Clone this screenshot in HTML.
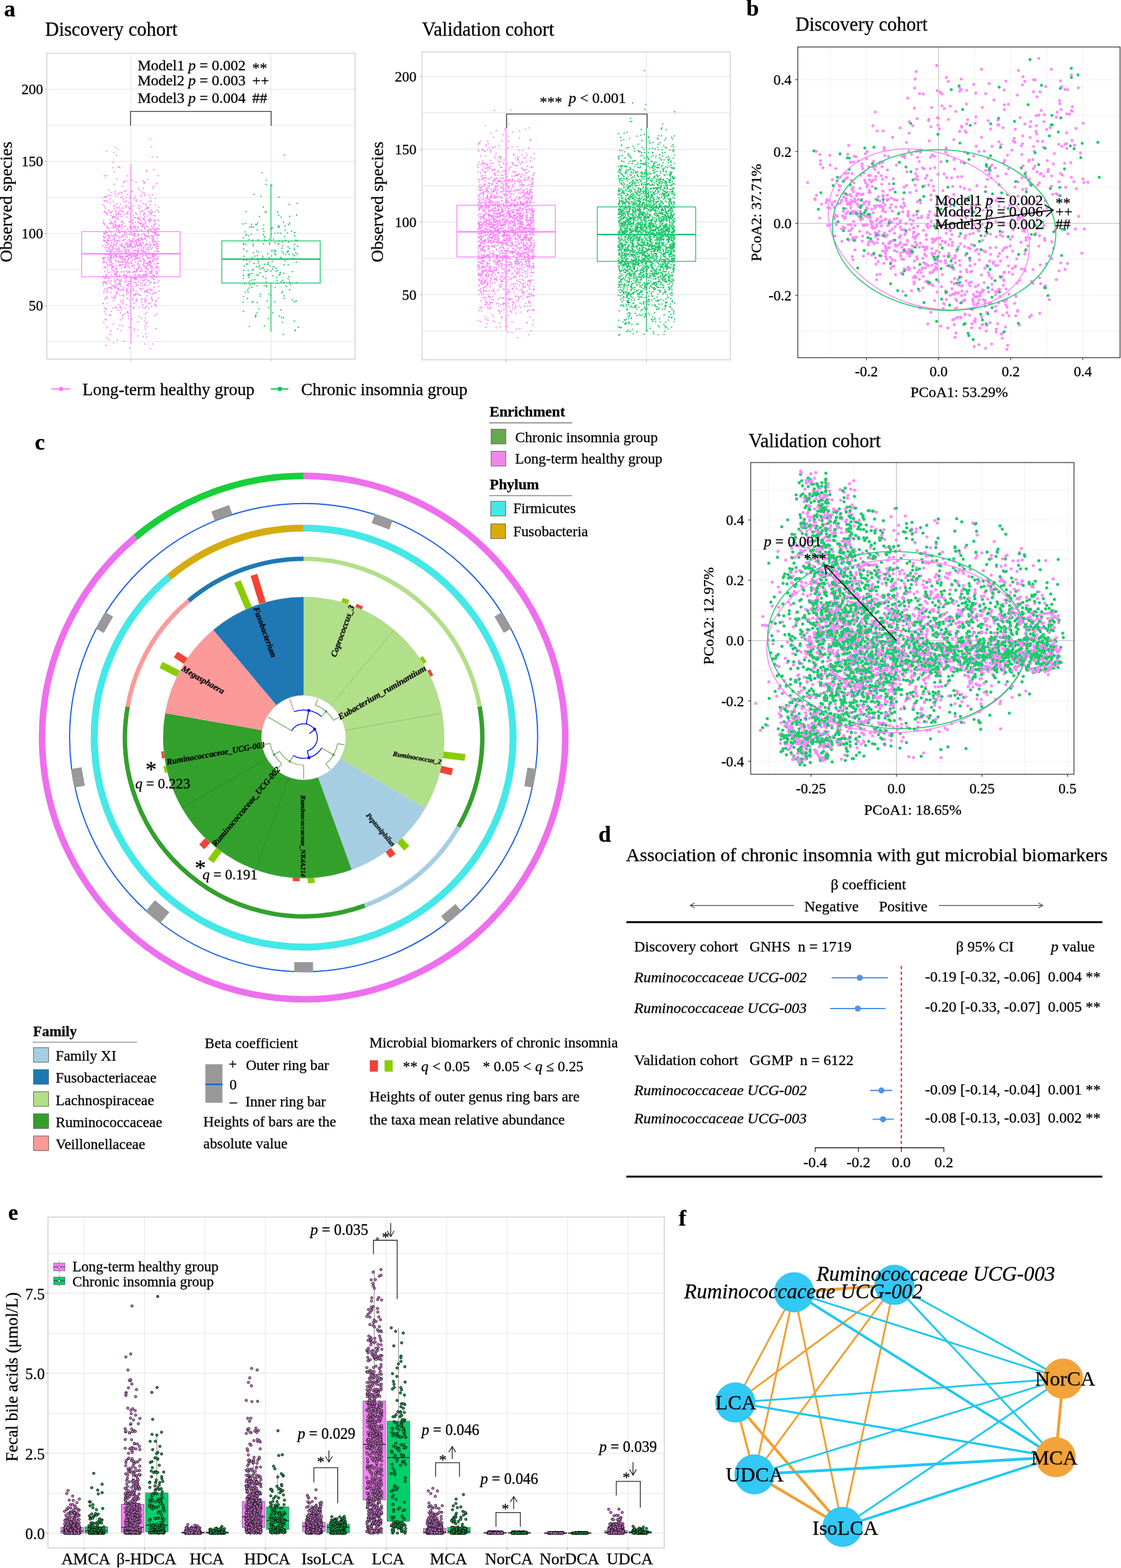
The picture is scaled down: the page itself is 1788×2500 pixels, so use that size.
<!DOCTYPE html><html><head><meta charset="utf-8"><title>Figure</title><style>html,body{margin:0;padding:0;background:#fff}svg{display:block}text{stroke:#000;stroke-width:0.3px;stroke-linejoin:round;font-family:'Liberation Serif', 'Times New Roman', serif}</style></head><body>
<svg width="1788" height="2500" viewBox="0 0 1788 2500">
<rect width="1788" height="2500" fill="#fff"/>
<text x="6.5" y="26.3" font-size="36" font-weight="bold">a</text>
<text x="72" y="57.3" font-size="30.5">Discovery cohort</text>
<line x1="74.7" y1="544.8" x2="566.4" y2="544.8" stroke="#E3E3E3" stroke-width="1.1"/>
<line x1="74.7" y1="487.3" x2="566.4" y2="487.3" stroke="#E3E3E3" stroke-width="1.1"/>
<line x1="74.7" y1="429.8" x2="566.4" y2="429.8" stroke="#E3E3E3" stroke-width="1.1"/>
<line x1="74.7" y1="372.3" x2="566.4" y2="372.3" stroke="#E3E3E3" stroke-width="1.1"/>
<line x1="74.7" y1="314.8" x2="566.4" y2="314.8" stroke="#E3E3E3" stroke-width="1.1"/>
<line x1="74.7" y1="257.3" x2="566.4" y2="257.3" stroke="#E3E3E3" stroke-width="1.1"/>
<line x1="74.7" y1="199.8" x2="566.4" y2="199.8" stroke="#E3E3E3" stroke-width="1.1"/>
<line x1="74.7" y1="142.3" x2="566.4" y2="142.3" stroke="#E3E3E3" stroke-width="1.1"/>
<line x1="208.7" y1="85" x2="208.7" y2="572.6" stroke="#E3E3E3" stroke-width="1.1"/>
<line x1="432.2" y1="85" x2="432.2" y2="572.6" stroke="#E3E3E3" stroke-width="1.1"/>
<rect x="74.7" y="85" width="491.7" height="487.6" fill="none" stroke="#CCCCCC" stroke-width="1.3"/>
<text x="68.8" y="495.3" font-size="23" text-anchor="end">50</text>
<line x1="71" y1="487.3" x2="74.7" y2="487.3" stroke="#BBBBBB" stroke-width="1.2"/>
<text x="68.8" y="380.3" font-size="23" text-anchor="end">100</text>
<line x1="71" y1="372.3" x2="74.7" y2="372.3" stroke="#BBBBBB" stroke-width="1.2"/>
<text x="68.8" y="265.3" font-size="23" text-anchor="end">150</text>
<line x1="71" y1="257.3" x2="74.7" y2="257.3" stroke="#BBBBBB" stroke-width="1.2"/>
<text x="68.8" y="150.3" font-size="23" text-anchor="end">200</text>
<line x1="71" y1="142.3" x2="74.7" y2="142.3" stroke="#BBBBBB" stroke-width="1.2"/>
<line x1="208.7" y1="572.6" x2="208.7" y2="576.3" stroke="#BBBBBB" stroke-width="1.2"/>
<line x1="432.2" y1="572.6" x2="432.2" y2="576.3" stroke="#BBBBBB" stroke-width="1.2"/>
<text x="19" y="322" font-size="27.6" text-anchor="middle" transform="rotate(-90 19 322)">Observed species</text>
<line x1="208.7" y1="261" x2="208.7" y2="369.3" stroke="#FF80FF" stroke-width="1.3"/>
<line x1="208.7" y1="441.4" x2="208.7" y2="548.5" stroke="#FF80FF" stroke-width="1.3"/>
<rect x="130.2" y="369.3" width="157" height="72.1" fill="#fff" stroke="#FF80FF" stroke-width="1.3"/>
<line x1="130.2" y1="404.6" x2="287.2" y2="404.6" stroke="#FF80FF" stroke-width="2.2"/>
<line x1="432.2" y1="293.6" x2="432.2" y2="384.1" stroke="#16C666" stroke-width="1.3"/>
<line x1="432.2" y1="451.3" x2="432.2" y2="528.9" stroke="#16C666" stroke-width="1.3"/>
<rect x="353.7" y="384.1" width="157" height="67.2" fill="#fff" stroke="#16C666" stroke-width="1.3"/>
<line x1="353.7" y1="413.2" x2="510.7" y2="413.2" stroke="#16C666" stroke-width="2.2"/>
<path d="M250.4 479.8h0M223.6 337.6h0M251.5 450.6h0M189.3 418.2h0M227.2 408.5h0M213.1 443.7h0M183.8 476.9h0M176.8 370.2h0M221.2 385.4h0M205.2 507.8h0M203.1 280.3h0M195.8 353.3h0M182.7 444.7h0M248.3 356.8h0M217.4 429.2h0M175.1 407.7h0M207.3 362.8h0M191.3 471.0h0M198.7 374.0h0M236.0 330.5h0M251.2 334.6h0M210.1 420.4h0M179.2 356.7h0M231.9 490.3h0M165.7 412.9h0M220.8 380.7h0M203.5 475.6h0M193.7 408.8h0M168.1 313.3h0M188.8 266.0h0M170.8 363.4h0M233.9 360.7h0M192.2 455.2h0M244.0 468.5h0M230.7 479.2h0M233.5 375.9h0M253.1 364.7h0M252.5 439.3h0M221.5 469.5h0M209.0 390.9h0M206.6 387.9h0M218.4 411.4h0M204.2 337.3h0M186.5 409.4h0M202.1 408.0h0M241.1 463.1h0M179.3 397.3h0M168.3 333.2h0M252.3 401.3h0M229.5 400.7h0M219.8 381.6h0M193.6 389.8h0M194.6 376.4h0M196.0 376.1h0M165.3 371.8h0M224.6 446.6h0M185.9 388.6h0M241.7 489.3h0M250.7 390.4h0M214.3 471.2h0M190.3 408.3h0M225.3 379.4h0M178.8 426.4h0M233.4 399.3h0M231.6 491.3h0M241.3 449.8h0M169.1 368.1h0M207.6 465.6h0M243.1 370.1h0M206.4 477.9h0M207.7 452.5h0M197.2 462.4h0M242.8 404.1h0M231.1 376.2h0M212.1 460.9h0M184.5 414.1h0M217.9 318.7h0M190.9 421.3h0M177.4 447.7h0M173.4 384.0h0M243.7 416.3h0M212.0 441.6h0M204.6 499.5h0M241.8 361.2h0M242.4 434.7h0M225.4 404.5h0M167.1 460.8h0M227.7 335.6h0M252.0 364.9h0M194.2 352.6h0M175.1 410.3h0M245.2 379.7h0M194.8 357.4h0M210.8 350.4h0M171.7 388.0h0M233.8 407.8h0M199.3 423.5h0M200.8 444.1h0M192.1 455.6h0M246.1 385.5h0M237.9 417.4h0M192.1 510.1h0M195.0 412.7h0M229.4 348.2h0M239.5 419.1h0M176.2 502.5h0M163.7 411.1h0M215.5 363.0h0M240.1 393.8h0M253.1 427.1h0M193.0 306.7h0M201.2 304.0h0M209.4 409.7h0M245.3 361.5h0M216.1 383.7h0M185.2 363.2h0M182.8 327.6h0M184.4 361.1h0M220.4 399.9h0M227.5 439.1h0M229.5 447.4h0M214.8 405.9h0M185.6 343.2h0M250.2 388.6h0M187.5 401.7h0M191.5 390.9h0M232.9 402.6h0M170.8 375.6h0M208.3 463.9h0M210.0 509.0h0M250.1 427.0h0M172.0 465.3h0M215.4 319.1h0M251.6 412.9h0M194.9 417.9h0M227.6 485.9h0M251.9 389.6h0M230.5 437.5h0M180.1 345.2h0M185.8 360.0h0M215.3 445.5h0M165.1 382.8h0M244.0 548.5h0M202.2 440.1h0M239.9 338.6h0M171.9 362.7h0M236.1 395.2h0M207.0 406.0h0M180.7 479.6h0M225.7 476.4h0M209.4 392.7h0M223.8 311.3h0M195.9 519.3h0M201.6 371.3h0M228.9 372.7h0M216.3 354.2h0M190.5 450.5h0M223.4 432.5h0M220.7 402.1h0M177.4 458.9h0M216.0 469.5h0M163.9 451.2h0M247.3 408.3h0M234.2 384.7h0M218.0 405.8h0M247.3 400.4h0M178.7 440.7h0M231.6 442.6h0M193.3 345.2h0M209.8 407.4h0M243.9 408.9h0M182.3 355.0h0M189.6 339.0h0M195.9 337.2h0M223.2 383.0h0M207.4 407.2h0M224.2 389.2h0M198.6 395.0h0M252.8 330.6h0M173.0 389.1h0M208.6 370.7h0M169.5 406.0h0M207.5 332.0h0M220.1 513.1h0M189.2 384.4h0M187.3 364.5h0M170.1 465.8h0M231.1 290.7h0M220.3 412.4h0M195.0 413.0h0M170.8 461.6h0M245.8 358.1h0M207.0 392.6h0M239.2 435.8h0M232.0 392.5h0M236.2 368.2h0M187.8 340.2h0M225.5 393.1h0M234.4 455.5h0M207.3 433.9h0M219.8 526.1h0M215.2 443.2h0M193.6 365.5h0M226.5 379.9h0M171.5 410.2h0M222.2 422.6h0M196.8 320.7h0M200.5 389.6h0M212.1 356.4h0M178.7 383.6h0M169.5 439.9h0M199.6 322.2h0M213.4 470.0h0M219.0 467.8h0M240.9 427.2h0M171.3 443.1h0M182.4 434.0h0M185.4 436.2h0M246.0 352.3h0M188.1 401.6h0M212.9 385.9h0M207.5 488.5h0M198.3 449.3h0M214.4 347.1h0M239.1 468.2h0M189.2 342.2h0M186.4 459.0h0M234.3 388.7h0M190.7 449.3h0M205.0 394.1h0M192.0 452.1h0M199.5 418.1h0M240.0 316.0h0M229.3 424.4h0M195.4 296.8h0M178.1 428.8h0M248.8 466.7h0M176.2 400.5h0M223.6 426.1h0M237.8 311.6h0M194.3 359.0h0M217.5 342.0h0M249.1 371.1h0M233.5 273.8h0M194.6 362.5h0M250.7 376.4h0M193.3 448.4h0M170.3 452.6h0M211.1 394.8h0M230.2 351.7h0M181.4 345.4h0M164.8 454.4h0M245.0 376.4h0M236.2 394.3h0M231.3 463.7h0M235.7 377.4h0M187.7 524.6h0M231.9 390.6h0M182.3 273.8h0M173.0 458.5h0M177.2 403.5h0M222.6 504.7h0M245.0 444.4h0M244.5 364.5h0M202.4 459.6h0M173.7 406.3h0M203.9 423.3h0M190.9 424.5h0M179.7 394.4h0M242.8 378.9h0M169.6 339.4h0M188.5 360.4h0M172.7 434.4h0M166.7 329.7h0M167.0 338.5h0M248.0 487.0h0M205.2 369.3h0M189.0 360.8h0M238.2 353.4h0M240.6 375.6h0M170.3 473.1h0M175.5 418.7h0M235.0 514.0h0M228.6 412.9h0M245.2 297.2h0M235.4 368.4h0M225.9 360.3h0M182.7 431.7h0M175.6 458.2h0M189.3 461.1h0M169.3 397.9h0M191.3 447.0h0M182.5 438.2h0M247.4 344.0h0M180.2 491.3h0M241.8 474.0h0M242.5 431.5h0M234.6 409.8h0M235.6 411.4h0M212.0 478.4h0M229.2 394.2h0M178.3 411.3h0M169.6 385.7h0M201.9 461.8h0M245.7 391.5h0M208.3 392.8h0M202.2 439.4h0M224.2 416.1h0M233.3 433.9h0M191.3 332.7h0M196.0 481.1h0M189.0 494.7h0M240.7 424.5h0M207.4 440.4h0M165.7 426.3h0M225.4 366.5h0M198.3 490.9h0M184.1 449.2h0M243.4 416.3h0M185.9 468.1h0M252.2 384.9h0M224.1 387.0h0M242.8 442.1h0M234.1 498.2h0M166.9 319.8h0M251.4 379.6h0M206.5 382.1h0M171.8 400.7h0M184.8 404.9h0M185.4 360.5h0M197.5 405.3h0M233.4 437.9h0M246.7 367.0h0M200.4 401.3h0M193.4 445.4h0M185.0 452.4h0M228.9 342.8h0M188.8 371.1h0M229.1 300.0h0M224.8 432.4h0M213.8 443.8h0M197.6 383.1h0M187.9 331.5h0M206.0 372.9h0M199.8 381.6h0M211.1 304.7h0M242.1 443.8h0M208.3 470.5h0M168.3 443.9h0M201.6 421.3h0M210.8 384.7h0M245.8 350.4h0M222.3 383.0h0M209.0 323.9h0M208.1 448.3h0M173.4 303.7h0M172.8 447.5h0M240.8 342.6h0M203.6 454.1h0M186.9 386.3h0M230.4 401.8h0M200.1 377.1h0M187.5 364.7h0M224.1 415.8h0M183.5 408.0h0M226.1 391.9h0M182.4 473.5h0M217.2 443.2h0M227.8 490.4h0M202.1 404.2h0M210.5 286.9h0M248.8 365.3h0M201.3 450.3h0M214.8 441.9h0M247.3 352.9h0M171.7 429.6h0M192.4 489.6h0M177.6 458.6h0M224.4 460.3h0M182.3 458.5h0M213.8 368.7h0M227.7 400.8h0M239.3 483.2h0M214.1 433.1h0M216.9 464.7h0M187.5 468.4h0M195.9 484.2h0M184.8 312.1h0M201.5 420.8h0M209.3 374.0h0M190.9 358.5h0M204.0 424.8h0M165.6 376.2h0M174.8 375.9h0M214.9 392.7h0M198.6 289.7h0M207.6 389.5h0M221.4 416.6h0M210.2 370.3h0M203.1 310.4h0M165.4 351.9h0M236.9 429.8h0M213.0 449.9h0M177.6 453.7h0M185.9 439.5h0M248.3 384.1h0M228.2 359.7h0M232.0 524.6h0M206.5 405.5h0M192.6 463.0h0M218.4 368.4h0M174.8 356.1h0M245.5 445.7h0M233.6 428.3h0M202.1 454.8h0M215.2 383.8h0M191.2 489.7h0M253.4 464.0h0M201.5 440.7h0M216.8 339.6h0M208.2 277.4h0M193.5 403.4h0M217.0 469.7h0M170.1 400.6h0M232.9 450.5h0M172.2 380.2h0M203.0 463.4h0M251.3 424.0h0M216.0 405.2h0M242.6 377.0h0M178.0 408.6h0M167.6 337.5h0M237.6 397.9h0M249.6 500.5h0M222.3 355.6h0M229.6 419.9h0M229.6 439.9h0M228.4 324.7h0M211.0 457.1h0M194.8 400.7h0M201.3 442.2h0M235.7 333.0h0M229.5 423.8h0M163.9 392.0h0M196.1 478.2h0M199.3 328.6h0M196.1 461.1h0M175.9 356.3h0M188.2 345.6h0M216.3 339.3h0M183.3 308.5h0M177.1 466.4h0M173.7 383.2h0M241.4 397.2h0M218.6 382.3h0M202.4 346.4h0M198.7 398.7h0M228.4 447.7h0M181.9 409.6h0M205.2 323.1h0M204.9 466.9h0M188.1 400.3h0M184.7 456.4h0M230.1 345.8h0M236.6 491.7h0M238.4 422.5h0M176.2 411.1h0M203.2 398.3h0M169.4 279.6h0M172.0 322.2h0M183.4 459.0h0M217.1 290.3h0M165.3 467.6h0M247.4 503.5h0M171.1 483.8h0M248.6 393.7h0M219.1 376.2h0M170.7 521.5h0M231.6 381.4h0M196.7 418.6h0M235.4 367.1h0M221.2 424.8h0M212.5 356.9h0M215.4 374.6h0M247.8 466.5h0M221.5 328.0h0M212.4 393.3h0M251.6 365.9h0M252.9 337.8h0M181.6 456.1h0M215.2 409.0h0M253.4 448.0h0M230.1 454.4h0M177.1 390.4h0M217.6 386.5h0M231.8 334.1h0M236.7 331.2h0M167.0 405.6h0M166.2 448.8h0M184.1 235.2h0M197.3 290.9h0M195.1 410.1h0M231.1 453.7h0M199.6 426.9h0M214.9 389.6h0M233.7 344.6h0M220.3 353.2h0M242.4 381.5h0M208.7 417.6h0M210.4 395.6h0M246.4 420.9h0M184.8 400.7h0M186.2 410.0h0M185.8 376.7h0M195.5 504.1h0M194.0 422.8h0M251.9 419.9h0M166.0 464.3h0M197.4 413.6h0M188.7 460.2h0M224.2 439.7h0M220.0 419.8h0M167.2 417.9h0M251.0 434.9h0M183.1 346.1h0M198.5 393.9h0M217.6 387.4h0M196.1 392.2h0M199.3 439.8h0M247.1 451.2h0M214.5 360.1h0M235.8 423.2h0M203.0 498.2h0M231.2 520.8h0M203.3 392.8h0M227.3 443.5h0M232.1 408.1h0M232.1 433.4h0M198.5 426.1h0M215.3 413.6h0M195.7 470.5h0M244.0 405.5h0M253.2 352.3h0M189.6 367.7h0M177.9 496.5h0M180.8 475.5h0M211.5 475.0h0M202.5 417.6h0M180.2 359.3h0M208.7 387.4h0M166.8 497.3h0M204.2 401.6h0M235.8 361.8h0M246.8 428.3h0M223.4 303.8h0M244.7 439.0h0M170.6 342.5h0M166.5 280.1h0M197.3 472.0h0M222.3 421.6h0M197.6 374.1h0M241.9 234.6h0M191.7 499.1h0M214.5 374.6h0M233.9 389.4h0M178.6 426.8h0M204.7 448.7h0M231.2 432.3h0M250.7 420.5h0M234.1 471.7h0M238.3 321.2h0M213.2 463.1h0M249.3 427.1h0M232.2 439.5h0M169.2 426.4h0M215.3 399.6h0M200.8 444.6h0M189.0 417.0h0M194.9 313.3h0M219.2 348.6h0M232.7 419.7h0M166.0 356.5h0M186.7 445.2h0M185.4 392.5h0M192.4 480.1h0M233.2 465.0h0M165.1 450.3h0M177.7 339.0h0M220.5 392.3h0M181.8 375.5h0M251.5 396.5h0M183.2 385.1h0M244.6 382.3h0M181.8 364.0h0M181.3 396.0h0M204.8 453.0h0M189.3 446.3h0M241.3 340.3h0M224.6 329.8h0M178.2 374.9h0M213.8 491.5h0M218.6 321.2h0M223.2 387.4h0M181.8 408.4h0M211.1 403.5h0M179.0 424.2h0M230.7 311.5h0M207.1 315.5h0M178.4 460.8h0M171.2 414.5h0M228.3 388.4h0M247.9 337.0h0M175.9 533.0h0M221.3 355.3h0M247.9 316.3h0M227.8 422.2h0M178.7 407.2h0M238.8 338.7h0M217.5 385.1h0M203.0 475.7h0M245.3 467.0h0M188.4 459.8h0M248.1 480.3h0M212.9 405.6h0M249.1 432.8h0M215.3 403.1h0M226.2 367.9h0M173.8 310.6h0M212.3 393.8h0M204.5 504.0h0M220.1 331.6h0M181.1 411.6h0M244.8 343.6h0M219.8 429.2h0M201.0 389.2h0M192.8 412.5h0M186.4 406.7h0M252.7 337.7h0M245.2 440.1h0M241.3 396.7h0M199.6 393.7h0M240.7 426.0h0M206.1 522.0h0M238.6 386.9h0M240.0 555.8h0M246.9 485.1h0M185.1 429.8h0M171.1 382.7h0M227.6 359.7h0M184.1 361.5h0M246.5 373.8h0M229.5 424.7h0M185.1 341.0h0M234.8 419.5h0M208.5 345.9h0M214.1 523.8h0M217.2 455.9h0M250.8 435.9h0M217.3 405.5h0M233.1 532.1h0M209.3 362.2h0M207.5 352.9h0M178.6 363.6h0M225.1 432.7h0M213.1 328.2h0M238.5 434.3h0M225.7 357.2h0M214.4 408.4h0M248.6 406.3h0M229.5 413.5h0M245.3 406.4h0M219.9 346.4h0M181.9 329.0h0M190.3 329.7h0M223.7 357.2h0M247.0 369.9h0M227.5 381.4h0M216.3 312.1h0M220.1 428.7h0M191.0 438.8h0M175.5 402.8h0M169.5 493.6h0M229.8 417.9h0M211.8 408.4h0M228.2 459.7h0M241.6 435.9h0M174.8 368.5h0M191.8 417.5h0M178.5 401.3h0M239.1 350.6h0M215.0 437.8h0M186.1 465.9h0M204.7 407.5h0M227.3 382.8h0M168.9 501.3h0M209.0 370.5h0M236.3 421.9h0M243.4 427.2h0M216.8 450.9h0M210.8 415.1h0M183.9 354.2h0M165.4 377.3h0M190.1 362.3h0M173.0 424.5h0M241.0 320.8h0M165.9 337.5h0M237.9 406.1h0M197.6 544.1h0M204.9 401.8h0M180.4 259.1h0M217.4 407.9h0M175.3 459.0h0M201.3 314.6h0M229.3 437.5h0M167.3 378.7h0M208.8 364.3h0M164.1 482.8h0M185.5 398.1h0M203.9 341.6h0M171.1 422.1h0M236.4 370.2h0M219.3 405.9h0M239.8 350.3h0M227.0 306.7h0M189.2 462.9h0M252.5 419.9h0M185.5 383.8h0M177.6 438.1h0M184.1 448.4h0M190.8 423.0h0M241.2 418.9h0M234.2 439.3h0M202.1 387.2h0M216.4 361.8h0M203.8 365.1h0M216.0 368.6h0M208.8 341.4h0M218.2 476.8h0M218.5 410.7h0M189.7 394.5h0M195.8 376.7h0M184.0 490.0h0M198.1 305.0h0M227.0 451.6h0M236.0 390.5h0M219.5 365.5h0M185.4 347.0h0M173.6 440.8h0M238.9 433.2h0M208.4 384.9h0M231.0 373.4h0M224.4 356.2h0M191.4 407.5h0M220.2 441.2h0M168.2 475.1h0M176.4 312.1h0M167.7 477.2h0M198.7 367.4h0M181.9 389.7h0M243.1 364.1h0M177.6 353.9h0M182.0 332.9h0M177.9 407.5h0M207.8 383.3h0M226.1 507.7h0M219.0 401.9h0M205.3 452.3h0M238.4 412.4h0M176.0 338.8h0M226.3 398.6h0M223.3 346.6h0M174.3 414.9h0M176.2 383.1h0M167.7 426.1h0M170.8 538.9h0M249.7 442.0h0M204.3 418.3h0M184.1 395.9h0M173.1 404.1h0M192.2 410.9h0M184.1 354.0h0M198.8 371.1h0M180.4 425.2h0M184.4 358.0h0M167.9 509.2h0M209.3 419.1h0M205.2 411.9h0M211.0 335.2h0M242.0 432.5h0M225.4 481.9h0M169.8 394.7h0M166.5 314.4h0M199.7 415.1h0M201.2 409.2h0M249.0 414.8h0M201.6 401.2h0M241.7 335.0h0M243.7 300.0h0M238.5 378.9h0M209.7 409.4h0M208.8 305.8h0M236.3 398.6h0M251.0 400.3h0M192.8 422.7h0M206.1 420.4h0M219.5 391.0h0M201.4 418.9h0M180.4 381.6h0M175.5 398.8h0M201.9 374.3h0M210.6 423.9h0M243.9 414.2h0M184.3 390.8h0M219.7 400.0h0M178.3 398.4h0M223.5 341.8h0M239.7 460.4h0M231.9 506.3h0M211.8 365.3h0M237.7 416.4h0M236.2 332.3h0M215.2 408.2h0M230.6 465.5h0M202.2 287.6h0M243.7 382.5h0M221.1 427.6h0M217.1 443.4h0M225.8 374.0h0M191.4 439.5h0M220.6 383.1h0M191.8 342.1h0M242.6 477.2h0M174.1 422.6h0M203.0 378.4h0M214.1 315.9h0M226.2 354.6h0M185.9 427.9h0M164.2 326.5h0M239.9 422.8h0M163.8 412.4h0M187.5 383.9h0M224.6 461.8h0M169.8 241.3h0M170.5 340.6h0M219.5 392.3h0M211.3 434.0h0M170.5 465.3h0M171.9 384.3h0M185.3 367.2h0M167.6 425.1h0M199.2 414.3h0M221.5 374.5h0M244.9 407.2h0M196.2 502.2h0M240.2 368.8h0M169.2 391.2h0M239.8 365.5h0M166.5 444.0h0M232.8 516.5h0M222.4 470.1h0M181.8 388.4h0M182.1 294.2h0M251.8 279.7h0M209.0 388.1h0M231.2 481.3h0M176.2 422.0h0M213.5 380.5h0M212.0 381.1h0M175.5 399.2h0M206.1 333.4h0M224.2 451.8h0M191.0 518.8h0M246.8 450.6h0M234.6 465.7h0M235.8 286.1h0M176.6 414.1h0M217.2 479.8h0M214.5 371.6h0M223.6 351.0h0M252.9 401.4h0M198.6 394.1h0M188.8 350.1h0M190.1 377.0h0M164.0 441.3h0M214.4 373.1h0M164.6 355.1h0M213.7 386.2h0M183.4 358.1h0M248.6 373.3h0M239.8 416.8h0M241.9 412.1h0M166.8 371.8h0M216.9 433.6h0M212.5 343.4h0M207.8 339.9h0M230.3 511.8h0M201.1 408.0h0M244.7 444.1h0M198.3 437.9h0M187.5 396.7h0M175.8 413.3h0M211.6 374.5h0M178.1 387.4h0M247.7 384.8h0M214.9 445.8h0M213.9 422.8h0M233.1 327.2h0M219.8 535.6h0M169.8 313.5h0M214.0 434.1h0M230.1 342.0h0M173.3 541.7h0M233.1 426.6h0M188.6 359.5h0M249.9 396.5h0M175.8 350.7h0M167.0 450.7h0M186.1 434.0h0M216.5 439.0h0M175.5 377.6h0M189.5 380.0h0M206.5 410.9h0M237.3 418.4h0M237.9 419.9h0M250.6 399.8h0M226.4 454.6h0M210.3 407.5h0M199.0 412.0h0M197.3 433.0h0M173.2 434.6h0M239.9 326.3h0M183.4 436.9h0M218.3 382.6h0M195.5 332.1h0M231.7 365.3h0M207.8 403.4h0M241.3 350.8h0M233.7 479.9h0M215.0 469.6h0M231.8 425.4h0M196.4 416.1h0M192.4 409.5h0M183.7 305.0h0M192.5 315.2h0M248.8 406.5h0M204.1 391.0h0M168.8 452.4h0M194.5 387.6h0M252.5 475.5h0M205.7 330.4h0M217.7 431.9h0M183.5 375.0h0M184.0 473.6h0M234.9 330.9h0M165.7 372.1h0M221.1 300.8h0M250.9 400.9h0M212.5 490.2h0M186.8 446.0h0M223.5 470.9h0M169.4 321.0h0M170.0 437.5h0M210.3 444.3h0M184.1 373.0h0M217.4 390.4h0M165.6 378.4h0M179.9 431.0h0M169.4 510.2h0M231.0 476.4h0M235.2 520.6h0M226.0 336.7h0M231.6 356.3h0M240.8 424.3h0M170.6 371.5h0M248.8 368.8h0M169.7 370.8h0M214.7 376.3h0M228.8 357.7h0M214.4 400.1h0M208.8 521.9h0M169.1 550.9h0M173.5 337.5h0M214.4 372.8h0M233.8 537.4h0M243.7 395.2h0M238.9 450.9h0M240.9 433.4h0M187.1 542.2h0M171.1 363.6h0M196.6 408.9h0M207.8 361.2h0M183.1 346.8h0M185.4 336.2h0M196.8 317.1h0M245.4 389.0h0M215.6 392.9h0M184.9 438.2h0M244.0 376.4h0M194.3 417.0h0M201.8 466.7h0M230.5 340.8h0M241.5 366.5h0M181.3 546.6h0M175.0 503.2h0M229.7 416.0h0M171.3 475.5h0M202.6 339.1h0M203.4 394.5h0M206.9 373.8h0M238.5 354.2h0M222.5 332.8h0M177.9 418.5h0M245.2 370.6h0M224.9 390.3h0M219.4 361.2h0M248.6 374.1h0M201.9 327.9h0M184.8 375.0h0M225.1 429.1h0M189.3 397.2h0M202.0 464.0h0M250.0 386.6h0M175.8 323.1h0M248.7 435.8h0M186.0 491.5h0M207.6 407.8h0M171.7 430.5h0M226.2 403.6h0M203.4 435.1h0M212.7 399.4h0M196.2 457.8h0M180.8 320.9h0M203.6 415.6h0M236.9 376.2h0M230.9 363.0h0M235.5 411.7h0M232.0 379.4h0M175.2 416.7h0M214.2 427.3h0M165.5 415.4h0M234.6 377.5h0M183.7 471.0h0M245.5 451.7h0M231.4 446.2h0M176.4 433.6h0M237.8 341.9h0M208.4 405.1h0M251.8 419.7h0M250.4 395.8h0M215.4 347.0h0M208.4 443.2h0M222.4 348.9h0M214.4 527.2h0M216.1 450.4h0M232.4 324.8h0M224.3 320.4h0M250.1 392.7h0M220.8 425.5h0M166.7 359.0h0M234.6 424.5h0M201.7 320.4h0M241.8 339.7h0M212.0 361.7h0M200.9 447.3h0M237.5 350.7h0M199.6 415.6h0M177.7 414.7h0M243.4 424.6h0M185.0 408.4h0M253.6 375.5h0M176.0 357.0h0M166.6 356.8h0M240.1 221.4h0M240.7 419.8h0M188.6 339.9h0M235.2 436.6h0M172.7 411.7h0M203.3 463.1h0M237.5 336.9h0M178.4 387.3h0M173.3 394.1h0M242.9 407.2h0M240.4 351.8h0M194.3 427.3h0M173.7 379.5h0M190.7 266.9h0M219.2 408.2h0M193.4 433.8h0M221.0 454.3h0M246.6 357.2h0M201.2 396.8h0M246.8 440.4h0M233.8 444.6h0M217.2 398.7h0M188.2 453.5h0M228.7 288.8h0M239.8 410.5h0M177.0 409.7h0M223.9 405.1h0M203.5 496.5h0M232.6 477.3h0M170.2 419.5h0M228.9 401.5h0M236.6 466.0h0M188.4 310.0h0M173.1 375.9h0M195.8 331.5h0M243.3 337.9h0M227.8 412.1h0M245.8 270.6h0M179.9 393.6h0M199.4 500.3h0M248.9 524.2h0M174.5 399.9h0M193.4 353.8h0M229.2 396.3h0M189.8 307.9h0M239.9 416.0h0M248.1 370.1h0M170.1 361.0h0M183.3 454.8h0M211.6 383.7h0M230.3 380.7h0M192.1 341.9h0M193.3 335.8h0M180.5 347.8h0M240.5 440.5h0M244.9 361.2h0M176.9 343.3h0M205.3 398.3h0M181.5 360.4h0M190.3 359.4h0M196.9 337.5h0M220.5 396.2h0M172.3 375.0h0M247.2 389.9h0M233.6 396.9h0M167.6 433.0h0M165.1 418.2h0M223.8 460.0h0M216.1 411.0h0M207.8 364.2h0M222.2 367.9h0M230.4 361.1h0M228.7 406.6h0M248.1 327.1h0M200.5 425.0h0M200.6 360.2h0M182.7 378.7h0M165.3 440.3h0M243.6 438.1h0M191.6 361.3h0M200.0 398.8h0M227.7 386.4h0M188.5 238.1h0M191.1 370.8h0M216.1 394.3h0M226.8 361.7h0M227.6 432.4h0M200.7 409.9h0M215.3 377.1h0M166.6 443.8h0M237.3 402.2h0M190.0 410.3h0M167.3 394.8h0M193.6 493.9h0M177.4 306.8h0M183.2 405.1h0M246.9 371.4h0M226.9 455.2h0M202.5 469.5h0M221.0 399.1h0M216.3 417.5h0M188.1 366.1h0M209.5 449.2h0M190.1 452.5h0M165.9 382.8h0M249.8 363.4h0M211.1 351.6h0M182.1 402.0h0M212.3 386.5h0M223.4 442.4h0M185.6 330.8h0M202.2 340.1h0M170.7 341.8h0M188.8 485.3h0M206.0 354.0h0M245.5 439.1h0M252.6 374.5h0M193.2 377.9h0M191.0 336.1h0M166.0 410.7h0M163.7 418.8h0M217.8 454.0h0M242.9 463.4h0M208.2 370.1h0M221.0 448.8h0M203.8 365.5h0M178.7 421.1h0M252.7 431.0h0M251.5 350.4h0M197.1 355.7h0M187.4 453.4h0M222.3 410.1h0M190.8 401.7h0M237.7 366.1h0M186.9 440.2h0M186.4 423.4h0M183.9 407.4h0M174.0 364.9h0M210.5 354.3h0M242.3 430.0h0M193.9 308.9h0M167.8 379.1h0M171.6 443.6h0M213.8 483.5h0M184.7 427.9h0M176.9 527.2h0M175.5 392.0h0M184.2 372.3h0M173.3 334.6h0M250.8 375.4h0M168.7 492.1h0M245.3 416.7h0M231.3 365.0h0M180.7 516.4h0M217.9 445.2h0M194.2 368.9h0M198.9 399.0h0M196.4 508.0h0M231.7 428.6h0M178.8 400.8h0M229.7 292.2h0M182.0 425.1h0M209.1 449.8h0M251.3 388.9h0M209.5 384.2h0M168.4 371.8h0M192.0 325.7h0M215.0 405.3h0M178.4 474.3h0M224.8 399.6h0M230.2 400.9h0M236.3 350.6h0M229.8 357.3h0M168.7 440.5h0M197.7 361.1h0M220.9 348.9h0M237.2 411.6h0M183.8 351.6h0M252.8 392.8h0M222.8 392.2h0M252.0 409.4h0M208.8 359.2h0M242.9 249.8h0M223.2 389.6h0M209.2 463.0h0M223.1 413.8h0M187.4 432.3h0M204.3 384.5h0M243.0 408.9h0M180.2 267.6h0M213.3 362.2h0M173.2 303.3h0M196.8 438.9h0M246.4 412.7h0M250.1 292.9h0M221.7 490.1h0M178.7 394.1h0M208.6 483.4h0M166.2 320.4h0M241.9 476.4h0M216.5 417.7h0M237.5 411.1h0M193.3 490.8h0M234.3 271.2h0M168.0 410.6h0M166.6 314.7h0M222.7 438.5h0M218.0 479.2h0M240.5 390.4h0M222.4 391.8h0M185.9 247.5h0M245.7 457.7h0M237.0 484.5h0M199.4 439.3h0M243.4 386.0h0M237.0 372.2h0M169.0 441.5h0M181.4 420.5h0M219.9 373.2h0M194.0 344.6h0M211.3 433.7h0M196.8 395.3h0M231.2 548.4h0M238.6 453.6h0M223.0 379.7h0M200.2 403.0h0M250.0 412.2h0M175.6 317.2h0M177.6 417.7h0M171.1 460.3h0M238.3 391.3h0M176.6 391.5h0M234.8 463.0h0M228.0 349.4h0M226.1 312.3h0M197.8 433.7h0M193.3 448.7h0M232.3 406.9h0M184.6 336.5h0M202.0 432.3h0M190.0 441.1h0M194.0 433.7h0M240.7 389.7h0M205.9 391.1h0M209.5 411.4h0M229.5 338.8h0M168.6 283.3h0M187.9 433.0h0M239.0 347.3h0M202.6 388.0h0M181.4 243.6h0M169.1 448.9h0M205.6 420.6h0M173.1 396.7h0M226.1 477.8h0M204.5 413.5h0M216.4 364.6h0M243.0 478.9h0M175.3 395.6h0M229.9 307.8h0M205.6 434.0h0M169.4 449.9h0M228.8 536.5h0M194.1 408.2h0M233.9 488.6h0M249.3 372.9h0M165.6 315.3h0M166.7 372.9h0M216.0 444.4h0M219.0 367.8h0M207.2 427.4h0M238.9 462.3h0M226.0 428.9h0M222.0 389.8h0M201.5 421.8h0M232.2 374.6h0M228.4 288.9h0M176.6 370.1h0M181.3 362.5h0M220.7 437.8h0M233.0 332.1h0M243.5 383.9h0M186.3 349.1h0M226.8 443.9h0M201.8 390.3h0M192.5 527.3h0M195.8 421.7h0M235.3 447.5h0M204.5 456.1h0M231.4 311.1h0M165.1 484.2h0M223.4 410.9h0M245.3 410.5h0M253.6 374.9h0M230.1 349.6h0M249.1 488.0h0M214.7 431.8h0M220.1 440.5h0M246.0 366.3h0M232.2 353.7h0M249.5 425.0h0M218.3 432.1h0M252.7 457.0h0M167.2 384.1h0M214.3 315.2h0M195.8 383.5h0M168.5 440.7h0M182.9 447.7h0M219.3 441.3h0M166.6 490.9h0M208.0 311.9h0M191.8 399.8h0M219.1 421.3h0M186.2 285.4h0M181.4 392.0h0M185.8 325.2h0M245.3 389.4h0M179.9 345.5h0M206.0 400.0h0M178.0 423.3h0M225.7 382.1h0M247.5 365.9h0M178.8 346.2h0M193.7 393.2h0M186.0 417.1h0M212.3 423.5h0M169.7 387.6h0M235.2 429.7h0M236.3 421.2h0M221.0 375.3h0M212.0 372.9h0M180.3 377.2h0M197.4 443.5h0M217.3 480.3h0M217.6 389.4h0M190.5 397.9h0M212.8 424.0h0M207.9 393.0h0M253.5 359.0h0M230.3 414.6h0M191.1 382.8h0M179.3 455.7h0M184.1 415.6h0M237.8 448.0h0M247.8 480.6h0M182.6 381.0h0M207.1 554.2h0M175.9 407.4h0M220.4 362.9h0M183.2 383.0h0M201.8 486.1h0M194.8 391.4h0M231.8 501.0h0M175.8 451.0h0M209.8 328.5h0M225.6 395.8h0M198.3 342.0h0M194.4 462.3h0M165.5 514.3h0M173.3 444.0h0M178.7 336.5h0M178.2 355.5h0M216.2 347.7h0M217.9 412.1h0M203.4 409.0h0M199.9 414.9h0M250.6 250.8h0M227.2 399.5h0M243.0 310.7h0M214.1 413.5h0M201.1 331.1h0M235.8 461.4h0M218.5 430.6h0M166.0 385.1h0M251.6 434.2h0M204.7 425.5h0M218.4 412.3h0M205.7 432.4h0" stroke="#FF80FF" stroke-width="2.3" stroke-linecap="round" fill="none"/>
<path d="M455.4 382.9h0M454.5 416.1h0M424.7 287.6h0M424.5 450.0h0M401.8 481.3h0M469.5 389.9h0M446.8 437.7h0M461.9 355.5h0M400.9 413.7h0M413.8 345.2h0M459.7 399.8h0M423.8 443.9h0M426.3 421.1h0M391.3 369.7h0M452.5 435.9h0M450.8 447.0h0M410.8 414.3h0M429.9 389.5h0M444.4 343.5h0M425.0 383.9h0M444.0 362.2h0M393.5 415.0h0M416.3 312.8h0M433.6 295.7h0M444.7 438.4h0M459.5 393.5h0M448.7 411.9h0M443.7 389.6h0M393.3 421.2h0M419.5 441.0h0M432.4 471.0h0M442.8 431.4h0M474.1 405.2h0M452.1 354.1h0M422.4 377.7h0M420.0 427.0h0M395.9 439.3h0M387.8 481.8h0M447.6 372.0h0M457.7 401.8h0M470.0 376.2h0M420.7 368.8h0M388.1 379.3h0M467.4 411.9h0M427.6 421.5h0M425.3 457.2h0M388.7 439.2h0M460.7 386.0h0M424.5 294.3h0M440.2 428.0h0M462.0 396.0h0M453.6 247.4h0M471.7 403.1h0M408.8 425.2h0M469.4 407.7h0M395.3 420.9h0M449.2 505.9h0M454.9 367.4h0M435.0 498.9h0M409.8 438.4h0M432.2 432.2h0M420.4 388.5h0M459.8 422.3h0M401.8 435.8h0M410.2 455.7h0M449.6 400.8h0M421.4 430.3h0M461.9 449.9h0M438.4 481.4h0M401.7 458.0h0M410.9 407.5h0M448.1 493.9h0M388.9 408.7h0M418.8 411.3h0M409.1 358.2h0M473.0 450.7h0M395.7 465.6h0M453.1 421.9h0M398.4 436.6h0M407.8 357.7h0M467.3 405.7h0M402.2 410.8h0M439.1 458.6h0M433.1 399.7h0M440.1 432.3h0M443.0 338.2h0M402.9 383.0h0M448.4 346.4h0M472.5 479.6h0M461.8 462.0h0M388.3 438.9h0M448.2 448.9h0M392.3 337.3h0M434.3 399.6h0M452.7 471.7h0M395.9 431.3h0M461.5 325.9h0M466.5 433.2h0M438.7 387.0h0M407.9 504.1h0M406.4 445.9h0M412.9 425.7h0M402.8 430.7h0M472.6 417.9h0M409.5 400.3h0M444.1 360.2h0M407.4 505.6h0M388.7 414.9h0M411.7 382.4h0M439.6 406.2h0M454.8 360.4h0M430.7 424.4h0M398.5 439.6h0M397.3 459.3h0M438.6 372.2h0M410.3 482.5h0M434.8 439.7h0M405.2 420.2h0M430.1 387.2h0M423.8 432.9h0M391.4 465.6h0M404.1 389.1h0M453.1 476.0h0M424.8 455.3h0M421.7 519.7h0M447.3 410.3h0M411.6 412.4h0M452.0 507.1h0M389.0 431.2h0M403.7 391.9h0M463.3 453.7h0M445.3 504.1h0M436.8 425.3h0M388.8 389.9h0M450.7 514.0h0M421.6 377.8h0M390.2 424.0h0M391.9 374.5h0M388.4 472.8h0M420.1 373.9h0M438.6 404.8h0M429.6 381.4h0M434.2 417.0h0M443.5 371.3h0M414.7 429.1h0M441.0 442.4h0M415.3 472.4h0M410.3 498.9h0M398.2 417.0h0M396.1 437.5h0M435.8 425.8h0M446.6 434.8h0M404.2 403.3h0M427.9 418.2h0M452.9 450.2h0M421.8 382.7h0M445.1 314.5h0M450.7 464.4h0M396.7 442.3h0M474.7 392.5h0M456.5 456.5h0M465.0 368.7h0M399.2 454.0h0M426.2 479.9h0M449.4 466.9h0M410.4 366.4h0M397.7 520.7h0M457.5 412.7h0M470.8 526.5h0M397.4 381.6h0M470.0 398.2h0M445.4 384.7h0M405.5 309.9h0M411.5 420.1h0M460.8 357.9h0M450.9 385.6h0M401.0 362.3h0M442.4 452.1h0M401.3 357.6h0M434.7 429.2h0M424.4 338.5h0M419.3 364.8h0M406.5 408.3h0M436.2 381.3h0M474.3 383.7h0M438.3 398.8h0M417.8 275.3h0M396.8 451.5h0M466.3 478.1h0M394.7 475.9h0M422.0 421.5h0M429.5 411.2h0M393.3 374.3h0M420.6 358.8h0M449.9 395.7h0M393.6 400.5h0M421.5 454.9h0M387.6 357.1h0M423.0 338.1h0M419.1 413.2h0M470.0 371.0h0M388.2 439.0h0M433.0 408.1h0M437.6 401.8h0M434.4 363.5h0M472.3 480.2h0M451.7 403.7h0M445.4 361.9h0M392.3 389.8h0M400.9 373.7h0M451.8 533.2h0M467.0 451.3h0M403.8 429.5h0M442.2 446.9h0M470.9 527.1h0M410.9 355.5h0M388.7 397.0h0M428.2 507.9h0M415.0 434.8h0M419.3 408.6h0M398.3 362.2h0M454.0 377.2h0M395.2 462.4h0M459.7 444.4h0M439.4 400.0h0M403.7 361.8h0M447.3 434.3h0M388.2 443.8h0M472.0 382.8h0M461.2 405.1h0M473.1 343.0h0M388.6 387.9h0M403.4 361.9h0M469.5 512.1h0M403.7 481.6h0M428.5 490.5h0M398.5 448.1h0M469.2 395.8h0M417.5 427.8h0M444.1 388.3h0M390.2 452.6h0M432.9 364.8h0M458.4 371.3h0M408.1 502.5h0M414.9 469.1h0M401.6 446.5h0M432.9 373.6h0M396.2 375.8h0M473.6 324.3h0M412.8 492.3h0M427.0 404.8h0M412.4 416.9h0M427.2 430.4h0M413.8 423.4h0M475.7 522.0h0M412.2 401.8h0M411.9 438.3h0M469.4 481.0h0M462.1 345.0h0M405.8 452.4h0M455.7 405.3h0M402.8 452.6h0M388.3 496.5h0M460.7 440.9h0M459.5 401.3h0M428.6 468.8h0M451.0 391.7h0M419.9 330.2h0M392.2 356.3h0M424.7 432.8h0" stroke="#16C666" stroke-width="2.3" stroke-linecap="round" fill="none"/>
<text x="673.1" y="57.3" font-size="30.5">Validation cohort</text>
<line x1="673.1" y1="527.9" x2="1164.8" y2="527.9" stroke="#E3E3E3" stroke-width="1.1"/>
<line x1="673.1" y1="469.9" x2="1164.8" y2="469.9" stroke="#E3E3E3" stroke-width="1.1"/>
<line x1="673.1" y1="411.9" x2="1164.8" y2="411.9" stroke="#E3E3E3" stroke-width="1.1"/>
<line x1="673.1" y1="353.9" x2="1164.8" y2="353.9" stroke="#E3E3E3" stroke-width="1.1"/>
<line x1="673.1" y1="295.9" x2="1164.8" y2="295.9" stroke="#E3E3E3" stroke-width="1.1"/>
<line x1="673.1" y1="237.9" x2="1164.8" y2="237.9" stroke="#E3E3E3" stroke-width="1.1"/>
<line x1="673.1" y1="179.9" x2="1164.8" y2="179.9" stroke="#E3E3E3" stroke-width="1.1"/>
<line x1="673.1" y1="121.9" x2="1164.8" y2="121.9" stroke="#E3E3E3" stroke-width="1.1"/>
<line x1="807.2" y1="82.8" x2="807.2" y2="573.7" stroke="#E3E3E3" stroke-width="1.1"/>
<line x1="1031.1" y1="82.8" x2="1031.1" y2="573.7" stroke="#E3E3E3" stroke-width="1.1"/>
<rect x="673.1" y="82.8" width="491.7" height="490.9" fill="none" stroke="#CCCCCC" stroke-width="1.3"/>
<text x="664.2" y="477.9" font-size="23" text-anchor="end">50</text>
<line x1="669.4" y1="469.9" x2="673.1" y2="469.9" stroke="#BBBBBB" stroke-width="1.2"/>
<text x="664.2" y="361.9" font-size="23" text-anchor="end">100</text>
<line x1="669.4" y1="353.9" x2="673.1" y2="353.9" stroke="#BBBBBB" stroke-width="1.2"/>
<text x="664.2" y="245.9" font-size="23" text-anchor="end">150</text>
<line x1="669.4" y1="237.9" x2="673.1" y2="237.9" stroke="#BBBBBB" stroke-width="1.2"/>
<text x="664.2" y="129.9" font-size="23" text-anchor="end">200</text>
<line x1="669.4" y1="121.9" x2="673.1" y2="121.9" stroke="#BBBBBB" stroke-width="1.2"/>
<line x1="807.2" y1="573.7" x2="807.2" y2="577.4" stroke="#BBBBBB" stroke-width="1.2"/>
<line x1="1031.1" y1="573.7" x2="1031.1" y2="577.4" stroke="#BBBBBB" stroke-width="1.2"/>
<text x="611" y="322" font-size="27.6" text-anchor="middle" transform="rotate(-90 611 322)">Observed species</text>
<line x1="807.2" y1="204.3" x2="807.2" y2="327.3" stroke="#FF80FF" stroke-width="1.3"/>
<line x1="807.2" y1="409.7" x2="807.2" y2="528.3" stroke="#FF80FF" stroke-width="1.3"/>
<rect x="728.7" y="327.3" width="157" height="82.4" fill="#fff" stroke="#FF80FF" stroke-width="1.3"/>
<line x1="728.7" y1="369.6" x2="885.7" y2="369.6" stroke="#FF80FF" stroke-width="2.2"/>
<line x1="1031.1" y1="204.3" x2="1031.1" y2="329.9" stroke="#16C666" stroke-width="1.3"/>
<line x1="1031.1" y1="416.7" x2="1031.1" y2="529" stroke="#16C666" stroke-width="1.3"/>
<rect x="952.6" y="329.9" width="157" height="86.8" fill="#fff" stroke="#16C666" stroke-width="1.3"/>
<line x1="952.6" y1="373.9" x2="1109.6" y2="373.9" stroke="#16C666" stroke-width="2.2"/>
<path d="M762.4 430.3h0M835.4 363.6h0M805.4 335.3h0M808.3 292.8h0M795.1 366.7h0M773.8 283.4h0M781.7 448.2h0M824.8 381.8h0M765.4 368.7h0M791.4 362.8h0M802.8 376.4h0M846.8 251.6h0M780.3 392.3h0M834.9 304.2h0M813.6 341.0h0M762.7 238.3h0M778.4 381.1h0M841.8 321.8h0M774.3 330.7h0M825.2 340.9h0M778.1 300.7h0M833.5 269.5h0M770.2 432.9h0M848.3 378.2h0M788.5 288.1h0M801.3 436.2h0M770.6 416.0h0M787.7 327.8h0M838.9 321.6h0M821.2 280.3h0M849.8 293.6h0M826.2 351.3h0M792.8 430.5h0M842.7 405.3h0M776.5 364.4h0M788.5 340.4h0M806.0 360.7h0M813.5 313.4h0M803.2 411.4h0M767.3 390.7h0M792.0 445.4h0M843.0 236.5h0M819.6 373.4h0M815.9 301.3h0M831.2 282.9h0M787.3 340.2h0M792.8 374.2h0M845.6 394.1h0M828.7 378.9h0M851.7 471.7h0M809.9 396.3h0M788.6 314.1h0M803.0 344.0h0M836.7 309.7h0M771.0 311.7h0M827.3 317.4h0M783.3 355.0h0M789.1 350.1h0M786.9 303.9h0M795.3 385.3h0M773.5 447.8h0M765.7 309.6h0M798.5 360.3h0M784.6 294.4h0M818.2 403.9h0M767.6 467.3h0M836.1 373.8h0M832.0 403.5h0M815.5 424.1h0M847.6 265.9h0M784.7 345.5h0M790.0 437.6h0M841.2 464.3h0M848.7 369.9h0M775.9 326.4h0M806.4 345.7h0M820.9 289.7h0M812.7 342.8h0M833.2 333.3h0M810.7 483.3h0M806.6 282.3h0M840.4 397.8h0M792.8 304.4h0M850.9 460.9h0M851.0 420.0h0M821.6 288.5h0M778.7 441.0h0M808.1 352.2h0M774.4 387.5h0M798.7 253.0h0M817.0 338.4h0M767.8 281.0h0M839.8 364.6h0M768.8 469.6h0M826.0 234.2h0M836.5 398.6h0M844.4 359.3h0M842.6 364.9h0M810.7 462.0h0M842.5 317.7h0M792.4 387.0h0M781.7 474.1h0M820.1 457.0h0M800.4 507.0h0M841.7 413.3h0M818.2 376.6h0M806.9 424.9h0M836.6 367.3h0M807.9 387.5h0M764.5 333.2h0M821.7 365.8h0M788.5 376.5h0M773.1 417.3h0M797.6 441.2h0M843.8 423.6h0M801.7 342.7h0M829.7 397.1h0M805.6 274.2h0M789.5 315.0h0M823.3 452.7h0M841.7 338.6h0M786.1 288.2h0M844.0 407.8h0M821.2 289.0h0M837.1 413.0h0M814.2 266.6h0M806.4 332.5h0M794.8 381.2h0M823.4 472.4h0M789.9 374.0h0M842.1 414.9h0M819.1 343.8h0M841.5 423.1h0M770.9 337.0h0M822.7 397.4h0M774.0 330.0h0M782.1 315.0h0M842.5 355.8h0M851.8 335.4h0M810.5 297.2h0M791.7 427.1h0M821.3 328.7h0M776.9 351.1h0M841.7 265.0h0M768.1 377.9h0M845.3 304.5h0M782.1 473.9h0M836.8 287.5h0M848.4 339.7h0M791.5 342.0h0M816.1 309.7h0M810.2 446.1h0M842.2 380.7h0M823.1 361.3h0M783.0 386.2h0M809.8 399.4h0M812.8 305.7h0M835.0 364.5h0M774.5 381.8h0M826.9 363.9h0M844.3 283.1h0M774.7 248.8h0M792.5 297.7h0M793.7 334.9h0M771.9 451.4h0M849.0 402.5h0M842.2 425.6h0M816.7 426.5h0M801.9 291.2h0M832.2 405.0h0M836.1 279.7h0M820.4 359.6h0M786.4 375.1h0M814.8 379.6h0M851.0 456.9h0M820.8 392.6h0M848.7 312.9h0M765.9 323.1h0M775.9 356.8h0M831.3 323.5h0M762.9 356.7h0M771.6 341.3h0M802.2 214.7h0M788.4 357.6h0M802.3 475.9h0M823.2 500.0h0M793.4 412.8h0M846.9 353.1h0M824.6 304.2h0M845.2 368.1h0M763.8 358.0h0M778.0 328.3h0M788.7 428.0h0M813.1 369.4h0M771.6 345.3h0M812.2 391.3h0M828.9 418.8h0M800.5 333.0h0M850.6 297.0h0M831.7 361.8h0M841.0 514.5h0M824.9 416.4h0M787.2 393.4h0M830.2 339.4h0M779.4 397.0h0M788.9 394.5h0M785.1 305.7h0M810.9 288.0h0M784.5 362.7h0M763.0 437.2h0M763.9 445.1h0M794.3 327.9h0M762.6 417.6h0M779.5 370.3h0M809.1 380.7h0M846.8 359.6h0M840.6 347.9h0M778.5 434.1h0M849.4 409.9h0M779.5 357.9h0M845.2 367.8h0M763.3 454.9h0M789.2 249.1h0M781.6 457.5h0M777.6 304.1h0M822.0 472.4h0M793.5 309.1h0M781.5 481.7h0M777.2 312.6h0M771.6 359.5h0M841.1 320.2h0M837.6 417.6h0M817.6 354.0h0M847.4 355.2h0M845.0 360.3h0M840.5 405.7h0M793.7 285.1h0M781.6 484.8h0M848.0 467.6h0M832.3 463.2h0M830.4 281.0h0M773.0 426.5h0M830.9 417.0h0M796.5 416.7h0M766.2 390.8h0M793.7 387.2h0M818.0 401.7h0M833.3 466.7h0M807.8 344.6h0M797.0 370.9h0M838.2 275.4h0M821.2 344.5h0M811.6 375.6h0M787.1 461.1h0M851.1 365.2h0M771.7 332.7h0M781.4 265.2h0M798.5 345.3h0M799.4 319.8h0M835.1 332.3h0M846.8 267.2h0M780.4 297.9h0M762.8 366.6h0M845.1 461.2h0M778.0 266.7h0M826.4 364.2h0M797.8 420.3h0M832.2 460.7h0M774.5 481.7h0M773.8 353.4h0M793.6 380.5h0M779.4 350.5h0M772.2 293.1h0M771.3 408.8h0M798.0 351.5h0M837.2 403.6h0M770.5 424.9h0M806.8 511.2h0M799.8 419.6h0M787.4 301.4h0M787.0 402.7h0M787.6 350.9h0M792.1 362.3h0M772.6 241.4h0M789.9 276.9h0M839.3 410.3h0M779.4 396.6h0M777.5 297.0h0M789.0 354.0h0M833.5 362.0h0M806.0 294.3h0M765.6 332.5h0M799.2 358.4h0M815.4 175.8h0M804.3 341.8h0M778.1 452.5h0M845.6 346.5h0M840.6 350.5h0M769.2 260.2h0M832.3 346.4h0M791.8 407.2h0M849.4 343.8h0M814.8 445.0h0M835.7 390.6h0M797.8 345.0h0M762.4 421.9h0M768.0 495.7h0M833.9 434.2h0M826.2 420.0h0M831.3 332.7h0M769.2 399.0h0M790.9 373.9h0M780.3 429.3h0M816.2 365.7h0M801.4 409.9h0M800.4 334.7h0M794.1 355.7h0M801.9 279.5h0M832.7 334.1h0M763.8 391.6h0M846.1 426.3h0M822.1 358.3h0M831.9 325.4h0M843.8 273.7h0M796.3 407.0h0M844.8 455.5h0M836.3 487.9h0M817.6 435.9h0M772.9 385.4h0M822.6 390.9h0M799.7 393.5h0M789.5 376.6h0M827.0 353.2h0M844.6 480.4h0M849.9 371.6h0M812.9 385.3h0M801.5 386.2h0M849.3 402.6h0M817.3 493.3h0M813.7 345.9h0M772.2 405.8h0M803.9 383.3h0M781.6 356.4h0M848.6 373.2h0M820.3 349.8h0M817.0 348.8h0M849.4 434.1h0M767.7 447.8h0M767.1 324.4h0M778.2 424.6h0M827.5 239.7h0M783.8 445.1h0M821.5 365.8h0M820.8 380.4h0M765.0 359.4h0M794.0 435.0h0M821.1 355.7h0M798.9 251.0h0M805.3 410.9h0M797.1 515.1h0M779.6 336.3h0M792.8 350.5h0M802.2 334.6h0M781.7 427.5h0M824.9 350.8h0M829.5 321.1h0M776.9 407.1h0M846.2 373.6h0M802.2 344.4h0M808.3 329.8h0M815.5 391.3h0M795.9 364.3h0M836.0 251.7h0M826.5 249.8h0M805.4 442.4h0M769.1 240.0h0M819.4 400.3h0M786.1 310.0h0M776.5 454.0h0M807.3 389.1h0M794.9 417.6h0M820.5 325.8h0M823.3 364.1h0M831.2 349.7h0M831.0 352.4h0M836.1 364.8h0M781.4 319.8h0M821.8 369.9h0M843.6 382.9h0M825.5 417.4h0M777.3 434.1h0M797.4 411.3h0M821.0 355.0h0M848.1 314.0h0M822.0 385.7h0M826.0 253.2h0M767.8 300.0h0M808.7 375.5h0M849.4 356.0h0M841.0 379.3h0M821.4 492.6h0M819.2 326.9h0M837.4 364.5h0M782.5 482.9h0M763.9 323.1h0M762.5 413.2h0M845.2 393.0h0M817.8 485.6h0M809.1 380.7h0M793.0 351.7h0M826.1 405.1h0M784.5 379.2h0M841.6 497.0h0M786.3 345.9h0M789.3 382.1h0M766.1 381.8h0M851.4 337.2h0M798.8 314.6h0M781.5 384.2h0M847.7 322.7h0M770.6 264.5h0M765.1 447.6h0M803.7 373.8h0M817.3 481.4h0M786.1 358.0h0M847.1 293.9h0M831.5 388.4h0M846.3 451.8h0M832.7 413.8h0M831.1 354.2h0M773.0 474.0h0M809.4 468.5h0M849.6 351.1h0M767.4 465.4h0M794.8 375.6h0M823.9 447.0h0M824.1 480.6h0M842.5 329.3h0M803.3 309.3h0M847.9 429.1h0M784.9 235.0h0M769.6 369.4h0M840.2 346.0h0M805.4 367.4h0M773.6 446.6h0M795.5 313.4h0M790.2 368.9h0M831.8 345.8h0M803.5 368.0h0M763.1 401.9h0M778.7 229.2h0M829.3 349.1h0M800.1 391.1h0M820.4 334.7h0M835.4 452.8h0M806.4 353.4h0M804.9 206.0h0M768.1 418.8h0M789.8 345.2h0M830.2 450.6h0M825.9 374.3h0M840.8 306.0h0M841.6 440.3h0M801.8 435.0h0M834.6 302.9h0M842.8 359.5h0M845.8 334.3h0M847.5 342.6h0M776.0 457.5h0M803.1 484.0h0M794.7 495.3h0M797.2 345.1h0M834.5 466.0h0M781.6 488.6h0M842.9 411.9h0M779.2 386.1h0M798.3 360.2h0M769.1 491.6h0M847.9 293.3h0M839.1 436.7h0M769.5 367.9h0M838.5 380.1h0M767.0 440.0h0M779.1 351.8h0M818.2 355.4h0M799.0 305.4h0M793.9 255.2h0M763.4 241.0h0M800.2 316.0h0M790.7 332.9h0M768.5 398.6h0M849.8 471.0h0M805.6 348.9h0M812.0 412.3h0M783.6 392.6h0M763.0 406.0h0M821.9 348.8h0M844.7 401.1h0M846.6 224.2h0M821.6 319.8h0M836.0 407.3h0M820.9 351.5h0M836.0 285.8h0M789.3 450.5h0M782.4 361.1h0M773.9 408.2h0M817.8 370.6h0M786.9 405.7h0M849.5 362.9h0M850.0 345.2h0M840.1 334.4h0M842.7 468.5h0M779.0 329.2h0M794.9 372.2h0M841.4 414.3h0M767.4 377.6h0M836.8 271.5h0M772.9 383.8h0M805.0 429.1h0M773.8 328.5h0M791.3 386.1h0M823.2 328.3h0M826.5 355.8h0M844.2 285.6h0M811.8 411.1h0M778.4 396.7h0M826.7 302.8h0M825.5 263.7h0M789.4 358.4h0M833.2 294.7h0M850.8 341.5h0M783.6 371.0h0M813.3 477.2h0M769.2 237.6h0M817.2 297.2h0M776.8 516.3h0M806.5 321.2h0M836.9 409.5h0M769.7 436.6h0M791.7 408.2h0M796.5 325.2h0M780.8 375.8h0M809.5 385.7h0M834.3 383.0h0M848.3 396.7h0M848.3 338.6h0M784.8 502.4h0M773.6 457.2h0M809.0 383.2h0M835.2 447.4h0M781.0 362.5h0M767.1 396.7h0M786.5 347.7h0M767.6 383.3h0M779.9 334.2h0M763.8 372.4h0M835.8 325.4h0M802.8 394.0h0M845.9 483.2h0M803.2 370.2h0M787.4 369.2h0M815.2 401.9h0M784.9 306.1h0M829.8 336.3h0M788.5 271.0h0M844.0 392.6h0M763.8 393.5h0M787.6 335.7h0M818.4 273.1h0M766.3 412.0h0M791.5 336.2h0M799.0 369.4h0M852.2 386.5h0M845.6 309.1h0M764.5 311.1h0M785.1 321.5h0M808.5 407.8h0M849.3 366.6h0M830.9 472.8h0M790.2 332.3h0M782.6 448.2h0M806.0 383.3h0M782.8 312.5h0M794.8 381.2h0M812.4 356.4h0M831.2 408.0h0M774.3 200.4h0M838.1 442.6h0M820.7 402.1h0M839.6 373.9h0M811.2 198.1h0M786.5 400.2h0M793.9 360.1h0M813.8 312.4h0M830.5 497.6h0M772.6 305.8h0M835.2 339.1h0M780.8 265.3h0M776.7 263.8h0M766.6 328.6h0M796.8 289.6h0M780.4 400.9h0M808.3 432.1h0M805.7 373.8h0M764.0 346.4h0M763.5 378.4h0M803.4 331.2h0M763.1 317.9h0M832.6 247.2h0M792.5 367.8h0M817.0 387.3h0M821.6 327.2h0M803.9 342.8h0M808.6 319.8h0M766.9 248.5h0M807.2 408.6h0M840.3 309.2h0M785.0 270.1h0M793.1 274.3h0M769.1 449.9h0M808.2 375.7h0M762.8 274.7h0M794.5 355.9h0M838.7 328.1h0M766.1 363.1h0M774.1 274.3h0M810.6 340.8h0M845.5 374.7h0M824.4 350.1h0M776.0 268.2h0M827.5 331.3h0M767.1 460.0h0M812.4 489.5h0M767.6 314.9h0M787.1 465.1h0M808.2 351.3h0M779.2 406.1h0M767.3 347.9h0M763.7 408.5h0M816.8 513.1h0M851.9 275.5h0M816.6 367.1h0M811.3 376.1h0M850.6 266.4h0M830.9 322.0h0M790.6 296.4h0M811.2 379.4h0M774.1 358.4h0M799.8 337.8h0M832.1 404.8h0M791.1 314.6h0M810.1 339.4h0M806.6 386.1h0M785.5 392.3h0M804.1 312.1h0M793.9 377.4h0M764.9 341.4h0M772.7 348.7h0M786.0 379.4h0M767.9 345.0h0M787.5 316.1h0M778.2 407.0h0M797.8 408.8h0M848.5 311.5h0M792.4 442.1h0M773.6 288.8h0M779.9 331.1h0M774.5 279.7h0M795.3 368.6h0M842.6 359.2h0M809.5 348.2h0M762.7 462.6h0M793.9 421.2h0M780.1 296.2h0M806.0 408.5h0M768.2 425.9h0M832.8 345.1h0M789.8 279.5h0M799.1 369.2h0M773.8 382.7h0M818.0 367.4h0M808.1 338.9h0M787.8 464.1h0M850.7 343.0h0M826.1 340.0h0M775.8 299.8h0M802.7 297.6h0M814.1 324.3h0M782.2 238.7h0M848.7 363.7h0M849.2 371.3h0M767.1 262.1h0M778.1 356.5h0M772.9 400.4h0M822.2 398.1h0M852.1 364.7h0M772.6 448.7h0M826.3 301.9h0M832.3 344.7h0M772.0 284.1h0M767.8 428.1h0M790.6 385.8h0M784.3 404.3h0M763.4 330.9h0M830.4 339.8h0M843.8 317.0h0M844.3 320.1h0M784.3 431.7h0M824.1 346.6h0M832.1 358.6h0M830.9 365.3h0M786.3 332.5h0M807.0 482.2h0M843.1 407.5h0M833.3 381.9h0M821.9 417.4h0M765.6 437.4h0M827.5 307.7h0M777.1 311.1h0M816.8 259.6h0M840.2 424.3h0M778.5 510.9h0M801.5 326.1h0M808.2 389.0h0M825.0 435.3h0M848.5 336.6h0M777.0 374.5h0M816.5 477.0h0M846.0 364.6h0M785.2 472.8h0M787.2 337.6h0M800.9 449.0h0M810.2 466.1h0M793.3 327.0h0M828.0 313.3h0M766.5 387.9h0M766.2 443.6h0M800.1 334.8h0M798.5 364.3h0M821.9 357.6h0M819.2 396.7h0M834.8 465.5h0M815.9 402.2h0M802.1 283.9h0M801.4 414.1h0M764.1 379.6h0M780.4 376.2h0M789.2 314.1h0M803.2 355.1h0M773.3 398.8h0M826.5 255.7h0M829.1 361.7h0M795.1 353.4h0M824.9 413.6h0M832.6 466.6h0M834.2 344.5h0M770.5 393.8h0M772.9 352.6h0M850.5 510.4h0M831.9 268.0h0M784.0 369.8h0M796.4 322.2h0M799.5 438.8h0M776.4 365.9h0M839.6 362.4h0M821.4 303.1h0M806.5 323.4h0M816.3 498.4h0M818.8 358.5h0M837.4 363.6h0M811.4 391.6h0M842.2 358.1h0M783.2 335.7h0M792.9 312.1h0M819.9 442.2h0M764.0 424.1h0M829.8 368.8h0M794.2 330.6h0M786.6 431.1h0M772.7 371.1h0M772.6 449.8h0M814.2 369.1h0M808.0 382.4h0M829.6 339.9h0M780.3 285.9h0M833.3 419.3h0M792.4 344.8h0M807.9 468.5h0M810.0 351.8h0M772.2 261.4h0M819.4 466.3h0M801.1 402.7h0M779.1 344.4h0M780.4 235.3h0M818.9 428.3h0M789.7 349.9h0M841.9 284.3h0M814.2 418.0h0M833.9 357.5h0M791.3 417.6h0M804.6 399.6h0M770.5 368.3h0M829.8 315.4h0M787.3 355.3h0M803.7 372.0h0M846.4 380.1h0M775.1 302.2h0M774.0 337.9h0M773.0 343.6h0M791.9 484.3h0M795.3 382.4h0M786.0 435.7h0M785.7 260.2h0M844.4 327.3h0M805.4 278.3h0M821.2 420.4h0M780.4 464.1h0M765.9 418.7h0M805.4 328.7h0M769.8 411.1h0M833.6 323.3h0M770.0 283.6h0M835.3 388.6h0M832.7 306.2h0M787.4 505.1h0M814.8 445.2h0M806.2 405.8h0M827.8 388.8h0M797.9 456.8h0M838.1 390.9h0M790.0 302.6h0M842.0 314.8h0M813.5 340.9h0M768.6 424.7h0M789.2 278.9h0M820.8 326.4h0M791.2 430.4h0M787.3 305.8h0M802.3 388.8h0M848.8 333.0h0M799.4 343.3h0M776.4 330.2h0M801.7 272.9h0M828.6 209.0h0M780.1 341.1h0M797.3 357.7h0M766.5 367.5h0M809.1 336.2h0M762.3 327.2h0M791.5 445.8h0M806.4 357.9h0M828.2 220.2h0M840.3 315.3h0M829.0 295.6h0M815.0 366.3h0M763.8 228.0h0M815.8 326.0h0M847.3 382.5h0M781.1 409.5h0M842.7 333.1h0M837.9 252.0h0M837.3 403.9h0M800.3 424.4h0M778.0 507.9h0M848.0 318.9h0M789.8 431.0h0M786.3 409.9h0M769.8 430.6h0M789.3 419.6h0M828.5 315.9h0M828.6 413.2h0M800.0 354.8h0M849.7 411.0h0M835.1 388.7h0M826.0 324.5h0M774.9 325.0h0M763.5 439.0h0M764.2 364.6h0M762.4 425.3h0M840.3 321.9h0M806.4 405.3h0M851.4 424.8h0M800.4 315.0h0M773.4 402.3h0M794.4 358.9h0M839.0 322.4h0M807.2 400.8h0M815.8 387.3h0M822.0 329.9h0M766.2 225.3h0M778.6 330.3h0M781.6 321.1h0M776.8 365.5h0M768.5 369.9h0M772.2 273.9h0M824.3 413.8h0M768.4 411.4h0M819.3 274.6h0M780.1 416.2h0M829.2 445.8h0M779.1 337.3h0M807.9 304.7h0M845.8 257.1h0M765.1 228.5h0M774.8 508.9h0M847.8 379.6h0M834.4 387.2h0M782.1 343.7h0M780.6 420.5h0M834.0 364.6h0M771.3 349.3h0M814.8 354.6h0M850.5 420.4h0M801.8 351.9h0M791.6 422.0h0M769.5 420.5h0M780.0 383.3h0M780.8 316.8h0M850.2 493.4h0M830.7 370.9h0M822.6 280.0h0M764.8 357.4h0M805.9 400.9h0M787.6 351.2h0M780.4 267.6h0M822.7 377.8h0M765.1 411.7h0M808.5 319.2h0M804.9 384.1h0M801.2 411.7h0M764.4 315.6h0M770.5 420.9h0M778.2 387.0h0M838.2 283.7h0M810.4 358.3h0M813.9 287.7h0M843.6 480.7h0M829.4 463.2h0M808.9 417.7h0M815.2 376.7h0M777.6 489.4h0M812.6 354.8h0M827.2 403.2h0M812.4 401.7h0M817.8 367.0h0M769.2 385.1h0M770.6 445.2h0M845.2 383.9h0M798.0 444.9h0M812.2 286.0h0M851.6 398.5h0M801.2 386.0h0M824.3 411.1h0M811.0 367.7h0M791.5 354.8h0M765.0 377.8h0M763.6 435.6h0M812.5 299.0h0M812.6 371.1h0M837.7 488.2h0M786.4 511.6h0M778.5 441.0h0M813.9 444.0h0M775.7 475.3h0M811.4 431.4h0M765.9 349.6h0M812.5 291.4h0M764.8 356.1h0M801.2 349.0h0M790.0 298.0h0M775.0 232.3h0M831.9 297.8h0M788.0 332.1h0M846.7 378.7h0M834.2 433.8h0M848.6 343.3h0M817.8 294.6h0M845.6 350.5h0M781.9 404.4h0M795.6 333.1h0M795.1 375.6h0M768.3 408.0h0M764.0 495.3h0M840.0 336.0h0M848.5 412.1h0M768.6 296.9h0M763.4 410.3h0M763.2 364.9h0M767.9 405.8h0M828.3 258.7h0M798.1 284.1h0M793.2 370.6h0M799.5 279.4h0M844.9 448.7h0M812.5 328.5h0M833.0 404.8h0M830.4 378.4h0M772.7 398.7h0M829.2 331.9h0M794.6 482.8h0M843.5 398.8h0M784.0 282.6h0M789.2 513.1h0M830.4 382.8h0M800.0 454.0h0M825.6 538.5h0M831.2 344.1h0M849.7 399.9h0M845.1 288.6h0M822.0 487.5h0M783.3 345.3h0M811.8 268.4h0M779.4 486.3h0M776.2 328.0h0M803.1 324.7h0M769.7 355.4h0M850.3 279.8h0M816.5 325.6h0M832.0 413.4h0M794.4 416.7h0M818.3 376.6h0M796.4 263.5h0M801.4 376.1h0M809.6 311.0h0M771.5 376.6h0M823.3 327.6h0M811.8 333.2h0M796.5 289.2h0M826.7 250.8h0M766.1 398.5h0M774.3 439.7h0M821.3 371.7h0M787.6 368.9h0M775.8 349.5h0M763.5 302.6h0M824.5 392.8h0M795.6 365.7h0M764.0 365.0h0M829.2 295.3h0M772.8 392.8h0M815.9 289.2h0M782.8 242.0h0M783.9 379.1h0M822.4 274.4h0M820.3 329.7h0M838.8 368.5h0M810.2 235.9h0M788.8 284.8h0M842.0 383.3h0M773.5 327.5h0M772.2 406.1h0M778.1 451.2h0M808.5 295.9h0M791.3 362.4h0M798.4 257.5h0M815.3 352.2h0M789.3 344.8h0M772.8 369.2h0M825.2 351.5h0M851.0 412.5h0M808.2 377.0h0M827.4 473.4h0M773.5 478.0h0M775.5 449.6h0M850.7 402.6h0M783.1 368.7h0M802.1 374.6h0M806.2 288.4h0M838.3 206.0h0M849.2 517.6h0M806.0 271.3h0M835.6 304.1h0M816.5 400.5h0M840.6 354.2h0M841.7 488.1h0M782.9 378.8h0M822.0 264.0h0M786.5 440.4h0M842.5 402.7h0M784.7 358.3h0M790.3 321.9h0M828.1 362.1h0M837.1 398.6h0M844.4 323.7h0M834.1 402.2h0M782.9 212.4h0M763.1 285.9h0M767.0 358.3h0M822.3 416.6h0M826.8 401.3h0M847.4 412.1h0M803.1 386.7h0M825.2 338.5h0M768.6 448.0h0M832.8 355.3h0M851.9 365.3h0M773.1 426.7h0M792.0 284.4h0M817.6 335.6h0M792.5 345.7h0M818.2 402.5h0M770.7 413.0h0M800.2 364.0h0M823.7 459.5h0M771.1 343.8h0M768.9 438.8h0M842.1 368.3h0M790.4 324.8h0M794.2 384.0h0M780.6 408.3h0M795.7 415.0h0M769.4 358.6h0M783.2 438.4h0M774.3 371.1h0M770.7 306.5h0M795.6 487.8h0M814.5 418.6h0M841.6 351.3h0M775.9 439.1h0M770.4 434.9h0M765.0 446.8h0M845.3 315.2h0M773.9 505.0h0M803.6 377.9h0M775.1 383.3h0M805.4 369.7h0M778.3 420.4h0M817.4 366.4h0M807.5 404.1h0M787.7 425.8h0M791.6 208.5h0M844.4 307.9h0M847.1 440.3h0M797.7 416.6h0M780.4 344.5h0M809.3 281.4h0M765.0 384.3h0M828.9 327.1h0M800.6 359.2h0M819.5 297.9h0M840.7 405.9h0M767.5 420.2h0M833.2 354.2h0M821.1 354.4h0M820.6 368.7h0M843.5 294.3h0M796.8 327.7h0M811.1 364.2h0M776.7 444.8h0M792.6 327.8h0M838.9 316.8h0M770.1 411.4h0M804.4 376.2h0M802.5 440.4h0M815.7 363.1h0M786.4 384.6h0M843.0 482.5h0M807.3 370.4h0M823.9 391.3h0M788.0 391.9h0M804.0 305.1h0M794.6 339.9h0M847.1 315.3h0M818.8 390.4h0M807.4 285.2h0M844.5 418.3h0M837.4 323.6h0M775.9 463.7h0M831.0 356.0h0M787.8 433.9h0M816.6 461.2h0M767.2 327.7h0M781.1 357.8h0M802.4 338.2h0M848.5 367.2h0M817.3 352.9h0M778.4 371.8h0M807.9 379.6h0M768.1 362.0h0M800.6 224.7h0M812.1 432.7h0M765.6 463.4h0M762.2 426.8h0M775.0 410.9h0M785.9 334.8h0M766.1 299.0h0M841.4 296.0h0M803.9 381.3h0M811.0 322.1h0M795.8 250.4h0M825.8 326.4h0M803.1 284.3h0M770.2 426.9h0M844.8 310.1h0M789.3 315.2h0M800.0 442.7h0M843.6 363.3h0M789.4 326.5h0M838.0 421.8h0M814.4 308.9h0M808.0 304.5h0M820.2 346.8h0M848.3 372.7h0M848.5 378.1h0M838.1 342.3h0M834.6 295.3h0M766.2 451.7h0M810.4 354.3h0M842.8 350.7h0M816.1 421.4h0M801.2 447.9h0M844.2 380.8h0M780.2 473.2h0M790.7 353.4h0M782.1 385.4h0M780.0 437.3h0M807.7 367.3h0M805.4 421.8h0M789.7 413.9h0M773.2 294.4h0M844.9 417.4h0M810.0 530.1h0M802.5 350.0h0M847.5 434.9h0M782.2 425.7h0M785.4 271.9h0M851.2 374.0h0M836.1 317.8h0M806.8 457.2h0M806.7 435.4h0M798.7 422.8h0M839.6 324.5h0M813.7 412.7h0M778.9 492.3h0M780.8 323.1h0M803.9 403.8h0M776.2 365.2h0M824.9 322.8h0M790.2 234.0h0M762.3 373.1h0M778.2 270.8h0M833.0 457.6h0M830.9 360.3h0M801.3 351.8h0M763.1 510.8h0M770.2 433.1h0M786.9 416.8h0M818.4 339.6h0M840.3 401.9h0M829.3 397.5h0M823.9 413.7h0M834.0 341.9h0M811.6 374.7h0M812.4 375.6h0M788.1 385.5h0M786.1 327.4h0M825.5 415.0h0M825.9 371.6h0M768.9 368.8h0M816.1 345.6h0M846.5 305.7h0M792.9 347.3h0M841.0 452.8h0M821.0 305.4h0M828.8 291.4h0M839.5 287.4h0M763.0 312.5h0M812.1 464.8h0M781.2 374.1h0M771.6 316.0h0M777.9 314.3h0M839.1 371.3h0M814.2 357.1h0M841.7 433.8h0M775.2 339.8h0M841.7 495.2h0M812.3 378.4h0M842.0 304.1h0M822.0 439.6h0M776.0 284.4h0M773.8 240.9h0M836.9 331.2h0M818.0 396.5h0M830.3 394.1h0M779.2 439.5h0M816.1 317.7h0M782.4 433.2h0M846.3 351.7h0M778.8 432.1h0M780.1 329.5h0M767.4 450.0h0M803.3 371.0h0M804.6 408.7h0M806.8 299.6h0M851.9 388.6h0M782.9 373.7h0M784.1 292.6h0M783.5 433.5h0M775.7 441.7h0M801.8 368.1h0M825.2 428.6h0M803.0 259.3h0M846.4 355.9h0M787.1 348.9h0M822.7 385.7h0M807.7 285.3h0M822.9 372.9h0M803.8 492.9h0M804.7 433.5h0M783.7 367.4h0M787.9 288.1h0M815.7 344.6h0M834.2 342.9h0M797.3 345.3h0M833.8 422.3h0M779.9 407.7h0M788.8 365.0h0M808.1 450.2h0M772.7 363.9h0M835.9 324.3h0M840.1 514.7h0M788.2 380.5h0M783.2 383.5h0M819.6 360.4h0M846.5 256.4h0M834.5 453.4h0M791.2 244.7h0M793.0 323.7h0M818.3 210.6h0M800.8 390.0h0M811.9 343.6h0M830.6 374.2h0M848.7 334.7h0M813.6 422.7h0M798.9 415.9h0M785.5 377.4h0M780.4 326.4h0M799.6 449.0h0M817.1 388.0h0M776.7 406.4h0M772.2 348.6h0M776.1 315.0h0M802.8 461.1h0M773.2 430.7h0M835.1 389.5h0M789.2 431.4h0M850.8 278.4h0M808.0 261.2h0M819.6 320.4h0M824.5 335.5h0M774.9 437.5h0M775.9 428.8h0M778.7 341.6h0M819.3 274.6h0M817.4 390.5h0M847.3 350.3h0M799.2 267.0h0M833.4 259.2h0M807.2 431.7h0M826.9 351.3h0M793.6 321.4h0M841.8 472.7h0M771.1 399.0h0M827.7 357.0h0M824.2 402.5h0M788.4 336.3h0M797.5 393.8h0M811.7 477.9h0M826.4 449.1h0M800.8 505.1h0M842.0 454.6h0M840.3 334.6h0M829.2 353.5h0M797.7 339.8h0M794.1 289.9h0M788.6 443.8h0M839.4 402.9h0M802.6 363.8h0M814.8 266.4h0M818.0 353.9h0M821.7 380.3h0M790.1 352.9h0M803.9 429.0h0M796.2 496.1h0M830.0 342.1h0M807.4 399.1h0M840.7 343.9h0M844.1 447.1h0M791.9 429.2h0M825.8 324.4h0M820.8 359.4h0M834.0 312.6h0M801.5 414.8h0M832.0 367.7h0M796.7 328.7h0M830.7 315.5h0M850.8 375.1h0M766.8 353.9h0M839.8 377.6h0M839.0 381.4h0M771.2 375.9h0M828.3 343.7h0M834.3 456.6h0M774.1 375.2h0M807.1 437.2h0M804.7 372.4h0M827.8 389.7h0M817.4 362.9h0M807.0 390.4h0M832.9 384.3h0M765.8 462.6h0M798.6 287.8h0M816.9 461.4h0M848.9 494.8h0M796.5 354.3h0M812.2 339.4h0M784.2 382.2h0M792.1 397.3h0M842.1 448.5h0M782.4 260.2h0M805.7 484.5h0M762.7 230.4h0M807.3 476.6h0M807.4 441.3h0M764.4 392.4h0M788.1 405.2h0M766.4 346.3h0M811.0 430.7h0M772.2 398.9h0M794.7 476.8h0M822.3 302.4h0M763.4 395.8h0M851.0 424.3h0M804.1 375.0h0M765.6 319.0h0M819.0 352.8h0M840.3 420.2h0M794.7 365.5h0M772.3 353.3h0M824.5 347.9h0M839.8 393.4h0M767.2 331.0h0M819.0 443.1h0M818.4 365.4h0M829.4 424.3h0M778.5 368.9h0M792.8 409.3h0M821.2 329.7h0M844.6 397.3h0M846.3 297.2h0M774.0 430.5h0M839.4 307.2h0M821.1 425.0h0M847.0 527.3h0M827.7 434.1h0M822.7 316.9h0M787.6 358.9h0M811.5 341.1h0M797.3 396.0h0M787.1 350.2h0M794.2 434.1h0M775.5 262.7h0M812.2 271.1h0M796.6 342.3h0M770.8 406.9h0M791.9 411.2h0M808.8 331.0h0M786.6 347.2h0M835.9 426.1h0M782.5 322.8h0M795.2 314.4h0M765.2 333.4h0M782.6 343.1h0M794.5 352.8h0M816.3 367.3h0M847.9 386.1h0M834.0 405.3h0M797.9 289.6h0M772.2 463.7h0M771.5 359.4h0M784.0 312.6h0M845.8 222.4h0M770.6 387.9h0M825.6 280.0h0M788.4 285.7h0M784.0 305.8h0M797.0 249.1h0M809.4 468.4h0M803.1 302.2h0M776.0 369.6h0M825.5 335.4h0M769.6 371.4h0M838.2 415.3h0M767.0 479.7h0M850.8 336.4h0M836.1 377.8h0M850.3 446.3h0M786.0 371.1h0M773.6 432.9h0M793.5 418.6h0M763.5 352.8h0M783.0 315.5h0M773.9 486.2h0M778.9 370.4h0M838.4 327.8h0M803.4 445.0h0M765.5 385.6h0M840.7 346.2h0M769.9 307.9h0M762.8 438.6h0M771.5 469.2h0M842.8 406.4h0M809.0 399.4h0M830.3 370.0h0M842.2 365.2h0M822.7 489.9h0M773.9 323.2h0M844.3 473.0h0M813.1 346.9h0M790.1 337.1h0M841.2 342.3h0M838.4 349.7h0M811.6 346.3h0M776.9 418.3h0M827.9 421.0h0M787.1 235.4h0M789.0 269.3h0M849.0 283.8h0M847.6 316.6h0M789.0 468.6h0M798.8 250.6h0M825.4 382.3h0M768.6 370.3h0M773.3 320.4h0M836.9 411.0h0M826.7 286.2h0M798.0 521.2h0M832.1 291.6h0M813.1 336.4h0M762.7 422.9h0M810.2 315.7h0M833.3 295.7h0M807.3 318.9h0M804.5 309.9h0M771.5 385.0h0M845.4 302.8h0M765.7 302.8h0M773.5 288.3h0M779.7 327.6h0M800.6 475.2h0M848.8 336.3h0M770.0 452.9h0M826.6 419.4h0M826.8 379.1h0M764.6 360.7h0M764.9 390.4h0M846.1 351.6h0M827.4 340.3h0M776.8 361.3h0M793.4 368.3h0M811.1 351.3h0M780.1 330.0h0M838.6 432.3h0M845.1 468.8h0M836.4 307.9h0M790.6 366.9h0M775.2 521.9h0M775.5 305.1h0M766.8 303.5h0M781.7 491.9h0M785.5 451.1h0M776.9 409.1h0M799.1 453.7h0M769.6 416.5h0M836.5 380.6h0M834.2 314.0h0M843.2 533.6h0M823.0 370.7h0M834.0 307.1h0M816.5 530.7h0M772.5 355.7h0M843.9 380.1h0M848.7 411.8h0M814.7 327.0h0M848.6 291.0h0M809.0 304.9h0M839.5 244.6h0M822.9 420.1h0M845.0 505.3h0M810.5 408.1h0M812.6 363.6h0M791.0 299.7h0M792.6 339.6h0M769.7 412.0h0M765.6 286.6h0M783.3 344.7h0M774.8 358.4h0M831.1 386.0h0M818.5 347.2h0M828.2 336.4h0M818.6 371.1h0M824.2 525.0h0M802.3 428.7h0M795.6 344.9h0M802.2 272.6h0M847.9 297.3h0M846.7 301.7h0M830.0 261.2h0M835.1 328.3h0M848.4 286.7h0M786.7 305.9h0M817.1 355.1h0M800.1 427.0h0M839.9 474.2h0M828.0 341.9h0M846.9 448.5h0M803.6 376.4h0M846.6 323.0h0M782.0 414.8h0M844.2 311.2h0M828.0 364.7h0M850.9 425.7h0M768.7 331.6h0M768.9 322.6h0M770.6 399.6h0M825.5 336.2h0M828.7 440.4h0M819.2 360.4h0M850.3 348.8h0M837.6 433.6h0M811.0 361.2h0M821.7 275.0h0M849.1 408.4h0M833.6 440.0h0M844.2 458.8h0M838.5 416.9h0M784.4 438.1h0M841.8 473.1h0M787.7 360.5h0M839.1 345.8h0M829.5 429.0h0M781.9 362.5h0M846.4 306.5h0M780.6 343.2h0M789.6 354.1h0M807.1 322.1h0M785.5 407.6h0M830.5 308.4h0M819.2 246.0h0M829.5 407.0h0M798.4 485.4h0M807.6 411.6h0M828.9 429.2h0M806.8 350.7h0M790.2 287.2h0M795.0 328.0h0M824.8 254.1h0M773.0 334.9h0M851.3 358.6h0M845.6 487.7h0M838.8 338.7h0M782.2 404.2h0M843.7 397.7h0M767.2 380.7h0M818.5 260.4h0M767.7 308.0h0M829.8 361.8h0M778.3 454.5h0M849.1 390.5h0M777.8 380.3h0M778.2 307.6h0M793.9 328.4h0M848.5 329.8h0M773.5 423.6h0M766.8 302.9h0M808.2 191.4h0M782.6 452.9h0M841.9 429.9h0M840.0 359.9h0M847.7 302.0h0M847.1 348.0h0M803.2 358.0h0M840.1 270.2h0M768.4 433.5h0M814.9 496.1h0M784.6 463.0h0M824.2 314.5h0M801.8 305.4h0M835.7 391.1h0M770.5 458.8h0M795.8 422.7h0M812.0 343.3h0M832.1 306.2h0M818.7 408.1h0M777.1 421.7h0M851.6 427.9h0M841.6 408.5h0M835.3 327.0h0M805.6 358.1h0M770.7 347.3h0M788.7 363.6h0M804.0 357.9h0M818.7 453.8h0M831.1 438.3h0M829.6 348.4h0M849.7 344.9h0M787.0 301.2h0M840.6 375.0h0M765.1 425.7h0M851.5 383.0h0M773.7 385.4h0M815.1 335.7h0M780.6 380.3h0M795.1 336.2h0M827.4 333.9h0M823.9 334.0h0M798.9 330.4h0M813.4 430.7h0M773.4 294.1h0M817.8 260.5h0M835.8 311.9h0M803.8 261.7h0M823.9 335.7h0M769.8 396.6h0M845.2 327.2h0M836.8 363.4h0M794.5 368.9h0M795.6 258.4h0M788.6 416.6h0M804.2 288.2h0M831.5 395.4h0M764.5 469.7h0M762.9 312.4h0M783.4 351.7h0M814.8 344.4h0M811.2 341.5h0M817.1 288.0h0M838.5 333.4h0M787.2 371.9h0M768.9 361.0h0M833.0 326.1h0M802.5 389.3h0M840.0 329.5h0M775.6 482.6h0M847.0 361.6h0M806.4 355.1h0M771.3 309.4h0M832.1 422.4h0M826.3 367.1h0M793.9 325.6h0M788.7 175.9h0M798.1 342.5h0M848.5 315.5h0M784.7 387.8h0M787.2 218.9h0M822.2 368.2h0M814.1 369.0h0M825.7 345.0h0M827.0 436.3h0M811.9 418.1h0M791.7 377.5h0M805.4 406.6h0M831.5 294.7h0M798.4 387.6h0M810.4 217.3h0M813.9 340.1h0M836.7 403.0h0M786.3 347.4h0M785.0 314.2h0M832.1 357.7h0M799.5 330.8h0M765.0 372.8h0M776.3 407.7h0M779.5 365.5h0M796.2 251.1h0M762.5 385.0h0M766.8 364.4h0M764.8 455.7h0M796.7 401.7h0M787.8 340.9h0M839.1 383.0h0M764.9 289.9h0M804.1 301.7h0M771.4 390.2h0M809.3 369.0h0M846.1 321.5h0M789.6 340.3h0M822.8 381.7h0M783.5 477.0h0M826.5 277.7h0M793.6 361.4h0M775.1 352.6h0M801.6 407.0h0M768.7 270.8h0M822.9 369.8h0M839.7 352.1h0M828.9 488.2h0M785.9 392.1h0M794.6 367.4h0M808.3 339.7h0M776.1 321.4h0M828.0 376.6h0M790.7 301.1h0M766.0 372.4h0M820.3 375.3h0M846.0 365.5h0M778.5 469.1h0M810.5 502.9h0M789.7 252.4h0M803.8 473.9h0M799.0 404.2h0M830.1 330.6h0M828.6 408.4h0M800.2 298.0h0M765.8 488.8h0M803.6 359.3h0M814.2 329.3h0M796.0 232.3h0M809.5 276.4h0M823.4 412.7h0M838.9 314.3h0M797.5 350.5h0M805.8 443.2h0M810.6 400.0h0M768.8 303.1h0M787.0 386.7h0M782.3 427.9h0M793.9 407.7h0M792.5 447.1h0M836.8 466.8h0M794.3 346.7h0M794.1 341.2h0M816.5 305.3h0M771.2 465.6h0M778.9 439.7h0M820.9 344.4h0M764.5 361.6h0M791.5 381.7h0M783.0 444.7h0M816.5 390.5h0M798.0 458.6h0M809.6 276.6h0M786.0 328.2h0M785.6 432.5h0M836.3 295.2h0M851.4 435.4h0M772.2 336.2h0M786.9 362.1h0M838.5 396.9h0M829.0 289.0h0M827.3 474.5h0M778.9 393.0h0M766.2 392.9h0M838.5 483.3h0M836.6 466.3h0M824.5 365.3h0M784.6 357.1h0M823.7 434.8h0M850.3 338.6h0M829.2 344.2h0M762.7 325.3h0M827.7 387.8h0M783.5 378.6h0M763.8 335.2h0M793.2 407.1h0M845.2 424.1h0M768.5 447.0h0M829.7 340.9h0M802.9 294.1h0M776.1 485.2h0M847.7 388.2h0M787.7 325.8h0M823.9 278.3h0M851.9 352.5h0M794.6 418.4h0M782.8 323.9h0M777.8 225.0h0M822.3 342.6h0M809.3 322.2h0M764.3 258.7h0M828.6 454.9h0M782.8 314.1h0M795.1 272.4h0M838.7 301.6h0M845.7 350.5h0M803.0 383.4h0M841.4 395.1h0M820.0 440.8h0M844.1 391.9h0M827.4 433.5h0M781.0 367.3h0M805.1 374.9h0M836.6 397.3h0M800.1 386.7h0M801.3 358.3h0M824.2 437.1h0M838.6 324.0h0M810.5 351.2h0M822.1 326.5h0M804.4 382.1h0M807.8 374.3h0M786.8 353.2h0M804.1 355.1h0M826.0 385.4h0M831.4 381.6h0M771.7 393.5h0M787.4 384.0h0M788.6 406.8h0M800.3 409.9h0M801.2 421.5h0M789.5 278.8h0M842.8 402.2h0M782.0 368.0h0M824.4 421.1h0M815.6 353.0h0M829.4 287.8h0M852.0 405.3h0M776.7 352.2h0M847.2 365.8h0M819.0 309.4h0M773.5 366.2h0M833.8 367.5h0M808.0 375.2h0M812.2 478.5h0M830.2 301.3h0M778.0 261.8h0M793.1 410.8h0M839.1 309.0h0M778.7 360.1h0M805.7 272.9h0M852.2 391.4h0M775.5 332.8h0M793.8 279.7h0M797.5 325.6h0M816.9 345.9h0M801.4 360.6h0M835.1 394.1h0M802.7 349.4h0M843.7 414.9h0M839.3 257.8h0M810.4 323.1h0M838.5 365.3h0M788.9 446.2h0M791.9 292.6h0M796.6 275.7h0M814.5 328.4h0M793.5 302.2h0M811.7 302.3h0M846.2 356.4h0M773.8 369.9h0M796.8 347.1h0M769.4 279.8h0M813.0 387.7h0M775.3 447.2h0M845.5 346.8h0M850.6 347.3h0M845.2 359.3h0M808.0 343.7h0M781.9 423.8h0M823.6 405.2h0M762.6 377.8h0M846.3 359.1h0M841.5 325.0h0M788.3 312.1h0M784.6 343.6h0M852.1 363.8h0M845.0 413.5h0M844.1 383.8h0M846.3 448.7h0M792.3 398.7h0M810.9 332.1h0M785.6 323.8h0M763.9 417.3h0M825.6 288.3h0M813.4 496.4h0M783.1 326.6h0M802.7 358.2h0M851.6 367.7h0M770.1 334.6h0M811.6 382.8h0M810.8 225.9h0M821.8 385.8h0M837.1 378.4h0M823.7 340.5h0M769.1 474.6h0M776.7 366.9h0M769.8 442.2h0M824.1 279.4h0M808.8 388.7h0M769.3 367.2h0M774.8 464.5h0M852.0 253.1h0M771.0 462.1h0M846.7 446.6h0M828.4 404.4h0M851.8 494.7h0M774.1 439.7h0M798.1 386.4h0M798.4 299.3h0M795.0 296.5h0M787.1 430.9h0M839.9 396.0h0M852.1 322.9h0M799.9 292.9h0M781.4 412.6h0M769.0 378.6h0M844.5 363.8h0M763.0 354.9h0M780.4 378.0h0M769.5 256.9h0M766.9 376.1h0M779.3 292.0h0M790.1 330.5h0M774.8 273.8h0M834.1 475.7h0M810.6 323.3h0M819.9 483.3h0M816.5 281.0h0M795.0 379.4h0M809.5 487.6h0M812.8 421.3h0M838.4 382.8h0M788.0 276.5h0M806.5 356.6h0M795.4 333.9h0M835.7 402.9h0M838.6 392.3h0M768.4 453.0h0M796.4 388.5h0M767.5 381.7h0M809.3 370.1h0M768.0 416.1h0M816.7 380.3h0M827.8 394.8h0M780.3 353.6h0M826.3 407.2h0M841.0 405.4h0M851.3 423.3h0M802.4 411.7h0M805.1 388.0h0M826.2 432.5h0M769.7 296.8h0M806.2 309.9h0M805.3 349.6h0M830.4 325.8h0M789.8 445.0h0M799.6 409.7h0M799.1 399.9h0M769.0 357.5h0M833.2 323.3h0M801.0 320.1h0M772.0 458.9h0M788.2 374.8h0M788.7 304.2h0M840.0 386.9h0M786.6 343.3h0M779.0 472.3h0M796.5 368.9h0M767.8 387.2h0M765.8 491.3h0M834.4 323.5h0M811.1 288.9h0M779.0 322.0h0M779.8 391.8h0M827.8 379.2h0M807.9 410.4h0M784.0 334.2h0M813.6 342.6h0M788.7 284.5h0M817.8 370.7h0M813.7 314.5h0M770.3 384.1h0M835.1 413.1h0M804.9 371.1h0M811.4 422.0h0M844.5 422.2h0M832.9 325.8h0M804.5 328.5h0M823.2 418.0h0M849.8 425.2h0M772.6 383.1h0M838.6 416.5h0M795.5 328.8h0M837.4 391.5h0M773.3 450.8h0M809.0 423.2h0M828.1 346.9h0M840.4 248.6h0M767.5 341.4h0M807.8 454.8h0M832.1 427.4h0M763.9 362.8h0M773.6 383.0h0M845.5 363.9h0M822.1 252.1h0M809.6 435.4h0M780.5 431.9h0M826.1 376.0h0M769.0 370.7h0M840.2 360.1h0M786.7 323.1h0M845.0 373.8h0M782.0 308.8h0M785.3 361.4h0M771.9 349.4h0M812.0 475.5h0M775.9 424.4h0M771.1 395.4h0M845.3 333.1h0M779.6 410.7h0M834.3 430.1h0M772.4 417.2h0M781.4 268.8h0M805.2 461.4h0M844.4 358.0h0M782.7 368.9h0M788.4 285.5h0M839.5 329.7h0M809.6 390.8h0M816.5 320.0h0M785.1 292.9h0M793.2 391.8h0M846.4 470.7h0M822.8 442.4h0M813.7 367.4h0M772.8 431.6h0M833.2 362.4h0M783.1 302.2h0M791.0 357.8h0M777.8 239.0h0M838.0 377.9h0M782.5 443.4h0M782.4 358.3h0M810.0 310.7h0M834.4 453.1h0M773.1 342.2h0M769.9 270.3h0M828.9 356.6h0M770.8 259.9h0M818.1 459.6h0M833.6 335.6h0M834.7 470.3h0M797.5 474.6h0M836.4 458.2h0M797.1 306.7h0M850.9 351.7h0M769.2 286.1h0M811.1 421.6h0M849.8 472.1h0M770.2 318.0h0M844.2 412.1h0M851.0 462.0h0M830.2 324.0h0M792.1 307.7h0M807.0 417.1h0M783.6 361.3h0M812.5 337.2h0M845.2 427.2h0M792.6 419.7h0M781.8 353.4h0M834.9 270.9h0M826.2 429.0h0M783.2 320.6h0M819.3 334.2h0M793.5 357.5h0M813.7 380.8h0M778.0 419.7h0M808.8 328.0h0M838.1 375.7h0M809.4 520.5h0M831.5 348.6h0M839.6 416.9h0M837.5 376.9h0M851.8 244.7h0M780.4 347.6h0M800.1 495.8h0M824.9 395.0h0M764.9 438.6h0M848.4 307.2h0M847.5 333.8h0M799.5 365.7h0M838.8 390.5h0M812.4 342.9h0M832.5 257.6h0M803.7 482.9h0M821.8 399.9h0M838.9 369.7h0M784.2 366.2h0M811.5 383.3h0M801.7 338.1h0M841.2 358.7h0M851.9 393.5h0M818.2 482.1h0M835.0 324.5h0M840.6 275.5h0M780.7 292.7h0M797.8 339.1h0M787.5 291.1h0M813.1 456.3h0M837.2 314.5h0M798.3 342.3h0M788.3 367.5h0M792.9 292.4h0M776.1 373.9h0M797.8 386.6h0M848.8 425.9h0M815.7 476.7h0M846.5 391.6h0M804.0 254.9h0M819.8 247.8h0M846.6 400.7h0M804.7 353.0h0M773.6 267.9h0M788.7 426.8h0M794.1 391.1h0M838.0 450.6h0M818.8 263.0h0M826.5 402.8h0M795.3 386.1h0M848.0 365.6h0M821.2 416.9h0M843.9 203.8h0M802.3 290.8h0M775.3 231.1h0M782.5 490.8h0M798.2 314.4h0M782.8 372.7h0M775.6 431.7h0M779.3 356.5h0M774.1 260.3h0M796.0 287.9h0M814.7 393.1h0M831.4 288.0h0M849.8 410.8h0M824.8 412.5h0M800.7 399.4h0M766.8 364.2h0M834.4 391.6h0M847.8 399.2h0M763.6 298.0h0M848.7 398.8h0M784.1 349.0h0M803.9 396.5h0M767.5 372.7h0M842.5 281.8h0M771.8 354.6h0M841.9 306.9h0M818.3 360.3h0M780.0 285.1h0M830.4 357.6h0M783.1 283.3h0M767.4 436.5h0M768.9 285.1h0M824.9 326.8h0M792.6 413.8h0M844.5 398.3h0M777.1 481.7h0M809.5 373.6h0M814.5 345.6h0M790.5 390.8h0M806.8 291.7h0M844.5 494.5h0M820.9 372.7h0M764.9 437.9h0M776.0 392.1h0M812.8 306.0h0M784.4 361.2h0M800.4 266.8h0M814.5 383.1h0M765.5 402.1h0M789.7 378.6h0M795.8 454.5h0M826.8 416.4h0M795.7 366.3h0M776.3 303.7h0M778.9 426.3h0M777.0 420.7h0M807.5 464.3h0M815.6 453.4h0M837.9 369.8h0M787.0 363.7h0M785.7 346.4h0M794.7 384.1h0M841.4 301.0h0M787.1 477.9h0M776.1 369.9h0M826.1 327.5h0M841.2 388.7h0M797.4 340.5h0M844.7 382.0h0M812.2 391.5h0M826.4 357.5h0M851.8 408.3h0M774.4 369.4h0M767.2 329.4h0M816.2 436.5h0M772.0 324.1h0M821.4 293.1h0M762.3 263.0h0M799.3 386.6h0M765.4 294.7h0M785.0 482.3h0M832.8 452.6h0M785.0 362.3h0M786.6 436.7h0M807.9 425.9h0M769.3 431.2h0M783.8 387.6h0M801.6 408.9h0M825.3 427.7h0M817.5 370.8h0M814.5 401.4h0M788.2 368.5h0M790.2 349.2h0M844.7 334.0h0M830.7 382.0h0M850.2 395.2h0M802.6 394.9h0M768.2 436.3h0M798.2 340.1h0M845.1 372.1h0M767.0 303.7h0M780.7 350.2h0M832.3 399.7h0M778.1 315.9h0M846.4 387.1h0M786.3 373.5h0M845.8 340.3h0M814.3 354.3h0M821.3 416.6h0M797.4 326.0h0M815.5 345.2h0M809.7 370.4h0M834.9 381.4h0M775.4 354.4h0M852.1 462.1h0M794.3 288.7h0M791.5 522.6h0M821.3 431.9h0M829.2 430.2h0M829.7 345.9h0M843.4 367.9h0M789.6 348.5h0M804.0 445.6h0M773.0 296.9h0M791.8 315.4h0M797.0 499.4h0M835.4 359.0h0M830.8 490.5h0M824.7 405.6h0M818.1 337.8h0M813.4 370.5h0M819.7 452.5h0M771.9 410.7h0M778.8 305.9h0M785.2 361.7h0M803.0 327.8h0M827.6 476.5h0M796.4 340.2h0M765.7 360.3h0M781.8 430.5h0M817.4 285.9h0M839.0 374.4h0M820.5 318.1h0M808.4 402.8h0M848.3 347.0h0M839.7 338.9h0M840.8 378.2h0M790.2 364.6h0M796.4 352.3h0M801.2 376.7h0M799.1 447.4h0M826.0 350.3h0M835.3 378.0h0M808.7 355.2h0M816.2 420.3h0M832.4 278.0h0M777.2 315.2h0M850.2 286.1h0M782.3 255.8h0M842.6 309.3h0M826.6 387.8h0M843.4 446.8h0M802.1 300.3h0M843.5 352.7h0M779.4 318.4h0M809.7 288.7h0M768.4 379.3h0M795.9 425.4h0M813.5 344.5h0M809.8 395.9h0M843.6 419.9h0M792.5 346.1h0M793.1 384.4h0M820.0 338.4h0M795.8 435.2h0M829.6 376.3h0M779.2 384.7h0M833.0 370.9h0M830.4 405.8h0M764.8 329.4h0M837.5 456.7h0M820.5 342.5h0M828.9 303.3h0M811.9 370.2h0M850.7 364.6h0M769.0 415.8h0M849.3 353.8h0M762.6 342.9h0M785.2 358.8h0M844.8 347.0h0M781.3 336.5h0M797.7 355.7h0M826.8 479.4h0M776.4 437.1h0M780.2 375.9h0M834.1 239.8h0M814.1 304.7h0M826.7 370.6h0M843.7 381.1h0M843.2 395.6h0M819.6 334.1h0M768.4 387.6h0M793.6 366.0h0M824.5 422.1h0M835.3 395.3h0M764.9 428.5h0M842.8 416.6h0M846.5 390.3h0M811.2 298.7h0M834.0 348.2h0M811.0 306.5h0M828.2 397.2h0M792.1 353.0h0M830.1 405.5h0M812.3 380.7h0M785.7 378.9h0M813.5 466.5h0M828.9 366.7h0M841.0 441.1h0M776.1 340.4h0M850.1 407.6h0M794.2 463.0h0M810.1 440.6h0M812.6 422.9h0M849.0 284.5h0M833.0 445.1h0M785.7 393.1h0M775.8 360.3h0M833.9 381.0h0M824.9 374.3h0M768.9 329.4h0M809.0 412.5h0M762.3 267.2h0M850.7 289.5h0M766.1 358.3h0M826.1 289.6h0M767.5 363.3h0M779.8 395.6h0M806.7 441.5h0M770.5 410.2h0M801.4 336.2h0M849.7 350.8h0M774.6 275.6h0M828.7 277.6h0M775.6 317.4h0M838.5 362.8h0M823.8 264.6h0M796.5 372.7h0M767.1 512.8h0M816.7 386.3h0M778.8 342.9h0M844.2 336.6h0M810.3 336.1h0M816.9 324.0h0M829.2 524.1h0M816.7 234.1h0M800.3 337.2h0M851.7 365.4h0M801.8 485.5h0M764.8 321.3h0M822.3 432.0h0M817.9 489.4h0M800.7 335.8h0M811.0 338.8h0M780.9 379.2h0M842.6 425.7h0M770.0 346.2h0M818.1 368.0h0M827.6 351.4h0M822.7 347.0h0M825.4 461.8h0M803.8 345.9h0M844.7 448.0h0M770.4 345.0h0M770.0 395.5h0M816.2 403.3h0M766.5 275.6h0M828.3 360.3h0M814.2 361.6h0" stroke="#FF80FF" stroke-width="2.3" stroke-linecap="round" fill="none"/>
<path d="M1058.7 375.0h0M994.2 347.5h0M1045.1 404.0h0M1054.1 477.3h0M1063.2 373.5h0M1047.7 388.5h0M997.2 318.1h0M1071.3 355.0h0M986.6 303.9h0M1033.8 399.5h0M999.1 396.8h0M1005.0 402.5h0M1062.5 426.5h0M1009.4 308.2h0M1032.3 364.6h0M1014.9 448.3h0M1001.6 412.3h0M1070.3 258.4h0M991.6 231.2h0M1070.1 288.6h0M990.3 366.5h0M999.3 276.3h0M1028.5 377.6h0M1066.6 446.6h0M1057.5 369.9h0M997.9 441.5h0M1026.2 387.8h0M1002.4 235.2h0M1064.8 341.7h0M989.4 361.2h0M996.1 324.5h0M1025.8 401.7h0M1067.3 358.6h0M1013.1 435.3h0M1006.9 458.6h0M1042.9 404.7h0M1061.5 449.2h0M1061.4 513.6h0M1028.0 407.5h0M1058.7 440.5h0M1016.0 432.4h0M1017.3 287.2h0M992.0 337.7h0M1050.5 315.8h0M1008.9 389.2h0M1025.2 440.3h0M998.6 432.2h0M990.4 266.1h0M1006.9 408.1h0M1071.7 363.9h0M1006.3 469.4h0M1034.7 312.3h0M1068.1 427.4h0M991.1 377.3h0M1012.3 279.8h0M1013.4 322.3h0M1032.5 389.5h0M1063.4 382.8h0M986.6 284.4h0M1069.5 257.5h0M1024.4 342.7h0M1005.2 489.3h0M1024.5 403.7h0M1015.3 308.6h0M1042.1 419.6h0M1044.4 392.0h0M1025.4 434.1h0M1006.8 399.4h0M1029.0 312.1h0M1048.1 330.2h0M1010.2 439.7h0M1040.9 293.8h0M1011.4 461.5h0M1038.0 312.7h0M1059.3 316.6h0M1047.9 452.7h0M991.8 486.7h0M1048.0 308.5h0M1069.7 330.2h0M1035.0 357.0h0M1018.2 419.1h0M1072.7 346.7h0M1007.2 463.3h0M1036.8 322.1h0M1052.6 227.4h0M1008.6 382.8h0M1018.6 306.0h0M1063.2 424.3h0M1067.5 350.9h0M1016.4 383.1h0M1002.7 343.0h0M1047.2 389.4h0M990.0 477.6h0M1002.7 305.2h0M1049.2 443.3h0M997.4 302.6h0M1021.1 446.7h0M1056.5 322.2h0M1004.3 348.2h0M1020.0 403.8h0M1035.0 311.2h0M993.0 355.9h0M989.9 272.5h0M1048.4 329.9h0M1069.7 295.3h0M1004.9 499.3h0M1047.3 285.9h0M1058.6 386.8h0M1050.8 386.4h0M986.9 453.4h0M1061.1 417.7h0M1026.0 390.6h0M1064.2 367.9h0M1021.0 368.5h0M991.8 396.6h0M1049.2 362.9h0M1037.3 319.0h0M1024.4 403.7h0M988.1 414.1h0M993.2 306.2h0M1034.1 345.8h0M1038.6 432.1h0M998.6 330.7h0M1020.3 345.9h0M1011.7 236.3h0M1019.3 316.9h0M1009.6 322.1h0M1037.7 377.4h0M1015.2 431.5h0M1021.2 378.2h0M1049.6 388.6h0M1068.4 390.5h0M1064.4 301.4h0M1049.0 437.2h0M997.5 265.3h0M1004.5 434.9h0M1000.6 461.0h0M1003.9 313.7h0M1017.2 387.9h0M1034.1 417.2h0M1014.3 347.4h0M1021.6 403.7h0M1073.2 365.7h0M1033.5 396.7h0M998.5 364.2h0M1062.6 425.5h0M1075.5 331.0h0M997.4 400.7h0M1008.4 368.6h0M986.8 510.7h0M1072.9 345.0h0M1034.2 412.0h0M1009.0 389.5h0M1044.7 398.2h0M1038.5 412.8h0M1006.6 439.5h0M1040.9 319.9h0M1068.2 408.3h0M1056.3 391.6h0M1073.8 400.2h0M1004.7 424.9h0M1001.5 311.3h0M1025.3 422.3h0M1000.0 358.6h0M1044.2 430.7h0M1001.3 471.8h0M1048.1 473.7h0M1051.2 350.9h0M1002.0 504.8h0M1014.2 488.9h0M1037.5 422.2h0M1072.3 347.0h0M1064.3 428.8h0M1009.4 316.7h0M997.5 394.6h0M1044.0 398.2h0M991.3 288.1h0M1073.9 352.6h0M1028.8 410.6h0M987.9 417.9h0M1013.1 332.9h0M1054.7 297.7h0M1007.8 401.0h0M1011.2 393.2h0M1001.2 316.2h0M1063.9 426.4h0M1009.3 356.3h0M1015.5 366.6h0M1023.3 392.1h0M1061.9 439.5h0M1042.1 529.0h0M1068.6 394.0h0M1045.3 459.9h0M1064.8 367.1h0M1055.9 417.3h0M1016.6 409.7h0M1012.6 294.1h0M1000.6 340.6h0M1020.9 442.5h0M1064.3 330.3h0M1058.1 406.1h0M993.1 464.0h0M1056.4 374.5h0M1039.3 382.5h0M993.0 322.7h0M991.2 319.5h0M1005.6 314.8h0M988.0 425.3h0M1022.4 386.6h0M1071.7 492.5h0M1036.9 363.2h0M1063.9 395.8h0M1003.3 516.3h0M991.9 344.1h0M1036.7 354.8h0M1002.6 481.3h0M986.4 521.3h0M1069.6 405.4h0M1027.1 369.4h0M1008.3 390.6h0M994.9 296.0h0M1068.3 239.2h0M1049.6 377.4h0M1073.3 397.0h0M992.2 411.7h0M1065.5 255.0h0M1075.5 381.5h0M1047.4 340.1h0M1017.3 327.5h0M1027.3 318.5h0M1068.5 355.7h0M986.6 265.1h0M1016.7 346.1h0M1060.4 369.5h0M1073.4 448.2h0M1004.8 402.9h0M1002.4 384.2h0M992.9 315.6h0M998.8 416.2h0M1064.4 366.4h0M1034.2 393.3h0M1032.3 364.8h0M1006.7 274.3h0M989.5 471.7h0M1055.8 309.4h0M1050.6 457.9h0M1045.7 408.0h0M1039.3 387.6h0M1045.6 322.1h0M1074.9 381.3h0M1010.8 376.9h0M988.4 322.4h0M1068.3 318.2h0M1054.7 388.1h0M1026.8 347.9h0M1017.9 291.7h0M1054.1 347.0h0M1058.3 441.0h0M1031.1 373.7h0M1024.3 474.2h0M1075.2 239.6h0M1032.1 365.6h0M1063.7 482.4h0M1030.4 406.7h0M1054.7 351.3h0M1004.1 333.5h0M1026.2 387.9h0M1060.4 404.7h0M1072.6 438.3h0M1003.3 322.2h0M1029.7 299.2h0M1002.9 357.7h0M1055.7 365.9h0M1073.3 369.1h0M1025.1 413.1h0M1017.5 402.6h0M1048.0 343.5h0M1051.4 362.3h0M1022.8 351.5h0M1034.2 426.2h0M1060.0 330.1h0M1061.7 444.3h0M1042.4 300.0h0M987.0 390.7h0M1057.3 359.8h0M1053.6 423.2h0M1037.9 384.9h0M1069.5 427.5h0M1073.0 369.9h0M1047.9 493.3h0M1015.5 306.9h0M1041.4 367.0h0M987.6 335.0h0M1046.0 387.3h0M998.2 347.2h0M1027.5 424.0h0M1000.8 436.2h0M999.7 406.0h0M1022.3 473.2h0M1017.4 329.4h0M1029.1 402.1h0M1070.8 393.5h0M1002.7 433.6h0M1004.5 345.9h0M998.5 312.3h0M1000.3 400.5h0M1002.2 310.3h0M1014.0 358.4h0M1024.7 365.6h0M993.7 486.4h0M989.1 436.0h0M1013.5 303.0h0M1060.0 311.2h0M1050.4 238.4h0M1051.3 416.7h0M986.8 326.7h0M1006.2 472.5h0M1058.1 430.6h0M1003.9 445.6h0M1012.2 429.6h0M1036.3 356.0h0M1033.7 284.3h0M1028.5 362.6h0M1016.0 453.7h0M1008.3 289.3h0M1037.7 351.3h0M994.5 472.9h0M988.7 285.7h0M989.0 370.6h0M1020.8 324.4h0M1015.9 413.0h0M1057.6 406.4h0M995.3 346.9h0M1069.9 476.2h0M1019.3 369.7h0M1059.7 316.7h0M1029.3 345.0h0M1035.2 378.3h0M1053.4 399.8h0M1075.6 399.9h0M992.4 278.5h0M1024.8 355.2h0M1064.6 361.7h0M1026.4 432.2h0M1066.4 347.7h0M1035.1 324.8h0M1050.2 519.5h0M1021.9 266.5h0M1061.0 320.7h0M1052.7 385.8h0M1069.3 489.9h0M1075.5 216.7h0M1058.9 329.3h0M1024.2 405.8h0M1002.7 467.2h0M992.3 306.8h0M1050.3 492.5h0M1061.2 375.5h0M1052.9 394.7h0M1007.5 453.3h0M1010.5 422.4h0M1061.8 421.0h0M1003.0 317.5h0M1010.4 348.9h0M1030.0 300.7h0M1043.7 440.4h0M1017.7 291.3h0M1051.7 352.2h0M992.4 294.0h0M1066.9 394.6h0M993.8 343.4h0M1061.8 436.6h0M1043.0 300.2h0M992.3 368.2h0M1012.4 414.6h0M1048.0 384.7h0M1042.8 371.7h0M1067.1 497.0h0M1022.5 371.6h0M1060.2 448.8h0M1024.6 386.7h0M997.1 368.4h0M1041.3 227.0h0M1053.9 352.7h0M989.1 466.0h0M1062.1 343.8h0M989.9 454.5h0M1060.1 446.4h0M1027.1 428.3h0M1018.5 319.4h0M1057.4 270.5h0M1009.0 334.6h0M1053.2 464.6h0M1018.9 369.4h0M997.6 326.5h0M1022.1 403.5h0M1027.8 214.3h0M992.3 470.1h0M991.9 445.9h0M1057.5 455.4h0M1050.0 287.2h0M1028.2 316.3h0M1024.0 327.7h0M1074.7 299.7h0M996.5 419.4h0M1074.3 500.4h0M1052.6 340.3h0M1002.1 483.2h0M1042.6 333.9h0M1018.6 340.9h0M1066.7 363.8h0M1046.5 289.4h0M1021.8 347.6h0M1065.2 453.7h0M1001.8 424.7h0M1047.0 328.7h0M1026.4 415.0h0M1045.5 331.6h0M1036.8 390.5h0M1038.7 354.5h0M1073.8 434.3h0M1049.0 382.5h0M995.0 478.3h0M1048.2 418.4h0M1003.7 336.5h0M1068.1 414.8h0M1071.1 435.1h0M1023.9 315.6h0M1047.8 322.2h0M989.9 448.4h0M996.9 357.1h0M1033.3 340.3h0M1042.4 430.4h0M993.5 422.2h0M1008.2 383.7h0M1023.1 275.3h0M986.4 375.3h0M1064.6 376.5h0M1021.1 349.8h0M1007.0 310.6h0M1061.0 445.4h0M1074.4 323.1h0M990.4 349.6h0M1035.2 321.3h0M1066.1 373.8h0M1052.5 371.0h0M1000.4 211.0h0M987.1 253.5h0M1056.9 433.1h0M1000.5 481.0h0M1068.5 347.9h0M1073.2 343.8h0M1031.8 365.3h0M1075.8 381.8h0M1047.5 278.9h0M1043.4 437.5h0M994.6 332.8h0M1069.9 341.6h0M1024.6 342.3h0M1044.6 422.9h0M1056.2 263.6h0M1018.2 310.6h0M1026.0 319.1h0M991.2 344.9h0M1017.9 468.5h0M1028.6 413.1h0M1032.0 459.3h0M1004.5 377.6h0M1004.1 476.1h0M1056.2 382.2h0M986.1 424.0h0M1017.3 384.3h0M1001.8 526.7h0M1015.9 455.3h0M1004.5 377.7h0M1023.5 339.7h0M1009.3 467.5h0M990.9 344.0h0M1061.9 220.7h0M1072.8 396.0h0M1045.0 436.5h0M1007.0 507.1h0M1047.1 493.2h0M1076.0 423.5h0M1027.1 407.0h0M1029.8 350.9h0M1005.6 269.5h0M1022.6 443.2h0M1044.1 368.3h0M1058.0 287.2h0M1017.6 344.6h0M1016.3 366.8h0M1000.3 369.1h0M1060.9 464.7h0M999.4 470.1h0M1018.4 329.7h0M1011.3 289.7h0M1072.5 308.5h0M986.2 310.0h0M1006.0 270.6h0M1023.1 280.8h0M1043.0 399.7h0M994.2 358.8h0M1061.3 522.6h0M1042.0 307.9h0M1038.1 364.8h0M1062.4 368.5h0M986.6 310.6h0M1044.6 460.7h0M1023.0 365.2h0M1031.0 431.0h0M1069.2 274.0h0M1068.0 457.4h0M1007.0 413.3h0M986.3 347.2h0M1017.4 266.9h0M1007.7 377.5h0M1000.9 467.4h0M997.0 422.3h0M998.1 354.7h0M1065.3 340.6h0M988.0 456.0h0M990.2 301.7h0M1060.6 433.2h0M1033.0 436.8h0M1075.4 389.2h0M1044.9 454.5h0M1072.2 455.1h0M1037.4 391.1h0M1059.1 532.8h0M1071.4 401.8h0M1037.6 455.9h0M1004.4 358.6h0M1043.5 439.2h0M1020.2 320.1h0M1044.8 355.8h0M1013.5 345.7h0M1075.2 363.7h0M1059.2 433.3h0M1075.6 353.4h0M990.8 338.3h0M995.8 370.4h0M1041.1 356.6h0M994.2 355.5h0M1070.9 393.0h0M1036.8 411.5h0M1065.8 369.7h0M1074.6 367.4h0M1020.4 336.6h0M1046.7 299.2h0M1025.0 396.7h0M1003.2 405.8h0M986.2 249.7h0M1049.1 379.7h0M1008.1 378.4h0M1032.3 429.3h0M1034.5 351.2h0M1058.9 517.4h0M1019.7 424.4h0M1016.9 392.4h0M994.5 422.5h0M1015.4 362.4h0M986.2 303.9h0M1001.9 354.0h0M990.8 401.5h0M1042.6 532.2h0M1002.4 429.5h0M1047.7 299.6h0M1073.0 281.9h0M1001.4 341.4h0M1047.2 324.3h0M1023.9 328.0h0M1008.2 473.9h0M1036.0 406.7h0M994.3 414.6h0M1030.6 341.9h0M1044.8 310.2h0M1075.7 377.7h0M1043.0 260.5h0M1062.4 390.0h0M1026.7 415.3h0M1033.0 417.2h0M1075.6 512.6h0M994.4 336.3h0M986.2 415.5h0M996.5 340.1h0M1003.6 353.7h0M1035.0 346.9h0M1062.5 487.3h0M1058.9 406.1h0M987.1 399.5h0M1026.3 361.6h0M997.5 447.3h0M1054.0 449.9h0M1033.5 308.5h0M1064.8 474.1h0M1042.1 368.5h0M1019.7 453.8h0M1070.6 332.3h0M999.8 414.0h0M1029.5 407.4h0M994.7 443.0h0M1040.6 509.9h0M1009.5 270.3h0M1009.0 387.0h0M992.6 288.2h0M1014.3 339.6h0M992.6 444.9h0M1033.8 415.9h0M988.6 345.8h0M1016.3 377.1h0M1071.8 425.4h0M1057.0 357.0h0M1075.1 326.3h0M1045.9 303.6h0M1000.7 272.6h0M1068.8 374.5h0M1015.5 402.6h0M1052.1 402.1h0M1051.6 292.4h0M986.2 274.0h0M1029.8 370.3h0M1073.6 414.9h0M1040.3 396.3h0M1022.4 495.4h0M998.3 390.3h0M1017.9 516.7h0M1059.5 342.1h0M1034.3 321.5h0M1005.2 302.4h0M1029.0 491.8h0M1028.2 460.6h0M1001.9 424.0h0M1019.6 295.3h0M1048.8 398.1h0M1076.1 282.7h0M1039.9 371.6h0M988.4 341.1h0M1033.7 478.2h0M1015.8 492.9h0M1009.5 435.9h0M1050.4 462.9h0M1061.5 481.4h0M1007.2 348.4h0M1018.2 281.8h0M1014.9 432.8h0M993.5 390.7h0M1055.1 295.8h0M1002.8 377.9h0M990.0 332.7h0M1037.8 335.0h0M1028.7 303.1h0M1063.8 306.7h0M1061.8 361.5h0M1045.6 444.2h0M1071.5 308.9h0M1036.5 451.3h0M993.9 369.7h0M1012.4 348.4h0M1005.6 188.6h0M989.9 329.9h0M1008.8 346.7h0M1054.1 399.1h0M1066.0 386.1h0M1010.8 475.6h0M1071.2 521.7h0M999.6 386.7h0M1073.5 366.0h0M998.6 407.3h0M1063.0 394.4h0M993.1 394.4h0M1027.1 261.0h0M988.4 418.7h0M1045.9 251.2h0M998.9 422.7h0M991.2 390.9h0M1070.6 379.6h0M1072.9 337.2h0M1069.2 280.8h0M1058.2 309.1h0M1063.7 301.5h0M1004.8 353.9h0M1055.0 373.4h0M1001.0 380.8h0M1014.1 448.9h0M1017.8 229.9h0M986.9 378.6h0M1056.4 420.8h0M1027.6 451.7h0M1046.5 393.5h0M1023.5 444.8h0M1029.8 307.4h0M1002.5 298.3h0M990.2 418.7h0M1028.4 291.0h0M1037.8 321.0h0M1047.2 351.6h0M1019.1 355.7h0M1053.9 392.1h0M1059.6 313.4h0M1027.1 484.8h0M1071.4 325.4h0M1016.2 378.5h0M1008.6 525.1h0M1043.1 396.2h0M1012.8 364.7h0M1061.1 333.8h0M1006.1 368.5h0M1001.6 437.2h0M1063.6 359.5h0M1010.2 367.6h0M1021.2 450.4h0M1028.4 401.0h0M996.9 420.2h0M991.4 365.9h0M1060.5 242.9h0M1011.9 376.4h0M1013.9 409.2h0M1051.7 383.6h0M1004.7 440.1h0M996.0 417.7h0M1017.1 427.5h0M1001.4 341.7h0M1014.6 414.3h0M1030.6 372.0h0M1021.6 356.2h0M1034.5 446.9h0M1008.6 340.7h0M998.1 273.4h0M1025.1 394.8h0M1036.9 361.0h0M1072.8 304.9h0M1043.7 291.4h0M1021.1 359.1h0M1039.3 392.0h0M1037.5 342.9h0M1049.7 448.9h0M988.4 430.7h0M1057.5 414.1h0M1054.4 349.6h0M1044.5 451.8h0M1007.1 361.2h0M1012.5 487.5h0M1012.9 443.0h0M1010.3 435.9h0M988.6 341.6h0M1021.8 260.8h0M1000.6 481.9h0M1017.1 361.8h0M1027.2 386.8h0M988.3 350.9h0M1007.8 415.6h0M1021.0 323.2h0M998.5 516.2h0M991.0 315.6h0M1033.1 283.8h0M988.9 432.9h0M1014.6 367.9h0M1009.0 452.0h0M1011.9 400.0h0M1009.3 396.5h0M992.4 322.1h0M1017.0 335.0h0M1004.6 257.3h0M1051.9 383.6h0M989.9 370.1h0M1039.4 300.5h0M1043.9 498.6h0M986.5 342.4h0M1044.4 400.7h0M997.1 251.9h0M1075.3 388.3h0M1052.0 310.1h0M1046.9 405.4h0M1069.4 284.0h0M987.2 306.0h0M1060.1 308.6h0M1051.0 395.8h0M1004.7 296.5h0M1013.0 438.9h0M1040.2 427.5h0M1020.8 311.8h0M1037.5 322.1h0M1033.8 252.7h0M1056.2 421.4h0M1060.0 343.3h0M1009.7 337.8h0M1054.1 300.8h0M1003.6 444.5h0M1038.9 366.8h0M1061.9 400.3h0M1003.7 337.7h0M1076.0 178.2h0M1025.0 323.9h0M1050.8 267.0h0M1051.6 330.0h0M1007.1 393.8h0M1010.7 351.6h0M992.0 370.5h0M1051.9 378.5h0M1014.8 314.9h0M1016.8 332.8h0M1005.1 425.7h0M1039.1 508.8h0M1007.9 406.0h0M993.9 342.9h0M1070.5 278.3h0M995.9 357.7h0M1005.0 334.5h0M1022.4 301.6h0M1074.7 292.9h0M1016.5 417.6h0M1057.7 382.6h0M993.6 324.9h0M1061.4 404.4h0M1062.4 427.1h0M1024.8 386.3h0M1043.7 367.0h0M1001.6 297.5h0M1007.9 399.9h0M1011.2 421.9h0M994.3 392.3h0M1058.6 310.6h0M1020.8 483.2h0M1037.5 344.3h0M1029.9 298.5h0M1070.5 390.6h0M1010.8 402.8h0M1067.7 441.4h0M995.0 424.4h0M1030.9 374.4h0M1036.3 282.3h0M1052.5 328.3h0M995.6 390.9h0M1008.0 460.1h0M1059.4 443.3h0M1035.8 294.0h0M986.1 457.9h0M1001.8 300.6h0M992.8 355.8h0M1046.0 299.4h0M1005.3 341.2h0M1066.2 402.5h0M1050.9 367.5h0M1015.4 393.3h0M1051.5 448.2h0M1015.7 382.1h0M1066.7 373.1h0M989.8 441.1h0M1064.8 386.6h0M1017.5 321.1h0M987.7 369.2h0M1032.6 442.4h0M991.0 268.4h0M1059.4 415.2h0M1032.8 293.4h0M1020.4 345.9h0M1050.5 295.8h0M1002.7 351.2h0M1006.8 440.7h0M1067.8 288.0h0M1060.9 414.8h0M1015.3 462.7h0M1062.5 464.9h0M1065.1 341.2h0M1065.4 401.6h0M996.4 399.0h0M997.7 464.9h0M1041.7 243.8h0M989.2 321.5h0M994.9 299.4h0M1067.5 353.3h0M1000.7 288.8h0M998.8 397.5h0M1037.1 276.5h0M1025.6 367.8h0M1002.2 394.2h0M1048.3 313.3h0M1044.1 335.7h0M1051.9 339.6h0M1061.2 466.7h0M1067.8 425.6h0M1062.1 448.2h0M1008.9 415.0h0M1062.5 356.9h0M1041.1 428.8h0M1013.6 363.6h0M1044.6 433.1h0M1066.7 385.8h0M1011.0 327.5h0M1047.6 289.1h0M1012.2 240.7h0M999.9 348.6h0M1061.6 342.9h0M1033.7 264.8h0M1023.8 465.8h0M1000.2 431.4h0M1011.3 301.7h0M995.8 293.3h0M1035.9 237.4h0M1052.0 246.2h0M1066.8 255.5h0M995.5 305.6h0M1007.2 355.7h0M986.7 280.9h0M1051.1 479.1h0M997.6 371.3h0M1070.4 458.9h0M1046.5 376.1h0M1013.1 333.6h0M1013.6 366.7h0M1014.4 291.6h0M1019.9 467.5h0M1045.5 387.1h0M1062.2 306.6h0M1007.3 478.4h0M1019.3 377.9h0M1075.9 508.7h0M1040.9 243.2h0M1073.0 429.2h0M1055.8 365.1h0M1017.8 347.5h0M1007.5 487.7h0M1004.0 408.6h0M1035.8 478.6h0M1014.4 334.7h0M1053.7 276.1h0M1051.5 521.3h0M1031.1 375.1h0M988.8 465.8h0M1030.9 347.2h0M1055.1 334.6h0M998.2 311.6h0M1009.2 330.5h0M1039.8 478.5h0M1006.7 458.0h0M1053.8 377.5h0M1004.0 328.4h0M1034.3 424.8h0M1058.2 399.1h0M1020.7 342.2h0M1016.7 363.3h0M1048.4 301.3h0M1006.2 444.0h0M1060.9 338.3h0M1064.0 364.0h0M1022.4 364.3h0M1064.0 381.8h0M996.7 406.1h0M1024.5 282.7h0M994.6 411.3h0M1047.6 344.3h0M1058.0 363.6h0M1029.9 414.0h0M1044.1 352.0h0M1068.1 349.0h0M1039.6 266.7h0M1000.6 420.2h0M1021.6 330.2h0M1027.4 333.8h0M1056.6 307.6h0M1013.1 413.7h0M1010.1 350.3h0M1018.0 450.6h0M990.8 348.1h0M1059.1 295.9h0M1030.2 271.0h0M1045.8 512.8h0M1073.3 395.3h0M992.0 344.0h0M998.8 485.7h0M1054.7 205.8h0M1007.4 347.4h0M1032.3 480.4h0M1009.0 164.0h0M1020.2 338.0h0M1074.0 494.8h0M1025.0 426.7h0M1018.0 415.8h0M1051.1 374.4h0M1029.3 258.9h0M986.6 411.6h0M1028.2 401.7h0M1012.7 366.1h0M996.8 330.4h0M1008.0 348.4h0M1002.4 454.1h0M1039.1 310.5h0M1031.9 424.0h0M1064.9 420.6h0M1062.7 206.8h0M1010.8 483.1h0M1075.2 370.5h0M1031.2 436.2h0M1047.8 321.3h0M1069.6 341.0h0M1010.8 427.9h0M1008.5 397.6h0M1040.0 401.4h0M1040.7 333.7h0M1046.3 480.0h0M1057.6 345.1h0M1047.8 349.0h0M1075.9 366.9h0M1054.0 395.8h0M1069.2 321.4h0M1002.5 328.7h0M987.4 351.9h0M990.9 361.7h0M1035.0 321.6h0M1075.2 322.8h0M1072.5 439.0h0M1000.4 447.2h0M1008.8 393.5h0M1074.1 414.8h0M996.9 404.8h0M1018.3 380.0h0M999.6 276.3h0M1006.8 361.7h0M1045.6 353.7h0M1065.1 311.8h0M1030.1 408.8h0M997.3 387.5h0M1061.2 488.2h0M1050.5 424.1h0M1067.5 326.9h0M1045.8 393.2h0M1071.9 389.9h0M1044.7 265.8h0M1021.9 255.6h0M1015.6 356.4h0M996.8 422.5h0M1062.7 449.9h0M995.1 368.8h0M1031.9 440.6h0M1034.5 372.0h0M1058.5 403.2h0M1072.3 379.7h0M986.3 394.4h0M1059.8 291.3h0M1050.0 381.1h0M1049.0 263.5h0M1002.6 397.2h0M993.2 264.9h0M1066.7 433.8h0M998.6 352.2h0M1016.0 392.2h0M1004.0 438.6h0M1062.9 235.8h0M1071.8 360.5h0M1038.6 432.6h0M986.3 471.1h0M993.0 334.1h0M1009.1 326.4h0M1050.2 362.6h0M1045.7 413.7h0M1020.1 403.6h0M997.1 455.3h0M1049.0 409.7h0M987.2 398.4h0M1000.3 331.6h0M1041.8 322.9h0M1059.7 446.3h0M1071.9 506.0h0M1008.8 256.9h0M1036.4 369.2h0M1065.1 426.2h0M1043.4 361.7h0M1022.0 430.5h0M1041.0 409.4h0M1073.6 406.7h0M1042.2 275.7h0M1028.0 328.2h0M1001.0 397.4h0M1072.3 375.9h0M1048.9 336.5h0M1055.5 312.8h0M1054.0 434.1h0M1051.3 398.1h0M1066.8 369.5h0M1025.3 323.7h0M998.1 403.7h0M1004.3 350.0h0M997.4 329.2h0M1069.8 377.4h0M990.1 346.0h0M1072.6 301.0h0M1047.3 457.2h0M1053.3 366.5h0M1008.7 357.7h0M1072.6 238.8h0M1059.2 502.3h0M1065.4 427.7h0M1031.1 473.6h0M1046.0 444.7h0M990.9 358.6h0M1035.0 443.1h0M1016.4 387.2h0M1043.4 378.6h0M1042.5 393.4h0M1070.2 323.9h0M1035.6 355.2h0M991.3 430.9h0M986.9 406.1h0M987.5 358.6h0M1021.2 415.3h0M1043.8 347.1h0M1007.9 379.0h0M1046.8 410.8h0M1031.1 398.0h0M1069.1 448.1h0M997.6 357.4h0M1061.6 413.9h0M1053.7 423.1h0M993.4 395.7h0M1000.1 235.9h0M1053.1 302.0h0M1064.9 417.6h0M1025.9 442.1h0M1052.2 330.7h0M1017.9 440.7h0M1021.3 300.8h0M1030.3 420.0h0M1050.7 304.8h0M1073.7 241.7h0M1054.4 394.7h0M994.0 330.2h0M1025.5 323.4h0M1034.3 218.2h0M986.4 213.2h0M1000.1 425.4h0M1046.9 286.4h0M1021.1 301.0h0M1001.8 349.6h0M1010.1 335.1h0M1063.7 437.8h0M1053.2 425.1h0M1001.5 374.2h0M1040.2 453.8h0M997.2 343.9h0M996.3 354.9h0M1064.7 267.2h0M1055.8 436.6h0M1037.0 277.5h0M1051.0 340.0h0M1069.2 344.5h0M1015.2 364.0h0M1022.9 361.8h0M1076.0 407.5h0M1009.0 423.6h0M993.8 280.4h0M996.3 509.9h0M1063.4 297.9h0M1046.0 336.7h0M1055.7 345.3h0M991.2 292.1h0M1061.4 358.5h0M991.6 343.5h0M1069.3 316.4h0M988.9 366.9h0M1009.2 296.1h0M1070.4 301.9h0M1045.1 366.3h0M1010.7 331.8h0M1024.9 418.9h0M1008.8 342.0h0M1062.4 351.8h0M1032.4 454.4h0M994.8 361.1h0M1012.9 326.4h0M999.5 423.6h0M1057.4 446.3h0M1049.9 364.7h0M1024.6 400.3h0M1000.3 425.5h0M1059.7 359.1h0M1012.4 424.5h0M1035.7 355.4h0M1041.3 294.0h0M1006.5 342.2h0M1034.1 351.3h0M1003.3 428.8h0M1068.6 278.9h0M1006.1 379.8h0M1051.6 251.6h0M1040.1 398.1h0M1063.2 360.2h0M990.1 446.6h0M1022.4 342.3h0M1029.7 453.1h0M1029.3 359.9h0M1059.2 254.9h0M1047.0 317.3h0M1063.4 448.4h0M1059.3 305.1h0M1002.4 442.4h0M999.7 385.8h0M1049.0 401.3h0M1075.5 391.4h0M1030.4 369.9h0M989.9 522.6h0M1002.8 300.0h0M1075.1 375.2h0M1041.2 435.9h0M1006.5 349.1h0M1062.2 275.1h0M1012.0 435.5h0M1028.6 326.0h0M1062.5 374.5h0M996.2 363.2h0M1020.6 404.7h0M1024.3 365.9h0M1054.0 329.3h0M1024.8 469.8h0M990.5 420.4h0M1032.7 404.0h0M996.8 408.4h0M1030.4 481.5h0M1059.9 409.7h0M1057.4 447.8h0M1005.6 348.3h0M994.4 373.8h0M1040.9 362.6h0M995.0 348.6h0M1027.4 404.4h0M999.0 438.3h0M1035.5 327.7h0M1018.8 400.3h0M1034.4 413.2h0M1036.2 267.7h0M1010.5 468.2h0M1012.8 318.1h0M1024.1 285.1h0M1001.1 394.5h0M996.2 411.5h0M1030.3 348.3h0M1027.9 425.2h0M1070.1 501.1h0M986.8 300.5h0M1075.4 268.2h0M1049.8 458.4h0M1051.5 326.2h0M1023.7 359.1h0M1033.3 373.3h0M1011.4 324.1h0M995.8 399.1h0M1002.5 390.6h0M1022.1 361.7h0M1025.8 350.1h0M1004.8 528.3h0M1033.7 292.9h0M997.4 331.9h0M1049.5 299.1h0M1002.1 380.1h0M1047.4 437.2h0M1034.7 334.1h0M1066.3 335.1h0M1065.6 306.0h0M1038.3 324.5h0M1032.8 425.8h0M1050.4 441.8h0M1066.0 383.6h0M1025.4 344.1h0M1058.3 375.3h0M987.2 404.5h0M1040.9 360.1h0M1008.2 490.0h0M1038.1 377.5h0M1002.9 513.5h0M1044.0 260.6h0M1046.3 488.5h0M1006.0 252.1h0M1062.2 311.8h0M1061.1 300.6h0M1037.5 315.7h0M1048.2 393.9h0M997.6 364.2h0M1041.1 265.0h0M1061.7 439.0h0M1031.6 383.7h0M1044.2 307.1h0M1033.1 412.5h0M1013.1 255.9h0M1071.4 445.6h0M998.1 417.6h0M1047.1 364.1h0M1061.1 418.6h0M1040.8 386.4h0M1030.6 369.9h0M997.1 381.2h0M998.7 347.6h0M1047.4 344.8h0M1019.3 347.6h0M1074.0 355.5h0M998.6 364.1h0M997.1 346.3h0M1045.5 343.4h0M1002.7 315.9h0M1008.6 260.5h0M1004.2 408.3h0M1032.9 250.2h0M1039.6 309.6h0M1074.5 300.5h0M1009.1 399.2h0M1071.7 347.6h0M1071.6 343.9h0M1067.8 382.4h0M1021.3 318.4h0M1055.8 441.3h0M1010.1 421.1h0M1030.3 311.9h0M1070.0 339.8h0M1035.1 472.3h0M1024.0 339.6h0M1039.2 358.6h0M1006.3 313.4h0M1055.9 373.7h0M998.1 370.6h0M1032.7 436.8h0M1011.3 380.4h0M1053.2 399.5h0M1063.6 338.9h0M1027.6 505.7h0M1002.7 376.1h0M1030.9 303.2h0M1030.4 331.7h0M1022.0 347.8h0M1037.4 367.6h0M1029.9 354.0h0M1075.0 421.6h0M1042.9 321.0h0M1016.7 359.7h0M1030.0 493.5h0M1054.9 334.4h0M1068.1 452.3h0M986.4 443.1h0M1054.5 354.1h0M1024.3 405.8h0M1059.0 368.5h0M1050.1 362.4h0M1047.6 387.5h0M1074.3 353.2h0M1049.0 480.2h0M1057.2 269.4h0M1003.2 322.9h0M996.3 421.2h0M991.5 392.4h0M1006.8 283.8h0M1039.8 437.0h0M1002.8 486.0h0M1023.5 243.5h0M1056.9 291.5h0M1056.9 352.4h0M1049.2 267.7h0M1060.8 346.2h0M1053.3 329.7h0M1063.5 337.5h0M1009.5 326.6h0M1030.3 437.6h0M1055.8 371.2h0M1064.2 352.2h0M1009.9 443.8h0M1020.5 457.6h0M1012.7 379.7h0M1058.2 271.4h0M1005.7 382.9h0M1017.3 305.3h0M1008.3 293.5h0M1020.8 287.3h0M1042.4 332.5h0M1040.5 486.6h0M1053.0 513.3h0M1017.9 446.5h0M1061.5 392.8h0M1030.1 381.8h0M1026.0 405.4h0M1062.2 396.7h0M1069.3 335.2h0M996.7 452.4h0M1072.5 335.5h0M989.6 338.0h0M994.9 488.4h0M1004.3 364.4h0M1069.9 376.2h0M1020.2 340.7h0M1070.2 344.4h0M997.4 517.0h0M1038.7 250.3h0M1056.8 366.8h0M1040.0 311.5h0M1031.1 315.9h0M1004.5 439.1h0M1033.7 378.2h0M1074.3 387.6h0M991.2 232.1h0M1030.6 461.6h0M998.6 273.7h0M1005.7 315.9h0M1053.3 380.4h0M1019.4 441.8h0M1028.4 386.6h0M1051.8 329.8h0M1055.4 435.1h0M1006.2 359.6h0M1040.8 333.3h0M992.1 328.4h0M1051.1 396.4h0M1026.6 331.7h0M1012.7 325.5h0M1067.1 505.5h0M1020.7 451.1h0M994.3 466.6h0M1022.4 423.3h0M1057.1 324.6h0M1043.2 341.8h0M1000.3 349.6h0M1071.2 409.1h0M1026.2 308.5h0M1049.0 478.5h0M1003.6 466.9h0M1065.1 329.4h0M1002.2 393.1h0M1071.5 305.5h0M1067.4 318.9h0M1025.5 312.9h0M1057.3 427.0h0M1018.9 411.3h0M1009.7 483.9h0M986.2 374.8h0M1014.3 376.3h0M1076.1 412.9h0M1040.4 393.0h0M1018.6 362.9h0M1041.3 315.8h0M1026.7 413.2h0M1047.8 415.9h0M1063.8 382.2h0M1001.1 338.7h0M1054.2 253.5h0M1033.9 313.1h0M988.5 533.4h0M1045.0 487.2h0M1074.3 428.0h0M1075.9 330.5h0M1043.5 435.8h0M987.2 462.5h0M1021.1 390.0h0M1030.7 357.7h0M1018.7 401.9h0M1068.2 379.5h0M1065.8 317.1h0M1010.9 447.4h0M1066.5 379.0h0M1004.5 501.8h0M1042.8 458.8h0M1066.4 311.7h0M1026.9 428.0h0M993.2 444.7h0M1074.7 325.8h0M1060.4 409.9h0M1042.5 318.3h0M1067.5 253.0h0M1009.3 233.4h0M1049.7 393.1h0M997.8 356.5h0M1075.5 416.4h0M999.4 265.6h0M1056.1 341.5h0M1005.3 194.1h0M1010.1 409.3h0M1024.1 381.8h0M1056.3 425.1h0M1019.2 420.6h0M1007.7 347.7h0M1033.6 314.7h0M1023.0 431.1h0M990.9 387.3h0M1045.4 339.9h0M1018.8 384.1h0M1056.0 335.4h0M990.3 276.6h0M1014.7 419.7h0M1069.6 359.0h0M1057.2 303.1h0M1039.6 372.9h0M1032.3 276.8h0M987.3 399.3h0M1061.3 305.0h0M1013.3 361.2h0M1021.1 338.2h0M1039.8 420.8h0M1041.5 306.1h0M1072.9 451.7h0M1014.6 307.3h0M1005.0 375.4h0M1024.0 359.1h0M1039.6 290.5h0M1021.2 465.9h0M1012.5 325.2h0M1000.6 351.5h0M1058.1 408.4h0M1001.0 322.0h0M1055.9 376.2h0M1073.9 252.4h0M988.2 406.7h0M1041.4 272.1h0M1043.9 282.9h0M1011.0 350.0h0M1001.5 417.7h0M1043.3 375.4h0M1028.7 458.2h0M1060.8 419.4h0M1015.4 413.5h0M988.7 350.9h0M995.0 465.6h0M1063.3 345.4h0M1027.4 403.9h0M1058.5 312.1h0M1035.5 335.8h0M1018.8 413.8h0M1027.6 358.5h0M989.1 360.3h0M1039.9 408.8h0M1008.2 391.6h0M996.8 383.7h0M1025.0 439.6h0M1046.7 454.6h0M1053.4 361.7h0M1013.6 490.2h0M1030.1 344.3h0M997.3 321.7h0M1063.7 402.6h0M1043.4 347.0h0M1060.4 424.8h0M1019.3 332.8h0M1028.6 174.7h0M1061.1 343.0h0M1042.5 378.7h0M1054.9 377.3h0M994.5 465.6h0M1018.3 422.5h0M1051.3 394.1h0M1009.9 415.5h0M1032.0 370.2h0M1065.1 295.3h0M1058.9 466.9h0M1072.8 418.3h0M1019.2 367.9h0M1047.5 453.4h0M1019.0 437.0h0M1023.0 346.3h0M1009.5 340.6h0M1055.0 357.3h0M1038.6 443.4h0M1050.5 343.5h0M986.5 325.3h0M1060.9 407.9h0M1036.2 375.1h0M1035.2 396.6h0M1002.1 394.5h0M1043.2 412.5h0M1058.6 352.2h0M997.7 430.4h0M1071.9 268.1h0M1021.5 336.7h0M997.9 394.3h0M1024.2 235.1h0M1030.4 367.9h0M1037.1 523.7h0M1044.3 306.7h0M1068.5 332.5h0M1002.1 379.6h0M1043.7 372.7h0M1036.6 415.4h0M1032.1 453.3h0M1074.5 447.1h0M1050.6 216.4h0M1055.9 417.2h0M1065.3 367.8h0M1023.9 261.0h0M1070.3 422.2h0M1047.1 382.3h0M1001.0 405.9h0M1041.0 472.4h0M1018.5 344.6h0M1012.2 337.6h0M1010.0 391.6h0M1051.5 390.4h0M991.0 336.5h0M1050.1 331.9h0M1062.4 250.8h0M1065.3 330.8h0M1019.6 324.3h0M1034.2 416.8h0M1052.9 462.7h0M1034.9 293.1h0M1075.8 428.7h0M1072.1 331.6h0M1006.6 369.3h0M1012.3 427.4h0M999.8 358.9h0M1043.2 264.3h0M1068.0 286.6h0M1038.9 404.3h0M996.2 391.4h0M1067.4 505.0h0M1030.4 452.1h0M996.6 410.4h0M1009.9 374.7h0M1040.7 346.4h0M1063.7 402.6h0M1071.2 295.8h0M1046.3 431.7h0M1067.2 328.8h0M1007.7 437.8h0M1015.7 395.8h0M1030.5 361.2h0M1066.8 323.4h0M1009.8 417.9h0M1033.6 398.6h0M1006.5 387.6h0M1017.5 355.5h0M986.8 280.2h0M1015.8 327.9h0M1058.7 392.5h0M1036.5 391.2h0M1062.7 292.4h0M1040.3 285.1h0M1013.1 305.8h0M1048.1 371.6h0M1010.5 429.1h0M990.2 419.8h0M1038.5 364.1h0M992.6 438.9h0M990.4 382.8h0M1048.9 234.6h0M1075.2 348.6h0M1050.7 317.7h0M1024.6 434.1h0M1028.0 281.3h0M1051.0 394.2h0M1046.1 365.5h0M1019.9 357.4h0M1007.3 366.0h0M1068.7 403.7h0M1062.7 330.4h0M1027.0 238.5h0M992.6 391.2h0M1009.6 315.8h0M1027.1 438.5h0M1071.4 348.8h0M1033.8 408.7h0M1064.4 278.4h0M1021.4 395.8h0M1054.0 327.9h0M1035.1 362.5h0M988.7 444.2h0M1049.4 364.9h0M1075.6 368.4h0M1058.5 317.5h0M1075.7 379.7h0M1072.3 481.4h0M1007.8 432.4h0M1009.2 401.2h0M1067.5 325.2h0M1072.9 392.0h0M1017.6 310.8h0M1050.5 386.6h0M1035.8 344.6h0M993.0 305.7h0M1036.9 358.9h0M1043.4 476.2h0M1013.2 296.9h0M1033.7 383.1h0M1044.1 318.3h0M1035.7 371.1h0M1030.4 373.5h0M1066.7 399.6h0M999.1 378.4h0M997.8 435.0h0M1063.2 430.0h0M990.8 341.5h0M999.5 385.8h0M1014.8 324.9h0M1019.9 346.9h0M1069.9 416.6h0M1021.7 370.5h0M1068.8 392.3h0M1027.1 338.3h0M1055.0 265.6h0M1008.3 368.3h0M1029.1 402.9h0M1061.2 234.8h0M989.1 388.6h0M1008.6 417.1h0M1049.4 395.1h0M1002.7 508.0h0M1015.5 274.9h0M1037.2 301.3h0M1048.2 302.6h0M1011.4 336.3h0M1024.4 383.1h0M1045.3 404.8h0M1007.3 420.6h0M992.5 324.7h0M1040.9 312.7h0M1066.8 322.2h0M1026.1 437.5h0M1003.8 249.4h0M998.4 420.5h0M1058.5 370.9h0M1043.6 374.4h0M1014.8 402.3h0M996.9 515.9h0M1044.3 450.4h0M1076.0 408.6h0M1026.0 308.9h0M1067.0 399.5h0M997.7 351.5h0M1020.4 450.1h0M1030.4 396.7h0M1069.2 296.1h0M991.3 256.6h0M1076.0 349.8h0M1003.2 336.6h0M1004.3 364.0h0M1037.3 381.6h0M1063.3 367.5h0M1065.5 309.7h0M1000.2 417.0h0M1073.6 444.7h0M1014.0 336.2h0M1073.3 412.0h0M1003.5 348.9h0M1010.7 441.4h0M1036.3 358.3h0M1027.0 401.8h0M1054.2 409.3h0M1044.7 330.9h0M1070.6 414.6h0M1060.7 528.1h0M992.1 453.7h0M1052.0 390.6h0M987.6 270.9h0M1020.5 399.1h0M1045.9 450.5h0M1043.3 411.2h0M995.8 308.4h0M1055.2 351.4h0M1014.7 343.4h0M1045.8 339.2h0M1016.5 277.6h0M1021.8 455.3h0M1060.5 289.2h0M1046.1 334.4h0M1008.9 433.0h0M1036.8 326.7h0M1054.1 284.4h0M1033.1 386.6h0M1005.6 306.7h0M1070.7 506.5h0M1052.3 466.3h0M994.6 339.8h0M1045.9 365.9h0M1073.3 328.2h0M1025.7 338.4h0M987.6 315.4h0M990.7 462.4h0M1071.7 461.8h0M1015.1 296.3h0M1030.7 347.1h0M1017.2 365.2h0M1015.4 378.8h0M991.5 264.4h0M1026.5 412.5h0M1048.8 341.7h0M1044.8 274.3h0M1009.6 403.2h0M1014.8 403.5h0M988.4 386.8h0M1060.3 493.2h0M1029.3 295.2h0M1007.1 303.8h0M1056.9 248.9h0M996.5 366.1h0M1018.8 336.3h0M1012.3 319.7h0M1022.5 257.1h0M996.3 340.6h0M1039.6 330.9h0M1044.7 404.1h0M1054.3 339.4h0M1021.9 361.4h0M1032.5 294.6h0M1030.7 314.0h0M1046.9 433.5h0M987.8 429.5h0M1057.0 339.2h0M1033.7 388.0h0M1074.4 343.1h0M1051.9 290.2h0M1035.9 442.1h0M1066.4 337.5h0M1065.4 424.4h0M1062.0 365.9h0M994.0 371.8h0M1062.8 433.1h0M1040.8 512.3h0M1027.3 390.9h0M1049.0 443.3h0M1025.0 356.5h0M1060.5 361.1h0M995.3 308.7h0M989.2 333.9h0M1019.3 490.1h0M1011.7 478.6h0M1011.6 425.6h0M1008.7 377.3h0M1046.4 353.7h0M992.6 412.4h0M1010.8 348.2h0M1059.2 428.3h0M1049.4 300.1h0M1071.4 396.9h0M1031.6 401.3h0M1025.5 398.9h0M1065.8 366.5h0M997.6 273.9h0M1031.4 354.3h0M1031.1 305.7h0M1065.8 412.9h0M1002.8 324.3h0M993.6 317.1h0M990.8 301.6h0M1055.4 424.8h0M990.1 421.2h0M1075.0 362.1h0M1024.8 327.2h0M1016.0 417.5h0M994.5 352.9h0M1067.5 265.0h0M1068.4 488.7h0M1056.1 445.0h0M996.2 378.1h0M987.4 335.2h0M1039.8 366.8h0M1028.5 332.0h0M1071.5 275.0h0M1024.0 394.1h0M1004.4 417.2h0M1021.7 275.5h0M1019.2 469.9h0M1062.4 308.6h0M1006.9 279.6h0M1061.2 344.1h0M987.5 398.0h0M1011.0 351.9h0M1039.5 397.5h0M1040.7 236.5h0M996.1 323.1h0M1022.3 358.1h0M992.4 335.1h0M1006.1 329.5h0M1063.6 296.2h0M994.2 341.6h0M1031.8 411.6h0M1067.1 379.8h0M1046.6 430.4h0M1047.0 450.4h0M1032.5 346.6h0M1001.9 397.4h0M1055.8 373.1h0M1063.3 322.0h0M1022.1 304.0h0M1057.0 355.4h0M1070.4 396.2h0M991.2 320.0h0M1046.9 413.0h0M998.6 265.9h0M1028.6 390.4h0M1072.7 289.5h0M987.2 426.9h0M1066.5 310.1h0M1056.6 333.6h0M1007.7 370.8h0M1071.7 294.8h0M1046.1 328.4h0M991.0 355.5h0M1010.6 367.5h0M1047.4 330.9h0M1024.1 352.2h0M992.0 411.5h0M1068.4 406.3h0M1060.9 372.2h0M1006.5 436.9h0M1044.4 485.9h0M1034.3 309.8h0M1003.4 398.6h0M1071.2 218.8h0M991.1 349.4h0M1059.0 311.7h0M1039.2 314.2h0M1074.0 359.9h0M1028.5 385.6h0M1016.1 463.8h0M988.6 432.5h0M1070.0 449.1h0M996.8 455.1h0M994.6 461.0h0M1000.6 351.6h0M1027.9 489.7h0M1070.8 263.4h0M1036.5 417.0h0M1010.8 339.1h0M1058.5 346.2h0M989.5 338.1h0M1053.8 371.1h0M1054.6 377.4h0M1011.0 357.4h0M1016.2 309.6h0M1035.0 320.6h0M1027.8 353.3h0M1043.4 458.2h0M1061.3 421.0h0M1022.0 360.1h0M1008.7 290.8h0M1053.2 273.2h0M1023.3 402.5h0M1019.5 344.2h0M1042.4 401.4h0M1053.8 425.5h0M1060.9 360.7h0M1030.7 329.6h0M1072.6 350.9h0M1004.1 514.8h0M1061.6 293.2h0M1013.3 499.7h0M1009.5 299.4h0M997.4 276.5h0M1030.2 166.6h0M1010.4 459.1h0M1022.9 399.4h0M1067.7 358.8h0M1051.8 338.0h0M1041.7 396.3h0M1043.6 295.3h0M1001.8 393.2h0M1008.6 364.6h0M1027.7 368.3h0M1030.6 318.6h0M1039.6 334.9h0M1039.2 466.6h0M1032.8 314.3h0M1053.3 430.5h0M1054.8 425.3h0M1028.3 412.3h0M1006.2 380.5h0M1042.2 327.0h0M1046.6 327.5h0M1067.7 460.1h0M1047.8 371.0h0M1005.6 297.7h0M1064.0 306.5h0M1047.1 353.2h0M999.5 411.7h0M1054.7 327.0h0M991.2 381.0h0M1007.9 453.1h0M1065.5 524.9h0M1049.9 333.6h0M1062.3 289.3h0M991.9 239.9h0M1001.6 280.8h0M1037.6 336.0h0M995.6 372.7h0M1068.3 352.9h0M1012.1 322.9h0M1041.8 440.3h0M1003.4 357.2h0M1018.1 389.8h0M994.4 322.0h0M1033.1 326.9h0M1016.3 503.2h0M1007.7 468.6h0M1067.6 369.2h0M1021.9 334.2h0M1013.2 422.2h0M1015.6 361.6h0M1070.4 370.3h0M1016.0 403.4h0M999.2 409.1h0M1028.5 347.6h0M1007.0 295.4h0M1041.9 407.5h0M1054.8 334.6h0M987.6 355.5h0M996.3 404.7h0M1068.2 405.8h0M994.9 430.3h0M1074.7 360.5h0M1042.1 333.2h0M1010.7 389.2h0M1069.6 484.8h0M1044.7 366.4h0M986.4 380.0h0M996.9 397.5h0M1047.7 301.3h0M999.9 424.6h0M1073.8 392.6h0M1030.7 363.5h0M1005.1 278.5h0M1053.2 440.9h0M991.2 359.3h0M1061.0 489.8h0M1030.2 416.3h0M1073.5 391.4h0M1005.7 456.7h0M991.3 338.7h0M1046.4 357.8h0M1064.0 422.9h0M1058.6 366.6h0M1017.3 419.5h0M1003.9 391.9h0M1051.1 388.7h0M1051.7 287.0h0M1031.6 430.9h0M1013.7 338.4h0M1038.0 300.4h0M996.8 367.3h0M1017.5 333.7h0M1056.6 243.5h0M1065.5 440.9h0M1022.7 443.2h0M1000.1 333.9h0M1010.5 368.9h0M1028.1 274.7h0M1017.5 406.3h0M991.0 365.2h0M991.5 329.6h0M1040.9 505.4h0M1060.6 279.7h0M1055.3 365.7h0M1000.1 426.3h0M1027.7 408.0h0M1075.0 401.4h0M1075.6 284.2h0M1009.7 425.1h0M990.2 285.0h0M1024.4 406.2h0M1054.6 340.8h0M1071.6 392.6h0M1005.7 371.1h0M1063.0 307.5h0M998.9 374.8h0M1011.5 407.0h0M1020.3 307.0h0M1017.8 240.4h0M1018.1 381.6h0M986.3 385.4h0M1070.1 403.7h0M998.6 455.1h0M1032.5 416.5h0M1069.1 346.2h0M1070.7 409.6h0M1056.3 350.1h0M1017.0 358.7h0M1020.0 330.9h0M1043.6 275.6h0M1047.4 375.1h0M1054.3 458.1h0M1072.1 357.0h0M986.6 335.7h0M1047.8 258.7h0M1016.7 368.5h0M1051.4 414.6h0M1000.4 429.9h0M997.7 334.8h0M1031.9 386.9h0M1023.2 308.7h0M1037.4 287.6h0M1061.2 371.6h0M990.3 335.4h0M1055.8 369.3h0M1017.3 333.8h0M1040.2 458.7h0M1035.4 427.1h0M988.7 269.7h0M998.2 467.3h0M1056.8 438.9h0M995.6 337.7h0M1054.1 434.0h0M1038.1 400.9h0M1007.5 430.5h0M1033.4 279.3h0M1050.7 380.7h0M1003.0 271.0h0M1028.9 358.6h0M1002.6 476.1h0M1001.8 364.4h0M1031.2 489.7h0M1004.9 312.7h0M993.6 513.2h0M1020.1 306.5h0M1024.6 338.6h0M1059.2 278.7h0M1027.2 344.9h0M998.2 355.6h0M1045.3 397.1h0M1027.8 413.0h0M1067.3 419.9h0M1046.2 394.5h0M992.5 387.9h0M990.8 224.2h0M1067.1 346.5h0M1005.7 430.6h0M1040.7 287.9h0M1063.8 367.5h0M1013.3 418.5h0M1004.9 366.4h0M1067.4 416.4h0M991.1 339.7h0M988.3 394.1h0M1051.4 306.6h0M1033.8 452.3h0M1001.2 359.8h0M1000.3 457.8h0M992.2 257.1h0M1014.6 448.7h0M992.4 248.0h0M1057.0 389.9h0M1059.4 308.1h0M1006.1 426.2h0M1000.8 393.9h0M1035.0 284.5h0M1057.4 459.0h0M1043.8 336.3h0M1062.3 476.7h0M988.5 239.7h0M1028.1 305.7h0M1051.4 491.4h0M1057.3 397.1h0M1038.1 305.6h0M1036.8 228.5h0M1047.7 378.5h0M1024.6 493.4h0M1023.3 293.4h0M1041.0 425.2h0M1012.1 375.5h0M1047.7 406.1h0M1032.9 466.9h0M988.0 521.7h0M1070.2 276.4h0M1054.5 368.3h0M1065.3 376.0h0M1067.1 416.6h0M1021.5 354.4h0M1002.8 448.9h0M1024.5 454.0h0M1064.2 469.9h0M998.9 474.4h0M999.9 362.4h0M1049.7 479.4h0M1017.5 260.0h0M1073.8 389.7h0M1071.0 412.3h0M989.2 398.6h0M1044.6 280.9h0M1010.3 532.4h0M1009.9 381.1h0M1073.6 267.4h0M1028.4 311.7h0M1009.6 360.6h0M1012.7 407.4h0M1050.3 230.0h0M1031.0 410.0h0M1038.9 256.8h0M1066.4 443.2h0M1075.9 483.0h0M1037.2 380.5h0M1018.6 409.8h0M1036.1 383.8h0M1072.3 221.5h0M1020.8 391.3h0M1075.2 353.2h0M1020.9 383.1h0M989.9 382.8h0M1021.1 365.6h0M1048.6 371.3h0M1004.9 380.8h0M1017.9 357.4h0M986.7 353.4h0M1067.0 370.8h0M1002.3 479.3h0M1056.0 437.6h0M1023.2 457.8h0M1054.4 398.6h0M1048.9 282.0h0M989.1 363.7h0M1067.7 409.7h0M1066.0 250.2h0M1060.9 328.2h0M1032.0 425.1h0M1041.1 349.5h0M1039.0 313.5h0M1068.8 317.3h0M1036.9 418.7h0M1026.2 364.2h0M1040.0 422.4h0M993.9 466.7h0M1001.9 345.2h0M1007.2 507.8h0M1028.7 389.4h0M1019.5 312.4h0M1023.5 338.7h0M1046.7 381.0h0M1044.3 352.7h0M989.8 367.3h0M1068.6 291.2h0M1070.8 341.7h0M1039.7 327.9h0M1009.5 419.8h0M1005.7 384.5h0M1044.7 408.3h0M1033.9 307.4h0M988.2 318.8h0M1066.5 365.6h0M1010.5 317.1h0M1064.4 366.4h0M1058.6 382.6h0M1041.2 334.1h0M1030.3 352.6h0M1048.9 220.7h0M1068.2 452.2h0M1038.3 306.3h0M1046.8 428.7h0M1070.0 317.7h0M1001.0 432.4h0M1072.3 479.3h0M1004.9 267.4h0M988.6 379.7h0M1051.6 262.8h0M1023.7 414.7h0M1053.8 421.1h0M1060.9 288.6h0M993.2 408.1h0M1005.0 365.2h0M1074.6 426.1h0M989.5 384.2h0M997.3 510.4h0M1065.6 394.3h0M1071.0 378.7h0M1006.9 309.7h0M1034.6 306.6h0M990.5 376.0h0M1059.4 363.8h0M988.5 372.7h0M1073.6 230.7h0M992.0 414.5h0M1031.6 315.0h0M1047.5 360.8h0M1002.5 450.0h0M1047.6 331.7h0M1009.6 292.3h0M1063.4 347.1h0M1069.9 441.7h0M1041.7 329.1h0M1043.8 326.0h0M1073.8 394.8h0M990.7 308.7h0M1071.6 471.2h0M991.3 445.8h0M1057.0 390.0h0M1004.0 367.7h0M1000.4 309.5h0M1025.8 306.2h0M991.3 416.0h0M1033.2 301.1h0M1061.9 266.1h0M1039.1 312.8h0M1061.7 374.6h0M1051.5 383.4h0M1000.5 420.1h0M1000.7 492.6h0M1030.7 418.0h0M1025.7 460.1h0M992.4 355.9h0M1045.2 360.6h0M1028.8 344.2h0M1070.2 347.4h0M1055.0 336.9h0M1014.4 402.1h0M1019.0 391.1h0M1075.5 341.1h0M1030.4 275.4h0M1062.0 483.2h0M1042.4 440.5h0M1000.1 387.5h0M1004.5 436.8h0M995.4 407.2h0M1041.0 370.8h0M1039.0 423.2h0M1015.5 320.0h0M1053.4 327.1h0M1027.7 323.7h0M1023.3 341.9h0M1070.5 321.9h0M1069.3 319.1h0M1023.1 431.0h0M1058.6 232.3h0M1036.1 415.0h0M1050.9 348.7h0M999.0 465.4h0M1042.0 445.4h0M1006.9 356.2h0M1069.5 344.3h0M1044.7 270.1h0M1048.8 314.5h0M1050.6 287.3h0M1021.0 241.9h0M1009.6 466.6h0M1047.8 273.1h0M1019.8 419.7h0M1068.0 347.5h0M1033.1 374.4h0M1011.3 310.0h0M1034.4 313.3h0M1065.2 330.7h0M988.8 395.8h0M1014.8 486.7h0M1020.8 362.8h0M1006.4 369.0h0M1022.5 364.0h0M1027.3 330.3h0M995.9 242.1h0M1000.1 295.0h0M999.5 337.9h0M995.5 400.6h0M1051.3 446.0h0M1074.4 269.3h0M1021.2 321.7h0M1061.5 363.3h0M1022.6 465.7h0M992.7 388.4h0M1005.2 325.1h0M990.1 338.3h0M1072.7 394.2h0M1005.1 353.3h0M1000.6 381.6h0M1074.1 391.4h0M1068.9 276.5h0M997.4 318.6h0M1065.7 345.3h0M1065.7 395.4h0M1016.3 278.1h0M1056.8 453.3h0M1062.2 350.1h0M1048.3 436.8h0M1021.6 503.2h0M991.1 398.2h0M1024.5 502.1h0M1045.8 389.4h0M1042.7 461.0h0M992.5 371.6h0M1060.2 403.9h0M1018.0 472.5h0M1042.9 401.1h0M1062.6 423.8h0M991.7 277.6h0M1043.5 281.6h0M1008.1 322.7h0M1052.3 315.2h0M1055.3 216.5h0M997.2 353.8h0M1041.0 359.1h0M1041.7 267.8h0M1001.1 329.5h0M1041.7 428.0h0M1019.8 267.3h0M1041.8 356.4h0M1030.2 276.1h0M1047.5 267.1h0M992.4 392.5h0M1035.5 365.2h0M1044.6 330.7h0M1017.5 450.0h0M1051.4 431.1h0M991.3 359.1h0M1050.6 369.3h0M1027.7 428.4h0M1032.5 374.8h0M1032.8 344.5h0M1009.1 414.7h0M1057.0 421.7h0M1010.5 381.1h0M1060.0 440.9h0M1005.3 427.7h0M988.6 397.5h0M1034.4 499.3h0M1011.1 410.9h0M1025.0 358.8h0M987.8 440.4h0M1043.8 299.7h0M990.8 352.3h0M1066.6 287.1h0M997.7 377.0h0M1020.7 331.4h0M1074.5 377.2h0M1027.3 442.0h0M1038.0 334.3h0M997.5 419.1h0M1061.7 336.5h0M1007.1 436.9h0M1071.8 371.2h0M1023.5 390.6h0M1005.6 291.2h0M1032.5 391.3h0M1051.1 299.0h0M1070.4 337.1h0M1062.4 272.7h0M1040.9 396.3h0M994.2 308.0h0M1009.8 310.7h0M1042.7 325.6h0M1006.3 352.4h0M1027.9 277.5h0M1066.1 457.6h0M1054.0 319.8h0M1006.0 405.1h0M1034.0 334.8h0M1064.0 312.9h0M1023.0 345.6h0M1073.3 386.2h0M1050.7 429.9h0M992.3 463.9h0M1075.5 415.6h0M1053.3 340.3h0M1071.2 467.0h0M1055.7 204.0h0M1064.4 374.6h0M986.9 420.6h0M1058.2 303.5h0M1018.2 299.2h0M1072.6 343.4h0M1039.7 418.7h0M1072.9 365.2h0M1062.8 295.1h0M999.6 320.3h0M1002.7 498.5h0M998.9 318.5h0M1044.7 258.4h0M992.6 416.0h0M1024.4 493.4h0M1014.6 420.6h0M1058.0 363.9h0M1070.1 383.1h0M1073.9 383.5h0M1075.6 416.8h0M1022.8 419.5h0M1056.8 377.7h0M1064.7 299.5h0M1060.4 425.1h0M1068.3 302.0h0M1057.9 285.8h0M1043.1 309.3h0M1019.6 408.5h0M1038.7 288.0h0M1027.5 401.8h0M1058.7 389.6h0M1065.7 473.8h0M1004.0 438.6h0M1050.4 434.1h0M1020.5 286.1h0M1038.9 352.3h0M1056.6 355.8h0M1050.0 398.5h0M992.6 402.6h0M1020.7 439.3h0M1012.9 399.0h0M1009.5 286.9h0M1018.8 389.5h0M1027.9 243.1h0M1023.7 338.4h0M1023.9 398.3h0M1050.7 290.9h0M1043.7 376.7h0M1067.1 309.2h0M1045.9 407.7h0M1068.4 280.2h0M1011.3 347.2h0M1054.2 359.6h0M990.3 311.9h0M1054.2 407.6h0M1043.8 509.4h0M1023.9 428.0h0M1008.6 314.6h0M1057.9 273.7h0M1043.8 461.8h0M1063.0 340.5h0M1009.1 336.0h0M990.2 462.2h0M1061.1 486.7h0M1034.0 260.4h0M1065.9 348.1h0M1007.8 396.3h0M993.1 340.3h0M1004.1 482.4h0M1058.7 351.0h0M1010.8 383.4h0M1037.3 397.9h0M1025.3 305.0h0M1043.4 376.5h0M1055.7 375.5h0M1024.4 408.0h0M1030.4 430.3h0M1025.3 386.4h0M1011.7 282.6h0M1052.0 508.2h0M991.5 450.8h0M1057.2 420.3h0M1021.2 340.0h0M1029.5 426.1h0M1010.2 343.2h0M1063.6 521.6h0M1043.9 452.0h0M1037.8 337.2h0M999.7 365.4h0M1054.5 296.6h0M988.4 337.8h0M988.3 333.4h0M1038.3 439.3h0M1058.5 421.4h0M1023.4 316.7h0M1067.1 361.6h0M1042.5 267.8h0M996.0 354.6h0M1004.1 371.5h0M1017.7 380.2h0M1000.5 285.0h0M1061.2 315.3h0M1064.8 412.4h0M988.3 341.9h0M1020.2 436.5h0M1030.1 319.5h0M1029.7 395.6h0M995.7 285.0h0M1030.7 280.9h0M995.4 325.1h0M1027.0 480.9h0M1053.0 414.0h0M1024.9 358.1h0M995.7 359.7h0M1000.1 353.0h0M987.3 309.8h0M1016.5 422.1h0M1049.0 458.3h0M995.4 468.4h0M1045.2 305.0h0M1033.4 319.6h0M1060.8 409.4h0M997.1 382.1h0M1030.1 293.8h0M1031.9 401.3h0M1068.8 333.0h0M1030.6 326.3h0M1024.3 362.2h0M1058.4 324.7h0M1029.0 304.6h0M1059.2 404.6h0M1011.6 490.3h0M1033.8 389.0h0M1057.5 478.8h0M1056.7 492.8h0M1018.7 334.0h0M1014.8 447.1h0M1063.5 411.6h0M1024.3 370.4h0M1015.0 441.6h0M1026.7 340.5h0M1035.0 254.4h0M1021.6 437.0h0M1044.9 383.2h0M1066.4 440.6h0M1059.3 268.2h0M1008.2 386.6h0M1053.9 411.8h0M1017.7 349.7h0M1064.6 401.4h0M990.7 284.1h0M990.8 389.7h0M1038.0 424.2h0M1073.9 400.6h0M1016.2 351.6h0M1062.0 344.7h0M1029.7 504.3h0M1062.7 421.2h0M1040.3 367.9h0M1021.7 280.7h0M1037.2 440.5h0M1047.0 435.7h0M1036.4 385.9h0M1002.9 297.0h0M1045.0 444.5h0M1036.0 408.7h0M991.2 432.5h0M1019.4 321.1h0M1008.8 282.3h0M1034.2 243.3h0M1011.0 272.3h0M993.4 320.4h0M1025.4 417.8h0M1006.3 347.2h0M1037.5 295.7h0M1004.0 325.2h0M1022.2 436.3h0M1019.6 396.8h0M1075.7 406.8h0M1012.7 313.3h0M997.8 360.2h0M1027.4 405.5h0M1003.4 331.9h0M1027.5 350.5h0M1003.8 420.5h0M1021.0 305.9h0M1017.8 371.5h0M1052.3 386.5h0M1058.3 442.3h0M1051.4 369.7h0M1065.0 344.1h0M1032.2 527.2h0M1033.2 426.1h0M1048.7 400.1h0M995.1 345.9h0M1013.6 464.9h0M1024.9 248.1h0M1035.2 398.3h0M1043.0 440.1h0M1043.9 391.3h0M1016.0 324.5h0M1051.8 382.9h0M1026.2 429.9h0M1042.2 365.8h0M1014.9 361.2h0M986.4 372.7h0M1015.0 445.6h0M992.4 359.8h0M1027.9 112.5h0M1011.3 394.2h0M1075.0 366.7h0M1060.9 519.9h0M1067.3 380.2h0M1035.8 359.7h0M1013.6 411.1h0M1073.7 392.6h0M1063.4 449.2h0M1067.9 328.2h0M1031.9 380.6h0M1071.7 462.0h0M1008.9 405.8h0M1066.4 363.6h0M1010.0 368.8h0M1022.3 215.6h0M1075.9 389.3h0M1051.8 375.6h0M998.5 439.8h0M1066.3 344.3h0M1032.0 439.3h0M1039.8 350.2h0M1040.8 426.8h0M1068.1 438.3h0M1052.8 436.7h0M988.5 248.3h0M1058.7 458.2h0M1006.7 313.3h0M1066.9 377.4h0M1036.1 464.3h0M1019.5 400.4h0M1024.5 430.7h0M1030.0 356.9h0M1006.7 303.5h0M1052.1 247.0h0M1044.1 415.1h0M1052.7 416.6h0M990.8 423.4h0M1074.3 378.3h0M1007.8 430.7h0M1076.0 260.6h0M994.3 383.9h0M1010.8 392.9h0M1049.6 365.9h0M996.4 445.1h0M990.1 219.0h0M1067.0 335.4h0M1069.7 401.7h0M1013.1 341.7h0M1041.7 248.4h0M1063.8 351.7h0M988.4 324.2h0M1000.5 500.3h0M988.0 429.3h0M1068.5 460.7h0M1056.0 349.5h0M1018.8 477.0h0M1000.2 494.4h0M990.0 408.4h0M1025.3 391.4h0M1057.7 341.7h0M1017.3 273.5h0M1040.9 294.8h0M1058.6 370.4h0M1062.1 365.9h0M1004.1 503.7h0M1044.7 300.1h0M1045.1 435.8h0M1008.7 407.8h0M1071.8 383.9h0M1068.1 447.4h0M1017.4 398.0h0M1027.2 317.5h0M1016.0 288.7h0M986.6 252.3h0M993.2 321.0h0M1020.7 414.7h0M993.3 349.0h0M1071.1 449.5h0M1059.0 347.7h0M1065.1 414.1h0M1055.6 414.2h0M1028.6 454.5h0M1054.5 255.5h0M1015.6 376.6h0M1049.8 296.0h0M1015.4 374.1h0M1024.2 364.4h0M1062.2 368.5h0M995.4 281.5h0M999.4 508.9h0M1012.3 401.3h0M1000.9 426.5h0M1052.8 354.0h0M1017.8 421.1h0M1065.7 381.9h0M993.6 424.3h0M1057.3 444.3h0M989.6 356.0h0M1042.3 316.1h0M1054.6 364.1h0M1034.6 477.3h0M991.2 438.3h0M1061.1 334.3h0M1023.6 411.1h0M1036.7 331.7h0M1064.8 381.0h0M1033.5 285.9h0M1042.7 451.6h0M1016.1 370.2h0M1051.9 326.6h0M1029.2 350.4h0M1040.0 471.9h0M1045.9 440.1h0M1073.0 414.4h0M1006.0 462.1h0M1006.2 418.1h0M1001.4 421.1h0M1075.2 411.2h0M1032.3 411.9h0M1040.8 438.4h0M1056.0 332.4h0M1016.8 316.2h0M991.6 394.2h0M1062.8 296.8h0M1042.4 301.4h0M992.0 407.3h0M990.2 264.1h0M1072.0 281.2h0M987.9 320.8h0M987.6 403.8h0M1039.5 355.9h0M1018.4 414.6h0M1054.0 328.1h0M1070.9 397.6h0M1071.1 456.1h0M1039.0 456.5h0M1023.7 418.5h0M1054.0 443.9h0M1051.9 348.0h0M1052.1 328.9h0M1071.8 370.2h0M1071.7 405.4h0M1046.0 398.0h0M1015.1 416.6h0M1012.5 437.7h0M1059.7 349.6h0M1051.1 420.9h0M1057.2 345.1h0M988.9 450.0h0M1016.3 464.5h0M1001.4 361.6h0M1057.1 197.6h0M1005.5 378.9h0M1066.1 436.7h0M999.2 283.8h0M1052.5 378.6h0M1055.0 404.5h0M1067.4 461.4h0M1032.7 332.8h0M1013.4 413.0h0M1023.7 440.1h0M1060.3 403.8h0M988.4 309.3h0M1003.5 328.8h0M995.5 458.7h0M1015.4 516.7h0M1023.8 278.1h0M1065.5 377.8h0M1002.9 245.3h0M993.1 356.9h0M1057.8 348.3h0M1009.5 384.6h0M1072.4 380.0h0M1028.9 366.2h0M1054.2 379.4h0M1014.4 275.2h0M988.8 394.9h0M1007.3 405.9h0M993.5 303.4h0M1068.0 444.4h0M1069.9 401.8h0M1030.1 379.4h0M1051.4 485.0h0M1010.8 355.1h0M1016.0 391.6h0M1037.2 327.9h0M1028.6 367.1h0M1003.1 468.1h0M1034.8 481.2h0M1010.6 439.7h0M988.9 404.8h0M1062.0 398.5h0M1047.0 403.8h0M1062.4 348.9h0M1069.3 468.7h0M1039.3 426.3h0M1002.7 286.1h0M1009.9 388.6h0M998.5 385.1h0M1068.4 334.4h0M1001.0 468.8h0M1017.8 359.4h0M1062.3 389.5h0M1037.7 431.9h0M1012.9 367.5h0M1042.9 284.0h0M1037.8 361.3h0M986.2 391.2h0M1013.3 274.2h0M1032.1 341.6h0M1001.7 247.4h0M1024.1 291.6h0M1023.3 367.7h0M1049.5 419.3h0M1017.2 398.2h0M1017.8 303.2h0M1060.0 462.3h0M1016.0 217.1h0M1059.1 348.8h0M1073.5 306.1h0M1059.7 439.3h0M1016.1 529.2h0M1029.0 419.5h0M1071.9 413.2h0M1067.3 325.7h0M1046.0 387.6h0M999.7 369.7h0M1045.3 395.2h0M1074.2 285.4h0M1032.4 416.4h0M1030.3 396.6h0M1063.2 366.8h0M1007.6 193.3h0M987.1 534.5h0M1052.9 427.6h0M987.6 449.5h0M1048.8 392.0h0M1054.2 334.3h0M1056.0 340.2h0M991.0 401.1h0M1040.3 432.1h0M1001.8 397.1h0M996.2 434.0h0M1021.7 248.3h0M1059.8 298.7h0M1068.6 389.7h0M1061.3 333.3h0M997.3 413.5h0M1068.0 381.6h0M1062.0 368.9h0M1012.1 458.1h0M1066.0 376.5h0M993.5 421.4h0M1050.1 345.1h0M1000.0 449.6h0M1002.6 419.4h0M1025.8 341.1h0M1028.3 275.3h0M994.0 340.4h0M1004.4 354.3h0M1028.7 474.7h0M1067.4 416.1h0M996.6 366.4h0M1039.4 381.1h0M1037.9 370.8h0M1002.0 299.4h0M1073.0 283.9h0M1040.9 411.5h0M993.7 431.7h0M1035.2 485.8h0M1050.6 369.6h0M1071.6 333.2h0M1053.8 288.8h0M1061.0 423.7h0M1026.2 406.3h0M1020.6 431.7h0M1060.6 223.6h0M1002.8 260.6h0M1070.0 403.7h0M1004.8 356.5h0M1001.6 425.4h0M1049.1 400.1h0M1024.0 224.3h0M1041.5 391.8h0M1008.1 387.3h0M1041.2 373.4h0M1011.3 465.9h0M1026.1 483.0h0M1061.7 513.8h0M1003.9 304.4h0M1012.0 427.0h0M1061.3 415.6h0M1009.4 312.0h0M1049.5 449.8h0M992.3 405.7h0M1032.5 429.0h0M1011.1 348.0h0M988.6 392.3h0M1032.3 492.4h0M1069.1 306.2h0M1014.2 286.4h0M1023.3 352.7h0M1038.9 394.6h0M990.0 382.8h0M1028.4 455.3h0M998.6 399.4h0M999.4 303.8h0M1038.2 356.3h0M1057.2 469.1h0M1002.9 470.1h0M1068.2 396.0h0M1008.4 290.6h0M994.3 346.5h0M1062.6 377.4h0M1010.1 317.3h0M1048.5 426.5h0M1040.6 351.3h0M1009.2 398.1h0M1016.2 453.7h0M988.1 338.6h0M1024.6 463.8h0M987.0 379.2h0M1012.4 306.1h0M1066.5 462.2h0M1008.5 289.1h0M1026.3 280.9h0M1038.6 320.7h0M1021.9 391.4h0M1050.7 391.8h0M1021.0 391.1h0M987.8 372.7h0M1003.2 436.8h0M999.8 353.0h0M1024.5 274.3h0M1072.3 467.8h0M1028.4 262.4h0M1066.5 447.8h0M1073.8 432.7h0M1024.6 404.3h0M1015.7 378.4h0M1052.2 361.8h0M1015.0 262.4h0M1017.4 336.2h0M1055.6 290.3h0M1002.8 405.5h0M1075.4 340.4h0M1000.0 493.2h0M1042.6 452.8h0M995.5 212.1h0M1011.6 381.1h0M1020.9 331.2h0M1008.9 316.0h0M1020.1 327.4h0M1048.9 468.7h0M993.2 363.1h0M1004.2 220.8h0M1034.3 304.1h0M1022.0 403.0h0M1024.8 373.2h0M1030.8 408.6h0M1060.4 362.9h0M1063.1 368.3h0M1069.4 375.6h0M1041.0 426.2h0M987.7 495.5h0M1062.0 343.8h0M1035.4 361.1h0M986.9 339.3h0M997.6 298.1h0M1040.0 390.0h0M990.1 293.1h0M1023.9 384.4h0M993.5 306.2h0M1022.4 327.4h0M1031.1 425.7h0M1025.8 304.9h0M1000.5 338.2h0M1064.2 363.3h0M997.4 377.8h0M1038.9 367.5h0M995.0 421.5h0M1046.5 454.9h0M1076.0 374.2h0M1020.3 315.5h0M1001.6 381.3h0M1050.1 321.0h0M995.1 474.2h0M1065.7 259.2h0M1018.2 354.3h0M1057.1 389.4h0M1019.2 367.8h0M1059.5 347.4h0M1044.8 366.3h0M1050.9 346.1h0M1028.1 457.7h0M1071.3 331.5h0M1054.0 383.1h0M1065.9 446.3h0M1042.7 315.5h0M1006.7 370.6h0M1012.4 265.4h0M1063.1 411.5h0M1051.4 279.9h0M1040.4 332.1h0M996.6 422.2h0M1022.5 309.2h0M996.0 333.1h0M1059.4 304.9h0M1030.4 408.3h0M987.6 534.1h0M1004.9 400.0h0M1058.3 362.6h0M1061.0 308.7h0M1067.3 290.5h0M994.2 284.8h0M995.6 329.8h0M1043.0 358.5h0M1074.3 398.9h0M1045.3 335.7h0M986.2 399.6h0M1013.5 352.2h0M1036.1 393.3h0M1033.8 320.9h0M1026.7 394.3h0M1074.7 412.3h0M1057.2 405.7h0M1039.0 331.1h0M1000.4 404.4h0M1053.9 285.9h0M1056.8 437.5h0M1038.7 350.8h0M1041.0 392.3h0M987.3 450.0h0M1031.8 375.5h0M986.6 341.4h0M1063.1 328.6h0M1002.8 390.1h0M1016.5 443.4h0M991.5 419.6h0M1036.1 408.4h0M1046.5 247.8h0M1007.1 454.2h0M1014.3 379.4h0M995.0 222.8h0M1016.3 446.3h0M1025.7 261.7h0M1007.0 275.5h0M1073.4 315.1h0M1001.5 336.6h0M989.5 487.4h0M1037.5 378.8h0M1056.6 387.2h0M1022.5 289.2h0M1047.7 293.6h0M1011.5 451.4h0M1055.4 425.3h0M1019.0 241.8h0M1054.8 364.6h0M999.5 370.1h0M986.7 324.3h0M996.7 389.8h0M991.8 349.3h0M1010.5 427.5h0M1003.4 424.0h0M1066.3 336.1h0M1063.7 357.4h0M1075.6 323.2h0M1063.4 366.2h0M1025.6 305.8h0M1001.7 342.6h0M1032.7 347.6h0M1026.5 297.6h0M1073.6 363.3h0M1037.9 448.4h0M992.7 427.5h0M1018.1 387.3h0M1000.1 300.6h0M1047.5 408.9h0M987.4 390.1h0M998.5 285.9h0M988.7 270.8h0M993.0 463.8h0M1011.1 447.6h0M1023.0 381.6h0M1071.6 363.5h0M1072.5 408.7h0M1005.2 469.9h0M1035.7 225.4h0M1029.0 346.1h0M1030.0 272.2h0M1055.4 315.3h0M997.6 328.8h0M1023.4 484.5h0M1017.0 345.3h0M1052.7 356.7h0M1072.4 358.1h0M1005.9 418.5h0M1027.6 450.6h0M1068.4 364.5h0M1044.7 324.6h0M1025.3 299.9h0M1001.7 355.4h0M1055.6 484.8h0M1040.1 393.1h0M1054.6 402.9h0M1032.1 417.2h0M1041.9 450.8h0M988.9 329.5h0M1071.9 417.2h0M1013.5 364.7h0M1008.5 333.7h0M1057.3 424.2h0M1030.9 391.5h0M999.0 415.0h0M1039.6 294.5h0M1029.8 421.0h0M1000.5 474.2h0M995.5 307.9h0M1049.5 533.6h0M988.4 274.9h0M1062.1 338.3h0M1001.0 342.1h0M1002.4 339.8h0M1046.7 362.1h0M1070.7 338.7h0M1070.6 393.6h0M1033.0 451.3h0M1029.2 501.9h0M1030.2 457.2h0M1032.2 399.2h0M1037.3 360.4h0M1030.2 430.9h0M1052.8 440.2h0M1048.7 280.5h0M1057.9 334.2h0M1044.7 435.6h0M1025.2 434.7h0M1046.7 370.0h0M998.7 322.6h0M1043.3 415.1h0M1074.6 387.5h0M1004.1 318.5h0M1001.5 482.2h0M1050.1 372.0h0M1048.3 396.5h0M1062.3 449.3h0M1004.6 367.7h0M988.6 328.3h0M992.4 403.3h0M1060.2 417.9h0M1048.4 293.8h0M993.8 369.4h0M1035.5 438.8h0M1006.3 361.9h0M986.7 333.4h0M1053.0 392.1h0M1036.6 501.8h0M987.8 418.2h0M1053.1 453.7h0M1025.1 276.8h0M1017.6 430.4h0M1042.2 262.7h0M1036.5 377.0h0M1051.1 374.0h0M1032.0 361.9h0M1042.5 272.0h0M1051.8 449.1h0M1034.6 406.2h0M1023.5 398.9h0M994.7 355.1h0M1071.3 417.4h0M1033.5 369.9h0M1074.6 321.5h0M1071.9 405.1h0M1054.2 293.0h0M1025.8 380.1h0M990.6 388.7h0M1058.5 335.8h0M1069.7 399.0h0M1070.8 347.7h0M994.2 417.5h0M1007.6 456.7h0M1006.6 357.0h0M1047.3 330.5h0M987.8 382.5h0M1006.7 321.6h0M1016.1 406.0h0M1055.7 238.8h0M1052.4 395.5h0M1009.5 344.2h0M992.8 381.3h0M1071.5 387.8h0M1049.8 435.6h0M1058.1 286.9h0M1056.4 388.7h0M991.9 418.0h0M988.0 303.1h0M1075.8 308.5h0M1002.1 421.3h0M1005.2 332.2h0M1073.1 300.7h0M1058.3 360.7h0M995.0 456.8h0M1003.0 378.3h0M1040.0 421.9h0M1002.3 454.1h0M1033.5 359.5h0M1064.9 331.4h0M991.2 522.1h0M1044.9 400.3h0M1053.8 430.6h0M1063.4 349.5h0M1028.7 413.1h0M1041.9 464.9h0M1075.5 283.6h0M1005.5 386.8h0M1021.2 287.7h0M1069.6 361.4h0M1021.9 434.2h0M1010.4 468.0h0M999.8 471.5h0M1075.4 394.8h0M1065.6 366.6h0M1016.1 288.5h0M994.8 454.4h0M986.1 370.3h0M1020.2 325.9h0M1027.3 285.5h0M1074.8 311.4h0M1045.0 335.3h0M1038.6 330.2h0M1035.8 459.5h0M1001.1 367.9h0M1001.7 454.9h0M1074.5 234.3h0M1029.1 308.9h0M1037.6 383.3h0M1075.6 393.9h0M1061.1 392.4h0M1020.4 334.4h0M986.2 393.2h0M1051.4 382.0h0M1074.8 431.1h0M993.5 336.3h0M1066.1 328.8h0M1070.1 439.0h0M1055.5 330.1h0M1067.1 382.2h0M1060.0 314.2h0M1015.3 306.6h0M995.9 404.5h0M1020.4 332.2h0M1049.4 299.8h0M1014.2 450.6h0M1074.5 369.9h0M1029.4 440.6h0M1031.0 332.0h0M1002.4 481.2h0M1011.5 314.6h0M1065.6 394.6h0M1033.1 328.9h0M1045.0 237.4h0M1037.9 373.3h0M1041.5 435.0h0M1022.3 446.2h0M1071.4 324.5h0M1030.7 457.8h0M1038.7 468.6h0M1006.3 349.3h0M1056.9 287.2h0M1036.9 351.6h0M1005.4 248.8h0M988.4 290.4h0M1068.6 320.1h0M997.5 341.6h0M1073.3 346.0h0M1037.1 342.3h0M1073.2 303.9h0M1042.2 361.8h0M1016.8 468.8h0M1032.6 484.8h0M1023.3 441.8h0M1072.3 371.8h0M1020.1 474.2h0M1032.2 389.1h0M1029.7 356.9h0M1053.1 299.0h0M1022.4 434.7h0M1037.0 435.9h0M990.2 458.5h0M995.9 454.2h0M1025.9 401.7h0M1030.6 278.7h0M1058.7 377.3h0M1034.9 360.4h0M988.1 287.9h0M1026.8 294.0h0M1001.7 357.1h0M1048.5 489.7h0M1012.6 433.0h0M1005.1 402.6h0M1052.9 430.8h0M1042.8 331.2h0M1059.6 413.4h0M988.3 454.0h0M1019.5 383.4h0M1024.3 326.1h0M1064.0 416.8h0M1003.8 447.8h0M1031.6 432.9h0M1032.8 375.0h0M1042.8 359.7h0M1073.9 422.6h0M996.5 428.8h0M989.2 329.4h0M1071.5 232.8h0M1022.9 206.5h0M1049.4 221.8h0M1022.9 418.1h0M1046.3 363.7h0M1020.7 379.9h0M991.8 405.4h0M1067.7 410.0h0M1044.5 374.5h0M1035.5 342.1h0M1069.0 286.4h0M1064.6 285.0h0M1035.3 390.8h0M991.5 391.1h0M1041.2 311.3h0M1036.5 327.3h0M1062.1 402.7h0M1051.3 367.5h0M1046.3 488.8h0M988.5 352.3h0M1007.3 449.0h0M1050.7 351.6h0M1005.7 371.1h0M1041.7 452.6h0M1028.3 408.2h0M1061.1 366.6h0M1066.3 417.4h0M1070.4 267.2h0M1032.8 309.2h0M1035.1 398.3h0M1008.4 260.9h0M1028.5 375.6h0M1052.6 359.4h0M1070.2 256.6h0M1076.0 247.6h0M1013.8 369.5h0M1055.7 321.5h0M1028.0 377.5h0M1007.6 305.3h0M1076.0 387.3h0M1023.7 295.0h0M1000.6 479.1h0M997.2 346.3h0M1075.5 293.6h0M1037.4 358.9h0M1001.8 481.1h0M1003.3 357.8h0M1012.7 444.0h0M994.8 404.1h0M998.9 367.4h0M995.1 257.6h0M1066.7 384.8h0M1054.7 451.0h0M1057.6 259.4h0M1016.1 394.1h0M991.0 417.8h0M1038.9 392.5h0M1020.0 395.1h0M1073.6 292.9h0M1007.9 517.8h0M1036.2 435.6h0M1075.8 330.3h0M1035.6 371.2h0M1026.0 388.9h0M1044.7 507.5h0M1010.2 324.8h0M990.8 417.9h0M1012.3 291.9h0M1027.3 532.9h0M1028.2 360.4h0M1027.9 346.4h0M1034.7 276.5h0M1045.9 376.0h0M1001.3 424.9h0M1058.0 366.9h0M1010.7 405.9h0M995.7 373.9h0M998.7 514.5h0M1027.3 383.1h0M1025.4 372.9h0M996.3 369.2h0M1059.0 380.9h0M1029.3 262.0h0M1027.7 251.4h0M1033.9 308.6h0M1051.8 371.8h0M1051.2 284.8h0M988.8 366.4h0M1002.2 399.7h0M990.7 411.0h0M1019.7 381.6h0M1067.9 277.8h0M1031.2 288.2h0M1049.5 294.4h0M1046.1 349.1h0M1038.2 410.7h0M1076.0 352.7h0M1073.2 375.4h0M1015.2 413.7h0M989.4 304.3h0M992.4 475.3h0M1018.9 462.4h0M1003.7 450.2h0M1031.9 409.2h0M1058.1 380.7h0M1054.6 322.5h0M1034.3 314.9h0M1070.8 400.7h0M1036.5 408.8h0M1065.0 365.3h0M1021.3 302.8h0M1044.2 341.4h0M1018.2 326.9h0M1072.8 308.8h0M1026.1 342.8h0M1016.2 365.3h0M1029.5 500.3h0M1029.9 400.6h0M1018.0 450.0h0M1038.4 418.3h0M1038.0 388.8h0M1052.6 323.9h0M1047.5 300.7h0M1014.8 421.6h0M1013.1 331.9h0M1025.7 325.3h0M999.1 488.6h0M1018.6 342.6h0M1045.7 367.2h0M991.7 480.7h0M1004.0 353.5h0M1075.7 316.0h0M1007.4 310.6h0M1035.7 391.6h0M1055.5 310.0h0M1062.8 290.5h0M1018.6 317.2h0M1034.9 451.5h0M1018.5 301.2h0M1069.9 394.4h0M1062.3 394.1h0M1009.8 275.9h0M1031.3 263.3h0M1040.1 257.9h0M1039.9 267.5h0M1075.1 497.4h0M1048.8 321.6h0M1073.0 440.1h0M1028.9 340.5h0M994.6 291.2h0M1026.2 297.8h0M1005.4 381.8h0M988.2 403.2h0M1048.4 399.8h0M1016.5 362.1h0M1063.8 301.7h0M1013.8 415.1h0M991.5 312.7h0M986.4 419.8h0M1062.5 402.8h0M1032.2 337.5h0M1076.0 311.2h0M1059.2 300.2h0M1064.8 398.8h0M1036.8 316.8h0M1000.3 431.9h0M1035.3 219.6h0M997.8 315.5h0M1009.9 354.1h0M997.5 416.6h0M995.6 397.5h0M1003.4 348.5h0M1066.2 405.9h0M1002.0 354.5h0M1011.8 420.1h0M1033.6 406.8h0M1003.7 292.3h0M1009.5 420.9h0M1005.6 386.8h0M1011.4 421.1h0M1021.4 322.7h0M1002.4 423.1h0M1054.4 381.6h0M1028.0 357.3h0M1036.1 380.7h0M1025.8 322.9h0M1048.9 343.6h0M1064.0 349.4h0M1070.5 396.4h0M1021.7 376.3h0M1028.1 415.8h0M990.7 409.2h0M1054.7 425.8h0M996.1 264.9h0M1021.6 302.8h0M1028.3 433.4h0M1069.0 367.4h0M1071.7 304.9h0M1047.2 371.1h0M1006.5 251.7h0M1025.2 439.0h0M1000.6 352.6h0M1019.4 501.6h0M1017.1 280.2h0M1013.3 405.7h0M1034.9 348.1h0M1015.9 295.5h0M1036.5 368.5h0M1040.1 391.3h0M1040.5 405.9h0M1074.5 268.5h0M1011.2 256.8h0M1014.3 392.9h0M999.5 270.4h0M1057.9 400.4h0M1066.0 510.5h0M1009.3 406.5h0M1031.8 416.5h0M1011.1 345.1h0M1028.0 339.6h0M1025.3 416.6h0M1066.3 417.8h0M1055.5 379.7h0M999.7 528.5h0M1004.4 331.4h0M1048.9 305.9h0M1066.5 366.7h0M1022.2 463.5h0M1070.9 382.2h0M1067.8 425.9h0M1011.3 414.7h0M999.9 264.9h0M1057.7 389.4h0M1058.2 417.7h0M1059.8 331.8h0M1004.4 466.3h0M1052.0 262.1h0M1058.0 348.3h0M991.5 357.2h0" stroke="#16C666" stroke-width="2.3" stroke-linecap="round" fill="none"/>
<path d="M208.2 200.4V177.7H432.5V200.4" fill="none" stroke="#333" stroke-width="1.3"/>
<text x="219.5" y="111.7" font-size="24">Model1 <tspan font-style="italic">p</tspan> = 0.002</text>
<text x="402.2" y="115.7" font-size="24">**</text>
<text x="219.5" y="135.8" font-size="24">Model2 <tspan font-style="italic">p</tspan> = 0.003</text>
<text x="402.2" y="135.8" font-size="24">++</text>
<text x="219.5" y="163.6" font-size="24">Model3 <tspan font-style="italic">p</tspan> = 0.004</text>
<text x="402.2" y="163.6" font-size="24">##</text>
<path d="M808 204.3V181.8H1032.2V204.3" fill="none" stroke="#333" stroke-width="1.3"/>
<text x="860.8" y="170" font-size="24">***</text>
<text x="907" y="164.4" font-size="24"><tspan font-style="italic">p</tspan> &lt; 0.001</text>
<line x1="82" y1="620.2" x2="112.2" y2="620.2" stroke="#FF80FF" stroke-width="2.2"/>
<circle cx="97.2" cy="620.2" r="3.6" fill="#FF80FF"/>
<text x="131.6" y="629.7" font-size="27.3">Long-term healthy group</text>
<line x1="432" y1="620.2" x2="460" y2="620.2" stroke="#16C666" stroke-width="2.2"/>
<circle cx="446.3" cy="620.2" r="3.6" fill="#16C666"/>
<text x="480.3" y="629.7" font-size="27.3">Chronic insomnia group</text>
<text x="1190.5" y="24.5" font-size="36" font-weight="bold">b</text>
<text x="1268.7" y="49.4" font-size="30.5">Discovery cohort</text>
<line x1="1324.5" y1="74.9" x2="1324.5" y2="570.3" stroke="#E2E2E2" stroke-width="1" stroke-dasharray="2 2"/>
<line x1="1382" y1="74.9" x2="1382" y2="570.3" stroke="#E2E2E2" stroke-width="1" stroke-dasharray="2 2"/>
<line x1="1439.5" y1="74.9" x2="1439.5" y2="570.3" stroke="#E2E2E2" stroke-width="1" stroke-dasharray="2 2"/>
<line x1="1554.5" y1="74.9" x2="1554.5" y2="570.3" stroke="#E2E2E2" stroke-width="1" stroke-dasharray="2 2"/>
<line x1="1612" y1="74.9" x2="1612" y2="570.3" stroke="#E2E2E2" stroke-width="1" stroke-dasharray="2 2"/>
<line x1="1669.5" y1="74.9" x2="1669.5" y2="570.3" stroke="#E2E2E2" stroke-width="1" stroke-dasharray="2 2"/>
<line x1="1727" y1="74.9" x2="1727" y2="570.3" stroke="#E2E2E2" stroke-width="1" stroke-dasharray="2 2"/>
<line x1="1784.5" y1="74.9" x2="1784.5" y2="570.3" stroke="#E2E2E2" stroke-width="1" stroke-dasharray="2 2"/>
<line x1="1272.5" y1="528.1" x2="1786.5" y2="528.1" stroke="#E2E2E2" stroke-width="1" stroke-dasharray="2 2"/>
<line x1="1272.5" y1="470.8" x2="1786.5" y2="470.8" stroke="#E2E2E2" stroke-width="1" stroke-dasharray="2 2"/>
<line x1="1272.5" y1="413.5" x2="1786.5" y2="413.5" stroke="#E2E2E2" stroke-width="1" stroke-dasharray="2 2"/>
<line x1="1272.5" y1="298.9" x2="1786.5" y2="298.9" stroke="#E2E2E2" stroke-width="1" stroke-dasharray="2 2"/>
<line x1="1272.5" y1="241.6" x2="1786.5" y2="241.6" stroke="#E2E2E2" stroke-width="1" stroke-dasharray="2 2"/>
<line x1="1272.5" y1="184.3" x2="1786.5" y2="184.3" stroke="#E2E2E2" stroke-width="1" stroke-dasharray="2 2"/>
<line x1="1272.5" y1="127" x2="1786.5" y2="127" stroke="#E2E2E2" stroke-width="1" stroke-dasharray="2 2"/>
<line x1="1497" y1="74.9" x2="1497" y2="570.3" stroke="#C4C4C4" stroke-width="1.3"/>
<line x1="1272.5" y1="356.2" x2="1786.5" y2="356.2" stroke="#C4C4C4" stroke-width="1.3"/>
<path d="M1493.9 104.5h0M1461.4 114.2h0M1565.5 110.4h0M1509.6 123.5h0M1624.5 112.4h0M1657.0 93.2h0M1631.7 122.3h0M1691.6 129.2h0M1677.0 110.5h0M1708.9 119.8h0M1502.4 168.8h0M1485.9 171.5h0M1447.7 156.5h0M1472.7 149.8h0M1459.1 140.5h0M1466.8 149.4h0M1459.6 126.0h0M1458.5 172.6h0M1512.5 129.8h0M1541.9 144.1h0M1541.4 165.9h0M1533.1 142.7h0M1524.5 177.8h0M1556.2 148.5h0M1530.1 139.6h0M1494.8 144.6h0M1533.1 126.1h0M1502.5 149.9h0M1499.4 147.0h0M1530.8 145.4h0M1506.1 173.1h0M1515.5 169.3h0M1553.1 134.7h0M1608.4 166.2h0M1577.8 133.3h0M1601.7 143.6h0M1601.8 167.2h0M1585.3 159.5h0M1566.9 171.3h0M1601.8 174.9h0M1572.2 149.4h0M1576.2 192.4h0M1622.7 151.7h0M1651.2 127.6h0M1634.5 129.9h0M1648.4 146.3h0M1648.6 127.2h0M1627.2 187.6h0M1630.9 135.3h0M1657.0 183.5h0M1658.9 146.5h0M1660.5 176.0h0M1604.5 129.5h0M1654.1 154.4h0M1698.4 142.5h0M1705.9 182.0h0M1690.5 165.5h0M1720.1 140.0h0M1702.6 143.2h0M1689.9 160.4h0M1701.5 181.7h0M1710.4 170.1h0M1693.3 138.1h0M1692.3 174.8h0M1710.4 177.3h0M1668.0 138.0h0M1365.3 250.1h0M1392.0 200.6h0M1408.6 208.7h0M1399.2 208.8h0M1450.1 212.3h0M1423.6 219.0h0M1396.1 178.6h0M1462.9 189.3h0M1450.1 194.0h0M1481.0 192.3h0M1494.9 187.8h0M1481.9 224.7h0M1484.9 201.9h0M1445.9 227.2h0M1486.8 247.0h0M1496.0 199.5h0M1435.7 203.9h0M1481.5 190.3h0M1455.8 200.6h0M1540.9 211.2h0M1541.7 197.5h0M1533.5 201.3h0M1530.7 209.5h0M1498.3 205.3h0M1533.8 202.8h0M1496.5 188.6h0M1521.4 222.6h0M1512.9 190.6h0M1556.6 186.3h0M1539.4 208.8h0M1508.4 242.7h0M1543.5 190.8h0M1509.0 235.9h0M1593.1 199.5h0M1565.6 218.8h0M1561.5 241.4h0M1596.6 230.6h0M1599.8 203.7h0M1580.0 205.9h0M1591.5 199.0h0M1591.7 191.3h0M1555.4 196.6h0M1569.9 241.0h0M1593.1 226.1h0M1617.4 220.6h0M1634.6 197.7h0M1631.0 229.1h0M1655.0 225.1h0M1649.6 241.2h0M1619.4 206.2h0M1642.9 219.3h0M1643.9 194.0h0M1618.8 226.9h0M1629.9 246.3h0M1642.9 202.0h0M1665.1 194.1h0M1675.0 203.7h0M1629.0 232.4h0M1631.2 216.7h0M1653.6 213.7h0M1616.2 224.8h0M1653.0 200.6h0M1652.7 184.5h0M1664.2 234.8h0M1652.2 209.3h0M1648.5 233.7h0M1701.2 211.8h0M1688.9 230.2h0M1663.1 225.4h0M1698.8 230.1h0M1669.5 206.4h0M1693.7 233.4h0M1692.4 187.7h0M1686.1 178.9h0M1716.4 204.8h0M1713.9 231.7h0M1701.8 236.7h0M1708.6 176.4h0M1709.8 224.0h0M1684.7 187.0h0M1665.8 183.1h0M1701.2 229.2h0M1727.7 196.4h0M1312.5 267.5h0M1308.5 256.2h0M1307.6 246.6h0M1301.6 241.5h0M1288.1 291.1h0M1308.9 262.0h0M1361.5 258.4h0M1372.9 279.6h0M1357.9 287.2h0M1339.7 296.8h0M1333.0 268.8h0M1359.2 300.5h0M1340.5 282.6h0M1353.6 232.0h0M1380.3 245.0h0M1362.2 249.2h0M1352.4 276.2h0M1356.7 258.5h0M1374.7 261.3h0M1379.1 287.2h0M1375.1 265.6h0M1388.1 279.5h0M1359.1 276.6h0M1352.2 246.0h0M1338.1 303.4h0M1369.0 257.0h0M1347.4 286.2h0M1348.1 276.5h0M1323.9 263.3h0M1362.2 291.6h0M1327.6 286.3h0M1351.5 283.4h0M1386.8 286.6h0M1350.4 284.1h0M1323.6 247.7h0M1396.8 265.0h0M1404.0 258.3h0M1377.8 276.1h0M1380.3 291.4h0M1409.9 238.4h0M1407.9 258.7h0M1375.9 268.8h0M1402.7 261.0h0M1424.2 301.3h0M1405.9 280.0h0M1410.4 235.3h0M1383.5 294.6h0M1411.4 248.1h0M1407.9 286.0h0M1393.1 257.4h0M1393.3 257.9h0M1389.6 290.2h0M1406.8 265.9h0M1385.5 265.8h0M1417.2 249.4h0M1392.9 266.4h0M1383.0 241.5h0M1424.7 285.2h0M1401.2 275.4h0M1396.3 286.1h0M1396.9 281.3h0M1382.1 253.0h0M1413.5 282.6h0M1395.3 270.1h0M1391.9 287.7h0M1383.0 298.1h0M1415.4 271.2h0M1385.4 279.8h0M1449.6 240.8h0M1463.4 251.1h0M1483.9 268.8h0M1485.2 287.7h0M1465.3 239.6h0M1446.4 274.0h0M1464.0 286.6h0M1460.5 277.1h0M1460.6 285.1h0M1429.6 263.2h0M1463.2 281.2h0M1443.2 248.0h0M1471.1 267.6h0M1446.0 295.7h0M1476.1 284.4h0M1484.4 250.7h0M1495.9 277.9h0M1461.7 241.6h0M1467.9 242.6h0M1453.8 246.0h0M1462.0 269.9h0M1478.5 279.9h0M1491.0 267.4h0M1438.4 249.3h0M1441.0 248.9h0M1473.9 269.2h0M1469.1 238.7h0M1481.3 295.0h0M1443.1 251.5h0M1466.1 257.8h0M1534.0 281.6h0M1533.2 258.4h0M1531.8 297.8h0M1527.5 282.0h0M1517.8 283.6h0M1500.9 257.9h0M1522.0 253.2h0M1519.6 297.2h0M1509.9 283.1h0M1490.4 249.3h0M1552.8 248.8h0M1505.7 277.3h0M1522.5 269.5h0M1538.8 242.7h0M1521.8 254.6h0M1503.9 304.0h0M1511.8 247.4h0M1557.2 233.2h0M1587.4 267.8h0M1572.2 271.7h0M1591.2 281.0h0M1580.0 272.2h0M1577.8 277.2h0M1574.8 286.2h0M1576.0 252.6h0M1607.0 247.4h0M1602.6 255.7h0M1582.3 263.1h0M1600.9 259.5h0M1614.1 239.3h0M1604.6 277.3h0M1580.5 265.1h0M1582.2 233.4h0M1581.2 283.9h0M1640.9 288.7h0M1658.9 277.6h0M1641.0 257.2h0M1631.7 264.5h0M1641.5 255.5h0M1629.7 283.8h0M1608.7 269.0h0M1623.9 290.0h0M1660.8 276.8h0M1641.9 285.5h0M1642.9 293.5h0M1648.1 268.9h0M1647.5 254.5h0M1637.0 281.6h0M1657.8 291.5h0M1635.9 274.9h0M1630.9 302.2h0M1655.5 294.8h0M1664.8 281.0h0M1650.7 264.9h0M1654.1 274.2h0M1712.9 289.7h0M1694.5 279.3h0M1670.4 256.1h0M1716.8 300.9h0M1689.1 289.9h0M1735.3 290.7h0M1691.6 276.6h0M1708.9 282.8h0M1672.0 270.2h0M1680.1 261.4h0M1707.9 259.4h0M1677.3 280.6h0M1723.4 244.0h0M1681.6 244.8h0M1699.7 298.5h0M1697.9 260.4h0M1671.5 273.7h0M1727.3 285.5h0M1728.7 291.0h0M1627.2 346.8h0M1648.7 334.5h0M1620.2 356.7h0M1618.8 298.2h0M1677.0 296.9h0M1623.5 313.0h0M1640.9 322.7h0M1654.3 349.4h0M1655.5 338.9h0M1639.3 324.9h0M1623.3 346.7h0M1664.6 335.8h0M1669.9 331.3h0M1623.8 350.0h0M1636.6 301.2h0M1651.7 320.7h0M1612.8 332.1h0M1686.2 310.1h0M1666.9 320.4h0M1684.6 308.8h0M1701.0 356.0h0M1679.1 309.8h0M1720.3 345.0h0M1653.5 364.5h0M1621.6 412.7h0M1628.5 386.2h0M1658.0 376.0h0M1631.2 367.6h0M1634.4 365.2h0M1634.0 369.2h0M1635.3 400.1h0M1636.6 378.7h0M1652.1 372.5h0M1615.3 400.4h0M1642.2 380.0h0M1639.3 392.1h0M1656.9 392.6h0M1611.7 381.4h0M1636.5 382.9h0M1634.5 405.0h0M1665.4 359.4h0M1666.4 383.3h0M1677.7 385.7h0M1665.9 380.2h0M1613.8 349.8h0M1614.9 376.9h0M1729.5 365.1h0M1673.4 408.1h0M1715.3 365.0h0M1680.1 395.8h0M1683.8 366.6h0M1725.5 403.7h0M1703.3 372.8h0M1691.9 419.2h0M1677.5 412.3h0M1669.0 420.4h0M1667.3 455.8h0M1635.4 432.4h0M1620.0 471.7h0M1626.5 447.2h0M1659.8 452.2h0M1689.2 431.8h0M1629.3 429.0h0M1645.3 448.7h0M1615.2 437.4h0M1620.0 424.1h0M1634.0 428.8h0M1659.1 422.4h0M1647.6 429.9h0M1647.6 451.8h0M1657.9 442.9h0M1618.8 425.6h0M1702.6 420.2h0M1684.7 445.9h0M1698.9 429.5h0M1620.3 503.5h0M1673.6 477.8h0M1642.1 505.6h0M1623.1 495.0h0M1625.9 518.4h0M1645.1 502.7h0M1620.5 472.5h0M1658.5 499.5h0M1623.2 496.6h0M1302.2 311.4h0M1300.3 318.3h0M1310.3 325.6h0M1299.8 316.9h0M1317.7 323.0h0M1356.1 310.2h0M1340.6 323.8h0M1335.4 311.6h0M1349.4 316.4h0M1349.5 316.5h0M1351.2 325.3h0M1336.9 325.1h0M1323.8 331.9h0M1342.0 319.8h0M1318.6 318.7h0M1327.4 327.1h0M1345.7 314.2h0M1331.6 320.9h0M1327.1 322.8h0M1352.1 325.8h0M1322.2 319.6h0M1338.2 295.5h0M1343.1 319.1h0M1369.1 318.2h0M1357.7 319.4h0M1366.9 310.5h0M1386.1 306.4h0M1354.8 323.3h0M1367.1 308.8h0M1374.7 317.8h0M1364.3 320.0h0M1358.1 313.0h0M1381.9 333.0h0M1381.4 321.2h0M1373.5 310.6h0M1377.9 325.6h0M1369.8 329.8h0M1346.5 308.0h0M1363.1 317.1h0M1359.5 321.1h0M1359.2 302.5h0M1386.3 322.1h0M1361.0 298.7h0M1369.8 308.8h0M1351.6 310.8h0M1357.6 323.6h0M1371.6 300.4h0M1376.5 309.5h0M1378.0 323.0h0M1363.8 322.0h0M1361.2 305.4h0M1366.1 312.1h0M1349.6 320.2h0M1408.2 313.6h0M1387.7 307.1h0M1385.9 326.1h0M1391.3 297.4h0M1401.0 313.7h0M1396.8 317.5h0M1403.8 327.8h0M1409.0 312.0h0M1394.7 328.3h0M1403.6 329.6h0M1408.1 312.0h0M1386.6 303.5h0M1403.3 320.4h0M1408.4 304.7h0M1414.9 319.6h0M1426.3 318.3h0M1414.6 318.5h0M1421.6 326.3h0M1421.8 315.9h0M1436.8 329.2h0M1415.4 311.2h0M1430.6 319.5h0M1406.4 293.8h0M1419.5 302.9h0M1418.3 293.3h0M1416.9 318.1h0M1443.2 328.1h0M1468.1 323.6h0M1451.5 307.1h0M1463.2 321.6h0M1461.4 304.2h0M1442.3 298.3h0M1459.7 294.9h0M1474.6 296.3h0M1489.5 303.9h0M1488.8 296.8h0M1484.8 311.2h0M1484.9 318.6h0M1521.2 310.0h0M1505.1 324.2h0M1514.5 321.6h0M1513.1 314.3h0M1546.5 302.6h0M1538.1 300.6h0M1558.0 296.0h0M1539.4 316.2h0M1579.4 330.1h0M1577.8 316.6h0M1572.1 297.8h0M1581.6 319.5h0M1593.3 328.7h0M1595.3 315.3h0M1590.9 315.7h0M1588.4 320.0h0M1320.4 330.9h0M1307.3 347.8h0M1333.0 355.6h0M1333.9 358.3h0M1347.6 363.7h0M1330.8 330.9h0M1346.9 348.2h0M1331.3 349.1h0M1345.3 361.8h0M1348.6 346.4h0M1349.1 332.8h0M1345.1 336.8h0M1335.4 345.0h0M1344.2 344.3h0M1330.3 345.8h0M1333.0 343.0h0M1371.6 337.0h0M1356.1 326.7h0M1361.5 337.0h0M1358.9 337.6h0M1363.9 359.6h0M1361.7 340.2h0M1373.1 344.0h0M1368.3 342.5h0M1369.5 327.7h0M1352.2 337.9h0M1369.7 345.4h0M1372.1 350.6h0M1379.0 343.8h0M1357.3 358.7h0M1357.3 331.3h0M1375.8 349.0h0M1364.5 339.1h0M1372.2 339.4h0M1361.7 340.6h0M1388.7 346.6h0M1367.4 325.4h0M1352.9 358.3h0M1345.6 346.3h0M1361.4 353.2h0M1365.5 337.4h0M1382.4 330.8h0M1352.8 323.5h0M1349.2 341.1h0M1377.6 359.9h0M1368.3 341.0h0M1408.5 332.5h0M1402.7 355.7h0M1391.6 354.3h0M1406.6 352.2h0M1387.6 343.3h0M1398.8 360.6h0M1399.5 327.7h0M1395.6 331.6h0M1407.7 336.2h0M1397.7 351.8h0M1408.5 323.1h0M1388.4 351.9h0M1411.6 326.8h0M1381.8 345.2h0M1389.9 357.0h0M1392.5 364.3h0M1376.3 342.1h0M1392.7 339.4h0M1390.6 333.8h0M1404.7 345.5h0M1399.6 348.9h0M1406.7 329.5h0M1396.2 330.4h0M1385.8 347.0h0M1411.6 350.7h0M1383.6 332.5h0M1440.2 317.5h0M1431.3 357.6h0M1440.0 337.7h0M1431.0 348.5h0M1434.2 339.3h0M1418.1 353.0h0M1439.9 331.3h0M1423.2 336.7h0M1418.4 356.5h0M1429.1 329.9h0M1422.5 354.3h0M1418.9 351.5h0M1426.4 349.4h0M1416.2 359.7h0M1441.5 323.9h0M1412.8 349.2h0M1419.7 331.3h0M1411.8 337.9h0M1448.4 337.5h0M1464.0 360.7h0M1435.1 355.3h0M1451.6 350.0h0M1462.2 336.9h0M1462.1 342.1h0M1449.0 344.6h0M1444.8 356.5h0M1447.9 343.7h0M1457.1 343.5h0M1448.5 340.5h0M1464.1 347.6h0M1485.2 352.6h0M1469.8 347.0h0M1479.6 357.6h0M1483.0 337.5h0M1470.1 345.0h0M1480.7 342.6h0M1479.9 347.2h0M1500.6 360.4h0M1514.8 337.0h0M1522.4 344.1h0M1491.3 342.4h0M1515.8 328.7h0M1525.4 343.2h0M1536.4 335.8h0M1540.5 346.7h0M1523.6 342.6h0M1550.0 339.8h0M1580.1 345.0h0M1556.0 327.5h0M1567.0 357.4h0M1567.8 335.2h0M1547.9 333.3h0M1601.9 330.9h0M1600.9 345.5h0M1576.9 354.0h0M1588.5 353.3h0M1610.3 327.7h0M1320.0 359.7h0M1342.8 384.8h0M1342.4 364.7h0M1323.7 358.1h0M1332.0 376.2h0M1371.3 368.8h0M1375.2 384.3h0M1356.8 367.3h0M1383.0 358.9h0M1359.6 380.2h0M1354.2 383.0h0M1353.9 367.9h0M1375.9 376.5h0M1361.3 383.6h0M1359.2 364.1h0M1365.9 378.1h0M1376.7 359.0h0M1361.6 378.8h0M1356.3 374.0h0M1393.2 362.5h0M1380.4 358.9h0M1395.7 363.3h0M1383.1 371.0h0M1389.0 384.1h0M1396.8 377.1h0M1395.8 370.9h0M1399.1 386.9h0M1394.3 388.4h0M1390.0 355.2h0M1405.6 360.4h0M1402.3 368.8h0M1407.3 375.5h0M1391.1 359.6h0M1390.9 362.9h0M1399.2 372.2h0M1401.8 374.9h0M1391.7 385.6h0M1387.5 373.3h0M1396.9 372.7h0M1393.0 363.7h0M1398.1 358.5h0M1404.4 354.2h0M1383.3 370.7h0M1420.9 354.8h0M1419.6 385.5h0M1436.0 362.1h0M1410.3 371.4h0M1427.7 361.7h0M1406.2 359.9h0M1436.1 352.0h0M1419.1 368.4h0M1410.8 372.8h0M1423.3 365.1h0M1435.1 378.4h0M1424.9 383.2h0M1444.9 370.4h0M1421.1 353.6h0M1412.9 377.6h0M1426.7 371.8h0M1434.3 378.4h0M1436.4 375.4h0M1418.7 368.3h0M1417.4 388.1h0M1436.4 386.6h0M1415.3 375.0h0M1461.4 376.2h0M1456.6 352.0h0M1457.5 370.0h0M1450.7 366.3h0M1457.0 363.4h0M1441.4 366.2h0M1443.2 374.0h0M1456.8 372.1h0M1447.0 383.1h0M1453.8 357.7h0M1447.4 384.7h0M1465.0 373.6h0M1437.5 366.1h0M1456.3 377.4h0M1489.9 381.2h0M1492.7 363.6h0M1478.0 359.3h0M1498.1 357.9h0M1477.6 382.0h0M1486.6 381.2h0M1477.2 374.5h0M1484.5 360.6h0M1490.4 384.5h0M1473.1 367.3h0M1477.6 375.4h0M1480.2 363.1h0M1499.5 379.4h0M1492.3 382.7h0M1514.9 365.5h0M1515.8 381.5h0M1509.1 371.9h0M1513.7 363.5h0M1518.3 374.2h0M1507.5 385.5h0M1500.1 390.2h0M1516.0 368.1h0M1538.9 379.6h0M1550.0 390.0h0M1538.5 393.2h0M1540.4 375.6h0M1546.9 373.4h0M1528.7 393.6h0M1538.9 363.3h0M1560.6 368.4h0M1579.8 373.4h0M1553.5 358.4h0M1571.2 376.2h0M1552.1 372.1h0M1559.8 367.7h0M1562.0 368.1h0M1589.0 377.6h0M1601.0 358.0h0M1616.0 366.7h0M1599.3 376.8h0M1598.9 370.1h0M1595.4 374.7h0M1363.5 398.6h0M1359.2 409.1h0M1360.6 414.1h0M1384.8 390.5h0M1412.4 392.5h0M1396.4 411.2h0M1385.8 385.7h0M1405.6 408.2h0M1400.2 381.4h0M1390.4 406.8h0M1393.7 405.2h0M1377.1 408.4h0M1384.9 404.5h0M1400.7 417.0h0M1428.5 392.4h0M1436.6 408.0h0M1407.6 400.1h0M1418.6 388.0h0M1428.5 390.2h0M1417.2 395.2h0M1418.7 394.9h0M1426.5 399.7h0M1438.6 394.2h0M1412.6 395.6h0M1436.3 403.4h0M1414.3 399.0h0M1414.3 413.3h0M1419.9 410.5h0M1408.7 388.5h0M1411.4 401.2h0M1441.4 413.6h0M1431.3 391.7h0M1438.9 413.3h0M1423.9 383.9h0M1430.7 401.4h0M1412.3 404.5h0M1462.8 412.9h0M1451.4 404.3h0M1451.0 408.5h0M1462.2 409.6h0M1450.3 401.5h0M1460.1 378.8h0M1445.4 389.9h0M1472.2 411.8h0M1447.3 404.2h0M1459.2 380.4h0M1460.0 386.2h0M1441.2 401.7h0M1442.0 390.1h0M1454.0 398.4h0M1442.4 398.0h0M1445.4 401.0h0M1449.9 397.7h0M1453.8 404.2h0M1435.0 388.6h0M1467.8 387.7h0M1449.1 403.1h0M1466.5 394.1h0M1454.8 391.9h0M1456.2 393.2h0M1478.1 396.5h0M1477.4 408.1h0M1478.6 393.9h0M1486.0 403.6h0M1487.3 407.0h0M1490.8 404.2h0M1472.0 393.3h0M1474.5 405.4h0M1475.0 399.0h0M1490.4 409.9h0M1495.2 379.9h0M1491.4 412.7h0M1462.7 390.4h0M1487.5 386.5h0M1496.7 408.3h0M1486.4 396.5h0M1475.5 394.7h0M1493.5 399.8h0M1518.7 391.5h0M1513.3 408.5h0M1507.7 387.1h0M1502.7 384.4h0M1519.0 386.6h0M1513.5 403.9h0M1512.3 407.8h0M1507.8 415.4h0M1513.1 390.6h0M1514.4 407.8h0M1498.2 402.3h0M1511.0 423.9h0M1525.6 398.8h0M1523.4 407.4h0M1531.8 388.6h0M1542.6 403.8h0M1540.2 406.9h0M1544.3 395.2h0M1529.9 376.8h0M1561.2 405.0h0M1525.9 400.4h0M1547.2 411.2h0M1588.7 394.6h0M1579.5 395.0h0M1571.5 401.7h0M1556.1 399.5h0M1547.3 396.5h0M1562.0 414.3h0M1558.9 397.6h0M1568.9 399.8h0M1579.9 405.6h0M1567.0 383.4h0M1601.9 395.7h0M1611.1 392.2h0M1594.2 404.1h0M1592.0 408.8h0M1595.7 416.3h0M1599.4 399.4h0M1605.5 394.4h0M1403.6 437.2h0M1397.2 421.1h0M1398.6 438.2h0M1398.1 446.2h0M1409.8 420.0h0M1425.7 424.5h0M1427.9 415.6h0M1439.0 435.2h0M1412.7 409.5h0M1428.4 438.2h0M1422.8 425.4h0M1420.8 428.2h0M1423.4 413.8h0M1421.4 418.4h0M1449.6 430.3h0M1458.3 427.1h0M1442.3 428.7h0M1456.8 442.3h0M1450.9 428.3h0M1444.5 430.0h0M1437.8 412.8h0M1473.3 418.8h0M1460.9 442.7h0M1463.6 434.7h0M1471.0 427.2h0M1459.9 440.1h0M1469.2 434.6h0M1458.4 416.3h0M1459.7 440.1h0M1437.7 435.4h0M1458.0 449.7h0M1448.3 426.2h0M1481.2 423.5h0M1487.2 434.3h0M1492.6 426.2h0M1477.3 421.5h0M1483.4 434.4h0M1483.2 435.0h0M1490.2 430.2h0M1493.9 420.7h0M1494.9 429.3h0M1475.8 427.2h0M1470.9 428.9h0M1458.8 440.8h0M1486.5 423.1h0M1491.5 419.6h0M1475.4 420.0h0M1466.5 430.9h0M1479.0 422.9h0M1489.0 431.5h0M1521.3 429.5h0M1505.8 408.4h0M1518.9 422.6h0M1500.7 416.7h0M1518.8 412.5h0M1493.7 412.8h0M1494.1 426.5h0M1522.7 443.9h0M1495.6 415.5h0M1520.1 427.0h0M1517.2 426.1h0M1508.4 419.0h0M1523.7 418.8h0M1530.4 415.3h0M1547.2 423.7h0M1523.2 411.0h0M1550.0 432.4h0M1532.1 433.1h0M1547.2 415.7h0M1531.2 422.7h0M1542.5 433.7h0M1548.2 433.4h0M1533.3 441.5h0M1541.3 429.9h0M1565.3 438.5h0M1577.8 438.3h0M1576.4 434.6h0M1570.7 427.6h0M1573.9 423.1h0M1554.9 421.3h0M1578.5 416.5h0M1571.3 427.4h0M1585.0 417.4h0M1584.0 420.0h0M1595.0 440.8h0M1606.3 410.0h0M1591.5 423.1h0M1601.9 433.8h0M1601.3 435.1h0M1598.2 440.9h0M1614.8 428.1h0M1609.6 434.1h0M1608.4 423.8h0M1587.9 423.5h0M1440.0 464.6h0M1472.3 459.0h0M1457.8 452.6h0M1453.9 463.7h0M1466.5 463.8h0M1476.5 449.1h0M1472.5 440.7h0M1479.4 448.4h0M1466.5 445.3h0M1488.3 455.7h0M1481.3 452.5h0M1485.8 453.6h0M1517.4 449.7h0M1501.6 457.2h0M1518.3 460.5h0M1496.8 448.7h0M1515.5 470.9h0M1522.0 452.5h0M1508.6 467.1h0M1503.0 437.9h0M1508.2 464.2h0M1528.0 445.8h0M1528.8 466.7h0M1529.4 454.7h0M1533.8 471.3h0M1531.0 441.1h0M1539.2 469.6h0M1542.2 465.1h0M1540.8 447.7h0M1523.7 466.5h0M1527.0 467.7h0M1549.2 449.6h0M1534.2 464.2h0M1546.9 455.8h0M1534.8 455.5h0M1527.6 467.3h0M1545.7 451.4h0M1522.1 469.2h0M1533.8 456.0h0M1567.2 462.3h0M1576.9 465.5h0M1581.5 443.6h0M1563.8 466.6h0M1562.4 472.2h0M1556.1 457.0h0M1577.8 439.8h0M1582.6 461.8h0M1568.6 462.6h0M1567.3 464.8h0M1560.3 454.6h0M1558.1 465.4h0M1569.6 450.6h0M1554.7 473.1h0M1559.4 472.7h0M1582.0 453.3h0M1562.6 466.7h0M1622.6 451.5h0M1600.2 455.0h0M1590.8 466.2h0M1609.3 469.2h0M1587.9 470.3h0M1592.3 461.6h0M1587.7 465.1h0M1604.8 460.9h0M1600.5 445.9h0M1601.3 447.6h0M1589.1 464.8h0M1594.5 461.5h0M1484.8 498.0h0M1467.6 491.2h0M1490.6 479.2h0M1494.4 465.6h0M1504.4 491.9h0M1519.6 469.2h0M1509.4 477.6h0M1525.9 490.8h0M1504.8 483.6h0M1505.9 484.7h0M1523.3 492.8h0M1524.3 477.1h0M1538.9 500.9h0M1551.1 493.6h0M1539.1 478.5h0M1550.7 493.3h0M1546.6 502.6h0M1534.0 482.6h0M1552.2 481.3h0M1535.8 480.2h0M1526.1 479.6h0M1553.5 490.8h0M1539.9 501.6h0M1553.2 485.3h0M1571.1 488.4h0M1577.8 483.9h0M1561.7 478.1h0M1571.0 482.0h0M1551.4 477.4h0M1574.9 498.5h0M1568.2 477.8h0M1579.7 482.3h0M1558.1 485.3h0M1571.3 479.1h0M1563.4 470.4h0M1552.6 469.4h0M1587.4 496.5h0M1558.6 473.2h0M1573.8 498.3h0M1580.5 483.2h0M1560.3 482.9h0M1602.6 480.5h0M1600.4 479.7h0M1592.8 483.0h0M1599.6 502.3h0M1605.6 478.0h0M1587.8 488.5h0M1618.3 483.7h0M1606.4 489.8h0M1605.9 498.5h0M1589.2 495.7h0M1595.2 473.0h0M1604.2 486.4h0M1479.9 516.3h0M1511.6 523.0h0M1500.6 519.9h0M1519.6 510.2h0M1522.1 508.8h0M1521.9 517.7h0M1550.4 516.1h0M1531.5 505.3h0M1524.9 530.9h0M1532.5 506.9h0M1526.7 506.6h0M1549.7 522.7h0M1526.8 506.2h0M1567.6 517.4h0M1574.0 517.6h0M1555.4 513.0h0M1554.2 511.9h0M1565.8 505.5h0M1574.2 518.9h0M1555.7 508.4h0M1566.2 517.8h0M1578.9 514.5h0M1572.8 527.8h0M1591.3 516.1h0M1588.8 525.0h0M1603.5 521.4h0M1598.5 531.5h0M1588.9 529.6h0M1609.2 503.4h0M1596.9 532.6h0M1523.3 538.1h0M1571.8 555.4h0M1561.3 549.7h0M1562.9 523.0h0M1554.0 552.7h0M1607.3 550.6h0M1606.0 556.9h0M1581.6 548.6h0M1598.5 539.3h0" stroke="#FF88FF" stroke-width="4.8" stroke-linecap="round" fill="none"/>
<path d="M1642.8 95.0h0M1708.7 109.0h0M1529.7 136.8h0M1535.5 174.6h0M1517.3 142.9h0M1593.6 139.0h0M1661.3 136.0h0M1639.9 166.9h0M1691.3 141.0h0M1719.4 119.5h0M1708.9 123.6h0M1393.8 234.7h0M1452.7 196.8h0M1495.9 214.2h0M1531.1 228.2h0M1547.4 199.8h0M1580.0 248.3h0M1580.2 197.4h0M1592.8 188.6h0M1666.9 236.4h0M1677.7 184.1h0M1618.1 193.5h0M1673.8 216.7h0M1726.1 228.5h0M1678.5 199.4h0M1691.9 188.1h0M1707.3 232.6h0M1676.6 198.8h0M1688.0 210.6h0M1751.0 226.9h0M1298.0 240.6h0M1345.1 289.2h0M1354.6 252.1h0M1356.3 294.8h0M1339.8 245.5h0M1354.5 270.1h0M1351.5 251.8h0M1335.6 282.6h0M1379.4 236.2h0M1434.5 258.9h0M1444.9 266.3h0M1391.4 261.2h0M1453.0 273.8h0M1425.3 292.9h0M1456.2 286.8h0M1545.5 254.3h0M1538.2 259.9h0M1510.6 257.0h0M1543.7 244.7h0M1573.1 262.3h0M1578.1 268.2h0M1573.6 265.1h0M1577.6 271.1h0M1595.8 235.0h0M1634.7 277.6h0M1656.7 262.5h0M1620.1 289.4h0M1644.9 295.4h0M1629.0 267.8h0M1651.1 243.7h0M1713.2 237.2h0M1697.8 269.4h0M1690.3 298.8h0M1723.8 251.5h0M1753.2 282.7h0M1309.4 307.3h0M1305.4 333.7h0M1380.5 335.9h0M1384.6 341.9h0M1349.2 309.3h0M1373.6 341.0h0M1372.6 330.9h0M1366.1 340.8h0M1356.6 340.5h0M1373.7 327.9h0M1328.9 296.0h0M1335.4 288.5h0M1373.1 346.0h0M1345.7 332.3h0M1336.8 353.4h0M1380.3 336.8h0M1373.7 319.5h0M1386.9 341.6h0M1396.6 300.4h0M1399.4 318.8h0M1433.0 341.1h0M1378.7 339.3h0M1427.9 306.3h0M1408.9 318.3h0M1467.5 319.2h0M1473.5 313.2h0M1442.1 307.3h0M1471.9 297.5h0M1463.7 336.8h0M1500.9 333.3h0M1553.2 338.0h0M1521.7 327.8h0M1545.1 314.7h0M1511.9 298.5h0M1543.3 317.2h0M1508.1 326.0h0M1607.1 310.3h0M1597.7 307.5h0M1593.5 294.6h0M1583.0 309.2h0M1571.8 305.6h0M1607.9 332.5h0M1662.7 354.1h0M1637.1 305.8h0M1675.2 300.5h0M1651.6 359.7h0M1690.6 312.0h0M1694.2 365.3h0M1345.4 367.9h0M1352.2 381.5h0M1368.0 427.3h0M1363.3 383.1h0M1388.7 380.8h0M1403.4 407.5h0M1393.7 404.0h0M1398.6 374.5h0M1378.4 399.5h0M1409.6 376.0h0M1384.5 378.9h0M1418.2 355.5h0M1427.5 382.8h0M1491.2 413.9h0M1445.0 367.6h0M1490.4 360.2h0M1491.8 362.5h0M1442.0 398.8h0M1455.9 401.6h0M1495.5 409.8h0M1459.8 394.0h0M1489.6 410.4h0M1532.2 372.5h0M1502.9 395.5h0M1513.8 423.7h0M1554.2 391.6h0M1546.5 412.1h0M1527.3 397.7h0M1541.8 404.6h0M1564.7 398.2h0M1572.3 362.9h0M1574.5 371.8h0M1564.6 375.7h0M1594.9 368.9h0M1562.2 384.9h0M1608.1 377.5h0M1636.3 398.2h0M1663.1 363.6h0M1645.1 373.8h0M1650.6 374.2h0M1680.8 369.5h0M1698.2 365.9h0M1420.2 420.6h0M1420.5 452.5h0M1431.9 463.5h0M1444.6 471.1h0M1467.2 421.7h0M1453.8 400.8h0M1480.3 449.9h0M1493.7 445.8h0M1442.5 432.0h0M1464.8 460.8h0M1482.6 450.6h0M1440.1 437.3h0M1510.1 465.8h0M1530.8 450.4h0M1501.1 428.4h0M1508.8 465.9h0M1517.0 416.2h0M1512.8 409.3h0M1526.2 451.4h0M1519.2 426.6h0M1530.4 442.7h0M1575.7 458.7h0M1575.3 424.3h0M1579.3 429.4h0M1587.0 447.6h0M1595.9 441.9h0M1594.2 465.6h0M1582.3 473.8h0M1624.6 405.7h0M1671.6 471.3h0M1667.5 458.9h0M1666.0 458.5h0M1693.2 407.3h0M1493.8 512.4h0M1501.9 477.0h0M1473.6 482.5h0M1537.3 517.3h0M1564.3 501.1h0M1539.2 516.0h0M1514.6 486.5h0M1532.5 482.9h0M1545.2 535.2h0M1548.9 492.4h0M1575.9 500.4h0M1544.1 531.3h0M1601.7 528.9h0M1573.0 516.5h0M1567.0 510.2h0M1582.4 490.7h0M1624.3 515.7h0M1552.3 541.5h0" stroke="#1BCB6C" stroke-width="4.8" stroke-linecap="round" fill="none"/>
<ellipse cx="1481.5" cy="365.7" rx="165.7" ry="121.5" transform="rotate(21.5 1481.5 365.7)" fill="none" stroke="#FF88FF" stroke-width="1.6"/>
<ellipse cx="1505.8" cy="366.8" rx="178.4" ry="127.9" transform="rotate(3.9 1505.8 366.8)" fill="none" stroke="#1BCB6C" stroke-width="1.6"/>
<path d="M1496.4 359.9L1679.8 334.8M1666 326.5L1679.8 334.8L1668.3 345.5" fill="none" stroke="#111" stroke-width="1.8"/>
<text x="1491.3" y="326.6" font-size="24">Model1 <tspan font-style="italic">p</tspan> = 0.002</text>
<text x="1491.3" y="344.7" font-size="24">Model2 <tspan font-style="italic">p</tspan> = 0.006</text>
<text x="1491.3" y="364.8" font-size="24">Model3 <tspan font-style="italic">p</tspan> = 0.002</text>
<text x="1683.5" y="331" font-size="24">**</text>
<text x="1683.5" y="344.7" font-size="24">++</text>
<text x="1683.5" y="364.8" font-size="24">##</text>
<rect x="1272.5" y="74.9" width="514" height="495.4" fill="none" stroke="#444" stroke-width="1.4"/>
<line x1="1382" y1="570.3" x2="1382" y2="574.3" stroke="#444" stroke-width="1.3"/>
<text x="1382" y="599.5" font-size="23" text-anchor="middle">-0.2</text>
<line x1="1497" y1="570.3" x2="1497" y2="574.3" stroke="#444" stroke-width="1.3"/>
<text x="1497" y="599.5" font-size="23" text-anchor="middle">0.0</text>
<line x1="1612" y1="570.3" x2="1612" y2="574.3" stroke="#444" stroke-width="1.3"/>
<text x="1612" y="599.5" font-size="23" text-anchor="middle">0.2</text>
<line x1="1727" y1="570.3" x2="1727" y2="574.3" stroke="#444" stroke-width="1.3"/>
<text x="1727" y="599.5" font-size="23" text-anchor="middle">0.4</text>
<line x1="1268.5" y1="470.8" x2="1272.5" y2="470.8" stroke="#444" stroke-width="1.3"/>
<text x="1262.4" y="478.8" font-size="23" text-anchor="end">-0.2</text>
<line x1="1268.5" y1="356.2" x2="1272.5" y2="356.2" stroke="#444" stroke-width="1.3"/>
<text x="1262.4" y="364.2" font-size="23" text-anchor="end">0.0</text>
<line x1="1268.5" y1="241.6" x2="1272.5" y2="241.6" stroke="#444" stroke-width="1.3"/>
<text x="1262.4" y="249.6" font-size="23" text-anchor="end">0.2</text>
<line x1="1268.5" y1="127" x2="1272.5" y2="127" stroke="#444" stroke-width="1.3"/>
<text x="1262.4" y="135" font-size="23" text-anchor="end">0.4</text>
<text x="1530" y="632.5" font-size="23.7" text-anchor="middle">PCoA1: 53.29%</text>
<text x="1214" y="339" font-size="23.7" text-anchor="middle" transform="rotate(-90 1214 339)">PCoA2: 37.71%</text>
<text x="1194" y="713" font-size="30.5">Validation cohort</text>
<line x1="1225.3" y1="737.5" x2="1225.3" y2="1234.5" stroke="#E2E2E2" stroke-width="1" stroke-dasharray="2 2"/>
<line x1="1293.5" y1="737.5" x2="1293.5" y2="1234.5" stroke="#E2E2E2" stroke-width="1" stroke-dasharray="2 2"/>
<line x1="1361.7" y1="737.5" x2="1361.7" y2="1234.5" stroke="#E2E2E2" stroke-width="1" stroke-dasharray="2 2"/>
<line x1="1498.1" y1="737.5" x2="1498.1" y2="1234.5" stroke="#E2E2E2" stroke-width="1" stroke-dasharray="2 2"/>
<line x1="1566.3" y1="737.5" x2="1566.3" y2="1234.5" stroke="#E2E2E2" stroke-width="1" stroke-dasharray="2 2"/>
<line x1="1634.5" y1="737.5" x2="1634.5" y2="1234.5" stroke="#E2E2E2" stroke-width="1" stroke-dasharray="2 2"/>
<line x1="1702.7" y1="737.5" x2="1702.7" y2="1234.5" stroke="#E2E2E2" stroke-width="1" stroke-dasharray="2 2"/>
<line x1="1197.4" y1="1213.8" x2="1713" y2="1213.8" stroke="#E2E2E2" stroke-width="1" stroke-dasharray="2 2"/>
<line x1="1197.4" y1="1165.7" x2="1713" y2="1165.7" stroke="#E2E2E2" stroke-width="1" stroke-dasharray="2 2"/>
<line x1="1197.4" y1="1117.6" x2="1713" y2="1117.6" stroke="#E2E2E2" stroke-width="1" stroke-dasharray="2 2"/>
<line x1="1197.4" y1="1069.5" x2="1713" y2="1069.5" stroke="#E2E2E2" stroke-width="1" stroke-dasharray="2 2"/>
<line x1="1197.4" y1="973.3" x2="1713" y2="973.3" stroke="#E2E2E2" stroke-width="1" stroke-dasharray="2 2"/>
<line x1="1197.4" y1="925.2" x2="1713" y2="925.2" stroke="#E2E2E2" stroke-width="1" stroke-dasharray="2 2"/>
<line x1="1197.4" y1="877.1" x2="1713" y2="877.1" stroke="#E2E2E2" stroke-width="1" stroke-dasharray="2 2"/>
<line x1="1197.4" y1="829" x2="1713" y2="829" stroke="#E2E2E2" stroke-width="1" stroke-dasharray="2 2"/>
<line x1="1197.4" y1="780.9" x2="1713" y2="780.9" stroke="#E2E2E2" stroke-width="1" stroke-dasharray="2 2"/>
<line x1="1429.9" y1="737.5" x2="1429.9" y2="1234.5" stroke="#C4C4C4" stroke-width="1.3"/>
<line x1="1197.4" y1="1021.4" x2="1713" y2="1021.4" stroke="#C4C4C4" stroke-width="1.3"/>
<path d="M1317.5 907.5h0M1254.7 1152.8h0M1418.8 1076.3h0M1570.8 1061.9h0M1409.3 951.7h0M1389.1 1131.6h0M1548.2 1037.0h0M1533.9 941.7h0M1602.5 1039.5h0M1324.7 966.2h0M1415.6 893.5h0M1446.1 972.1h0M1360.0 1006.5h0M1290.2 1042.7h0M1365.7 912.9h0M1367.6 903.5h0M1285.4 929.4h0M1403.5 1130.2h0M1345.8 871.5h0M1346.0 996.7h0M1496.2 948.2h0M1413.1 1011.7h0M1368.9 1158.5h0M1331.3 953.7h0M1539.8 1025.5h0M1682.1 1000.7h0M1407.4 951.3h0M1658.0 1049.8h0M1255.9 1154.5h0M1458.3 1023.8h0M1424.7 873.2h0M1458.4 1076.4h0M1455.9 1130.6h0M1604.9 983.7h0M1447.5 1110.2h0M1429.5 860.8h0M1535.2 1027.2h0M1282.5 870.2h0M1581.2 885.4h0M1478.4 1006.4h0M1286.8 1110.4h0M1348.7 1061.9h0M1596.6 902.9h0M1382.7 1031.3h0M1458.3 981.9h0M1377.6 908.3h0M1347.1 917.1h0M1291.6 864.1h0M1277.0 1211.2h0M1499.7 1051.2h0M1305.8 948.4h0M1493.2 997.2h0M1590.6 881.3h0M1340.3 942.0h0M1372.1 908.5h0M1273.2 1199.8h0M1532.8 1027.7h0M1657.4 1057.9h0M1280.9 947.0h0M1322.2 828.5h0M1473.3 1023.0h0M1358.4 926.5h0M1412.9 1155.4h0M1507.7 897.2h0M1569.0 1040.7h0M1457.8 1055.8h0M1325.3 838.1h0M1359.9 961.3h0M1509.9 987.2h0M1461.5 923.6h0M1328.9 994.9h0M1242.4 1062.7h0M1366.9 1192.2h0M1337.5 1178.5h0M1373.6 1150.3h0M1349.3 971.6h0M1407.5 1081.2h0M1298.4 1165.5h0M1467.7 1066.4h0M1418.8 1172.3h0M1401.9 1083.4h0M1391.8 1094.1h0M1623.7 1021.8h0M1426.1 1060.1h0M1306.1 1178.1h0M1266.0 932.8h0M1394.9 1144.3h0M1655.1 970.9h0M1290.0 901.7h0M1399.5 962.8h0M1294.4 1024.5h0M1442.6 972.8h0M1483.8 1074.3h0M1675.1 1067.3h0M1473.2 1068.6h0M1509.4 1007.1h0M1507.8 920.0h0M1463.4 1009.2h0M1601.6 1068.5h0M1519.1 960.2h0M1256.0 1056.6h0M1252.6 1186.5h0M1674.8 1003.4h0M1618.8 980.8h0M1607.2 1043.1h0M1506.1 1018.9h0M1482.9 896.4h0M1557.9 1048.4h0M1311.0 1069.1h0M1436.7 1061.2h0M1343.2 862.9h0M1427.5 1090.1h0M1323.8 979.0h0M1350.0 1085.4h0M1318.9 950.1h0M1311.6 1001.6h0M1289.9 1159.8h0M1470.8 1043.1h0M1665.9 1042.6h0M1530.3 1052.0h0M1282.0 1012.2h0M1390.3 1057.2h0M1611.1 1070.8h0M1404.2 1074.9h0M1258.3 1125.1h0M1340.9 797.7h0M1311.1 847.9h0M1292.0 807.6h0M1663.2 1029.6h0M1358.0 934.6h0M1337.0 998.6h0M1434.7 877.4h0M1629.4 992.5h0M1361.9 766.4h0M1335.0 992.6h0M1680.7 1062.5h0M1363.0 831.7h0M1533.4 981.6h0M1497.9 1031.4h0M1314.5 941.6h0M1459.0 1035.0h0M1329.2 889.9h0M1345.2 1030.8h0M1593.4 1044.4h0M1546.0 1017.2h0M1366.0 1176.7h0M1324.0 841.8h0M1416.5 1105.4h0M1427.8 929.2h0M1313.4 1147.5h0M1403.5 1022.5h0M1348.1 912.0h0M1205.2 1121.5h0M1328.3 1114.2h0M1545.3 918.9h0M1383.2 1079.6h0M1427.9 1002.7h0M1570.2 985.9h0M1359.7 1144.1h0M1654.9 987.6h0M1313.2 1018.8h0M1669.4 1030.0h0M1441.7 1032.1h0M1489.1 1120.4h0M1547.1 1035.5h0M1396.7 1127.1h0M1285.6 1145.7h0M1312.7 838.7h0M1419.4 1171.5h0M1270.1 993.0h0M1419.0 1156.7h0M1393.8 1160.6h0M1320.9 820.7h0M1358.5 966.4h0M1340.3 989.2h0M1471.8 977.0h0M1584.8 1028.5h0M1276.4 1093.7h0M1643.8 1003.7h0M1302.8 1131.4h0M1285.6 1147.4h0M1435.7 1037.5h0M1597.2 1043.1h0M1526.3 1032.9h0M1316.2 907.3h0M1406.4 990.9h0M1572.4 1056.1h0M1300.9 1173.1h0M1595.8 989.2h0M1304.3 1068.5h0M1683.4 1022.3h0M1250.4 1177.2h0M1257.3 1173.2h0M1408.2 1072.0h0M1603.6 984.7h0M1301.2 753.6h0M1460.7 1094.4h0M1284.9 1190.1h0M1396.8 900.0h0M1422.0 1098.9h0M1565.8 980.7h0M1285.1 1188.9h0M1364.0 963.0h0M1282.6 799.8h0M1483.2 927.5h0M1397.6 1014.2h0M1284.1 876.7h0M1554.6 1044.5h0M1364.2 1052.1h0M1309.1 822.5h0M1461.9 905.1h0M1399.6 1066.5h0M1386.2 971.2h0M1336.4 1070.8h0M1318.5 1200.2h0M1499.8 1010.0h0M1312.8 1034.2h0M1427.0 1024.0h0M1339.9 1002.1h0M1637.7 994.5h0M1403.2 1124.0h0M1432.1 978.4h0M1542.1 1046.2h0M1649.1 1048.9h0M1465.0 1045.8h0M1290.5 1157.1h0M1304.3 949.4h0M1635.6 1052.3h0M1478.0 1164.5h0M1329.0 910.5h0M1356.4 1056.5h0M1402.9 1112.7h0M1333.4 932.1h0M1446.4 989.3h0M1353.7 1005.0h0M1303.9 1180.2h0M1327.5 1100.9h0M1261.9 1172.7h0M1560.8 1049.5h0M1313.6 1188.1h0M1664.2 992.9h0M1359.4 810.1h0M1415.6 1023.2h0M1304.5 890.8h0M1419.8 1124.4h0M1357.4 938.3h0M1292.8 1139.0h0M1371.6 1085.3h0M1307.9 947.2h0M1446.7 1158.8h0M1686.0 985.9h0M1525.7 959.0h0M1421.3 985.0h0M1370.0 1038.1h0M1363.4 1039.1h0M1453.3 1059.1h0M1372.5 1081.7h0M1635.3 1010.3h0M1582.3 1059.0h0M1324.1 1074.4h0M1410.7 1164.2h0M1439.9 989.6h0M1599.0 1068.9h0M1463.3 1067.4h0M1662.4 949.3h0M1602.6 1064.6h0M1347.0 979.2h0M1470.3 1143.3h0M1644.9 1027.2h0M1433.3 923.7h0M1567.7 1045.9h0M1286.9 841.2h0M1385.8 1084.8h0M1589.1 1039.5h0M1379.9 1007.8h0M1295.7 958.3h0M1293.8 840.3h0M1352.6 1052.0h0M1547.8 1030.3h0M1627.8 989.3h0M1339.3 1168.9h0M1243.8 944.3h0M1307.0 1087.6h0M1313.4 1170.6h0M1493.6 867.5h0M1296.4 1160.2h0M1382.9 1039.8h0M1550.7 1013.6h0M1476.9 897.5h0M1579.5 1020.9h0M1301.5 1058.9h0M1342.2 1069.6h0M1438.4 1063.5h0M1364.5 1016.6h0M1386.3 1069.8h0M1438.0 1154.6h0M1348.3 951.0h0M1394.5 1167.7h0M1453.2 1016.2h0M1421.6 1007.0h0M1300.1 1141.2h0M1376.1 1011.7h0M1297.4 782.3h0M1480.7 996.2h0M1349.9 816.9h0M1343.9 961.1h0M1603.1 1004.7h0M1324.3 990.8h0M1684.1 1032.8h0M1316.1 1210.9h0M1311.4 1055.8h0M1688.6 992.7h0M1329.0 1109.4h0M1469.0 1066.7h0M1315.6 941.8h0M1321.1 1166.6h0M1356.2 912.6h0M1259.9 986.3h0M1428.2 978.5h0M1346.0 1012.3h0M1331.5 1065.1h0M1652.5 1028.8h0M1653.8 1011.7h0M1426.2 978.6h0M1464.2 1151.6h0M1649.7 1017.8h0M1232.9 1026.8h0M1342.3 1138.9h0M1659.5 990.6h0M1352.5 958.9h0M1331.2 855.6h0M1282.6 1079.4h0M1343.9 1133.6h0M1322.2 1027.3h0M1297.4 909.5h0M1383.1 978.3h0M1604.8 961.3h0M1314.1 844.5h0M1526.3 986.4h0M1572.9 1009.1h0M1294.2 931.1h0M1487.0 1060.4h0M1359.1 820.4h0M1334.4 1046.7h0M1299.7 1158.4h0M1528.6 972.4h0M1282.1 1012.1h0M1427.0 811.0h0M1507.6 1055.6h0M1370.8 937.8h0M1374.0 1135.5h0M1347.4 986.1h0M1283.1 1098.7h0M1588.6 1063.9h0M1284.2 1038.0h0M1392.7 994.7h0M1515.0 1006.9h0M1488.4 997.4h0M1555.1 985.2h0M1321.5 1033.8h0M1212.9 1164.5h0M1343.0 889.4h0M1421.6 995.3h0M1300.0 1163.9h0M1315.8 871.8h0M1435.1 1041.8h0M1338.3 1151.4h0M1309.5 975.8h0M1652.1 1048.3h0M1678.7 1037.8h0M1474.3 937.0h0M1368.8 965.4h0M1424.8 1095.0h0M1483.2 1045.3h0M1538.4 1050.1h0M1316.1 776.8h0M1339.5 1028.0h0M1425.8 845.7h0M1665.1 1068.2h0M1270.3 976.5h0M1319.5 790.1h0M1356.8 1050.1h0M1357.7 1083.9h0M1538.6 1076.8h0M1300.2 1058.2h0M1512.9 997.5h0M1319.0 1141.1h0M1637.5 952.6h0M1687.7 981.5h0M1656.3 1050.4h0M1390.3 968.9h0M1385.1 1149.3h0M1624.1 986.0h0M1530.7 1022.3h0M1612.1 953.7h0M1621.1 1050.3h0M1678.0 1044.0h0M1650.6 1006.9h0M1375.8 1084.0h0M1615.7 1031.0h0M1391.2 1041.4h0M1389.0 1085.9h0M1603.6 901.2h0M1331.8 957.8h0M1302.9 1040.9h0M1563.3 981.7h0M1475.6 880.8h0M1355.1 771.3h0M1389.7 1062.7h0M1377.2 1181.5h0M1281.3 902.3h0M1314.3 817.5h0M1296.5 1054.8h0M1368.4 999.6h0M1305.7 1204.7h0M1362.5 1094.6h0M1473.0 1028.3h0M1312.4 1171.5h0M1291.8 958.3h0M1254.2 1094.7h0M1649.0 1031.4h0M1471.0 1064.9h0M1257.7 960.1h0M1484.6 943.0h0M1356.2 898.3h0M1348.8 1082.9h0M1317.5 1209.3h0M1285.8 1042.6h0M1393.6 1024.2h0M1342.5 983.2h0M1455.7 1036.2h0M1551.4 1012.6h0M1501.2 1031.7h0M1443.8 822.7h0M1332.4 1061.7h0M1556.6 1090.3h0M1307.0 803.9h0M1674.7 992.0h0M1509.0 1019.7h0M1543.1 946.5h0M1385.8 938.0h0M1283.8 780.1h0M1469.7 1128.9h0M1475.9 1095.4h0M1602.7 1062.8h0M1299.5 1135.0h0M1578.8 1019.9h0M1519.0 1018.1h0M1349.6 848.6h0M1360.6 1019.2h0M1348.9 1016.1h0M1593.0 1030.2h0M1389.0 1042.5h0M1446.1 1113.6h0M1369.1 1149.7h0M1371.8 1036.6h0M1478.1 936.7h0M1317.3 997.6h0M1302.3 1022.4h0M1366.0 916.0h0M1327.3 796.8h0M1386.3 946.8h0M1663.5 1026.0h0M1258.3 1149.0h0M1643.1 983.0h0M1612.1 979.9h0M1677.9 1035.1h0M1475.8 958.7h0M1498.8 983.0h0M1524.9 1015.0h0M1352.6 1137.0h0M1599.4 983.9h0M1397.8 1059.7h0M1240.8 1006.2h0M1630.7 926.0h0M1657.0 1044.8h0M1231.8 928.3h0M1393.2 1031.8h0M1583.4 1075.0h0M1543.6 1125.4h0M1364.6 1047.3h0M1356.1 1190.9h0M1526.5 1102.0h0M1322.8 972.6h0M1335.8 972.9h0M1355.9 1136.5h0M1418.4 888.7h0M1475.2 1045.1h0M1527.2 1052.2h0M1508.2 987.7h0M1328.8 976.2h0M1621.3 1045.7h0M1660.2 987.0h0M1436.8 1130.4h0M1558.9 989.0h0M1306.5 1155.2h0M1585.8 987.6h0M1689.4 1037.5h0M1663.3 1061.2h0M1517.2 986.8h0M1367.9 1047.3h0M1487.1 1034.3h0M1532.3 955.1h0M1309.7 989.0h0M1624.7 1057.6h0M1288.7 1156.5h0M1422.6 1123.9h0M1688.2 1054.5h0M1248.2 991.8h0M1393.5 1100.2h0M1357.1 887.1h0M1641.7 973.0h0M1351.5 926.8h0M1412.8 1075.0h0M1330.8 847.5h0M1365.6 951.9h0M1369.4 971.7h0M1322.7 889.8h0M1309.2 1092.2h0M1563.8 973.6h0M1382.4 1003.3h0M1328.8 976.5h0M1424.7 914.8h0M1497.1 951.7h0M1369.5 1063.3h0M1351.6 794.4h0M1328.3 1174.2h0M1268.0 1210.4h0M1528.7 878.1h0M1376.9 1041.0h0M1490.9 830.1h0M1303.7 995.4h0M1588.9 1063.5h0M1439.8 1058.1h0M1392.2 931.4h0M1485.1 1055.1h0M1424.1 1006.4h0M1328.0 1036.7h0M1343.6 1042.8h0M1665.8 1047.5h0M1298.8 1145.5h0M1328.2 1021.5h0M1458.6 1073.3h0M1301.7 795.3h0M1297.9 1145.2h0M1383.8 1059.2h0M1253.7 1152.5h0M1498.8 1025.3h0M1573.5 987.6h0M1285.5 1173.1h0M1507.1 963.9h0M1564.9 1008.4h0M1605.4 1048.2h0M1630.4 892.8h0M1323.9 996.3h0M1331.1 987.7h0M1311.6 1207.7h0M1618.8 1055.8h0M1585.0 1039.9h0M1284.8 1136.5h0M1430.7 1051.4h0M1351.7 1035.4h0M1342.2 1034.2h0M1500.1 1060.6h0M1544.8 1050.1h0M1658.5 1029.9h0M1385.0 1045.3h0M1533.0 1063.2h0M1383.5 1125.5h0M1604.8 1014.7h0M1406.4 1030.9h0M1505.0 1037.8h0M1298.4 1009.1h0M1603.4 1033.7h0M1348.8 965.8h0M1372.1 903.7h0M1478.6 1019.7h0M1515.1 913.1h0M1326.0 1010.3h0M1362.2 875.8h0M1401.1 997.3h0M1308.4 1038.0h0M1358.5 1053.4h0M1310.7 911.3h0M1666.3 961.7h0M1581.1 890.7h0M1226.0 1020.4h0M1415.1 993.1h0M1595.0 926.4h0M1470.4 972.4h0M1625.0 991.0h0M1351.5 1022.2h0M1599.8 963.4h0M1411.2 1178.7h0M1371.6 911.6h0M1460.9 1066.1h0M1244.8 1185.2h0M1557.0 962.2h0M1279.4 1117.9h0M1329.0 980.0h0M1679.6 973.0h0M1441.7 885.5h0M1403.4 918.2h0M1484.0 873.2h0M1555.7 1039.0h0M1333.4 910.9h0M1379.8 1004.4h0M1326.4 931.7h0M1614.8 1025.7h0M1466.3 1053.3h0M1311.9 1078.0h0M1518.1 1154.1h0M1318.8 913.0h0M1268.1 888.6h0M1423.1 1019.2h0M1413.1 959.6h0M1515.1 1054.6h0M1511.8 1038.8h0M1550.6 961.2h0M1348.7 1128.5h0M1661.8 1051.9h0M1444.2 1026.3h0M1432.3 1081.5h0M1333.6 1153.2h0M1594.1 1055.5h0M1648.0 1041.4h0M1306.0 1130.4h0M1362.0 1075.0h0M1459.9 1102.6h0M1567.8 1037.6h0M1547.7 1024.2h0M1442.6 915.1h0M1467.3 1012.1h0M1513.7 915.5h0M1409.0 1061.7h0M1275.3 909.5h0M1370.6 829.2h0M1677.0 1042.5h0M1380.8 967.1h0M1586.6 1039.9h0M1326.2 987.3h0M1390.9 1058.4h0M1645.0 987.8h0M1391.5 1173.2h0M1367.8 951.0h0M1303.8 1165.3h0M1648.1 902.1h0M1370.7 995.8h0M1632.0 1055.0h0M1399.9 1050.4h0M1355.3 816.7h0M1585.9 993.4h0M1540.8 1030.3h0M1298.6 1031.2h0M1279.8 936.0h0M1558.2 885.2h0M1440.8 1175.6h0M1561.9 1068.4h0M1677.2 1032.6h0" stroke="#FF88FF" stroke-width="5.0" stroke-linecap="round" fill="none"/>
<path d="M1256.5 1178.0h0M1378.0 1118.8h0M1686.9 931.7h0M1656.9 894.1h0M1361.6 859.0h0M1286.8 1209.6h0M1671.7 1047.6h0M1452.1 845.9h0M1497.0 1103.1h0M1491.7 1035.9h0M1610.8 1017.8h0M1501.1 929.0h0M1282.2 834.2h0M1379.0 1032.0h0M1368.3 939.2h0M1658.6 1001.0h0M1367.2 1028.2h0M1351.4 1002.5h0M1467.4 990.0h0M1435.9 1056.6h0M1341.5 1154.3h0M1355.4 808.0h0M1415.4 983.3h0M1570.2 1051.4h0M1428.6 1040.3h0M1293.9 1183.2h0M1374.1 959.9h0M1401.5 1144.9h0M1426.8 973.9h0M1296.2 909.8h0M1656.9 1071.0h0M1338.5 867.0h0M1680.0 1005.4h0M1357.8 1022.1h0M1475.0 1024.5h0M1601.8 1023.7h0M1246.0 1170.2h0M1479.7 1034.5h0M1630.6 1057.7h0M1676.7 977.0h0M1273.8 1214.8h0M1332.6 900.1h0M1390.1 981.0h0M1387.0 1048.9h0M1272.9 1114.6h0M1476.9 1035.8h0M1435.5 1145.7h0M1389.7 1033.0h0M1417.6 1076.9h0M1364.5 1034.0h0M1572.7 1086.7h0M1297.7 995.8h0M1625.9 1107.9h0M1561.4 1048.8h0M1263.5 1166.6h0M1324.7 1032.6h0M1279.4 1016.1h0M1347.6 1058.9h0M1458.8 1074.8h0M1482.6 1024.9h0M1296.0 924.4h0M1362.9 922.2h0M1668.8 1019.2h0M1681.8 955.7h0M1596.8 1044.8h0M1492.2 1071.2h0M1245.5 1179.1h0M1347.5 1177.0h0M1391.6 1069.7h0M1318.4 986.3h0M1280.2 840.9h0M1493.2 1116.0h0M1273.3 1174.8h0M1434.0 1047.3h0M1350.8 1067.2h0M1521.1 891.1h0M1336.9 1143.8h0M1480.8 1060.8h0M1363.2 1056.5h0M1402.4 1009.4h0M1541.0 1032.3h0M1687.8 892.1h0M1244.1 1127.8h0M1583.6 1044.6h0M1470.4 892.2h0M1610.2 1038.5h0M1577.5 1036.8h0M1545.7 930.2h0M1420.4 876.2h0M1549.1 1035.4h0M1345.1 882.3h0M1370.3 1041.5h0M1650.0 1036.4h0M1345.3 1043.1h0M1389.7 869.4h0M1310.7 930.6h0M1266.3 1205.7h0M1477.9 1036.7h0M1274.1 1104.1h0M1525.7 1068.7h0M1454.6 832.8h0M1386.9 941.2h0M1435.1 1014.2h0M1386.5 1129.7h0M1499.7 1077.8h0M1676.2 1021.4h0M1296.6 1035.0h0M1431.7 1001.2h0M1420.5 1015.7h0M1329.0 1086.9h0M1558.8 1046.4h0M1303.5 1021.8h0M1366.3 969.0h0M1309.1 917.1h0M1304.5 984.3h0M1523.1 1042.5h0M1293.7 1137.8h0M1287.8 1003.7h0M1267.9 1176.2h0M1633.7 1019.8h0M1314.3 1169.6h0M1257.3 1144.7h0M1376.2 1088.2h0M1595.7 978.6h0M1625.4 994.9h0M1346.9 950.6h0M1422.7 1093.8h0M1426.1 1050.6h0M1530.0 992.1h0M1404.8 1081.4h0M1307.7 1015.0h0M1335.4 899.0h0M1294.5 771.7h0M1662.7 1023.8h0M1267.3 1166.9h0M1337.6 1133.2h0M1314.9 868.1h0M1229.4 1040.8h0M1306.8 947.5h0M1426.2 1065.7h0M1404.5 995.2h0M1623.6 954.2h0M1689.5 1057.3h0M1543.7 955.0h0M1370.6 1013.1h0M1682.4 1020.3h0M1492.9 1077.4h0M1643.4 1026.0h0M1318.8 773.4h0M1265.9 961.9h0M1645.4 1051.5h0M1263.1 851.8h0M1542.8 1031.9h0M1486.2 886.3h0M1383.0 965.6h0M1310.6 775.2h0M1331.6 1015.9h0M1308.2 910.9h0M1353.9 1032.5h0M1372.9 991.8h0M1384.8 933.1h0M1623.1 930.1h0M1283.3 1219.9h0M1310.1 953.7h0M1263.0 1021.4h0M1270.0 1145.1h0M1521.2 1042.3h0M1342.0 928.1h0M1368.3 843.0h0M1314.3 1104.8h0M1447.4 1020.8h0M1386.1 1065.1h0M1547.9 973.1h0M1356.5 1125.2h0M1523.0 846.8h0M1368.2 843.2h0M1349.1 1156.5h0M1455.8 1061.4h0M1427.6 1054.3h0M1275.6 1174.0h0M1478.3 928.4h0M1630.5 1040.5h0M1325.3 1137.3h0M1576.1 977.4h0M1313.8 920.0h0M1474.1 1000.4h0M1674.4 1055.5h0M1300.5 787.3h0M1659.1 1047.2h0M1250.5 998.0h0M1402.6 857.4h0M1291.0 905.7h0M1317.6 799.5h0M1321.7 998.0h0M1438.5 1048.5h0M1602.5 979.9h0M1501.8 1094.4h0M1611.1 1003.6h0M1680.5 1058.8h0M1311.5 1032.4h0M1302.1 1182.8h0M1451.1 986.5h0M1533.5 1024.3h0M1602.1 998.9h0M1491.7 965.2h0M1687.2 1045.6h0M1673.2 1000.5h0M1677.8 996.6h0M1492.9 1014.8h0M1670.1 929.0h0M1320.6 1093.4h0M1266.4 1191.6h0M1287.4 1087.6h0M1370.4 1146.1h0M1286.4 905.1h0M1431.6 977.2h0M1385.4 1111.8h0M1602.2 1005.1h0M1555.1 946.6h0M1325.2 1016.1h0M1308.5 1008.1h0M1297.5 965.2h0M1461.9 908.7h0M1497.7 918.4h0M1350.3 1135.7h0M1539.1 961.5h0M1369.9 933.0h0M1279.9 870.9h0M1381.2 922.7h0M1351.2 978.0h0M1357.3 873.0h0M1448.7 925.6h0M1580.4 1103.6h0M1316.8 1190.0h0M1311.0 815.4h0M1346.1 954.3h0M1300.5 1149.5h0M1295.4 1153.6h0M1264.0 1144.2h0M1361.2 1152.5h0M1380.0 1022.9h0M1637.2 1020.5h0M1343.6 999.2h0M1347.0 1105.0h0M1421.5 1016.7h0M1469.5 989.5h0M1545.3 979.6h0M1425.5 940.0h0M1655.4 994.8h0M1528.8 1018.7h0M1246.8 1128.5h0M1649.9 1013.2h0M1250.1 919.2h0M1382.5 857.4h0M1490.8 988.7h0M1403.5 1076.1h0M1696.0 1016.6h0M1524.2 878.9h0M1259.9 1171.2h0M1372.0 1088.7h0M1614.2 984.5h0M1576.8 1063.2h0M1577.3 977.5h0M1308.8 1212.8h0M1378.9 964.0h0M1424.4 1017.4h0M1313.1 1063.1h0M1532.7 1017.4h0M1317.1 974.9h0M1323.5 1175.8h0M1526.4 984.0h0M1418.4 999.3h0M1634.5 999.5h0M1253.2 1193.1h0M1405.0 1077.4h0M1501.6 1058.2h0M1356.3 922.0h0M1306.6 799.5h0M1561.3 1067.9h0M1356.9 1157.4h0M1427.7 1036.0h0M1471.4 1030.8h0M1416.5 1042.1h0M1262.5 921.1h0M1291.8 1112.4h0M1304.1 1077.2h0M1314.9 944.4h0M1400.4 967.1h0M1547.8 1068.0h0M1338.7 811.4h0M1339.1 1013.1h0M1343.3 962.0h0M1309.4 1088.7h0M1571.8 990.4h0M1528.0 1045.3h0M1533.4 1068.3h0M1332.0 896.7h0M1408.2 1049.9h0M1640.3 1028.1h0M1391.0 935.8h0M1446.6 944.6h0M1381.3 953.2h0M1370.7 1174.4h0M1307.0 1150.3h0M1591.7 1024.5h0M1661.0 1050.0h0M1424.9 1016.0h0M1412.2 1060.4h0M1414.2 1140.8h0M1251.6 1130.4h0M1358.0 1120.4h0M1340.6 965.0h0M1645.8 992.4h0M1287.2 1067.5h0M1562.7 1025.7h0M1330.7 1082.1h0M1669.8 965.3h0M1402.2 1065.2h0M1382.3 1132.0h0M1350.0 1034.0h0M1408.1 949.2h0M1539.3 1030.1h0M1466.6 907.1h0M1580.1 1027.7h0M1463.1 1020.4h0M1474.0 1000.2h0M1357.5 1022.7h0M1673.7 1008.1h0M1547.2 1087.7h0M1315.7 884.0h0M1297.8 877.2h0M1325.1 1120.1h0M1563.8 995.4h0M1263.7 907.4h0M1569.3 1050.8h0M1518.7 1031.5h0M1446.5 994.9h0M1585.0 1077.5h0M1575.1 1068.7h0M1476.6 1056.7h0M1450.9 987.9h0M1478.2 837.6h0M1494.0 893.8h0M1431.0 996.3h0M1398.3 1000.3h0M1356.9 1066.5h0M1381.8 1054.2h0M1666.7 1031.2h0M1317.5 914.0h0M1569.9 1033.4h0M1422.6 935.7h0M1314.0 964.4h0M1565.6 1065.6h0M1313.8 865.3h0M1671.5 1018.1h0M1385.2 1007.8h0M1299.2 1131.7h0M1262.4 1156.1h0M1524.4 940.9h0M1673.0 996.4h0M1674.7 1054.2h0M1393.8 1113.1h0M1277.9 1182.6h0M1310.8 769.6h0M1591.0 1046.0h0M1316.1 1067.0h0M1496.7 1012.1h0M1630.9 969.1h0M1383.5 1087.3h0M1316.5 1070.0h0M1381.5 991.6h0M1309.1 1188.2h0M1573.2 1102.8h0M1440.2 953.7h0M1389.3 1131.3h0M1274.7 882.4h0M1548.7 1047.5h0M1364.9 853.7h0M1295.5 1143.7h0M1291.6 812.7h0M1277.8 967.7h0M1314.3 929.8h0M1648.6 1022.5h0M1418.1 909.2h0M1415.5 1086.2h0M1604.3 851.7h0M1561.6 1024.4h0M1276.0 1029.2h0M1354.1 1063.6h0M1483.8 1070.3h0M1591.2 987.0h0M1520.4 1036.6h0M1448.5 957.3h0M1361.2 963.7h0M1357.6 885.3h0M1403.5 1002.4h0M1257.6 1195.0h0M1648.3 1041.3h0M1370.0 1085.5h0M1330.5 833.0h0M1261.9 1028.0h0M1226.2 898.1h0M1310.1 1082.0h0M1333.2 896.4h0M1352.4 1059.4h0M1547.3 1023.3h0M1336.7 1179.1h0M1350.5 1129.4h0M1397.5 1051.0h0M1562.0 1152.3h0M1409.7 1043.1h0M1290.7 1204.7h0M1451.6 1086.7h0M1555.3 1075.1h0M1365.0 1052.1h0M1410.2 1168.8h0M1366.1 930.8h0M1346.5 1111.9h0M1257.7 1144.7h0M1312.8 836.4h0M1465.5 1030.1h0M1546.6 1014.2h0M1585.5 984.3h0M1337.1 840.5h0M1306.1 777.5h0M1618.5 949.7h0M1445.2 942.6h0M1410.9 978.5h0M1308.0 1138.4h0M1397.2 977.1h0M1387.8 1092.5h0M1652.5 975.8h0M1347.6 938.6h0M1424.0 1037.7h0M1261.1 1066.2h0M1277.0 1197.1h0M1412.9 1136.0h0M1575.0 978.8h0M1638.9 1000.0h0M1229.5 960.0h0M1327.4 1002.8h0M1270.3 1172.9h0M1476.9 946.7h0M1400.8 1123.9h0M1507.9 957.2h0M1561.3 1046.3h0M1300.0 1196.1h0M1410.4 1055.5h0M1364.4 1034.6h0M1312.8 1044.5h0M1359.3 933.0h0M1300.0 862.3h0M1632.2 978.3h0M1609.9 1042.7h0M1582.1 1018.1h0M1482.2 954.0h0M1613.5 1072.1h0M1569.3 1044.7h0M1671.0 1005.2h0M1357.3 1029.8h0M1317.3 754.6h0M1258.4 1011.2h0M1287.6 1186.8h0M1292.5 836.9h0M1437.2 1050.0h0M1262.5 1160.8h0M1613.0 1009.2h0M1627.9 1052.2h0M1295.1 862.4h0M1403.4 960.7h0M1368.6 1182.0h0M1445.8 834.7h0M1339.8 1157.6h0M1490.4 1054.3h0M1521.6 1064.8h0M1495.9 1063.7h0M1356.7 822.5h0M1403.1 1166.9h0M1249.2 920.8h0M1278.7 1168.7h0M1341.4 1056.0h0M1457.9 1032.6h0M1390.4 976.2h0M1311.0 885.9h0M1439.1 1040.4h0M1340.4 1028.4h0M1601.3 927.5h0M1610.9 1040.2h0M1579.0 1043.3h0M1364.9 1067.5h0M1692.4 1055.9h0M1445.1 1153.0h0M1382.1 878.2h0M1471.7 896.4h0M1468.5 997.3h0M1389.1 1086.1h0M1494.7 1034.4h0M1385.2 1033.4h0M1537.6 999.8h0M1296.7 772.0h0M1388.9 913.3h0M1290.5 905.9h0M1348.3 1067.8h0M1493.2 864.6h0M1300.1 946.5h0M1394.4 991.0h0M1296.2 1048.1h0M1301.7 1142.6h0M1351.4 1204.7h0M1363.6 1094.7h0M1235.6 1059.3h0M1514.6 1135.5h0M1565.5 1027.3h0M1589.6 1068.3h0M1427.5 962.7h0M1549.6 987.9h0M1371.6 1085.9h0M1385.6 1127.2h0M1537.6 1057.8h0M1487.7 1032.2h0M1488.0 1012.0h0M1390.4 1077.7h0M1413.0 1111.2h0M1638.0 958.1h0M1556.4 1054.7h0M1239.5 1077.6h0M1461.9 969.0h0M1574.4 880.3h0M1421.5 927.0h0M1293.5 801.2h0M1290.8 1053.8h0M1351.0 953.3h0M1297.6 883.3h0M1356.4 994.2h0M1328.1 1113.8h0M1335.3 963.1h0M1404.1 1003.3h0M1383.1 1113.6h0M1534.8 974.9h0M1370.8 907.5h0M1657.4 1058.0h0M1395.7 1119.7h0M1618.3 1049.2h0M1412.8 1076.4h0M1337.0 1152.4h0M1520.9 1049.1h0M1268.2 1150.2h0M1304.9 852.3h0M1411.8 1023.9h0M1420.4 988.0h0M1349.1 1147.0h0M1444.0 848.6h0M1360.1 1087.8h0M1326.8 1076.2h0M1340.2 881.3h0M1278.5 881.8h0M1321.1 987.5h0M1297.0 1161.1h0M1423.0 1066.4h0M1313.4 1138.9h0M1659.1 908.2h0M1256.0 1134.6h0M1317.8 1203.5h0M1662.6 1058.0h0M1291.0 1108.7h0M1329.4 986.8h0M1294.3 1098.2h0M1387.1 1146.6h0M1366.0 990.3h0M1368.4 1023.7h0M1484.3 990.4h0M1482.6 1063.2h0M1422.6 1012.4h0M1540.4 968.3h0M1355.8 814.3h0M1329.4 861.3h0M1361.7 1104.4h0M1656.0 1034.4h0M1312.3 811.4h0M1250.4 1176.0h0M1346.2 793.5h0M1339.1 1164.5h0M1421.8 941.5h0M1371.6 1049.3h0M1456.5 1044.7h0M1419.1 1022.4h0M1480.5 1051.1h0M1410.3 1023.2h0M1376.6 821.9h0M1287.1 1180.8h0M1285.5 797.2h0M1620.5 942.7h0M1403.9 1100.6h0M1484.3 1178.0h0M1662.1 1031.8h0M1375.3 1054.7h0M1270.3 1124.1h0M1395.1 1101.7h0M1310.6 977.8h0M1290.9 957.8h0M1650.2 1053.2h0M1418.0 997.1h0M1286.2 769.7h0M1362.2 988.1h0M1382.1 1141.4h0M1687.7 1064.2h0M1431.7 1047.7h0M1318.2 949.7h0M1322.3 1014.7h0M1301.4 1147.6h0M1311.5 1136.0h0M1544.3 1006.4h0M1338.0 1046.1h0M1443.2 1053.9h0M1546.8 1042.0h0M1378.9 936.5h0M1437.1 1012.6h0M1560.9 997.7h0M1433.0 870.2h0M1659.0 1016.6h0M1373.7 916.2h0M1450.6 1161.5h0M1506.9 1030.2h0M1295.0 1179.6h0M1695.0 1009.5h0M1598.5 1047.6h0M1247.9 1105.4h0M1458.1 1039.7h0M1346.4 912.7h0M1330.1 815.9h0M1570.7 1038.2h0M1555.2 1051.7h0M1579.9 961.2h0M1314.7 1115.0h0M1312.2 884.0h0M1347.8 1022.5h0M1282.5 1180.9h0M1359.5 1007.2h0M1360.0 929.0h0M1613.7 1037.2h0M1582.2 1034.5h0M1344.7 891.0h0M1343.5 1011.9h0M1359.7 1155.4h0M1359.1 1013.7h0M1410.1 1069.5h0M1512.9 985.3h0M1478.2 951.4h0M1610.4 985.8h0M1585.6 939.8h0M1364.1 1134.0h0M1472.2 1105.9h0M1417.5 1009.6h0M1332.8 1117.1h0M1483.6 1140.7h0M1391.7 815.0h0M1285.4 1180.0h0M1438.3 1099.4h0M1308.7 923.4h0M1304.8 894.3h0M1274.4 843.7h0M1382.5 1010.6h0M1333.3 973.5h0M1421.7 1023.8h0M1451.0 989.5h0M1540.6 940.6h0M1358.7 851.4h0M1341.3 978.3h0M1368.7 1017.0h0M1676.0 1041.1h0M1618.9 1027.9h0M1610.4 965.7h0M1633.8 884.4h0M1317.0 769.5h0M1406.4 1044.2h0M1614.2 1037.6h0M1586.9 1046.4h0M1381.3 1067.5h0M1396.1 964.1h0M1603.8 1048.9h0M1354.0 822.8h0M1630.5 1024.0h0M1537.2 1111.9h0M1322.3 1038.7h0M1361.2 1071.9h0M1453.3 957.3h0M1235.0 951.7h0M1356.1 1041.4h0M1320.7 1205.1h0M1292.9 1206.3h0M1395.9 992.8h0M1265.2 1184.8h0M1417.8 1028.5h0M1450.7 982.9h0M1437.9 962.6h0M1389.2 1001.2h0M1681.3 1045.1h0M1428.0 1102.1h0M1593.1 1087.4h0M1301.6 1111.6h0M1391.1 956.3h0M1261.4 1183.4h0M1407.2 1054.3h0M1560.3 1045.2h0M1643.7 989.8h0M1456.9 1018.9h0M1344.3 955.1h0M1494.8 1072.7h0M1509.8 962.0h0M1484.8 1041.6h0M1395.1 991.2h0M1391.0 937.0h0M1392.5 1075.7h0M1367.0 987.4h0M1553.6 1147.1h0M1438.1 925.7h0M1545.3 1036.5h0M1312.0 796.7h0M1354.7 862.4h0M1353.7 1028.4h0M1524.3 909.8h0M1350.0 1184.6h0M1459.5 1032.1h0M1656.2 1044.2h0M1299.4 915.1h0M1288.0 973.5h0M1456.9 996.4h0M1345.7 975.6h0M1349.5 815.8h0M1371.9 1139.4h0M1613.5 984.8h0M1486.8 1050.9h0M1327.4 901.2h0M1575.1 1067.5h0M1425.0 1128.0h0M1397.6 989.2h0M1258.3 1171.8h0M1521.5 1101.0h0M1318.2 851.6h0M1504.2 1042.4h0M1323.2 934.0h0M1358.9 1081.8h0M1416.4 966.3h0M1321.0 1095.9h0M1311.0 885.3h0M1297.1 1183.0h0M1431.7 990.8h0M1315.6 918.7h0M1366.9 1124.4h0M1421.2 1083.1h0M1333.2 997.5h0M1318.8 1011.7h0M1305.3 1145.7h0M1298.7 788.1h0M1404.9 1109.8h0M1320.3 1154.4h0M1484.3 998.8h0M1679.1 1064.2h0M1269.0 1126.2h0M1476.0 1063.2h0M1283.1 1052.1h0M1316.4 918.7h0M1223.8 1145.7h0M1365.0 971.8h0M1504.6 994.3h0M1258.6 1164.3h0M1656.4 1053.2h0M1610.1 973.5h0M1349.0 1054.9h0M1622.3 966.1h0M1339.9 945.1h0M1383.2 947.3h0M1303.9 956.7h0M1304.8 1068.9h0M1322.6 880.0h0M1414.0 1088.2h0M1300.9 926.8h0M1663.9 1040.0h0M1347.8 1034.9h0M1275.6 957.7h0M1299.7 1048.2h0M1606.2 949.0h0M1319.6 1208.8h0M1472.2 1037.9h0M1262.2 1156.9h0M1461.3 1063.9h0M1657.7 961.1h0M1333.1 1108.7h0M1339.8 981.2h0M1293.6 891.8h0M1284.1 809.6h0M1654.7 1024.7h0M1493.9 1069.6h0M1293.5 1084.2h0M1331.6 833.1h0M1353.9 897.0h0M1683.1 1030.6h0M1533.5 946.9h0M1274.7 1137.7h0M1393.4 1016.1h0M1357.2 1072.9h0M1307.2 799.0h0M1344.9 928.8h0M1459.7 1008.0h0M1395.5 890.5h0" stroke="#1BCB6C" stroke-width="5.0" stroke-linecap="round" fill="none"/>
<path d="M1629.9 926.7h0M1325.2 1041.2h0M1666.9 1028.0h0M1450.9 1091.3h0M1506.9 1039.9h0M1401.8 1043.2h0M1267.0 1130.6h0M1499.2 1073.7h0M1303.9 783.1h0M1633.4 1060.8h0M1387.1 1002.1h0M1632.3 1057.0h0M1609.6 1030.4h0M1353.0 1178.9h0M1426.4 1081.8h0M1336.3 950.0h0M1465.1 1027.8h0M1469.9 1131.4h0M1500.0 1051.3h0M1602.4 912.0h0M1370.4 1031.5h0M1476.3 1023.7h0M1364.0 879.1h0M1298.3 872.0h0M1430.1 969.4h0M1352.2 937.4h0M1370.4 1155.9h0M1569.9 1104.0h0M1596.8 1016.7h0M1626.7 1026.2h0M1475.7 949.5h0M1526.1 1033.4h0M1561.0 1033.1h0M1329.5 895.6h0M1338.2 966.5h0M1429.1 1065.1h0M1317.7 1012.2h0M1375.3 1039.4h0M1355.1 1027.5h0M1638.9 965.1h0M1339.1 1085.6h0M1276.5 1183.0h0M1347.2 1203.8h0M1324.6 1090.6h0M1348.5 1089.7h0M1287.0 835.0h0M1642.1 1066.9h0M1285.0 790.6h0M1546.3 997.3h0M1546.0 953.1h0M1431.8 982.0h0M1320.0 904.7h0M1272.1 1201.7h0M1508.9 1008.5h0M1330.4 851.3h0M1655.4 1063.4h0M1667.7 1043.1h0M1536.3 933.8h0M1423.3 1117.3h0M1342.1 1178.4h0M1325.7 1068.3h0M1350.6 1017.9h0M1320.8 1187.1h0M1507.2 1038.8h0M1665.5 1049.9h0M1386.7 1100.9h0M1358.3 1060.6h0M1599.4 925.4h0M1523.4 1141.9h0M1499.3 1045.8h0M1297.2 837.8h0M1517.0 1069.2h0M1371.8 1037.3h0M1638.5 1002.7h0M1419.7 1088.8h0M1407.0 1137.0h0M1646.1 978.2h0M1411.3 990.3h0M1422.8 1028.4h0M1367.2 1181.1h0M1529.9 1056.2h0M1459.7 1018.2h0M1286.0 1141.0h0M1387.8 995.4h0M1398.8 1021.8h0M1323.9 934.0h0M1305.3 898.1h0M1379.9 1085.5h0M1389.3 1104.3h0M1286.5 1202.5h0M1282.7 832.5h0M1323.8 1033.4h0M1454.5 852.3h0M1311.3 1188.3h0M1426.3 1017.8h0M1674.8 991.9h0M1480.5 1102.6h0M1519.9 991.1h0M1342.6 1063.3h0M1451.4 943.8h0M1431.1 946.7h0M1270.8 989.6h0M1324.6 1091.6h0M1260.0 1158.9h0M1332.8 1023.8h0M1671.7 1069.4h0M1273.8 1143.5h0M1346.7 1095.7h0M1397.6 1118.8h0M1299.0 1011.7h0M1415.9 912.1h0M1557.6 1032.9h0M1627.4 951.8h0M1238.9 1110.3h0M1573.2 1046.9h0M1306.8 907.4h0M1268.8 1184.4h0M1635.7 1038.0h0M1563.8 1045.4h0M1594.2 1062.8h0M1612.9 1019.4h0M1311.9 875.4h0M1469.7 1035.1h0M1492.2 1049.5h0M1355.6 1012.9h0M1595.2 1049.9h0M1366.3 1028.9h0M1449.0 1006.0h0M1442.3 929.7h0M1326.4 1156.2h0M1585.7 863.2h0M1512.4 1060.9h0M1666.8 1046.5h0M1542.6 1038.0h0M1322.9 856.4h0M1430.4 1067.6h0M1468.5 1068.0h0M1352.1 905.5h0M1358.9 879.0h0M1575.5 1049.0h0M1626.3 880.7h0M1557.4 980.2h0M1435.7 1091.0h0M1587.7 1047.3h0M1263.9 1174.8h0M1425.4 993.4h0M1451.6 917.9h0M1418.1 1074.0h0M1421.2 1071.0h0M1356.0 880.6h0M1536.6 914.3h0M1306.6 1173.8h0M1421.4 1123.4h0M1496.2 1066.8h0M1332.5 975.6h0M1293.2 755.6h0M1653.9 1067.2h0M1601.1 1053.4h0M1556.2 889.8h0M1346.3 862.2h0M1346.6 907.8h0M1506.0 953.9h0M1537.1 1152.2h0M1359.3 1052.3h0M1443.5 934.3h0M1395.5 888.3h0M1428.4 1066.4h0M1588.0 1080.4h0M1331.5 1009.3h0M1245.2 1132.8h0M1314.7 857.5h0M1313.2 1000.2h0M1326.9 1157.8h0M1372.1 963.4h0M1618.7 1065.4h0M1303.7 1079.3h0M1417.7 952.2h0M1413.8 957.5h0M1596.2 1027.4h0M1301.5 1139.7h0M1686.5 1039.3h0M1310.3 1027.1h0M1359.3 1127.9h0M1327.0 1000.3h0M1403.3 1155.3h0M1664.1 1026.4h0M1427.2 907.0h0M1681.2 1034.4h0M1396.4 1066.2h0M1306.5 828.8h0M1412.8 1048.7h0M1580.5 981.9h0M1483.1 925.2h0M1393.6 901.0h0M1624.0 893.9h0M1372.7 890.6h0M1413.9 933.1h0M1293.2 913.2h0M1368.8 947.9h0M1372.6 1080.6h0M1527.0 1025.1h0M1357.0 1022.4h0M1379.8 899.9h0M1602.9 955.9h0M1502.6 1094.6h0M1640.3 973.8h0M1301.2 925.9h0M1377.3 1005.8h0M1344.9 1005.7h0M1467.7 1003.6h0M1487.9 1029.8h0M1548.1 1048.7h0M1677.2 985.3h0M1339.9 924.8h0M1278.6 1213.4h0M1420.7 1136.0h0M1505.0 1044.7h0M1401.5 1058.3h0M1632.8 1050.1h0M1628.4 982.9h0M1327.3 944.5h0M1363.9 1119.9h0M1595.4 1029.3h0M1377.4 1099.3h0M1290.3 896.3h0M1611.9 1023.4h0M1266.3 1114.2h0M1568.5 1049.3h0M1458.1 1122.3h0M1397.4 844.0h0M1558.4 979.5h0M1585.9 987.5h0M1545.2 1070.1h0M1338.2 1078.9h0M1453.0 1069.1h0M1337.2 1187.4h0M1619.4 1023.4h0M1383.8 1013.4h0M1434.1 1044.0h0M1284.8 1048.6h0M1604.8 1060.6h0M1291.7 1160.7h0M1363.9 1009.2h0M1324.1 1143.4h0M1402.9 1062.4h0M1280.3 1125.5h0M1291.2 1145.3h0M1354.4 982.5h0M1394.1 1057.9h0M1629.1 1039.9h0M1283.6 1199.7h0M1327.5 1081.7h0M1494.5 926.6h0M1438.9 1049.7h0M1302.9 978.1h0M1341.4 842.4h0M1421.2 1046.9h0M1270.9 1141.0h0M1379.3 1077.6h0M1582.6 1058.6h0M1291.6 1130.6h0M1412.5 969.6h0M1289.5 1182.1h0M1460.0 1098.2h0M1614.4 1111.9h0M1506.8 1064.4h0M1453.9 923.8h0M1450.2 989.1h0M1274.4 1186.2h0M1314.1 845.1h0M1353.5 951.9h0M1341.3 1029.9h0M1574.4 1030.3h0M1411.7 1073.7h0M1436.8 1146.9h0M1427.9 1022.3h0M1672.8 1063.8h0M1300.5 1175.8h0M1307.4 898.5h0M1590.5 1058.5h0M1679.8 977.3h0M1369.1 1010.2h0M1378.6 1048.3h0M1315.2 1168.3h0M1454.6 843.4h0M1411.9 1141.1h0M1524.9 1068.3h0M1303.9 936.1h0M1307.0 1012.1h0M1372.2 1073.2h0M1422.8 1137.1h0M1566.0 1068.9h0M1321.8 826.6h0M1600.5 991.9h0M1343.7 954.4h0M1465.1 1057.3h0M1342.6 1011.8h0M1589.9 1058.5h0M1392.6 1070.0h0M1557.7 1020.3h0M1307.9 873.3h0M1292.9 947.5h0M1623.9 1052.7h0M1286.9 1171.5h0M1481.5 1040.1h0M1612.7 907.0h0M1653.5 1000.9h0M1286.3 897.3h0M1649.1 1003.5h0M1584.5 946.1h0M1583.8 1037.0h0M1394.2 1025.0h0M1383.2 1052.2h0M1344.8 1124.6h0M1262.4 888.4h0M1526.7 1025.3h0M1265.8 1146.4h0M1385.4 1143.1h0M1499.9 983.1h0M1485.7 945.6h0M1671.5 1027.0h0M1474.4 1120.0h0M1488.6 974.4h0M1483.3 1163.7h0M1277.0 791.8h0M1640.7 1068.8h0M1362.8 809.4h0M1644.5 999.3h0M1335.7 841.3h0M1308.8 933.8h0M1448.6 995.3h0M1308.5 970.5h0M1424.1 1022.6h0M1629.0 931.5h0M1449.5 1206.5h0M1328.0 908.3h0M1583.9 950.7h0M1476.9 1015.8h0M1629.8 988.8h0M1374.3 992.4h0M1374.4 1089.1h0M1565.9 881.4h0M1367.2 1087.0h0M1378.5 1046.1h0M1530.5 881.8h0M1358.0 1105.8h0M1318.1 1005.4h0M1631.1 1027.5h0M1310.0 1171.7h0M1334.3 967.7h0M1543.9 1016.5h0M1296.6 985.4h0M1308.2 1176.3h0M1442.0 1077.8h0M1314.4 1112.6h0M1414.9 1014.2h0M1289.3 1021.2h0M1426.7 1098.6h0M1677.0 1061.2h0M1518.0 984.3h0M1354.0 996.5h0M1491.8 999.5h0M1679.9 922.9h0M1561.3 1056.8h0M1352.3 1094.1h0M1605.4 1060.4h0M1345.2 1117.2h0M1291.8 1166.2h0M1492.5 940.3h0M1578.2 929.0h0M1301.4 771.5h0M1372.3 1027.3h0M1365.1 1091.6h0M1481.6 992.6h0M1328.7 896.2h0M1293.1 960.4h0M1431.2 1049.4h0M1324.1 1003.4h0M1532.0 973.6h0M1575.1 955.0h0M1299.2 847.4h0M1347.3 968.4h0M1439.9 952.0h0M1484.3 949.2h0M1411.6 1154.2h0M1269.9 1034.0h0M1304.2 914.1h0M1561.9 927.6h0M1300.3 957.7h0M1594.0 1050.7h0M1339.3 1061.4h0M1409.2 1101.0h0M1346.4 1112.7h0M1364.7 1092.6h0M1524.1 1032.2h0M1630.8 1030.0h0M1267.5 1134.7h0M1479.0 1043.5h0M1330.9 1029.4h0M1411.7 1048.8h0M1554.6 971.3h0M1363.8 1155.5h0M1394.1 1053.0h0M1429.4 968.2h0M1490.8 985.5h0M1277.6 934.0h0M1242.6 1097.9h0M1530.6 908.9h0M1490.9 1124.6h0M1547.5 978.9h0M1393.7 1139.1h0M1510.0 976.4h0M1411.4 1069.7h0M1299.7 784.2h0M1342.8 917.0h0M1523.3 1122.1h0M1423.9 1061.0h0M1354.6 1016.7h0M1452.8 1105.1h0M1583.5 1049.8h0M1536.1 994.9h0M1424.5 1159.7h0M1383.6 1030.3h0M1675.7 1043.2h0M1642.9 976.8h0M1403.6 1110.4h0M1591.6 1043.4h0M1332.3 1151.6h0M1461.1 992.8h0M1565.2 1115.3h0M1564.8 1007.5h0M1304.4 844.3h0M1384.7 985.3h0M1407.3 1026.7h0M1389.1 1024.7h0M1453.7 1107.8h0M1622.7 1024.4h0M1565.4 1082.1h0M1328.8 944.6h0M1529.7 1056.1h0M1524.6 1034.8h0M1618.0 1041.5h0M1544.2 1095.0h0M1353.3 860.1h0M1284.6 1210.7h0M1319.1 1081.2h0M1539.1 1027.9h0M1392.0 999.0h0M1513.3 1054.4h0M1563.6 1036.2h0M1326.8 1097.9h0M1332.5 943.3h0M1614.3 1069.2h0M1301.3 1200.1h0M1300.1 1047.9h0M1286.6 914.5h0M1357.0 779.9h0M1515.6 940.3h0M1549.3 1056.9h0M1530.8 978.8h0M1336.1 1071.3h0M1440.5 1029.3h0M1290.2 797.1h0M1363.0 1050.1h0M1404.9 859.0h0M1351.6 1166.0h0M1346.5 784.8h0M1681.3 983.5h0M1324.2 977.7h0M1476.5 1052.1h0M1312.7 917.1h0M1513.4 987.5h0M1668.0 893.7h0M1543.4 990.1h0M1432.7 851.1h0M1625.3 984.0h0M1373.3 1048.6h0M1297.9 1064.2h0M1307.0 1181.5h0M1249.6 1104.5h0M1260.5 1168.7h0M1411.9 1062.2h0M1315.4 821.9h0M1274.0 1084.3h0M1295.4 1124.2h0M1363.2 947.5h0M1292.9 1206.4h0M1390.2 964.6h0M1357.7 960.4h0M1590.5 1025.8h0M1342.6 1185.9h0M1312.6 797.8h0M1611.2 933.2h0M1649.8 989.7h0M1558.1 1037.1h0M1290.2 1169.9h0M1369.3 1020.9h0M1296.2 1091.5h0M1469.0 918.1h0M1343.0 827.6h0M1370.9 952.4h0M1435.2 990.4h0M1342.0 1210.4h0M1509.7 1033.5h0M1308.6 812.2h0M1399.2 1097.1h0M1596.9 922.5h0M1362.7 941.3h0M1488.9 1030.6h0M1430.6 986.5h0M1391.1 1032.8h0M1389.1 1046.5h0M1465.8 1026.4h0M1298.2 832.0h0M1364.6 1168.6h0M1355.2 1041.6h0M1473.4 976.1h0M1337.9 915.7h0M1637.5 1032.2h0M1574.7 986.4h0M1460.2 1038.9h0M1378.1 1183.2h0M1398.2 1032.1h0M1511.9 1018.3h0M1275.1 987.5h0M1500.5 1115.9h0M1329.5 811.6h0M1565.9 1009.3h0M1397.9 986.5h0M1369.9 884.3h0M1310.4 860.8h0M1513.1 1042.4h0M1363.0 1019.2h0M1359.3 1045.8h0M1395.9 890.5h0M1304.1 985.1h0M1528.3 992.5h0M1373.1 1007.2h0M1372.7 927.1h0M1302.5 878.9h0M1661.9 994.0h0M1615.1 1023.3h0M1545.2 1020.2h0M1348.8 1010.0h0M1606.2 885.3h0M1341.5 936.7h0M1403.6 960.9h0M1626.3 1026.6h0M1318.7 890.6h0M1297.1 1153.5h0M1248.1 1127.8h0M1377.0 996.9h0M1401.4 1152.1h0M1397.3 917.1h0M1279.0 1057.9h0M1325.0 917.3h0M1341.5 1186.9h0M1358.0 1002.8h0M1481.0 1033.8h0M1684.5 1036.0h0M1366.6 1082.7h0M1465.5 1037.5h0M1625.2 955.2h0M1286.0 886.6h0M1494.0 1114.6h0M1550.6 1001.5h0M1559.1 930.0h0M1375.7 881.4h0M1258.8 1194.2h0M1374.2 1066.6h0M1388.3 873.0h0M1307.6 907.9h0M1548.9 1021.6h0M1633.9 1044.4h0M1312.2 1200.2h0M1264.6 1144.3h0M1476.0 1081.7h0M1570.0 1066.4h0M1534.3 1118.7h0M1298.6 1177.6h0M1428.1 1075.9h0M1304.1 1135.3h0M1651.5 1054.5h0M1565.2 1045.8h0M1328.3 1028.3h0M1421.7 1071.7h0M1294.9 1037.4h0M1444.7 921.3h0M1549.5 1088.1h0M1415.2 1010.8h0M1418.2 1087.9h0M1509.2 1040.3h0M1582.9 1056.0h0M1316.0 1154.0h0M1346.6 1130.1h0M1343.9 880.0h0M1353.5 1105.3h0M1563.2 1082.6h0M1454.4 1041.0h0M1603.8 1004.4h0M1348.8 908.7h0M1571.0 944.8h0M1403.1 911.7h0M1329.6 1017.9h0M1389.9 965.8h0M1224.2 1157.1h0M1314.9 1156.0h0M1231.7 966.2h0M1505.8 1031.8h0M1580.5 1009.1h0M1333.1 830.1h0M1637.2 965.5h0M1550.6 971.2h0M1375.8 1125.1h0M1365.3 961.1h0M1434.0 1026.0h0M1331.5 922.6h0M1466.1 1026.4h0M1315.6 939.9h0M1460.3 1053.7h0M1375.6 1038.7h0M1358.3 1099.7h0M1667.6 1056.6h0M1374.3 1031.5h0M1460.8 923.7h0M1393.1 1095.6h0M1332.5 849.7h0M1337.5 886.9h0M1478.4 971.7h0M1339.5 871.4h0M1525.4 1012.7h0M1495.6 1055.3h0M1476.7 1068.7h0M1618.6 1063.8h0M1441.7 1069.7h0M1292.4 909.1h0M1650.7 1041.5h0M1671.9 1034.6h0M1322.1 1089.6h0M1477.8 1151.1h0M1317.6 835.5h0M1629.0 1039.2h0M1377.8 1183.3h0M1380.0 1073.9h0M1308.4 778.8h0M1417.9 953.1h0M1325.0 825.6h0M1338.2 1053.4h0M1389.7 1080.7h0M1381.5 1092.6h0M1598.5 1034.0h0M1333.9 930.1h0M1309.9 1006.4h0M1242.8 1137.9h0M1388.1 958.5h0M1549.1 1030.5h0M1306.4 915.4h0M1406.9 1124.8h0M1348.8 1021.5h0" stroke="#FF88FF" stroke-width="5.0" stroke-linecap="round" fill="none"/>
<path d="M1654.1 998.9h0M1355.7 1120.2h0M1686.5 1045.9h0M1258.9 973.7h0M1446.3 981.1h0M1279.8 1174.4h0M1339.6 1147.7h0M1331.9 945.7h0M1304.6 774.4h0M1424.7 1066.5h0M1403.3 993.4h0M1435.4 1192.7h0M1366.2 1043.5h0M1559.7 924.1h0M1485.8 1127.7h0M1310.0 785.6h0M1543.9 970.6h0M1370.5 996.3h0M1351.0 808.7h0M1677.5 974.0h0M1328.7 932.2h0M1497.0 957.5h0M1310.5 808.1h0M1330.9 927.3h0M1362.2 995.0h0M1592.9 1037.0h0M1374.2 1080.1h0M1456.3 1054.7h0M1391.1 958.1h0M1318.3 870.4h0M1459.7 1006.8h0M1247.2 1030.5h0M1339.6 1097.6h0M1525.0 1009.8h0M1308.8 1027.1h0M1465.6 970.9h0M1248.3 1197.2h0M1300.4 1060.6h0M1257.0 916.1h0M1351.2 964.6h0M1393.2 1112.5h0M1422.0 1173.1h0M1319.8 1067.0h0M1301.3 976.7h0M1347.7 1098.6h0M1387.1 1022.4h0M1681.1 1064.0h0M1637.3 1063.2h0M1417.5 1147.5h0M1420.7 1050.3h0M1533.9 831.9h0M1342.7 972.0h0M1295.4 1164.6h0M1495.4 1035.5h0M1651.3 1030.2h0M1406.9 985.7h0M1556.6 834.6h0M1279.6 850.4h0M1389.3 1083.0h0M1365.6 832.4h0M1350.0 1158.6h0M1322.5 1075.7h0M1330.1 1149.3h0M1569.2 962.9h0M1372.5 916.2h0M1491.1 1119.4h0M1535.1 1060.4h0M1487.4 894.4h0M1295.7 962.0h0M1372.1 835.2h0M1640.3 1028.7h0M1524.2 1050.4h0M1459.8 1146.7h0M1332.3 978.9h0M1453.1 1062.1h0M1471.1 978.0h0M1289.3 1066.4h0M1489.6 1043.1h0M1329.5 1145.7h0M1256.5 1179.2h0M1338.7 939.2h0M1432.4 1038.2h0M1279.1 1215.5h0M1655.7 1003.6h0M1518.4 1035.5h0M1359.1 1110.1h0M1605.0 1019.2h0M1348.1 1056.8h0M1403.9 1164.0h0M1402.2 1062.5h0M1366.8 938.5h0M1309.2 1042.9h0M1439.5 1059.9h0M1488.3 1026.5h0M1270.8 922.6h0M1592.2 1033.1h0M1296.7 854.1h0M1644.1 1042.9h0M1353.9 836.3h0M1610.7 971.2h0M1359.4 1209.6h0M1661.3 983.3h0M1618.6 977.5h0M1437.4 1057.8h0M1478.9 1021.4h0M1276.1 820.7h0M1331.7 1019.5h0M1314.4 815.1h0M1311.9 968.4h0M1282.8 1158.4h0M1400.5 975.3h0M1557.6 1015.5h0M1514.9 1063.4h0M1375.7 1016.5h0M1337.1 1024.7h0M1438.5 1030.9h0M1345.5 1109.6h0M1578.8 1140.3h0M1354.7 1006.8h0M1366.8 1044.1h0M1494.9 1049.3h0M1557.7 1055.7h0M1288.6 1039.3h0M1483.3 1116.1h0M1363.6 921.2h0M1300.6 913.0h0M1410.1 1101.3h0M1575.2 1044.6h0M1351.6 1041.4h0M1690.2 1055.2h0M1558.2 1031.8h0M1588.7 887.2h0M1512.9 1085.6h0M1332.0 1027.1h0M1399.7 1021.7h0M1425.5 1079.2h0M1295.9 1159.2h0M1378.1 977.1h0M1363.0 886.9h0M1518.7 959.9h0M1364.2 893.5h0M1362.9 791.4h0M1493.4 1051.3h0M1444.3 937.4h0M1468.1 992.5h0M1647.3 1066.3h0M1380.9 932.5h0M1344.6 1009.1h0M1427.4 988.0h0M1419.5 905.4h0M1354.5 867.7h0M1322.4 1061.8h0M1379.2 1042.9h0M1384.4 1113.7h0M1669.6 1023.6h0M1331.4 844.3h0M1465.6 1080.5h0M1445.5 1084.9h0M1315.0 931.2h0M1377.3 1139.2h0M1351.3 1020.7h0M1561.1 1057.3h0M1454.7 1055.1h0M1664.1 954.6h0M1292.9 764.7h0M1312.1 836.4h0M1590.8 1008.9h0M1359.2 988.8h0M1490.8 1087.9h0M1260.6 1091.2h0M1490.9 1042.7h0M1337.5 1095.8h0M1457.8 1048.3h0M1413.0 882.7h0M1573.8 1064.0h0M1486.4 1030.8h0M1482.3 1106.0h0M1307.5 1155.7h0M1237.1 1049.8h0M1410.5 1026.9h0M1586.7 1080.7h0M1260.6 870.3h0M1610.9 958.3h0M1329.7 1117.6h0M1315.4 790.4h0M1499.1 992.0h0M1487.0 1028.2h0M1677.5 963.6h0M1655.9 1057.4h0M1311.1 830.5h0M1281.4 1155.3h0M1420.2 1026.6h0M1308.8 1182.2h0M1369.6 955.1h0M1248.7 1193.8h0M1566.7 1048.1h0M1288.1 891.1h0M1376.5 1094.5h0M1267.8 1145.8h0M1467.6 1035.3h0M1448.7 1020.4h0M1456.0 902.7h0M1398.5 1104.8h0M1385.0 960.9h0M1656.0 970.8h0M1352.6 1002.5h0M1294.4 906.5h0M1291.1 1173.1h0M1455.4 860.2h0M1371.7 1004.9h0M1423.9 950.2h0M1361.9 976.4h0M1413.3 1136.4h0M1356.2 991.4h0M1568.1 926.4h0M1280.8 938.6h0M1403.0 1060.3h0M1423.4 923.6h0M1614.5 969.7h0M1351.5 1006.9h0M1462.8 1023.7h0M1601.3 933.1h0M1362.6 952.4h0M1546.0 1025.2h0M1541.5 1015.8h0M1506.2 941.8h0M1544.1 1014.4h0M1453.4 845.2h0M1458.8 1074.0h0M1268.4 1086.9h0M1352.4 879.1h0M1293.5 1172.5h0M1389.6 845.9h0M1397.6 1076.4h0M1630.1 1087.1h0M1389.6 1118.7h0M1479.4 1052.7h0M1510.1 1006.3h0M1676.5 1030.1h0M1451.1 1028.1h0M1609.5 1037.9h0M1565.6 1054.4h0M1516.1 1109.6h0M1405.2 1053.7h0M1546.7 934.5h0M1407.8 1001.2h0M1584.1 984.8h0M1323.0 891.3h0M1277.2 825.3h0M1361.7 979.4h0M1566.3 1058.7h0M1418.9 918.2h0M1318.3 802.1h0M1424.0 908.6h0M1402.0 1011.9h0M1347.7 993.0h0M1665.1 1056.2h0M1391.9 1018.8h0M1343.2 1007.9h0M1374.9 1107.2h0M1451.9 1017.4h0M1320.4 1153.3h0M1587.7 967.4h0M1428.2 879.1h0M1497.5 1108.0h0M1653.0 1069.7h0M1650.5 1015.1h0M1526.5 1066.3h0M1338.0 1019.5h0M1413.0 1082.2h0M1383.5 1095.2h0M1390.2 1021.1h0M1388.4 1072.4h0M1325.6 1030.4h0M1362.8 1020.9h0M1411.1 1010.3h0M1310.1 925.0h0M1632.1 933.5h0M1402.8 1090.3h0M1636.7 1047.4h0M1290.1 978.0h0M1294.4 941.2h0M1350.3 982.2h0M1315.7 903.3h0M1437.5 1107.7h0M1447.2 1114.3h0M1315.2 809.3h0M1276.4 1026.6h0M1268.1 1142.2h0M1345.1 895.8h0M1551.8 991.8h0M1370.0 859.0h0M1361.8 942.7h0M1373.4 1001.9h0M1418.2 871.2h0M1343.2 1063.8h0M1289.1 990.8h0M1661.5 1015.8h0M1488.8 1030.3h0M1368.9 938.9h0M1463.6 1068.1h0M1300.5 1159.4h0M1580.9 1022.5h0M1342.2 825.0h0M1358.0 1028.0h0M1359.0 1023.8h0M1488.1 1005.1h0M1348.3 866.9h0M1269.3 997.6h0M1330.5 962.3h0M1622.5 1047.3h0M1608.3 1043.7h0M1591.4 963.1h0M1302.5 1051.6h0M1318.2 843.2h0M1264.7 1135.1h0M1389.4 1064.2h0M1378.3 921.9h0M1464.0 1016.0h0M1303.4 991.9h0M1436.0 1169.4h0M1411.7 1098.9h0M1401.5 1043.6h0M1303.7 1175.1h0M1340.8 1178.3h0M1291.5 1022.5h0M1407.2 1089.7h0M1655.1 943.8h0M1641.0 1018.7h0M1392.8 939.0h0M1348.7 905.9h0M1586.2 1049.7h0M1451.8 1104.8h0M1582.1 943.3h0M1346.2 800.0h0M1395.3 865.9h0M1303.4 771.3h0M1629.9 1048.5h0M1499.4 983.1h0M1334.4 1105.6h0M1470.9 1076.2h0M1465.1 1011.7h0M1529.7 933.6h0M1322.1 885.3h0M1688.6 1055.0h0M1369.3 1008.3h0M1268.7 924.3h0M1389.3 970.1h0M1299.9 1062.7h0M1403.3 861.5h0M1496.6 901.1h0M1343.3 1017.4h0M1310.0 1148.3h0M1501.5 1004.3h0M1245.9 1141.7h0M1596.1 1016.1h0M1469.4 1007.3h0M1349.4 973.9h0M1642.3 970.9h0M1595.3 970.1h0M1358.7 1033.8h0M1379.8 989.2h0M1336.6 974.9h0M1638.8 1033.2h0M1300.1 961.3h0M1643.7 1010.9h0M1304.4 815.2h0M1393.3 1045.2h0M1323.5 1181.4h0M1324.4 1108.9h0M1572.7 942.0h0M1622.8 994.7h0M1281.0 1182.1h0M1369.7 931.5h0M1303.6 1023.0h0M1564.3 1037.9h0M1380.1 1049.7h0M1284.6 1018.9h0M1299.1 903.8h0M1651.4 926.7h0M1367.0 1107.9h0M1327.0 1064.8h0M1550.9 1083.0h0M1447.8 917.6h0M1426.3 1019.9h0M1341.0 999.6h0M1452.2 913.8h0M1519.2 1077.3h0M1348.3 1212.6h0M1592.0 995.2h0M1574.2 1048.4h0M1346.6 930.6h0M1309.6 960.8h0M1393.7 969.5h0M1382.9 1036.2h0M1604.2 1001.9h0M1335.4 1183.2h0M1320.9 1190.3h0M1296.4 1179.9h0M1531.1 1055.1h0M1611.1 994.1h0M1375.4 929.6h0M1538.5 1042.3h0M1597.4 975.2h0M1647.5 976.7h0M1385.1 888.9h0M1413.5 1164.9h0M1509.5 1055.3h0M1565.0 936.0h0M1488.8 1148.9h0M1584.3 1034.9h0M1598.7 985.5h0M1332.4 1015.3h0M1603.6 1029.6h0M1564.7 1057.6h0M1680.5 1031.1h0M1261.2 1082.9h0M1326.4 876.0h0M1304.9 1050.6h0M1320.3 915.6h0M1470.2 1094.8h0M1319.3 843.5h0M1678.0 1039.5h0M1340.2 887.4h0M1321.2 1005.7h0M1642.0 1106.4h0M1447.5 1067.5h0M1339.4 1187.5h0M1608.6 1021.8h0M1290.3 1004.2h0M1505.5 1066.9h0M1447.0 1026.9h0M1367.1 1071.4h0M1612.6 1004.7h0M1369.2 900.5h0M1427.1 1053.7h0M1679.3 989.0h0M1654.5 1046.5h0M1376.0 1096.0h0M1354.1 946.1h0M1267.3 852.2h0M1388.7 1006.8h0M1357.2 842.5h0M1609.9 1054.0h0M1591.5 1003.0h0M1315.6 1208.7h0M1372.5 941.5h0M1348.1 778.2h0M1634.4 1026.6h0M1298.0 977.0h0M1364.3 974.9h0M1585.2 1035.9h0M1422.9 1034.0h0M1406.6 857.7h0M1362.7 1091.2h0M1542.0 1009.8h0M1315.1 1111.9h0M1329.2 920.2h0M1555.0 954.8h0M1331.0 1144.6h0M1345.4 929.1h0M1613.4 921.5h0M1584.6 1055.7h0M1351.1 1197.5h0M1358.1 1101.3h0M1564.2 1020.7h0M1647.5 931.6h0M1383.5 1068.6h0M1607.7 1063.1h0M1683.6 1059.6h0M1351.1 1001.7h0M1326.6 904.8h0M1344.0 881.6h0M1596.3 973.1h0M1344.2 958.2h0M1340.6 1115.4h0M1496.1 1142.9h0M1333.3 896.9h0M1396.8 1043.3h0M1648.4 978.2h0M1327.3 1214.8h0M1346.9 1115.8h0M1358.7 1016.3h0M1274.1 1167.1h0M1531.8 1142.2h0M1362.7 1016.3h0M1456.9 919.6h0M1346.8 1085.4h0M1325.1 1067.9h0M1633.0 1018.9h0M1375.4 967.9h0M1336.0 867.1h0M1462.2 1042.3h0M1312.4 1054.4h0M1524.7 1043.5h0M1500.5 933.1h0M1372.9 1161.6h0M1302.8 844.6h0M1454.3 1087.9h0M1312.5 1043.7h0M1298.0 1143.6h0M1599.9 966.5h0M1479.9 1055.0h0M1399.6 1027.7h0M1291.0 901.3h0M1463.7 1036.7h0M1637.3 971.1h0M1344.3 1017.6h0M1267.9 1148.2h0M1321.4 881.8h0M1396.3 936.0h0M1446.9 1106.3h0M1325.2 822.2h0M1644.5 1037.0h0M1660.3 1068.3h0M1338.7 928.7h0M1287.4 1080.8h0M1304.3 1108.3h0M1401.3 909.0h0M1614.4 976.4h0M1601.2 981.8h0M1332.2 844.5h0M1373.9 1002.3h0M1692.1 1032.1h0M1566.0 1126.8h0M1551.9 1030.2h0M1557.9 1014.6h0M1404.0 985.2h0M1357.1 1094.5h0M1342.6 889.7h0M1432.5 974.3h0M1364.9 1035.1h0M1305.7 806.4h0M1440.9 1003.4h0M1668.7 1060.0h0M1498.6 910.3h0M1326.2 972.2h0M1326.1 1195.1h0M1516.5 954.4h0M1424.7 978.9h0M1316.6 783.7h0M1420.2 1149.3h0M1400.5 927.9h0M1365.0 1083.7h0M1641.3 1038.3h0M1424.9 1045.0h0M1381.1 1007.5h0M1311.8 826.0h0M1390.4 1094.8h0M1277.6 789.8h0M1373.7 819.2h0M1298.2 1057.0h0M1334.5 1102.3h0M1343.1 1133.0h0M1304.8 1167.8h0M1547.9 1025.4h0M1558.6 1067.6h0M1375.8 1068.9h0M1298.6 918.9h0M1569.1 972.5h0M1407.9 1060.6h0M1619.1 989.7h0M1260.0 1120.1h0M1304.0 966.8h0M1339.7 1018.3h0M1334.2 910.7h0M1564.8 1065.7h0M1570.7 1046.7h0M1355.4 1125.4h0M1655.1 1000.3h0M1372.9 836.4h0M1317.4 1090.8h0M1424.8 988.9h0M1356.5 825.5h0M1286.3 1193.7h0M1398.1 1036.1h0M1274.8 1082.5h0M1484.3 1026.9h0M1363.6 1054.7h0M1673.5 1065.5h0M1376.8 1069.7h0M1393.4 1046.3h0M1376.4 824.8h0M1479.5 994.9h0M1296.0 973.1h0M1348.9 972.3h0M1380.1 938.4h0M1320.9 1101.3h0M1324.2 979.9h0M1653.8 1039.9h0M1377.0 1152.9h0M1316.6 880.3h0M1600.8 1053.0h0M1337.2 1157.3h0M1303.3 966.9h0M1390.8 1039.0h0M1342.8 1177.1h0M1286.2 806.5h0M1245.6 1198.4h0M1621.7 986.8h0M1292.7 1040.5h0M1666.8 1069.2h0M1343.6 926.7h0M1266.8 1165.8h0M1303.9 845.0h0M1298.1 1156.3h0M1400.0 935.8h0M1298.7 799.1h0M1344.5 1124.0h0M1374.8 1090.8h0M1284.5 791.9h0M1355.7 946.0h0M1316.9 784.1h0M1255.2 930.9h0M1449.2 1016.9h0M1281.4 1063.6h0M1658.5 1005.2h0M1461.6 925.8h0M1587.7 1032.9h0M1638.9 986.3h0M1371.1 1006.7h0M1416.0 1018.3h0M1310.4 1200.7h0M1544.8 1022.3h0M1311.9 1123.5h0M1379.9 1058.2h0M1583.8 1065.9h0M1357.1 965.3h0M1541.6 869.2h0M1318.8 962.7h0M1476.1 1098.3h0M1497.8 1044.6h0M1310.5 865.0h0M1679.8 1065.2h0M1630.5 979.8h0M1627.8 1053.3h0M1323.7 853.6h0M1347.4 1033.1h0M1326.9 1061.1h0M1329.2 885.6h0M1683.9 975.1h0M1361.3 1209.4h0M1370.6 1199.8h0M1305.8 1028.7h0M1450.2 1001.6h0M1305.5 1154.3h0M1648.6 950.6h0M1454.2 1022.4h0M1317.3 774.6h0M1310.0 1075.1h0M1555.6 1057.7h0M1432.2 1047.4h0M1673.3 999.8h0M1309.6 850.1h0M1373.2 1055.9h0M1281.4 871.5h0M1659.4 1043.7h0M1334.5 1041.6h0M1646.4 993.9h0M1356.5 911.9h0M1317.4 1111.5h0M1260.6 1018.4h0M1404.1 1042.1h0M1339.6 950.0h0M1531.6 1107.7h0M1364.8 971.6h0M1479.9 1032.2h0M1672.9 1037.4h0M1619.8 1044.8h0M1625.2 980.3h0M1290.1 811.4h0M1513.3 1010.8h0M1496.5 827.5h0M1343.4 1119.7h0M1309.5 1090.8h0M1598.3 981.8h0M1353.4 1077.1h0M1661.4 1045.7h0M1292.9 877.8h0M1351.0 1107.8h0M1325.3 1102.0h0M1502.4 1110.8h0M1290.8 765.9h0M1316.1 1145.3h0M1624.8 983.9h0M1445.8 1184.0h0M1621.7 1007.8h0M1324.2 1005.3h0M1299.9 1170.7h0M1308.3 1211.5h0M1291.9 1167.8h0M1272.7 1208.0h0M1382.0 932.9h0M1355.8 853.9h0M1397.4 916.5h0M1334.5 888.5h0M1311.3 884.7h0M1364.4 1017.3h0M1309.7 1047.3h0M1684.1 1023.1h0M1329.7 989.8h0M1666.2 1016.5h0M1397.3 1088.9h0M1678.2 1048.1h0M1387.0 1096.4h0M1314.2 1182.8h0M1661.5 1014.3h0M1369.7 839.5h0M1454.7 1059.9h0M1326.5 1007.1h0M1293.3 1125.1h0M1427.7 985.1h0M1636.8 907.1h0M1376.4 1109.0h0M1288.5 795.0h0M1408.1 1037.5h0M1611.9 997.7h0M1373.5 1029.4h0M1463.4 1143.9h0M1317.4 1146.8h0M1479.1 1057.6h0M1389.9 1058.2h0M1318.3 999.1h0M1415.1 1110.0h0M1647.7 1010.3h0M1604.8 911.0h0M1242.4 980.8h0M1382.3 994.1h0M1321.7 1177.5h0M1597.5 965.0h0M1459.4 1074.9h0M1308.4 1171.5h0M1317.0 842.3h0M1501.9 1038.1h0M1446.1 841.6h0M1368.7 1058.7h0M1605.3 957.0h0M1664.3 1011.5h0M1301.0 841.7h0M1529.7 1019.6h0M1274.1 888.4h0M1390.7 921.1h0M1254.3 1124.8h0M1470.3 1060.3h0M1501.4 943.5h0M1586.1 1063.8h0M1298.5 993.2h0M1384.3 970.8h0M1310.9 846.4h0M1325.7 1180.9h0M1296.7 883.9h0M1392.9 1009.8h0M1666.5 1034.8h0M1592.9 943.8h0M1350.0 1006.2h0M1565.0 1000.6h0M1475.6 1062.6h0M1637.7 1033.4h0M1317.3 781.9h0M1398.7 881.9h0M1344.7 1145.0h0M1620.3 1062.9h0M1380.9 1051.9h0M1269.8 905.0h0M1288.1 1180.2h0M1459.1 1029.4h0M1410.9 922.7h0M1425.3 951.9h0M1335.4 1070.3h0M1501.7 1062.5h0M1431.7 1062.3h0M1624.5 901.2h0M1361.8 1078.9h0M1328.9 944.0h0M1489.3 1112.9h0M1329.9 855.1h0M1496.6 976.0h0M1400.3 1193.8h0M1401.6 963.9h0M1276.9 756.2h0M1285.7 1169.6h0M1422.4 999.7h0M1409.1 830.2h0M1363.7 1024.8h0M1282.8 1203.6h0M1274.9 1152.6h0M1351.5 1082.2h0M1391.6 1185.8h0M1316.2 1179.6h0M1476.6 948.8h0M1395.4 1186.4h0M1270.6 1155.2h0M1529.8 982.9h0M1335.0 1042.2h0M1514.1 891.9h0M1273.7 986.5h0M1530.5 901.1h0M1299.8 1135.7h0M1549.1 1064.0h0M1405.8 896.6h0M1600.6 1049.3h0M1266.9 861.2h0M1321.4 1156.8h0M1494.1 1015.4h0M1413.2 1080.9h0" stroke="#1BCB6C" stroke-width="5.0" stroke-linecap="round" fill="none"/>
<path d="M1293.2 928.1h0M1518.0 1035.5h0M1596.0 1065.9h0M1686.3 1059.3h0M1341.1 875.7h0M1384.3 986.2h0M1318.3 1169.3h0M1493.9 915.5h0M1509.5 1034.4h0M1407.3 1026.2h0M1302.6 1198.3h0M1279.0 911.9h0M1398.9 956.0h0M1362.1 838.8h0M1418.2 1140.1h0M1502.9 1015.5h0M1508.9 986.5h0M1330.6 1004.8h0M1615.2 1044.8h0M1579.4 1048.0h0M1426.9 1068.2h0M1679.4 1026.8h0M1325.9 1103.4h0M1348.6 831.7h0M1297.4 902.6h0M1592.9 1051.0h0M1279.5 1186.2h0M1323.1 783.1h0M1475.9 1051.8h0M1352.5 789.7h0M1478.9 1142.2h0M1595.9 1162.0h0M1310.0 1093.6h0M1327.9 1073.4h0M1648.1 1004.0h0M1357.9 971.0h0M1264.6 1042.0h0M1306.5 1191.0h0M1354.0 1058.7h0M1287.5 1183.4h0M1517.8 931.3h0M1402.7 1094.5h0M1628.0 982.5h0M1295.4 1025.7h0M1398.5 1165.6h0M1416.9 1100.6h0M1587.3 1057.5h0M1411.9 1051.8h0M1329.7 1143.0h0M1326.0 1003.1h0M1363.2 781.4h0M1266.8 942.9h0M1579.1 1056.9h0M1471.2 986.7h0M1463.1 943.5h0M1329.2 921.0h0M1298.4 1064.9h0M1623.9 1040.7h0M1336.2 1037.4h0M1320.1 1178.7h0M1265.8 1208.2h0M1355.7 868.8h0M1488.1 1010.7h0M1587.6 1115.2h0M1303.4 875.4h0M1614.1 974.1h0M1282.9 1181.3h0M1496.9 968.3h0M1551.5 983.9h0M1498.9 883.1h0M1654.3 985.1h0M1330.6 906.7h0M1449.7 1005.5h0M1599.5 1024.6h0M1626.6 1045.1h0M1354.6 1175.2h0M1338.7 998.6h0M1620.5 969.9h0M1331.0 1138.9h0M1630.2 1040.6h0M1291.6 1172.2h0M1261.7 1134.5h0M1339.5 821.5h0M1412.7 872.7h0M1319.7 969.6h0M1319.1 862.3h0M1568.3 1073.5h0M1596.1 1063.1h0M1359.7 889.1h0M1371.7 1131.0h0M1671.3 986.0h0M1615.7 894.2h0M1539.7 872.8h0M1316.2 1073.7h0M1263.7 1155.5h0M1658.3 1064.5h0M1278.6 884.2h0M1439.0 909.3h0M1481.0 898.2h0M1540.2 1056.4h0M1283.2 1163.2h0M1416.0 947.7h0M1563.0 964.5h0M1504.5 891.0h0M1577.1 1062.4h0M1286.9 861.2h0M1550.7 1068.2h0M1587.4 1047.6h0M1358.2 1152.5h0M1411.8 1066.4h0M1365.6 1007.8h0M1300.0 838.6h0M1278.7 1172.8h0M1489.3 1028.9h0M1345.5 1172.8h0M1368.2 1018.2h0M1580.8 976.4h0M1385.6 882.2h0M1559.1 1040.1h0M1289.0 824.0h0M1301.0 1112.6h0M1265.2 1168.9h0M1555.2 940.5h0M1337.6 926.6h0M1280.5 1196.7h0M1280.0 911.7h0M1409.3 915.3h0M1335.5 973.5h0M1471.4 1062.7h0M1480.9 1040.3h0M1294.1 1031.9h0M1580.5 1034.1h0M1464.1 1159.1h0M1330.4 1175.8h0M1321.2 822.5h0M1440.6 1058.1h0M1565.3 981.7h0M1262.7 1202.8h0M1601.6 1066.2h0M1620.4 923.9h0M1337.1 960.5h0M1581.4 1041.6h0M1220.1 996.8h0M1361.6 1022.6h0M1301.5 974.0h0M1356.6 939.4h0M1277.8 1209.7h0M1466.6 988.0h0M1500.1 962.7h0M1276.1 925.6h0M1322.2 1150.7h0M1420.7 954.4h0M1539.7 1024.7h0M1273.9 1200.0h0M1517.6 1029.6h0M1271.9 1146.8h0M1411.7 1067.0h0M1594.3 1045.9h0M1424.6 1041.7h0M1320.9 771.5h0M1477.1 1071.4h0M1286.4 1191.2h0M1283.4 794.1h0M1457.0 898.3h0M1497.0 1094.9h0M1596.8 1025.2h0M1362.7 1036.4h0M1547.2 907.9h0M1291.8 1178.8h0M1601.2 1035.4h0M1350.4 828.7h0M1641.4 1060.0h0M1346.6 1014.5h0M1289.2 1031.8h0M1603.1 928.7h0M1381.4 963.0h0M1459.7 1046.8h0M1338.5 1110.4h0M1459.8 970.8h0M1323.0 1061.5h0M1435.7 937.6h0M1368.7 1095.5h0M1337.0 1186.9h0M1601.6 1074.3h0M1430.4 950.0h0M1509.9 914.0h0M1587.9 1050.4h0M1302.5 1013.8h0M1331.2 1075.6h0M1381.4 1052.7h0M1307.5 1003.4h0M1684.8 1016.8h0M1390.6 1156.8h0M1265.3 999.4h0M1286.8 987.8h0M1244.8 1143.2h0M1262.5 929.2h0M1511.0 1163.2h0M1556.0 1050.3h0M1429.3 1012.4h0M1255.5 1186.6h0M1474.3 1041.8h0M1414.9 1068.1h0M1399.2 948.0h0M1268.1 865.6h0M1403.3 1039.9h0M1493.6 1012.1h0M1454.7 1040.3h0M1498.8 1128.0h0M1409.4 1152.8h0M1279.2 1157.6h0M1318.7 855.5h0M1665.2 1068.2h0M1411.1 1061.5h0M1279.1 1129.6h0M1575.3 923.5h0M1629.1 874.5h0M1264.4 1168.2h0M1647.7 1005.0h0M1375.0 987.1h0M1650.6 975.3h0M1664.8 1031.7h0M1566.4 1054.3h0M1331.5 813.8h0M1354.5 1016.1h0M1305.0 1016.1h0M1421.1 1180.5h0M1310.7 915.3h0M1307.0 849.1h0M1306.1 855.8h0M1604.7 1013.4h0M1300.6 832.9h0M1439.7 961.9h0M1529.6 1000.7h0M1270.1 1146.7h0M1419.6 1006.7h0M1512.8 984.3h0M1421.9 982.4h0M1433.3 1080.2h0M1597.6 985.5h0M1669.2 978.1h0M1473.2 905.8h0M1299.8 995.3h0M1676.5 1055.2h0M1336.2 1160.5h0M1302.5 987.8h0M1441.8 954.5h0M1301.4 894.8h0M1471.5 1010.5h0M1401.1 1044.2h0M1287.8 855.9h0M1284.1 1191.7h0M1589.7 984.1h0M1472.9 1028.3h0M1671.9 1075.5h0M1442.6 981.3h0M1294.6 766.7h0M1416.8 1047.2h0M1615.2 1094.0h0M1381.1 972.9h0M1310.7 984.9h0M1320.9 916.3h0M1360.5 918.2h0M1547.0 1090.3h0M1385.6 938.7h0M1259.9 1162.5h0M1311.3 980.3h0M1324.1 1193.2h0M1565.1 980.9h0M1355.6 1011.0h0M1419.9 1064.2h0M1462.8 878.1h0M1332.2 1122.2h0M1527.2 929.8h0M1216.7 982.9h0M1454.4 1085.4h0M1331.3 1090.3h0M1431.7 894.3h0M1655.3 1068.4h0M1269.8 911.5h0M1614.6 1024.9h0M1287.0 846.8h0M1366.7 1022.1h0M1278.4 753.4h0M1654.6 996.5h0M1468.4 1028.6h0M1496.5 1011.7h0M1346.1 862.9h0M1512.8 1109.7h0M1337.9 1167.7h0M1502.5 1025.6h0M1462.6 1068.0h0M1568.8 995.4h0M1418.8 1091.4h0M1396.0 1167.8h0M1388.3 1084.5h0M1477.3 1012.1h0M1434.5 911.2h0M1310.1 1159.2h0M1356.3 1174.6h0M1397.4 912.2h0M1387.8 1144.6h0M1650.6 962.3h0M1449.8 967.1h0M1354.2 1158.6h0M1538.6 970.8h0M1419.3 1111.9h0M1414.8 1033.9h0M1402.0 1010.5h0M1411.6 1122.4h0M1521.8 1039.3h0M1334.5 817.8h0M1476.5 1089.7h0M1348.9 1106.8h0M1476.5 1051.3h0M1313.1 983.1h0M1579.9 890.9h0M1471.2 882.5h0M1520.3 1047.5h0M1441.7 1126.5h0M1494.1 1107.1h0M1441.6 1031.9h0M1289.1 873.3h0M1279.8 1189.7h0M1563.9 1028.7h0M1293.1 1163.5h0M1251.8 1157.2h0M1314.4 1092.9h0M1551.6 1064.8h0M1309.4 1105.7h0M1306.3 789.0h0M1305.6 1039.1h0M1669.0 1044.2h0M1616.0 1028.5h0M1353.5 995.8h0M1551.3 1070.2h0M1295.5 922.7h0M1626.2 1028.8h0M1517.3 1039.5h0M1636.9 1027.3h0M1484.2 1057.4h0M1369.6 1058.2h0M1353.8 1081.7h0M1325.6 946.1h0M1385.6 969.6h0M1429.0 1053.9h0M1651.6 1035.9h0M1559.3 1041.3h0M1321.3 796.8h0M1473.1 926.3h0M1296.7 1153.8h0M1395.9 1027.5h0M1474.9 983.2h0M1272.7 1194.9h0M1312.4 860.2h0M1265.0 1164.4h0M1311.6 990.2h0M1497.9 1166.5h0M1437.5 1006.6h0M1281.9 1165.7h0M1501.2 983.0h0M1335.4 1131.6h0M1309.5 882.0h0M1647.4 1039.6h0M1313.9 1018.8h0M1323.0 1124.7h0M1290.5 1176.6h0M1363.7 1028.3h0M1325.7 1146.6h0M1563.0 1092.8h0M1321.1 1038.2h0M1344.1 1024.0h0M1444.8 984.5h0M1604.4 886.6h0M1368.7 856.7h0M1291.8 1021.4h0M1307.1 790.7h0M1322.1 1131.7h0M1303.3 953.3h0M1511.6 1044.4h0M1569.5 1089.4h0M1352.4 868.0h0M1514.9 1051.2h0M1469.7 964.5h0M1310.7 908.4h0M1288.8 816.6h0M1394.7 954.5h0M1676.0 1029.0h0M1363.9 1110.3h0M1543.5 1024.8h0M1420.8 971.1h0M1324.7 1149.4h0M1497.9 1055.5h0M1401.0 884.8h0M1423.8 1058.4h0M1382.0 1106.0h0M1647.9 936.1h0M1361.5 825.9h0M1594.9 1122.1h0M1420.9 1071.9h0M1327.2 820.6h0M1257.0 1093.0h0M1399.7 1073.1h0M1388.0 1168.6h0M1307.9 1020.7h0M1337.8 1021.0h0M1471.4 1061.8h0M1329.3 1071.0h0M1520.3 1064.0h0M1341.5 1132.7h0M1293.7 824.8h0M1322.1 1186.7h0M1410.6 1049.6h0M1423.5 940.1h0M1251.0 1085.4h0M1328.5 879.5h0M1590.3 1043.1h0M1540.5 1110.9h0M1371.4 1092.6h0M1287.2 1009.0h0M1562.1 1135.1h0M1334.3 941.3h0M1467.6 995.2h0M1533.5 977.5h0M1332.7 1009.6h0M1268.6 869.4h0M1622.2 911.1h0M1359.5 1026.6h0M1362.5 1129.7h0M1422.3 1010.0h0M1474.3 1119.4h0M1419.2 1134.0h0M1473.0 1106.4h0M1270.1 1177.0h0M1305.4 930.1h0M1294.4 879.1h0M1324.2 1052.6h0M1280.9 879.3h0M1365.9 981.7h0M1639.7 984.5h0M1380.8 1096.1h0M1527.7 912.8h0M1590.6 1065.4h0M1405.7 960.5h0M1415.6 1059.7h0M1324.0 845.4h0M1479.1 1003.4h0M1501.9 980.0h0M1369.7 1073.0h0M1677.6 979.8h0M1428.7 955.6h0M1501.7 992.7h0M1466.3 1144.4h0M1478.3 1011.4h0M1296.5 890.9h0M1406.2 1003.2h0M1362.2 1027.5h0M1467.5 1047.5h0M1668.8 1050.4h0M1440.4 1013.7h0M1293.6 971.2h0M1453.5 1080.6h0M1291.6 768.7h0M1401.3 1035.6h0M1287.1 1124.1h0M1596.0 1118.3h0M1274.8 1105.2h0M1332.3 1046.0h0M1358.6 1067.2h0M1431.4 1025.0h0M1264.8 919.0h0M1679.1 1062.4h0M1424.7 1122.6h0M1681.9 1024.1h0M1295.1 1069.6h0M1527.1 927.3h0M1411.1 860.1h0M1216.0 997.1h0M1316.3 1186.0h0M1278.6 928.3h0M1359.7 928.7h0M1494.7 949.2h0M1389.0 949.9h0M1535.7 971.9h0M1473.0 1083.3h0M1362.0 1111.0h0M1307.8 821.7h0M1416.9 1025.5h0M1292.5 844.1h0M1348.6 811.0h0M1305.8 994.7h0M1413.1 920.9h0M1356.3 996.4h0M1442.9 1046.6h0M1669.0 1034.1h0M1409.7 988.4h0M1544.8 994.7h0M1340.3 970.7h0M1403.0 1094.8h0M1332.9 926.8h0M1494.8 1068.9h0M1685.5 1046.7h0M1335.1 1007.0h0M1535.5 910.7h0M1650.2 1046.0h0M1527.9 1037.1h0M1584.9 989.6h0M1530.4 1047.1h0M1528.7 1022.7h0M1355.9 952.9h0M1568.5 974.0h0M1446.2 946.2h0M1458.4 1077.3h0M1491.7 1095.0h0M1310.0 1046.7h0M1411.7 1187.7h0M1580.3 1067.1h0M1476.1 995.9h0M1675.8 1001.8h0M1594.9 1062.0h0M1399.2 997.1h0M1454.9 993.5h0M1329.5 1093.2h0M1321.0 971.2h0M1367.4 1088.8h0M1261.4 964.2h0M1351.8 1068.1h0M1311.5 983.0h0M1601.9 1056.7h0M1659.3 1051.1h0M1648.1 976.2h0M1529.9 1048.0h0M1328.3 1071.2h0M1533.3 954.5h0M1455.0 1007.3h0M1367.6 1053.8h0M1580.9 937.4h0M1274.4 1037.1h0M1368.6 998.7h0M1615.0 1032.1h0M1565.2 980.4h0M1378.9 1064.8h0M1575.9 933.5h0M1532.9 1066.6h0M1494.3 1047.2h0M1687.9 1039.5h0M1291.5 1016.7h0M1491.4 920.2h0M1585.8 1041.5h0M1307.3 1004.2h0M1317.7 1160.3h0M1667.0 1071.0h0M1558.6 852.9h0M1628.2 961.8h0M1264.1 1211.0h0M1304.6 850.0h0M1407.0 994.1h0M1280.8 817.2h0M1473.2 1200.4h0M1334.8 988.9h0M1391.0 1052.0h0M1486.5 1049.5h0M1377.0 1151.5h0M1314.0 1208.3h0M1389.4 967.4h0M1320.1 1053.9h0M1423.7 1062.0h0M1449.6 1047.2h0M1450.9 1000.3h0M1519.4 1018.2h0M1374.4 1168.6h0M1609.0 976.7h0M1342.8 1022.7h0M1460.4 914.4h0M1450.0 1033.8h0M1432.2 1019.1h0M1306.8 1127.6h0M1254.7 1127.1h0M1520.1 1053.3h0M1268.0 1148.2h0M1397.3 996.4h0M1354.9 865.1h0M1589.6 903.5h0M1433.0 837.5h0M1664.5 1062.2h0M1264.7 1028.8h0M1327.0 1068.4h0M1415.1 993.2h0M1243.3 1171.3h0M1335.6 951.2h0M1354.6 1161.6h0M1334.1 1180.9h0M1577.9 1018.6h0M1290.3 1176.5h0M1527.6 1032.2h0M1324.4 932.8h0M1334.0 837.0h0M1326.8 1040.0h0M1566.0 1007.3h0M1296.8 824.8h0M1547.0 1071.6h0M1677.9 1057.6h0M1312.6 1012.5h0M1533.0 1030.7h0M1674.4 1040.9h0M1379.5 1029.6h0M1551.9 1051.4h0M1375.8 1033.3h0M1425.3 1102.5h0M1467.8 1137.2h0M1334.2 971.1h0M1406.2 853.4h0M1447.3 1054.2h0M1668.4 1027.5h0M1392.2 937.1h0M1421.5 1031.8h0M1674.3 1007.1h0M1277.1 869.5h0M1425.2 888.3h0M1372.8 905.4h0M1281.6 1183.0h0M1569.3 950.6h0M1349.4 1191.4h0M1278.3 1101.2h0M1503.4 880.2h0M1349.6 873.9h0M1508.1 1040.8h0M1373.5 1012.8h0M1310.1 1017.9h0M1443.5 1056.0h0M1449.1 1063.7h0M1466.6 955.1h0M1327.5 850.0h0M1425.2 1084.7h0M1354.1 1051.6h0M1524.6 994.0h0M1358.3 1101.9h0M1453.4 1070.4h0M1533.4 1063.9h0M1573.9 997.3h0M1311.6 1212.7h0M1295.1 969.6h0M1374.8 973.7h0M1426.7 981.6h0M1398.5 1101.8h0M1396.6 1004.7h0M1284.2 797.0h0M1650.9 1071.8h0M1317.4 991.8h0M1582.9 943.1h0M1551.9 1095.5h0M1584.3 1035.6h0M1414.3 906.4h0M1340.1 1182.5h0M1661.4 1050.3h0M1264.0 1160.8h0M1272.6 884.6h0M1361.4 1127.6h0M1296.6 1138.8h0" stroke="#FF88FF" stroke-width="5.0" stroke-linecap="round" fill="none"/>
<path d="M1306.9 1037.3h0M1297.0 994.9h0M1390.2 1023.0h0M1294.3 937.1h0M1466.9 1017.4h0M1617.0 1046.7h0M1651.4 1066.1h0M1597.3 1001.6h0M1391.4 996.0h0M1357.1 953.6h0M1356.3 882.6h0M1650.8 1042.5h0M1487.6 960.6h0M1404.5 962.9h0M1309.9 1013.5h0M1352.5 1020.0h0M1587.1 1040.9h0M1562.6 1064.9h0M1353.2 990.5h0M1358.3 1168.2h0M1564.2 1162.8h0M1442.7 1129.8h0M1618.7 1030.1h0M1451.4 937.7h0M1386.8 1079.9h0M1486.4 1000.9h0M1546.9 902.2h0M1543.7 946.6h0M1483.1 1071.0h0M1637.1 969.6h0M1274.6 1162.0h0M1493.5 986.0h0M1610.6 1068.5h0M1400.1 1046.1h0M1604.9 1056.6h0M1523.2 871.7h0M1578.4 971.0h0M1421.6 1111.2h0M1355.5 1040.5h0M1562.6 1044.4h0M1329.2 1111.1h0M1370.6 876.2h0M1587.8 988.7h0M1553.5 1007.9h0M1556.1 1067.5h0M1610.0 1024.4h0M1302.9 820.6h0M1314.3 970.7h0M1381.7 1005.5h0M1399.2 1160.0h0M1300.2 886.0h0M1665.5 1033.9h0M1683.2 1055.5h0M1473.4 1050.3h0M1576.1 927.0h0M1348.3 1178.0h0M1346.1 881.1h0M1334.9 994.6h0M1405.7 1166.8h0M1441.6 1036.4h0M1466.1 918.8h0M1563.4 1019.6h0M1516.0 1030.2h0M1316.9 801.4h0M1336.4 1042.7h0M1469.3 1205.8h0M1383.8 985.8h0M1515.3 1035.2h0M1385.8 1048.3h0M1416.2 923.9h0M1253.5 1172.6h0M1514.3 1025.2h0M1362.4 1116.0h0M1312.4 887.8h0M1638.7 1019.1h0M1431.3 1099.4h0M1579.7 1038.2h0M1318.8 1117.1h0M1469.6 1142.4h0M1535.1 1047.4h0M1412.7 1123.0h0M1586.0 928.7h0M1445.0 1057.7h0M1444.7 1005.8h0M1261.3 911.4h0M1357.9 1032.2h0M1632.5 1042.1h0M1481.2 1051.2h0M1311.3 861.2h0M1472.0 1002.3h0M1298.8 779.5h0M1673.4 970.1h0M1332.4 1078.0h0M1404.2 1068.9h0M1556.5 880.6h0M1343.9 1031.7h0M1397.0 1031.5h0M1402.9 1011.0h0M1308.1 1043.6h0M1298.2 1106.7h0M1495.7 1077.3h0M1372.1 1027.3h0M1290.0 1121.7h0M1216.4 1160.0h0M1273.8 1117.6h0M1297.5 1101.8h0M1301.1 970.9h0M1497.8 968.2h0M1387.8 1032.1h0M1670.7 1026.4h0M1321.0 834.3h0M1323.5 1043.2h0M1254.1 1093.0h0M1292.4 1215.7h0M1407.3 1178.4h0M1321.0 801.9h0M1568.3 1026.9h0M1284.0 1177.1h0M1667.9 1035.2h0M1293.3 1037.1h0M1458.9 996.9h0M1363.9 962.7h0M1356.7 1051.4h0M1353.6 1008.9h0M1391.4 1136.4h0M1493.5 1008.6h0M1365.5 967.1h0M1269.1 1084.6h0M1568.0 1044.8h0M1449.4 1053.6h0M1357.4 916.6h0M1292.0 1195.6h0M1535.5 1042.8h0M1538.0 907.2h0M1609.8 1000.2h0M1533.2 1151.7h0M1338.8 986.2h0M1421.2 1119.8h0M1475.1 1057.5h0M1652.3 1044.1h0M1373.8 921.1h0M1354.2 1141.9h0M1412.6 915.5h0M1420.0 1041.7h0M1415.0 1040.4h0M1429.1 938.3h0M1485.2 1061.8h0M1322.3 975.7h0M1442.8 966.3h0M1283.9 841.8h0M1319.1 825.5h0M1323.3 870.0h0M1324.5 831.4h0M1292.9 993.3h0M1396.3 887.9h0M1401.4 1015.8h0M1603.5 891.3h0M1548.7 1130.8h0M1301.5 1157.5h0M1298.0 1048.5h0M1406.3 1015.5h0M1337.7 1167.5h0M1278.1 838.8h0M1337.4 976.9h0M1263.8 1166.5h0M1469.0 1055.3h0M1347.3 1073.4h0M1651.1 947.9h0M1561.2 1026.4h0M1386.6 814.1h0M1611.4 1029.7h0M1372.7 1099.1h0M1290.4 838.9h0M1303.9 1002.5h0M1323.8 915.8h0M1345.0 992.3h0M1382.0 1050.8h0M1368.2 1004.8h0M1280.8 985.0h0M1268.0 934.9h0M1404.6 1066.5h0M1494.1 1065.0h0M1248.3 1164.2h0M1446.0 1051.7h0M1547.0 991.6h0M1657.0 1018.3h0M1603.7 1015.0h0M1592.5 1029.6h0M1335.6 1097.7h0M1266.4 897.7h0M1336.9 1107.5h0M1386.1 1071.0h0M1491.7 1045.2h0M1310.2 976.2h0M1269.8 788.9h0M1311.5 1122.1h0M1333.7 952.5h0M1622.1 997.1h0M1662.4 1039.8h0M1331.1 1029.0h0M1401.1 961.7h0M1538.4 1041.8h0M1472.4 1140.2h0M1380.7 1188.5h0M1438.8 976.2h0M1319.5 1016.1h0M1242.0 1075.4h0M1326.7 939.3h0M1269.6 1087.4h0M1338.1 1171.3h0M1383.8 926.9h0M1398.2 1039.0h0M1531.8 951.9h0M1299.4 871.4h0M1410.8 999.6h0M1357.9 1044.8h0M1269.9 931.7h0M1619.1 1054.8h0M1476.4 943.5h0M1527.5 984.1h0M1269.1 987.0h0M1616.8 1077.3h0M1415.8 1037.0h0M1347.4 939.3h0M1335.0 1029.7h0M1590.0 1071.4h0M1607.0 991.3h0M1510.1 1050.3h0M1480.7 1035.6h0M1307.9 986.7h0M1506.7 1017.7h0M1345.1 1139.2h0M1311.7 804.0h0M1488.9 985.5h0M1498.1 992.6h0M1474.4 1150.5h0M1623.5 1028.3h0M1263.6 889.6h0M1345.3 919.8h0M1309.1 811.7h0M1449.9 1032.0h0M1350.5 1076.3h0M1540.3 1047.6h0M1390.4 914.4h0M1450.0 1006.4h0M1559.8 1028.8h0M1301.9 1169.4h0M1464.2 1082.9h0M1544.2 1015.7h0M1650.7 974.9h0M1250.5 1150.8h0M1364.2 989.3h0M1261.8 1029.3h0M1399.1 1085.9h0M1471.5 1017.4h0M1276.2 1192.9h0M1260.5 950.0h0M1354.0 1080.3h0M1350.0 1021.4h0M1341.1 914.3h0M1354.9 1088.8h0M1623.7 963.3h0M1441.0 1083.8h0M1317.3 763.8h0M1335.4 1028.1h0M1491.6 1151.3h0M1335.6 1045.8h0M1379.6 1138.8h0M1327.3 1188.1h0M1637.2 1065.6h0M1553.3 863.1h0M1682.5 1061.3h0M1393.3 1108.9h0M1323.3 906.1h0M1515.4 983.4h0M1264.0 1014.8h0M1658.1 990.8h0M1430.5 1003.4h0M1241.3 1043.2h0M1287.4 1105.0h0M1619.5 1023.2h0M1465.6 1046.3h0M1517.6 1029.8h0M1328.2 1041.0h0M1462.2 1117.5h0M1652.9 1058.1h0M1473.0 1073.3h0M1514.4 1025.8h0M1247.6 1077.8h0M1428.0 1074.5h0M1493.5 1063.9h0M1562.6 966.4h0M1379.0 1066.4h0M1405.1 1063.8h0M1287.4 888.6h0M1523.3 1108.4h0M1369.6 857.2h0M1292.3 1080.2h0M1471.3 1060.7h0M1441.0 847.8h0M1383.8 911.4h0M1616.7 1041.1h0M1408.4 991.2h0M1406.0 1025.4h0M1279.6 837.2h0M1522.2 1037.3h0M1303.8 1071.9h0M1433.2 1046.4h0M1530.8 998.5h0M1389.7 942.0h0M1593.8 998.3h0M1309.7 990.7h0M1398.3 1055.8h0M1343.0 987.7h0M1333.6 824.9h0M1354.6 994.2h0M1292.2 1174.8h0M1368.4 1125.8h0M1325.6 1008.4h0M1313.6 929.4h0M1377.1 909.4h0M1340.4 1127.8h0M1642.3 956.0h0M1311.4 1177.8h0M1643.0 1029.5h0M1246.4 1173.3h0M1293.1 878.7h0M1540.9 959.8h0M1336.6 1164.3h0M1541.4 1065.9h0M1411.8 1042.6h0M1316.8 800.3h0M1425.5 871.5h0M1482.9 976.2h0M1323.8 788.4h0M1395.2 1136.5h0M1400.8 1134.8h0M1440.4 1067.4h0M1597.8 1027.5h0M1304.5 936.0h0M1565.6 1075.6h0M1441.2 1018.8h0M1347.8 989.3h0M1239.9 888.4h0M1359.2 1136.0h0M1648.2 1002.7h0M1395.5 1097.6h0M1388.3 1043.8h0M1373.5 1154.0h0M1251.7 914.9h0M1255.1 1159.2h0M1314.7 1021.7h0M1568.1 1034.1h0M1673.9 997.7h0M1465.7 1051.7h0M1671.5 1057.7h0M1332.8 985.6h0M1626.1 1048.9h0M1386.6 863.5h0M1529.3 1038.3h0M1272.6 1065.3h0M1542.6 1041.6h0M1444.8 1053.2h0M1298.8 1159.3h0M1244.3 992.4h0M1388.5 960.9h0M1309.3 1121.5h0M1627.7 906.9h0M1386.4 1044.5h0M1262.9 1186.9h0M1570.0 1022.7h0M1487.0 1051.4h0M1609.3 1014.4h0M1456.4 1018.9h0M1672.5 1021.5h0M1264.5 880.0h0M1425.2 1045.4h0M1653.9 1057.1h0M1404.9 1059.7h0M1355.2 928.0h0M1284.0 836.4h0M1331.7 982.9h0M1298.8 828.2h0M1379.6 1009.1h0M1312.3 1000.4h0M1394.8 993.6h0M1286.9 799.0h0M1589.1 1060.2h0M1409.6 870.5h0M1427.5 1047.2h0M1551.4 965.0h0M1418.0 872.5h0M1330.8 962.6h0M1661.5 1031.4h0M1294.0 1131.0h0M1379.8 973.3h0M1655.2 1028.9h0M1272.1 1169.0h0M1441.4 990.2h0M1304.9 861.0h0M1354.0 975.4h0M1630.0 1054.8h0M1333.5 964.9h0M1293.2 1130.8h0M1406.5 1067.9h0M1539.5 1034.1h0M1675.9 947.1h0M1420.9 1010.7h0M1345.2 1024.1h0M1417.1 959.7h0M1686.9 1049.1h0M1422.2 1169.5h0M1463.4 1137.2h0M1599.4 1027.7h0M1257.3 1054.1h0M1424.9 934.9h0M1637.9 1068.2h0M1650.0 1020.6h0M1455.7 1013.3h0M1664.7 1025.8h0M1342.5 1120.3h0M1320.4 1008.8h0M1384.7 1105.8h0M1664.8 1036.2h0M1291.1 900.5h0M1535.0 1016.2h0M1383.8 1026.4h0M1377.3 1123.4h0M1407.0 991.8h0M1254.6 1176.9h0M1555.7 1079.5h0M1263.4 1178.0h0M1514.7 947.3h0M1353.0 936.5h0M1283.5 981.2h0M1360.4 1019.9h0M1622.0 1046.4h0M1279.5 1007.2h0M1423.3 1023.6h0M1411.9 1045.5h0M1376.1 1061.5h0M1315.5 1116.4h0M1463.0 1044.6h0M1408.8 992.7h0M1365.5 1185.9h0M1351.4 930.0h0M1662.8 1021.4h0M1289.0 988.9h0M1351.9 896.7h0M1377.9 1205.4h0M1636.5 1028.6h0M1323.0 980.7h0M1661.6 1036.6h0M1326.8 1105.0h0M1534.7 961.9h0M1439.9 1043.8h0M1325.6 993.3h0M1281.2 1127.1h0M1360.3 1082.2h0M1286.6 1165.7h0M1417.9 1010.3h0M1376.7 1096.7h0M1603.0 1023.8h0M1653.6 996.3h0M1319.3 1112.4h0M1351.8 889.3h0M1341.3 876.3h0M1350.9 1065.1h0M1394.9 827.6h0M1401.0 1171.6h0M1371.9 1008.0h0M1413.7 1081.9h0M1595.1 1015.7h0M1428.2 1083.0h0M1231.0 991.8h0M1317.6 846.2h0M1238.3 1045.9h0M1360.7 1055.0h0M1308.5 841.2h0M1400.0 1087.3h0M1321.1 984.4h0M1603.5 1029.6h0M1339.4 1069.8h0M1320.2 1143.6h0M1333.5 891.9h0M1495.8 1067.8h0M1625.7 882.8h0M1381.6 1015.9h0M1360.8 1127.1h0M1628.3 1034.7h0M1380.7 982.2h0M1339.7 868.7h0M1556.4 1059.0h0M1304.5 911.7h0M1282.4 833.6h0M1626.2 964.0h0M1603.6 1060.6h0M1422.6 1009.3h0M1457.0 1130.9h0M1657.9 1023.7h0M1336.2 953.8h0M1619.0 1042.4h0M1537.1 938.9h0M1551.0 975.9h0M1673.0 1035.4h0M1669.5 937.3h0M1280.2 995.1h0M1317.9 944.2h0M1302.9 855.3h0M1519.9 957.3h0M1354.7 899.2h0M1337.3 905.2h0M1273.4 1195.3h0M1281.9 941.2h0M1379.9 1031.2h0M1459.6 865.1h0M1285.9 852.0h0M1495.4 1031.0h0M1536.3 891.6h0M1313.6 1151.0h0M1326.8 888.6h0M1504.6 967.5h0M1293.3 1067.8h0M1339.3 906.7h0M1551.5 1056.9h0M1346.8 1112.7h0M1387.6 1064.2h0M1459.5 1025.1h0M1348.4 870.1h0M1304.3 1048.4h0M1463.9 957.9h0M1346.9 1042.4h0M1615.6 1050.4h0M1295.7 790.7h0M1448.2 1057.5h0M1485.3 1048.4h0M1378.0 971.2h0M1324.8 993.6h0M1416.1 1061.2h0M1319.4 1078.0h0M1511.9 1190.8h0M1388.8 950.9h0M1641.7 930.9h0M1397.6 941.9h0M1326.9 1184.3h0M1478.5 949.4h0M1609.0 1048.2h0M1656.1 1044.2h0M1385.7 1046.6h0M1615.1 1011.9h0M1294.1 1170.8h0M1612.3 954.0h0M1477.6 1115.4h0M1317.0 872.7h0M1292.3 1044.7h0M1658.8 1016.6h0M1377.5 1110.9h0M1520.2 989.4h0M1271.5 1210.0h0M1382.6 1039.5h0M1492.7 873.1h0M1532.7 885.8h0M1352.2 906.8h0M1267.0 1172.9h0M1453.6 932.0h0M1275.1 922.5h0M1249.0 930.0h0M1662.2 1025.4h0M1364.8 1178.3h0M1346.6 1083.1h0M1392.3 1048.4h0M1236.3 1102.3h0M1461.7 1034.4h0M1318.4 981.3h0M1308.8 814.1h0M1508.2 1092.9h0M1348.8 1059.0h0M1342.6 1014.2h0M1413.0 1081.7h0M1566.9 955.8h0M1386.3 1137.5h0M1296.5 848.2h0M1377.6 857.4h0M1359.6 904.4h0M1506.0 1046.7h0M1677.1 1004.5h0M1502.9 1032.8h0M1333.4 1006.0h0M1610.2 991.2h0M1334.9 1022.2h0M1634.8 1017.3h0M1422.8 1114.4h0M1283.8 1169.5h0M1473.0 999.1h0M1226.9 1113.6h0M1404.4 845.7h0M1389.1 1041.7h0M1447.8 1084.6h0M1595.0 838.6h0M1338.3 1153.2h0M1357.1 848.8h0M1650.3 958.9h0M1574.3 1003.5h0M1268.1 1017.4h0M1399.6 913.8h0M1276.7 1153.6h0M1420.3 1035.5h0M1271.4 1038.1h0M1278.6 766.5h0M1354.1 842.8h0M1291.5 790.0h0M1394.1 1025.9h0M1517.0 1123.9h0M1649.1 1043.9h0M1458.2 1162.5h0M1329.8 1176.2h0M1493.2 1047.4h0M1645.8 950.9h0M1395.6 1059.5h0M1445.0 1024.2h0M1320.6 868.7h0M1542.2 1052.0h0M1522.7 1043.0h0M1264.6 1116.5h0M1653.9 982.1h0M1666.0 1039.9h0M1315.9 789.4h0M1350.6 844.2h0M1436.4 979.4h0M1380.6 1082.5h0M1597.0 1054.2h0M1323.5 890.2h0M1365.0 1130.4h0M1531.6 1059.5h0M1620.9 1038.0h0M1279.8 774.5h0M1389.0 1102.3h0M1379.9 998.9h0M1456.0 1103.5h0M1272.2 976.1h0M1407.7 1027.9h0M1407.7 1022.5h0M1473.0 1102.4h0M1338.4 940.7h0M1610.1 1039.4h0M1568.8 1018.3h0M1576.0 1031.5h0M1366.3 1118.5h0M1349.8 1002.9h0M1345.4 1186.2h0M1549.3 967.5h0M1303.6 944.0h0M1407.5 849.4h0M1340.9 818.8h0M1401.6 1066.9h0M1318.1 968.4h0M1299.5 1081.8h0M1257.8 921.4h0M1326.4 1014.6h0M1349.1 935.0h0M1385.7 901.1h0M1347.5 969.8h0M1566.2 1060.8h0M1560.2 1023.9h0M1631.9 985.9h0M1586.5 1068.2h0M1356.6 1048.6h0M1380.1 1081.8h0M1367.4 1056.5h0M1382.7 980.7h0M1312.3 1182.1h0M1605.4 1038.2h0M1354.5 1057.7h0M1371.6 939.6h0M1450.4 981.9h0M1279.1 1183.3h0M1480.7 983.7h0M1341.7 1030.7h0M1545.6 941.1h0M1316.2 1128.0h0M1318.2 1176.7h0M1397.0 1001.2h0M1339.1 1102.4h0M1264.8 1034.4h0M1318.3 1157.1h0M1584.1 1034.7h0M1355.2 896.7h0M1505.7 979.2h0M1487.4 1051.5h0M1415.3 985.4h0M1303.3 938.5h0M1500.2 981.1h0M1373.9 978.9h0M1399.4 1118.3h0M1645.8 949.1h0M1527.0 1070.1h0M1560.5 1060.2h0M1372.1 1040.5h0M1392.2 890.8h0M1405.4 1137.1h0M1400.4 1048.4h0M1331.4 1082.3h0M1437.3 890.3h0M1525.8 1029.3h0M1396.8 1099.6h0M1429.3 1071.6h0M1646.2 1066.3h0M1364.7 1012.4h0M1632.8 1053.4h0M1305.7 799.2h0M1550.1 964.5h0M1421.6 1079.0h0M1308.0 999.0h0M1331.9 953.4h0M1285.2 792.0h0M1433.9 1045.4h0M1489.7 1067.1h0M1369.4 955.4h0M1569.2 1052.0h0M1340.2 1084.1h0M1364.2 1079.0h0M1305.4 1013.8h0M1565.6 1060.4h0M1481.8 1066.2h0M1340.3 826.1h0M1351.7 918.7h0M1507.7 1008.6h0M1647.8 1072.2h0M1322.5 894.7h0M1492.2 1009.4h0M1298.5 1071.2h0M1500.6 1195.0h0M1606.6 1042.7h0M1589.0 939.3h0M1554.2 962.8h0M1442.6 1129.1h0M1546.2 1007.0h0M1404.7 1176.5h0M1531.4 1125.4h0M1291.5 829.7h0M1338.5 1026.8h0M1444.5 1071.9h0M1305.0 1076.5h0M1606.6 1086.7h0M1301.6 1010.1h0M1467.0 964.4h0M1296.5 1182.1h0M1420.9 1079.1h0M1381.2 968.0h0M1630.4 975.9h0M1585.4 1055.6h0M1236.6 994.0h0M1404.9 1076.1h0M1638.3 1016.1h0M1318.5 970.0h0M1333.4 1128.5h0M1680.9 1064.8h0M1366.4 1028.5h0M1558.2 1028.6h0M1488.4 1013.1h0M1308.2 1077.4h0M1392.7 815.1h0M1434.6 965.6h0M1554.7 924.8h0M1391.1 1093.6h0M1421.4 1121.2h0M1653.5 1032.8h0M1517.0 995.4h0M1541.7 992.3h0M1372.7 1015.8h0M1372.6 1068.8h0M1573.8 900.0h0M1394.3 875.0h0M1497.7 1030.7h0M1455.3 850.8h0M1271.0 1151.3h0M1447.8 1045.7h0M1395.6 846.4h0M1457.0 1110.6h0M1438.7 983.6h0M1244.3 1093.8h0M1604.0 1072.1h0M1433.6 959.3h0M1304.4 1032.8h0M1455.6 909.1h0M1463.0 1054.9h0M1368.8 977.0h0M1623.0 966.8h0M1327.5 1011.6h0M1433.0 1096.4h0M1468.3 841.3h0M1354.3 943.7h0M1416.4 1023.0h0M1335.0 1008.9h0M1596.1 1006.7h0M1413.0 1106.1h0M1496.7 1066.2h0M1328.0 911.5h0M1335.1 1005.3h0M1339.2 880.4h0M1276.5 1089.6h0M1360.1 951.9h0M1640.9 1004.5h0M1611.2 1066.6h0M1268.9 1043.8h0" stroke="#1BCB6C" stroke-width="5.0" stroke-linecap="round" fill="none"/>
<path d="M1445.9 1042.9h0M1339.0 1020.0h0M1301.8 929.4h0M1261.8 913.0h0M1438.3 1181.7h0M1363.0 992.8h0M1521.6 894.2h0M1364.4 987.8h0M1397.1 1109.6h0M1543.8 1077.4h0M1623.0 931.3h0M1329.6 999.0h0M1297.2 940.2h0M1389.2 1106.1h0M1344.4 870.8h0M1315.9 1157.9h0M1409.7 1043.3h0M1481.6 1077.8h0M1430.3 1046.8h0M1398.3 1087.9h0M1373.4 1186.6h0M1664.1 1001.1h0M1422.5 1020.3h0M1578.3 1050.1h0M1370.5 1139.5h0M1651.7 1001.1h0M1390.3 839.8h0M1277.9 1180.5h0M1461.4 932.2h0M1304.0 965.6h0M1326.6 960.0h0M1342.7 895.0h0M1414.5 1066.0h0M1460.4 848.5h0M1356.7 1043.4h0M1498.2 1070.4h0M1474.3 950.1h0M1314.4 789.8h0M1374.4 1032.3h0M1416.7 892.7h0M1376.9 951.3h0M1324.9 959.4h0M1580.4 939.6h0M1241.0 878.9h0M1580.8 916.8h0M1413.2 1058.8h0M1486.0 943.9h0M1435.9 1048.8h0M1384.9 1030.9h0M1454.4 1077.3h0M1587.2 1055.7h0M1341.8 1058.0h0M1337.5 935.1h0M1580.6 1065.4h0M1390.4 1067.9h0M1654.7 1066.0h0M1270.0 1182.5h0M1407.1 930.6h0M1609.1 1001.0h0M1665.1 978.2h0M1335.0 998.8h0M1390.2 1053.7h0M1488.7 1110.9h0M1426.1 1113.2h0M1253.3 893.1h0M1386.4 925.5h0M1349.9 943.4h0M1298.4 1015.9h0M1610.1 949.4h0M1292.0 1189.7h0M1308.7 793.9h0M1280.8 1015.7h0M1256.7 1159.6h0M1501.0 1207.9h0M1518.9 985.9h0M1289.4 763.9h0M1465.4 1060.9h0M1320.2 776.2h0M1311.3 809.5h0M1259.4 1150.0h0M1607.4 1054.3h0M1504.3 980.3h0M1461.8 843.4h0M1388.4 1061.4h0M1395.1 1018.0h0M1398.0 991.4h0M1333.8 922.5h0M1497.0 973.5h0M1310.7 910.9h0M1511.7 1089.6h0M1287.3 1086.4h0M1374.2 1017.4h0M1425.1 937.5h0M1291.5 789.8h0M1535.4 992.1h0M1596.5 1015.2h0M1391.7 1056.2h0M1265.1 1142.3h0M1334.0 966.6h0M1359.8 949.4h0M1306.4 1032.8h0M1599.9 1009.4h0M1340.7 1163.5h0M1433.2 1024.4h0M1486.8 1058.0h0M1358.3 1011.8h0M1660.6 1033.4h0M1502.1 952.3h0M1413.3 959.8h0M1674.8 1019.4h0M1273.3 1178.6h0M1399.8 1042.4h0M1343.2 1082.2h0M1660.3 1002.0h0M1299.5 1127.0h0M1278.4 1159.4h0M1567.3 975.0h0M1338.1 919.2h0M1650.1 1029.2h0M1604.4 1056.7h0M1537.6 1030.1h0M1499.5 1084.8h0M1277.7 1039.7h0M1535.6 1061.7h0M1359.1 1050.4h0M1376.2 986.9h0M1308.5 1001.6h0M1463.2 1041.9h0M1577.1 1027.5h0M1464.2 985.9h0M1368.2 1041.2h0M1317.3 855.7h0M1299.1 938.8h0M1393.6 1097.7h0M1456.3 1052.0h0M1626.4 982.1h0M1396.3 1075.7h0M1509.2 1060.3h0M1287.7 819.8h0M1342.7 1146.6h0M1363.5 977.7h0M1348.1 1037.0h0M1290.6 987.6h0M1319.2 807.8h0M1271.0 1116.3h0M1436.6 1055.6h0M1351.5 891.8h0M1273.4 1209.8h0M1681.9 1062.7h0M1349.8 995.4h0M1321.9 873.6h0M1422.2 1102.2h0M1331.8 924.3h0M1568.2 909.9h0M1604.1 1091.5h0M1406.5 951.1h0M1350.0 992.2h0M1356.9 1161.4h0M1644.2 995.9h0M1323.2 982.7h0M1365.6 1102.5h0M1548.8 980.6h0M1347.2 1088.5h0M1470.7 1041.7h0M1277.1 751.2h0M1383.0 1048.9h0M1376.8 1128.3h0M1497.8 899.4h0M1307.6 998.5h0M1644.7 1017.0h0M1320.2 1171.6h0M1655.2 1070.7h0M1649.8 1049.8h0M1457.0 1207.8h0M1558.7 1092.3h0M1386.5 1022.2h0M1294.1 1028.4h0M1381.3 1151.4h0M1287.6 1028.8h0M1422.1 1034.3h0M1283.7 1186.7h0M1390.3 933.3h0M1432.8 1034.1h0M1620.5 1055.5h0M1279.5 838.2h0M1554.7 1008.8h0M1646.8 1066.6h0M1308.1 789.2h0M1414.9 969.3h0M1679.8 1038.1h0M1488.4 895.8h0M1335.3 913.3h0M1673.6 1065.6h0M1394.5 959.9h0M1411.9 1120.3h0M1596.1 983.6h0M1488.7 971.6h0M1286.0 770.3h0M1342.0 848.9h0M1417.6 973.1h0M1443.1 1041.3h0M1371.5 1133.0h0M1468.2 1043.4h0M1640.6 1045.1h0M1516.4 1065.9h0M1473.9 1047.9h0M1445.5 990.2h0M1555.7 1029.2h0M1599.0 891.0h0M1350.0 951.3h0M1422.4 1026.6h0M1292.4 1199.9h0M1324.9 1016.2h0M1526.1 1006.0h0M1391.3 989.9h0M1463.1 1110.0h0M1466.6 976.3h0M1399.2 903.0h0M1277.3 846.3h0M1315.5 825.6h0M1520.8 962.3h0M1425.1 1122.2h0M1265.7 1060.2h0M1348.1 864.0h0M1635.7 1046.5h0M1299.6 1008.3h0M1352.9 863.8h0M1416.8 1020.9h0M1241.9 968.1h0M1312.7 891.1h0M1403.8 1062.2h0M1585.8 1009.2h0M1321.7 1016.8h0M1527.4 1105.7h0M1386.2 1052.1h0M1378.1 1171.5h0M1497.5 1110.1h0M1347.1 1029.3h0M1553.7 1054.2h0M1430.3 1068.1h0M1358.3 857.5h0M1408.2 1072.5h0M1629.0 984.8h0M1239.0 1061.6h0M1270.6 1185.5h0M1315.9 990.5h0M1434.6 1084.2h0M1487.4 1042.2h0M1277.0 877.5h0M1572.4 1041.4h0M1482.2 923.9h0M1347.7 1003.5h0M1629.0 1024.6h0M1428.8 965.7h0M1643.9 1057.2h0M1662.0 1028.6h0M1482.1 885.5h0M1347.7 1095.4h0M1595.3 1060.6h0M1416.5 915.2h0M1336.7 988.4h0M1344.1 1146.8h0M1409.1 1026.3h0M1421.2 823.7h0M1320.3 817.0h0M1547.6 1050.9h0M1306.2 933.6h0M1451.4 1018.0h0M1409.9 844.5h0M1340.0 780.6h0M1403.9 1126.9h0M1306.7 1079.8h0M1622.1 954.7h0M1333.7 916.6h0M1432.5 1077.2h0M1632.0 1058.5h0M1299.4 811.5h0M1305.2 1023.5h0M1332.7 935.6h0M1392.9 1079.9h0M1349.3 905.7h0M1408.5 962.1h0M1661.5 975.0h0M1353.4 1104.6h0M1308.4 1046.1h0M1464.8 1003.8h0M1223.6 997.7h0M1669.9 1054.2h0M1369.6 926.6h0M1349.1 978.1h0M1579.2 1044.3h0M1336.4 1051.1h0M1497.7 1034.9h0M1334.3 933.1h0M1400.7 1010.0h0M1322.7 1179.2h0M1440.5 997.7h0M1564.5 1122.2h0M1333.8 1042.2h0M1480.2 1079.8h0M1547.1 1086.1h0M1306.4 945.1h0M1535.2 903.4h0M1379.5 897.4h0M1395.0 995.4h0M1306.4 1182.6h0M1618.2 1063.8h0M1292.9 1023.5h0M1302.4 845.6h0M1627.0 995.1h0M1411.6 1115.6h0M1437.6 1160.6h0M1450.1 1063.4h0M1450.4 1026.5h0M1304.9 855.5h0M1571.7 968.9h0M1590.2 1013.9h0M1373.7 1092.8h0M1301.3 1138.4h0M1598.6 1024.5h0M1413.3 1138.2h0M1511.6 922.2h0M1373.3 1037.8h0M1507.4 1160.8h0M1333.9 1075.9h0M1316.8 792.0h0M1480.0 1035.1h0M1495.0 833.8h0M1241.4 936.0h0M1635.4 987.0h0M1474.8 1029.8h0M1279.3 1211.1h0M1644.6 1036.4h0M1457.0 1127.0h0M1319.4 975.6h0M1444.3 1117.4h0M1574.2 1062.0h0M1315.1 891.5h0M1326.0 1190.2h0M1626.1 1061.2h0M1356.2 1090.1h0M1408.0 1077.3h0M1353.7 1090.2h0M1539.3 1076.5h0M1626.3 1047.8h0M1415.4 1118.8h0M1382.9 957.5h0M1673.3 977.2h0M1282.9 1172.5h0M1611.8 944.0h0M1547.5 1028.9h0M1503.4 1011.1h0M1425.1 931.4h0M1369.1 932.6h0M1421.9 935.8h0M1442.5 1072.1h0M1359.6 938.5h0M1515.4 1039.1h0M1492.4 1146.8h0M1576.7 1070.8h0M1435.7 914.9h0M1320.2 820.6h0M1383.3 899.0h0M1407.5 1098.5h0M1402.9 923.0h0M1407.0 1068.2h0M1286.3 1020.5h0M1502.1 1030.8h0M1424.8 1125.4h0M1581.6 1093.6h0M1430.9 1163.5h0M1474.1 1085.3h0M1428.5 1032.0h0M1637.2 1013.1h0M1450.6 1113.4h0M1367.2 1051.9h0M1478.8 961.8h0M1406.4 1036.2h0M1370.7 952.4h0M1529.4 1058.8h0M1557.2 1030.6h0M1399.6 1112.9h0M1402.3 1044.5h0M1389.5 1033.4h0M1383.4 1094.6h0M1426.8 1113.9h0M1622.1 966.1h0M1311.5 1022.1h0M1262.7 874.2h0M1352.7 935.1h0M1313.4 1091.8h0M1489.3 953.9h0M1414.4 992.3h0M1367.0 979.3h0M1353.4 847.5h0M1311.0 963.7h0M1555.2 945.0h0M1487.2 973.9h0M1538.6 1068.5h0M1501.4 1062.6h0M1307.4 1169.7h0M1631.4 1043.5h0M1682.1 982.8h0M1387.5 889.9h0M1580.8 1065.3h0M1294.4 1110.1h0M1289.7 1111.5h0M1255.9 1023.9h0M1285.5 1185.5h0M1369.4 1063.6h0M1681.3 1000.4h0M1545.7 1079.7h0M1498.4 923.8h0M1564.5 1070.8h0M1569.1 1025.7h0M1368.7 1038.2h0M1376.4 1074.7h0M1344.3 1052.3h0M1346.7 1127.8h0M1397.8 816.7h0M1272.4 1077.1h0M1530.1 1020.8h0M1385.6 1106.2h0M1481.2 1066.9h0M1304.7 808.7h0M1464.4 1018.1h0M1651.8 1016.7h0M1245.7 1152.5h0M1363.7 1141.9h0M1290.7 1015.2h0M1368.4 1182.5h0M1382.3 1013.2h0M1317.7 884.3h0M1460.2 927.4h0M1408.1 1096.4h0M1690.4 1035.5h0M1579.2 999.3h0M1262.1 1188.2h0M1432.2 1003.9h0M1331.1 1001.7h0M1380.7 1148.8h0M1595.0 1046.3h0M1472.2 932.6h0M1337.9 1048.9h0M1461.3 1105.9h0M1614.5 1050.2h0M1313.8 1191.6h0M1287.8 950.2h0M1435.1 1070.8h0M1302.2 1018.5h0M1420.7 1006.3h0M1314.3 1034.5h0M1372.6 1097.4h0M1337.0 902.7h0M1431.1 1158.2h0M1352.3 1049.0h0M1268.1 854.9h0M1285.5 766.0h0M1377.0 1155.6h0M1282.1 829.7h0M1308.1 1132.5h0M1226.2 1087.0h0M1315.7 883.3h0M1362.3 1058.2h0M1551.6 834.1h0M1281.8 1203.8h0M1627.0 1020.9h0M1682.6 984.1h0M1421.2 1122.7h0M1371.1 1123.9h0M1541.0 1017.6h0M1611.5 983.6h0M1558.3 1114.4h0M1303.5 1202.1h0M1358.6 893.6h0M1452.1 1040.0h0M1423.8 1093.1h0M1471.6 1027.6h0M1459.0 865.2h0M1463.6 1016.1h0M1362.4 1090.4h0M1585.7 1044.4h0M1401.8 1045.9h0M1563.6 1064.4h0M1617.8 939.5h0M1458.0 947.0h0M1319.6 917.7h0M1304.2 972.2h0M1448.4 1060.1h0M1616.2 1028.2h0M1466.1 981.4h0M1310.5 1151.9h0M1581.1 940.3h0M1309.8 970.9h0M1493.0 951.9h0M1366.1 1142.9h0M1307.2 1208.1h0M1668.1 1033.6h0M1274.9 1155.3h0M1276.1 1115.7h0M1378.4 1162.4h0M1334.8 981.7h0M1638.2 1023.7h0M1444.4 986.5h0M1643.8 987.7h0M1615.7 1045.7h0M1478.4 855.9h0M1572.3 990.0h0M1347.6 1074.4h0M1270.3 945.4h0M1533.1 992.2h0M1390.0 1026.3h0M1261.0 1190.6h0M1368.3 960.4h0M1366.6 946.0h0M1620.1 977.8h0M1628.2 1031.0h0M1258.1 1167.7h0M1381.3 1139.7h0M1352.7 1009.4h0M1393.3 972.6h0M1686.4 1053.0h0M1645.3 934.6h0M1472.9 969.6h0M1370.4 1089.9h0M1407.5 1091.1h0M1552.6 1032.8h0M1550.3 1072.3h0M1446.8 1015.5h0M1467.4 1041.7h0M1315.5 884.7h0M1439.9 1036.2h0M1285.0 971.3h0M1323.5 861.2h0M1506.5 1050.9h0M1359.1 1153.4h0M1381.9 1035.0h0M1402.2 911.4h0M1365.2 1100.9h0M1318.1 1108.9h0M1363.1 1108.1h0M1540.1 1041.0h0M1515.9 1064.5h0M1326.3 974.1h0M1317.7 963.5h0M1343.7 1018.2h0M1480.9 1056.8h0M1400.9 1022.9h0M1462.9 1164.7h0M1299.1 762.5h0M1349.0 886.2h0M1621.0 1068.3h0M1616.0 1045.5h0M1658.4 980.7h0M1264.4 947.6h0M1252.4 1049.4h0M1309.7 873.9h0M1283.9 1209.4h0M1501.3 1057.1h0M1290.6 806.4h0M1325.3 1064.9h0M1355.1 1047.1h0M1376.8 902.1h0M1406.0 1153.1h0M1565.3 950.7h0M1477.1 886.8h0M1331.7 1004.3h0M1528.2 999.4h0M1315.4 1166.1h0M1470.9 984.3h0M1634.8 1047.2h0M1384.8 910.7h0M1623.3 1063.5h0M1319.9 929.8h0M1372.0 1104.6h0M1594.3 979.5h0M1377.2 1126.9h0M1491.6 1028.8h0M1390.4 900.9h0M1526.5 978.1h0M1303.2 1164.8h0M1585.2 1021.2h0M1509.6 990.0h0M1493.2 993.3h0M1338.8 1103.0h0M1426.4 1106.5h0M1412.5 980.4h0M1564.1 1009.3h0M1301.1 1196.4h0M1347.8 1086.4h0M1468.4 1074.9h0M1283.5 1144.9h0M1307.0 883.2h0M1414.2 981.0h0M1614.3 972.5h0M1395.5 1112.2h0M1313.1 825.0h0M1374.7 960.2h0M1292.0 1029.9h0M1456.2 979.5h0M1472.9 1055.4h0M1533.9 1106.9h0M1657.3 943.7h0M1313.0 794.3h0M1335.1 1081.7h0M1273.0 870.2h0M1572.1 1066.0h0M1363.6 1097.4h0M1364.5 925.7h0M1274.9 1182.2h0M1636.1 1101.7h0M1521.8 904.7h0M1485.9 972.6h0M1360.5 1057.0h0M1291.5 1015.2h0M1403.3 1012.2h0M1302.4 1156.5h0M1339.6 1081.8h0M1469.2 1137.4h0M1311.0 1137.5h0M1685.2 1029.9h0M1384.7 949.9h0M1341.7 991.1h0M1401.7 1067.0h0M1413.7 1014.6h0M1328.4 1041.5h0M1588.7 1018.6h0M1274.3 1054.3h0M1346.7 1037.8h0M1601.3 1013.4h0M1291.4 828.9h0M1586.4 1035.4h0M1600.8 1067.3h0M1422.8 1075.6h0M1581.5 972.8h0M1421.3 976.2h0M1426.0 897.7h0M1606.5 1020.0h0M1404.0 1086.0h0M1391.0 1008.7h0M1394.2 1053.0h0M1647.1 1070.5h0M1311.4 875.9h0M1274.5 1214.8h0M1574.5 1107.2h0M1337.0 971.4h0M1273.9 1075.8h0M1493.5 916.2h0M1624.4 941.3h0M1359.3 804.9h0M1269.2 1184.0h0M1336.2 814.1h0M1637.6 1042.7h0M1393.3 1046.3h0M1317.2 1103.6h0M1309.7 1126.1h0M1654.5 954.4h0M1341.5 1093.3h0" stroke="#FF88FF" stroke-width="5.0" stroke-linecap="round" fill="none"/>
<path d="M1373.7 1042.7h0M1377.5 844.1h0M1277.2 834.6h0M1448.2 986.5h0M1311.5 871.6h0M1609.9 1137.0h0M1282.3 903.2h0M1327.3 910.2h0M1364.2 953.7h0M1421.8 1120.4h0M1327.3 1108.6h0M1555.2 1057.9h0M1558.6 1038.2h0M1295.6 908.2h0M1603.7 1007.8h0M1323.6 1097.1h0M1566.0 1033.3h0M1335.5 1058.0h0M1511.2 1023.3h0M1689.2 988.8h0M1288.6 1188.5h0M1435.1 987.6h0M1376.6 896.0h0M1425.8 949.5h0M1331.2 943.6h0M1562.0 1036.6h0M1607.5 1035.1h0M1303.0 838.7h0M1496.2 1011.1h0M1360.8 1128.1h0M1404.0 1023.6h0M1356.8 1020.1h0M1317.3 1166.9h0M1561.0 1149.1h0M1341.5 987.1h0M1640.6 975.1h0M1351.3 1139.1h0M1654.1 1025.3h0M1498.6 1028.4h0M1342.1 1007.7h0M1590.6 879.6h0M1268.8 857.2h0M1429.7 1062.2h0M1368.4 998.0h0M1392.3 1144.3h0M1274.0 1196.9h0M1598.6 843.4h0M1518.5 932.4h0M1649.2 1000.7h0M1635.6 996.6h0M1381.9 1118.4h0M1302.4 942.3h0M1424.7 1053.8h0M1290.6 1101.4h0M1231.2 1013.6h0M1277.6 1191.1h0M1316.9 1108.9h0M1346.0 1119.9h0M1303.2 786.3h0M1312.1 809.9h0M1282.9 1012.9h0M1248.9 1172.2h0M1259.5 1013.3h0M1388.7 1004.4h0M1498.5 996.4h0M1496.2 858.1h0M1296.2 854.3h0M1334.2 816.4h0M1281.6 1111.0h0M1316.9 1134.6h0M1415.3 880.9h0M1361.0 1120.2h0M1288.2 1176.7h0M1303.0 824.3h0M1582.9 1039.9h0M1320.2 1180.4h0M1554.0 950.4h0M1648.7 1013.3h0M1659.6 1007.5h0M1356.8 1123.6h0M1405.2 991.2h0M1291.3 1081.2h0M1547.3 1054.1h0M1411.9 1145.1h0M1329.9 1024.8h0M1416.7 948.6h0M1375.6 1053.8h0M1531.2 1067.5h0M1491.8 1057.5h0M1304.8 895.0h0M1276.9 1010.7h0M1417.9 947.7h0M1661.6 975.9h0M1596.0 1055.3h0M1413.2 1156.5h0M1355.8 1176.0h0M1658.2 1037.5h0M1279.5 833.7h0M1589.6 1067.4h0M1515.9 1011.7h0M1315.9 1149.7h0M1263.1 1120.6h0M1581.2 1015.6h0M1256.3 945.4h0M1641.3 989.1h0M1312.3 812.3h0M1264.6 1102.0h0M1523.2 1050.8h0M1379.8 1080.0h0M1579.6 1047.4h0M1419.9 1029.8h0M1450.8 1053.5h0M1313.4 1020.0h0M1271.5 988.8h0M1233.2 1021.0h0M1293.6 912.2h0M1302.5 1107.4h0M1344.4 782.6h0M1528.1 1113.5h0M1501.2 1032.8h0M1291.6 787.5h0M1423.3 1027.4h0M1332.9 1056.4h0M1514.5 1031.5h0M1385.2 1152.5h0M1454.9 924.7h0M1523.2 1040.5h0M1306.0 869.4h0M1316.6 946.1h0M1267.9 1033.0h0M1482.2 1060.2h0M1308.9 1040.4h0M1555.2 835.5h0M1631.5 960.6h0M1442.5 946.5h0M1558.5 1045.0h0M1372.6 1038.9h0M1295.5 877.2h0M1391.0 1045.9h0M1542.1 1036.7h0M1545.7 982.5h0M1605.8 1041.7h0M1253.2 1132.2h0M1299.0 822.6h0M1605.1 940.3h0M1333.5 952.7h0M1613.8 1046.6h0M1259.6 906.4h0M1627.2 1034.6h0M1372.2 1000.8h0M1264.0 1152.7h0M1309.4 806.5h0M1291.8 1204.2h0M1513.0 961.6h0M1308.4 815.3h0M1548.0 972.0h0M1335.0 1167.8h0M1600.5 1016.5h0M1322.6 1031.4h0M1391.7 1048.1h0M1429.6 810.3h0M1317.7 924.5h0M1674.8 990.0h0M1521.9 1052.9h0M1438.6 1054.4h0M1307.0 1108.9h0M1305.9 1079.3h0M1355.1 991.6h0M1309.2 1064.4h0M1551.7 961.7h0M1308.0 886.8h0M1645.5 1047.0h0M1354.7 885.0h0M1510.7 1016.5h0M1580.4 1008.5h0M1649.4 948.8h0M1379.7 861.1h0M1675.5 1030.4h0M1302.1 962.5h0M1370.7 995.8h0M1340.5 1149.5h0M1542.8 965.0h0M1381.6 982.2h0M1372.3 915.3h0M1508.9 1045.3h0M1304.8 886.2h0M1313.7 1008.0h0M1256.7 1143.0h0M1609.0 1053.7h0M1625.2 1020.3h0M1526.2 981.5h0M1283.1 828.0h0M1462.8 922.2h0M1563.9 973.9h0M1384.8 814.3h0M1337.1 1055.8h0M1494.2 994.1h0M1332.3 1171.4h0M1303.1 1109.1h0M1607.1 1042.2h0M1646.9 1045.5h0M1551.6 1033.6h0M1566.4 995.1h0M1254.4 1203.4h0M1342.8 1123.1h0M1319.7 1147.5h0M1318.8 796.7h0M1385.8 1135.9h0M1503.9 1026.8h0M1460.5 953.5h0M1360.5 877.5h0M1536.3 972.0h0M1364.1 884.9h0M1419.9 1130.2h0M1441.7 1029.6h0M1386.4 1003.5h0M1319.0 973.5h0M1367.7 1031.2h0M1349.2 1042.5h0M1557.6 847.1h0M1355.2 1068.1h0M1312.2 912.7h0M1340.3 1142.4h0M1332.7 854.4h0M1321.7 1128.9h0M1343.5 1148.1h0M1571.7 969.1h0M1356.5 838.6h0M1309.7 823.5h0M1535.8 1000.7h0M1334.6 825.1h0M1353.9 846.4h0M1625.0 1036.4h0M1401.6 1141.3h0M1323.2 960.8h0M1267.5 1181.7h0M1276.9 1173.9h0M1642.5 1055.0h0M1283.3 1158.4h0M1320.5 856.1h0M1523.9 1045.0h0M1348.5 1137.1h0M1355.5 1150.6h0M1640.7 1062.7h0M1558.7 1108.0h0M1274.6 769.5h0M1308.5 1092.2h0M1589.4 900.9h0M1424.8 1023.3h0M1321.8 961.7h0M1666.8 1066.4h0M1290.8 794.5h0M1423.3 1063.3h0M1540.7 1193.5h0M1423.7 1042.6h0M1361.5 827.3h0M1415.9 1040.7h0M1592.9 1038.8h0M1294.7 994.8h0M1612.5 1041.1h0M1427.4 1008.8h0M1315.7 947.3h0M1374.5 1084.1h0M1669.6 1029.0h0M1495.7 1062.7h0M1533.8 1038.0h0M1426.5 1148.7h0M1357.2 971.2h0M1443.5 1068.5h0M1667.7 970.7h0M1270.4 1171.1h0M1291.9 1198.3h0M1363.5 1145.1h0M1529.7 1023.3h0M1591.9 875.6h0M1357.2 975.1h0M1576.2 1025.5h0M1260.4 1109.0h0M1358.4 1071.2h0M1353.6 976.5h0M1628.8 1059.7h0M1425.1 940.2h0M1407.3 1012.8h0M1514.5 990.2h0M1384.5 1019.1h0M1599.1 1024.8h0M1324.2 915.9h0M1664.9 998.7h0M1363.7 1143.4h0M1642.0 1038.9h0M1551.4 1049.9h0M1310.5 979.8h0M1368.1 1105.9h0M1353.8 1013.0h0M1561.5 1021.6h0M1332.0 1014.6h0M1311.2 887.8h0M1509.2 1064.7h0M1357.3 832.0h0M1428.5 1057.9h0M1428.1 1022.9h0M1285.0 1200.9h0M1511.1 1044.9h0M1597.2 934.6h0M1523.3 1137.4h0M1527.3 1052.7h0M1647.2 992.3h0M1571.0 1031.5h0M1382.1 847.5h0M1376.9 955.2h0M1322.0 1099.0h0M1543.3 1060.8h0M1342.9 1103.4h0M1633.0 985.8h0M1297.9 1170.4h0M1272.9 1065.5h0M1478.0 872.2h0M1373.1 1009.8h0M1382.1 1057.8h0M1383.9 972.0h0M1363.6 963.9h0M1511.5 1044.2h0M1615.4 928.0h0M1583.6 946.2h0M1361.1 880.5h0M1371.3 1068.8h0M1368.3 833.3h0M1561.0 1008.9h0M1384.6 1057.9h0M1623.9 1003.2h0M1381.8 1072.7h0M1494.5 1026.0h0M1423.5 964.1h0M1514.8 1084.7h0M1525.9 827.0h0M1611.6 1042.8h0M1316.0 1042.7h0M1329.5 902.6h0M1442.3 959.2h0M1446.8 898.3h0M1411.1 1060.5h0M1648.3 1043.8h0M1360.5 904.5h0M1461.3 1041.2h0M1370.1 1101.4h0M1667.2 1048.8h0M1557.7 983.3h0M1379.1 862.1h0M1626.6 1044.7h0M1398.8 904.0h0M1302.0 789.5h0M1289.7 1175.8h0M1515.3 1012.1h0M1406.8 1101.0h0M1301.9 1016.7h0M1296.1 1001.7h0M1544.8 1058.0h0M1460.2 1120.8h0M1313.0 1026.1h0M1302.3 980.2h0M1516.7 1037.4h0M1296.0 1185.8h0M1545.1 997.0h0M1347.7 1052.9h0M1304.6 1010.9h0M1528.8 965.6h0M1289.1 775.8h0M1338.1 967.0h0M1522.9 1047.3h0M1400.8 920.0h0M1500.2 902.2h0M1337.0 834.7h0M1607.2 1061.0h0M1543.4 943.4h0M1327.9 1086.9h0M1496.9 1000.7h0M1487.4 1067.2h0M1671.8 1016.7h0M1323.1 1137.8h0M1611.0 1058.2h0M1340.0 878.1h0M1395.6 850.1h0M1476.6 974.2h0M1350.7 1185.5h0M1364.6 810.3h0M1297.6 970.4h0M1352.4 1024.3h0M1568.8 1025.3h0M1561.8 1098.5h0M1568.7 1052.4h0M1624.7 1073.5h0M1313.4 1197.8h0M1331.8 1068.8h0M1386.0 1080.1h0M1262.4 1166.5h0M1466.5 1030.5h0M1319.5 962.4h0M1670.1 1049.7h0M1368.0 985.2h0M1333.7 961.4h0M1346.8 1177.0h0M1325.1 1058.9h0M1668.4 1065.9h0M1318.4 960.8h0M1289.0 762.0h0M1485.6 1072.9h0M1594.3 1041.9h0M1362.1 1109.1h0M1609.0 1017.5h0M1325.2 885.3h0M1330.8 949.3h0M1342.2 1089.6h0M1276.8 1004.5h0M1328.3 945.8h0M1328.9 962.7h0M1651.8 1048.3h0M1477.9 1027.4h0M1355.3 1154.0h0M1475.1 1040.9h0M1410.9 961.3h0M1651.2 998.3h0M1569.6 934.7h0M1497.9 1057.7h0M1421.0 1189.5h0M1590.4 959.4h0M1423.4 970.8h0M1521.2 1071.3h0M1344.7 946.4h0M1321.2 1048.3h0M1645.8 1020.3h0M1419.1 880.6h0M1498.4 883.6h0M1344.0 1034.9h0M1583.9 931.7h0M1467.6 1049.2h0M1555.9 1029.7h0M1358.6 887.2h0M1649.1 1044.0h0M1280.7 787.5h0M1311.3 1010.4h0M1417.9 978.2h0M1488.6 1109.0h0M1358.7 1024.2h0M1409.2 1091.9h0M1579.5 1018.9h0M1360.4 982.8h0M1486.9 1033.4h0M1613.5 1026.3h0M1319.2 971.6h0M1586.1 1019.2h0M1297.8 1049.1h0M1681.6 992.0h0M1298.2 785.9h0M1513.1 1078.5h0M1416.7 1086.8h0M1304.8 787.3h0M1322.5 1095.2h0M1251.2 1173.4h0M1332.7 830.2h0M1314.3 987.6h0M1309.9 979.6h0M1247.0 839.8h0M1667.5 1018.5h0M1445.6 858.3h0M1538.1 953.2h0M1537.8 1050.3h0M1357.4 916.2h0M1603.5 1041.0h0M1302.0 958.1h0M1413.3 929.5h0M1351.5 1198.0h0M1393.2 886.8h0M1612.0 1097.5h0M1376.4 1103.7h0M1343.1 1011.4h0M1640.0 1060.0h0M1399.7 1094.2h0M1543.2 1062.0h0M1350.3 926.8h0M1419.9 1114.3h0M1316.7 765.0h0M1337.3 1091.3h0M1383.8 1109.9h0M1313.6 898.0h0M1527.6 1030.7h0M1628.0 1020.7h0M1324.8 1005.6h0M1522.4 1031.2h0M1563.4 1152.0h0M1620.4 999.7h0M1320.2 1203.5h0M1535.4 1024.0h0M1457.3 1027.3h0M1353.5 858.3h0M1502.5 948.3h0M1535.6 995.8h0M1580.0 934.9h0M1472.1 1026.1h0M1265.9 1055.2h0M1408.5 1032.7h0M1552.6 1079.2h0M1275.6 1057.5h0M1597.2 1000.7h0M1410.2 1073.6h0M1331.6 1139.2h0M1640.6 1039.8h0M1523.5 925.7h0M1317.1 1206.3h0M1316.9 777.3h0M1328.3 938.5h0M1262.8 1139.5h0M1417.9 1011.8h0M1307.7 879.7h0M1412.9 1076.3h0M1352.7 1052.6h0M1341.1 1031.3h0M1527.7 1006.9h0M1345.7 1148.6h0M1397.3 1009.4h0M1602.5 1029.2h0M1323.7 1012.7h0M1489.7 1132.8h0M1312.5 901.2h0M1344.3 1007.8h0M1495.3 929.4h0M1592.4 1022.3h0M1334.0 932.8h0M1550.5 920.1h0M1481.8 1144.9h0M1348.7 1120.0h0M1434.9 1099.4h0M1554.5 1060.9h0M1339.6 942.9h0M1449.9 961.1h0M1348.0 917.1h0M1355.9 1188.6h0M1338.9 1061.7h0M1392.3 1031.1h0M1677.1 1051.5h0M1586.9 1015.8h0M1615.7 1034.8h0M1355.9 1182.7h0M1372.3 844.0h0M1370.5 1050.8h0M1250.3 981.8h0M1422.6 1137.5h0M1241.4 1162.1h0M1600.7 1043.6h0M1355.0 1077.5h0M1331.4 862.3h0M1426.4 1036.8h0M1391.5 1118.1h0M1260.3 919.6h0M1303.6 1177.5h0M1325.5 980.5h0M1459.0 1067.2h0M1583.2 1052.5h0M1326.2 1062.7h0M1248.9 963.0h0M1305.8 932.4h0M1600.2 910.2h0M1497.3 958.9h0M1566.1 1037.2h0M1548.0 1100.1h0M1379.9 1097.7h0M1360.0 887.0h0M1431.6 905.6h0M1634.6 887.1h0M1395.3 909.5h0M1341.6 909.7h0M1303.8 853.0h0M1546.9 1050.6h0M1689.3 1046.2h0M1429.9 1051.3h0M1346.4 1186.7h0M1299.7 854.4h0M1328.0 965.8h0M1303.4 958.9h0M1361.4 1020.7h0M1333.0 1062.5h0M1316.0 812.1h0M1520.6 905.2h0M1431.4 1051.8h0M1532.4 1022.5h0M1348.9 905.3h0M1221.4 1155.5h0M1609.1 950.3h0M1531.3 1056.0h0M1660.3 1060.3h0M1367.4 1066.3h0M1278.7 1200.7h0M1452.7 1040.7h0M1414.0 884.4h0M1578.7 1042.4h0M1340.3 967.2h0M1416.1 1141.5h0M1560.1 998.2h0M1499.8 1087.3h0M1277.1 1148.1h0M1385.4 951.6h0M1372.2 969.1h0M1489.2 1061.2h0M1402.2 1120.1h0M1273.5 1170.1h0M1275.9 1116.8h0M1291.8 1027.1h0M1306.5 1182.1h0M1317.4 812.2h0M1321.9 984.1h0M1510.9 1032.4h0M1397.7 1016.9h0M1428.1 1105.8h0M1275.9 1219.3h0M1511.1 1036.9h0M1287.4 1177.4h0M1300.4 997.8h0M1582.7 953.0h0M1536.4 1021.8h0M1435.9 1061.2h0M1373.6 1023.7h0M1459.3 991.7h0M1393.3 1026.0h0M1383.1 1006.6h0M1425.1 1049.4h0M1597.5 1067.6h0M1395.6 1162.8h0M1278.1 912.2h0M1423.4 1089.3h0M1656.6 1050.2h0M1370.5 1005.3h0M1346.2 858.7h0M1632.1 1078.6h0M1608.7 977.8h0M1303.2 1131.0h0M1379.8 1068.7h0M1376.9 962.8h0M1388.1 884.4h0M1425.1 1020.5h0M1590.3 1053.1h0M1362.2 963.9h0M1385.0 933.5h0M1367.0 1141.4h0M1467.6 993.6h0M1439.4 1075.0h0M1342.8 898.3h0M1506.1 1011.2h0M1606.2 989.9h0M1429.8 1119.0h0M1475.8 1027.1h0M1408.5 1003.7h0M1251.9 1011.9h0M1529.8 878.1h0M1268.5 1115.4h0M1453.9 1011.9h0M1492.0 1105.0h0M1508.9 1002.4h0M1417.6 1075.1h0M1468.2 882.4h0M1578.0 891.7h0M1456.2 1084.9h0M1350.4 859.2h0M1599.0 990.5h0M1310.4 1137.4h0M1427.0 1032.7h0M1423.1 1169.8h0M1283.9 984.8h0M1384.1 917.3h0M1350.8 835.9h0M1644.0 1047.9h0M1306.8 931.4h0M1328.8 1025.7h0M1286.0 1199.9h0M1295.2 1045.0h0M1329.4 929.0h0M1622.1 1056.4h0M1322.1 890.1h0M1381.6 836.9h0M1595.1 919.4h0M1373.4 1117.4h0M1346.6 1003.8h0M1568.0 1029.7h0M1473.2 1050.2h0M1629.4 1034.2h0M1305.0 1022.5h0M1511.1 1061.2h0M1407.7 1033.7h0M1277.8 1193.3h0M1643.7 999.1h0M1321.5 814.4h0M1546.3 958.7h0M1477.3 951.5h0M1455.7 1017.0h0M1261.8 1199.9h0M1386.5 980.6h0M1285.0 1146.2h0M1462.8 991.6h0M1307.7 1184.6h0M1286.0 1206.6h0M1504.2 991.4h0M1321.2 965.9h0M1291.7 960.0h0M1329.4 1062.2h0M1364.1 1048.4h0M1349.9 1005.7h0M1389.5 1055.5h0M1367.1 1086.8h0M1430.5 1054.3h0M1326.5 1061.9h0M1346.1 1026.3h0M1270.5 795.5h0M1539.1 1055.2h0M1326.9 1160.5h0M1311.3 785.6h0M1472.1 849.9h0M1673.9 1047.2h0M1389.6 869.0h0M1327.5 928.5h0M1427.1 1135.3h0M1404.7 1063.9h0M1544.3 1071.4h0M1486.2 934.2h0M1503.2 1044.4h0M1279.0 1210.0h0M1488.3 1103.2h0M1361.5 1059.1h0M1655.8 1000.0h0M1451.1 895.1h0M1621.8 1010.4h0M1351.9 1035.7h0M1355.3 966.6h0M1591.8 1025.6h0M1653.0 1043.3h0M1305.1 1007.4h0M1331.0 890.2h0M1343.2 1030.6h0M1322.9 979.4h0M1668.3 1001.9h0M1407.4 1155.5h0M1271.2 1149.8h0M1312.7 936.4h0M1357.6 1167.7h0M1413.3 1010.2h0M1391.2 997.8h0M1418.5 1087.2h0M1648.6 980.7h0M1410.5 949.9h0M1502.1 1034.7h0M1523.4 873.6h0M1258.6 979.0h0M1374.2 1074.4h0M1561.3 1067.2h0M1342.7 1116.7h0M1353.8 1091.9h0M1617.2 1051.4h0M1385.6 1182.0h0M1604.8 1046.0h0M1310.6 797.3h0M1323.3 1121.7h0M1460.1 1046.1h0M1588.8 1027.8h0M1469.4 1112.7h0M1396.3 1093.8h0M1345.8 985.4h0M1641.4 928.4h0M1358.5 1102.9h0M1678.4 1035.9h0M1376.2 1020.1h0M1298.4 928.0h0M1478.3 1025.6h0M1361.4 1045.1h0M1347.9 976.1h0M1311.2 1183.0h0M1365.9 1204.3h0M1310.4 973.0h0M1373.6 999.5h0M1233.2 1050.4h0M1613.7 1059.1h0M1277.9 955.7h0M1291.5 1076.8h0M1391.9 972.2h0M1337.1 1140.0h0M1336.8 1046.2h0M1410.4 1087.2h0M1266.1 865.4h0M1379.2 984.8h0M1527.6 1054.1h0M1330.2 1066.9h0M1542.0 1053.7h0M1256.3 828.8h0M1518.8 1047.9h0M1409.3 952.5h0M1426.3 1099.6h0M1252.1 1183.9h0M1284.4 905.9h0M1643.8 971.8h0M1485.9 1152.1h0M1410.6 1186.3h0M1349.9 1193.8h0M1392.4 1078.5h0M1255.1 1183.3h0M1455.3 924.8h0M1301.8 1170.8h0M1308.9 851.4h0M1282.5 1096.4h0M1378.0 828.0h0" stroke="#1BCB6C" stroke-width="5.0" stroke-linecap="round" fill="none"/>
<ellipse cx="1431" cy="1030" rx="208" ry="138" transform="rotate(-2 1431 1030)" fill="none" stroke="#FF88FF" stroke-width="1.6"/>
<ellipse cx="1431.5" cy="1020.6" rx="207.2" ry="141.2" transform="rotate(2 1431.5 1020.6)" fill="none" stroke="#1BCB6C" stroke-width="1.6"/>
<path d="M1429.9 1021.4L1315.2 900.6M1318 916L1315.2 900.6L1330 905" fill="none" stroke="#111" stroke-width="1.8"/>
<text x="1218.6" y="870.5" font-size="24"><tspan font-style="italic">p</tspan> = 0.001</text>
<text x="1282" y="898" font-size="24">***</text>
<rect x="1197.4" y="737.5" width="515.6" height="497" fill="none" stroke="#444" stroke-width="1.4"/>
<line x1="1293.5" y1="1234.5" x2="1293.5" y2="1238.5" stroke="#444" stroke-width="1.3"/>
<text x="1293.5" y="1265" font-size="23" text-anchor="middle">-0.25</text>
<line x1="1429.9" y1="1234.5" x2="1429.9" y2="1238.5" stroke="#444" stroke-width="1.3"/>
<text x="1429.9" y="1265" font-size="23" text-anchor="middle">0.0</text>
<line x1="1566.3" y1="1234.5" x2="1566.3" y2="1238.5" stroke="#444" stroke-width="1.3"/>
<text x="1566.3" y="1265" font-size="23" text-anchor="middle">0.25</text>
<line x1="1702.7" y1="1234.5" x2="1702.7" y2="1238.5" stroke="#444" stroke-width="1.3"/>
<text x="1702.7" y="1265" font-size="23" text-anchor="middle">0.5</text>
<line x1="1193.4" y1="1213.8" x2="1197.4" y2="1213.8" stroke="#444" stroke-width="1.3"/>
<text x="1186.8" y="1221.8" font-size="23" text-anchor="end">-0.4</text>
<line x1="1193.4" y1="1117.6" x2="1197.4" y2="1117.6" stroke="#444" stroke-width="1.3"/>
<text x="1186.8" y="1125.6" font-size="23" text-anchor="end">-0.2</text>
<line x1="1193.4" y1="1021.4" x2="1197.4" y2="1021.4" stroke="#444" stroke-width="1.3"/>
<text x="1186.8" y="1029.4" font-size="23" text-anchor="end">0.0</text>
<line x1="1193.4" y1="925.2" x2="1197.4" y2="925.2" stroke="#444" stroke-width="1.3"/>
<text x="1186.8" y="933.2" font-size="23" text-anchor="end">0.2</text>
<line x1="1193.4" y1="829" x2="1197.4" y2="829" stroke="#444" stroke-width="1.3"/>
<text x="1186.8" y="837" font-size="23" text-anchor="end">0.4</text>
<text x="1456" y="1299" font-size="23.7" text-anchor="middle">PCoA1: 18.65%</text>
<text x="1138" y="982" font-size="23.7" text-anchor="middle" transform="rotate(-90 1138 982)">PCoA2: 12.97%</text>
<text x="55.5" y="717" font-size="36" font-weight="bold">c</text>
<path d="M484.30 758.80A417.2 417.2 0 1 1 216.13 856.41" fill="none" stroke="#EE6FEE" stroke-width="10.4"/>
<path d="M216.13 856.41A417.2 417.2 0 0 1 484.30 758.80" fill="none" stroke="#18CF3A" stroke-width="10.4"/>
<circle cx="484.3" cy="1176.0" r="373.3" fill="none" stroke="#1A5FE8" stroke-width="1.9"/>
<rect x="-15.00" y="-374.00" width="30" height="15.50" fill="#999999" transform="translate(484.3 1176.0) rotate(20)"/>
<rect x="-15.00" y="-374.00" width="30" height="14.00" fill="#999999" transform="translate(484.3 1176.0) rotate(60)"/>
<rect x="-15.00" y="-374.00" width="30" height="14.00" fill="#999999" transform="translate(484.3 1176.0) rotate(100)"/>
<rect x="-15.00" y="-374.00" width="30" height="15.00" fill="#999999" transform="translate(484.3 1176.0) rotate(140)"/>
<rect x="-15.00" y="-374.00" width="30" height="16.00" fill="#999999" transform="translate(484.3 1176.0) rotate(180)"/>
<rect x="-15.00" y="-374.00" width="30" height="23.00" fill="#999999" transform="translate(484.3 1176.0) rotate(220)"/>
<rect x="-15.00" y="-374.00" width="30" height="17.00" fill="#999999" transform="translate(484.3 1176.0) rotate(260)"/>
<rect x="-15.00" y="-374.00" width="30" height="14.50" fill="#999999" transform="translate(484.3 1176.0) rotate(300)"/>
<rect x="-15.00" y="-389.00" width="30" height="16.00" fill="#999999" transform="translate(484.3 1176.0) rotate(340)"/>
<path d="M484.30 842.00A334 334 0 1 1 269.61 920.14" fill="none" stroke="#45E8E8" stroke-width="11.1"/>
<path d="M269.61 920.14A334 334 0 0 1 484.30 842.00" fill="none" stroke="#D4AC0D" stroke-width="11.1"/>
<path d="M484.30 891.00A285 285 0 0 1 764.97 1126.51" fill="none" stroke="#B2DF8A" stroke-width="7.1"/>
<path d="M764.97 1126.51A285 285 0 0 1 731.12 1318.50" fill="none" stroke="#33A02C" stroke-width="7.1"/>
<path d="M731.12 1318.50A285 285 0 0 1 581.78 1443.81" fill="none" stroke="#A6CEE3" stroke-width="7.1"/>
<path d="M581.78 1443.81A285 285 0 0 1 203.63 1126.51" fill="none" stroke="#33A02C" stroke-width="7.1"/>
<path d="M203.63 1126.51A285 285 0 0 1 301.11 957.68" fill="none" stroke="#FB9A99" stroke-width="7.1"/>
<path d="M301.11 957.68A285 285 0 0 1 484.30 891.00" fill="none" stroke="#1F78B4" stroke-width="7.1"/>
<path d="M484.30 951.70A224.3 224.3 0 0 1 678.55 1288.15L542.50 1209.60A67.2 67.2 0 0 0 484.30 1108.80Z" fill="#B2DF8A"/>
<path d="M678.55 1288.15A224.3 224.3 0 0 1 561.02 1386.77L507.28 1239.15A67.2 67.2 0 0 0 542.50 1209.60Z" fill="#A6CEE3"/>
<path d="M561.02 1386.77A224.3 224.3 0 0 1 263.41 1137.05L418.12 1164.33A67.2 67.2 0 0 0 507.28 1239.15Z" fill="#33A02C"/>
<path d="M263.41 1137.05A224.3 224.3 0 0 1 340.12 1004.18L441.10 1124.52A67.2 67.2 0 0 0 418.12 1164.33Z" fill="#FB9A99"/>
<path d="M340.12 1004.18A224.3 224.3 0 0 1 484.30 951.70L484.30 1108.80A67.2 67.2 0 0 0 441.10 1124.52Z" fill="#1F78B4"/>
<circle cx="484.3" cy="1176.0" r="224.3" fill="none" stroke="#BBBBBB" stroke-width="0.6" stroke-opacity="0.6"/>
<line x1="527.5" y1="1124.5" x2="628.5" y2="1004.2" stroke="#8FB870" stroke-width="0.9"/>
<line x1="550.5" y1="1164.3" x2="705.2" y2="1137.1" stroke="#8FB870" stroke-width="0.9"/>
<line x1="461.3" y1="1239.1" x2="407.6" y2="1386.8" stroke="#2A8424" stroke-width="0.9"/>
<line x1="426.1" y1="1209.6" x2="290.1" y2="1288.2" stroke="#2A8424" stroke-width="0.9"/>
<circle cx="484.3" cy="1176.0" r="67.2" fill="#fff" stroke="#C8C8C8" stroke-width="0.8"/>
<rect x="-5.50" y="-231.30" width="11" height="7.00" fill="#8ACC00" transform="translate(484.3 1176.0) rotate(17)"/>
<rect x="-5.50" y="-229.30" width="11" height="5.00" fill="#F24236" transform="translate(484.3 1176.0) rotate(23)"/>
<rect x="-5.50" y="-230.30" width="11" height="6.00" fill="#8ACC00" transform="translate(484.3 1176.0) rotate(57)"/>
<rect x="-5.50" y="-229.30" width="11" height="5.00" fill="#F24236" transform="translate(484.3 1176.0) rotate(63)"/>
<rect x="-5.50" y="-259.30" width="11" height="35.00" fill="#8ACC00" transform="translate(484.3 1176.0) rotate(97)"/>
<rect x="-5.50" y="-243.30" width="11" height="19.00" fill="#F24236" transform="translate(484.3 1176.0) rotate(103)"/>
<rect x="-5.50" y="-241.30" width="11" height="17.00" fill="#8ACC00" transform="translate(484.3 1176.0) rotate(137)"/>
<rect x="-5.50" y="-236.30" width="11" height="12.00" fill="#F24236" transform="translate(484.3 1176.0) rotate(143)"/>
<rect x="-5.50" y="-232.30" width="11" height="8.00" fill="#8ACC00" transform="translate(484.3 1176.0) rotate(177)"/>
<rect x="-5.50" y="-229.30" width="11" height="5.00" fill="#F24236" transform="translate(484.3 1176.0) rotate(183)"/>
<rect x="-5.50" y="-246.30" width="11" height="22.00" fill="#8ACC00" transform="translate(484.3 1176.0) rotate(217)"/>
<rect x="-5.50" y="-238.30" width="11" height="14.00" fill="#F24236" transform="translate(484.3 1176.0) rotate(223)"/>
<rect x="-5.50" y="-228.30" width="11" height="4.00" fill="#8ACC00" transform="translate(484.3 1176.0) rotate(257)"/>
<rect x="-5.50" y="-228.30" width="11" height="4.00" fill="#F24236" transform="translate(484.3 1176.0) rotate(263)"/>
<rect x="-5.50" y="-255.30" width="11" height="31.00" fill="#8ACC00" transform="translate(484.3 1176.0) rotate(297)"/>
<rect x="-5.50" y="-243.30" width="11" height="19.00" fill="#F24236" transform="translate(484.3 1176.0) rotate(303)"/>
<rect x="-5.50" y="-270.30" width="11" height="46.00" fill="#8ACC00" transform="translate(484.3 1176.0) rotate(337)"/>
<rect x="-5.50" y="-271.30" width="11" height="47.00" fill="#F24236" transform="translate(484.3 1176.0) rotate(343)"/>
<text transform="translate(484.3 1176.0) rotate(-70)" x="224" y="4.8" font-size="13.7" font-style="italic" font-weight="bold" text-anchor="end">Coprococcus_3</text>
<text transform="translate(484.3 1176.0) rotate(-30)" x="224" y="4.9" font-size="14" font-style="italic" font-weight="bold" text-anchor="end">Eubacterium_ruminantium</text>
<text transform="translate(484.3 1176.0) rotate(10)" x="223" y="3.8" font-size="11" font-style="italic" font-weight="bold" text-anchor="end">Ruminococcus_2</text>
<text transform="translate(484.3 1176.0) rotate(50)" x="224" y="4.0" font-size="11.4" font-style="italic" font-weight="bold" text-anchor="end">Peptoniphilus</text>
<text transform="translate(484.3 1176.0) rotate(90)" x="222" y="3.8" font-size="10.8" font-style="italic" font-weight="bold" text-anchor="end">Ruminococcaceae_NK4A214</text>
<text transform="translate(484.3 1176.0) rotate(310)" x="-224" y="4.7" font-size="13.5" font-style="italic" font-weight="bold">Ruminococcaceae_UCG-002</text>
<text transform="translate(484.3 1176.0) rotate(350)" x="-222" y="4.7" font-size="13.3" font-style="italic" font-weight="bold">Ruminococcaceae_UCG-003</text>
<text transform="translate(484.3 1176.0) rotate(390)" x="-223" y="4.8" font-size="13.6" font-style="italic" font-weight="bold">Megasphaera</text>
<text transform="translate(484.3 1176.0) rotate(430)" x="-221" y="4.7" font-size="13.4" font-style="italic" font-weight="bold">Fusobacterium</text>
<line x1="465.2" y1="1165" x2="427.5" y2="1143.2" stroke="#5E9E4A" stroke-width="1.1"/>
<line x1="512.9" y1="1142.5" x2="520" y2="1134.2" stroke="#5E9E4A" stroke-width="1.1"/>
<path d="M503.11 1124.32A55 55 0 0 1 531.93 1148.50" fill="none" stroke="#5E9E4A" stroke-width="1.1"/>
<line x1="503.1" y1="1124.3" x2="506.8" y2="1114.3" stroke="#5E9E4A" stroke-width="1.1"/>
<line x1="531.9" y1="1148.5" x2="541.2" y2="1143.2" stroke="#5E9E4A" stroke-width="1.1"/>
<line x1="512.9" y1="1192.5" x2="531.9" y2="1203.5" stroke="#5E9E4A" stroke-width="1.1"/>
<path d="M538.46 1185.55A55 55 0 0 1 519.65 1218.13" fill="none" stroke="#5E9E4A" stroke-width="1.1"/>
<line x1="538.5" y1="1185.6" x2="549" y2="1187.4" stroke="#5E9E4A" stroke-width="1.1"/>
<line x1="519.7" y1="1218.1" x2="526.5" y2="1226.3" stroke="#5E9E4A" stroke-width="1.1"/>
<line x1="467.8" y1="1204.6" x2="462.3" y2="1214.1" stroke="#5E9E4A" stroke-width="1.1"/>
<path d="M484.30 1220.00A44 44 0 0 1 446.19 1198.00" fill="none" stroke="#5E9E4A" stroke-width="1.1"/>
<line x1="484.3" y1="1220" x2="484.3" y2="1241.7" stroke="#5E9E4A" stroke-width="1.1"/>
<line x1="446.2" y1="1198" x2="437.3" y2="1203.2" stroke="#5E9E4A" stroke-width="1.1"/>
<path d="M449.40 1217.60A54.3 54.3 0 0 1 430.82 1185.43" fill="none" stroke="#5E9E4A" stroke-width="1.1"/>
<line x1="449.4" y1="1217.6" x2="442.1" y2="1226.3" stroke="#5E9E4A" stroke-width="1.1"/>
<line x1="430.8" y1="1185.4" x2="419.6" y2="1187.4" stroke="#5E9E4A" stroke-width="1.1"/>
<circle cx="520.02" cy="1134.18" r="2.0" fill="#5E9E4A"/>
<circle cx="531.93" cy="1203.50" r="2.0" fill="#5E9E4A"/>
<circle cx="462.30" cy="1214.11" r="2.0" fill="#5E9E4A"/>
<circle cx="437.27" cy="1203.15" r="2.0" fill="#5E9E4A"/>
<line x1="469.3" y1="1134.7" x2="461.8" y2="1114.3" stroke="#EE3333" stroke-width="0.9"/>
<path d="M465.25 1165.00A22 22 0 0 1 484.30 1154.00" fill="none" stroke="#0A14F0" stroke-width="1.5"/>
<path d="M484.30 1154.00A22 22 0 0 1 489.99 1197.25" fill="none" stroke="#0A14F0" stroke-width="1.5"/>
<line x1="493.3" y1="1169.7" x2="502.3" y2="1163.4" stroke="#0A14F0" stroke-width="1.5"/>
<line x1="488.4" y1="1154.4" x2="492.5" y2="1132.8" stroke="#0A14F0" stroke-width="1.5"/>
<path d="M469.25 1134.65A44 44 0 0 1 484.30 1132.00" fill="none" stroke="#0A14F0" stroke-width="1.5"/>
<path d="M484.30 1132.00A44 44 0 0 1 512.88 1142.54" fill="none" stroke="#0A14F0" stroke-width="1.5"/>
<line x1="490" y1="1197.3" x2="492.8" y2="1207.9" stroke="#0A14F0" stroke-width="1.5"/>
<path d="M512.88 1192.50A33 33 0 0 1 467.80 1204.58" fill="none" stroke="#0A14F0" stroke-width="1.5"/>
<circle cx="492.47" cy="1132.77" r="2.5" fill="#0A14F0"/>
<circle cx="501.82" cy="1162.70" r="2.5" fill="#0A14F0"/>
<circle cx="492.84" cy="1207.88" r="2.5" fill="#0A14F0"/>
<text x="241" y="1239.3" font-size="36" text-anchor="middle">*</text>
<text x="215.8" y="1256.8" font-size="23"><tspan font-style="italic">q</tspan> = 0.223</text>
<text x="319.6" y="1396.2" font-size="36" text-anchor="middle">*</text>
<text x="323.1" y="1401.8" font-size="23"><tspan font-style="italic">q</tspan> = 0.191</text>
<text x="780.7" y="664.2" font-size="23.6" font-weight="bold">Enrichment</text>
<line x1="780.2" y1="674.3" x2="912.6" y2="674.3" stroke="#777" stroke-width="1.4"/>
<rect x="783.3" y="684.3" width="23.5" height="23.5" fill="#66A84F" stroke="#555" stroke-width="0.9"/>
<text x="821.7" y="704.8" font-size="23.4">Chronic insomnia group</text>
<rect x="783.3" y="719.5" width="23.5" height="23.5" fill="#EE88E8" stroke="#555" stroke-width="0.9"/>
<text x="821.4" y="739.4" font-size="23.4">Long-term healthy group</text>
<text x="781" y="780" font-size="23.6" font-weight="bold">Phylum</text>
<line x1="780.2" y1="790.4" x2="912.6" y2="790.4" stroke="#777" stroke-width="1.4"/>
<rect x="782.8" y="799.2" width="23.5" height="23.5" fill="#45E8E8" stroke="#555" stroke-width="0.9"/>
<text x="818.4" y="818.4" font-size="23.4">Firmicutes</text>
<rect x="782.8" y="835.2" width="23.5" height="23.5" fill="#D9AD00" stroke="#555" stroke-width="0.9"/>
<text x="818.4" y="854.5" font-size="23.4">Fusobacteria</text>
<text x="52.8" y="1652" font-size="23.3" font-weight="bold">Family</text>
<line x1="52" y1="1661.6" x2="218.7" y2="1661.6" stroke="#888" stroke-width="1.4"/>
<rect x="53.4" y="1670.3" width="24" height="23.3" fill="#A6CEE3" stroke="#555" stroke-width="0.9"/>
<text x="88.7" y="1691.1" font-size="23.4">Family XI</text>
<rect x="53.4" y="1705.5" width="24" height="23.3" fill="#1F78B4" stroke="#555" stroke-width="0.9"/>
<text x="88.7" y="1726.3" font-size="23.4">Fusobacteriaceae</text>
<rect x="53.4" y="1740.7" width="24" height="23.3" fill="#B2DF8A" stroke="#555" stroke-width="0.9"/>
<text x="88.7" y="1761.5" font-size="23.4">Lachnospiraceae</text>
<rect x="53.4" y="1775.9" width="24" height="23.3" fill="#33A02C" stroke="#555" stroke-width="0.9"/>
<text x="88.7" y="1796.7" font-size="23.4">Ruminococcaceae</text>
<rect x="53.4" y="1811.1" width="24" height="23.3" fill="#FB9A99" stroke="#555" stroke-width="0.9"/>
<text x="88.7" y="1831.9" font-size="23.4">Veillonellaceae</text>
<text x="326.6" y="1671.2" font-size="23.4">Beta coefficient</text>
<rect x="327.5" y="1696.8" width="27.3" height="61.5" fill="#999999"/>
<line x1="327.5" y1="1728.9" x2="354.8" y2="1728.9" stroke="#1A5FE8" stroke-width="2.4"/>
<text x="371.4" y="1703.9" font-size="23.4" text-anchor="middle">+</text>
<text x="392.2" y="1705.8" font-size="23.4">Outer ring bar</text>
<text x="366" y="1736.9" font-size="23.4">0</text>
<text x="372" y="1764" font-size="23.4" text-anchor="middle">–</text>
<text x="391.3" y="1764" font-size="23.4">Inner ring bar</text>
<text x="324.3" y="1796.1" font-size="23.4">Heights of bars are the</text>
<text x="324.3" y="1831.3" font-size="23.4">absolute value</text>
<text x="589.3" y="1670.1" font-size="23.4">Microbial biomarkers of chronic insomnia</text>
<rect x="589.8" y="1690.4" width="13" height="18.2" fill="#F24236"/>
<rect x="613.4" y="1690.4" width="13" height="18.2" fill="#8ACC00"/>
<text x="642.6" y="1708" font-size="23.4">** <tspan font-style="italic">q</tspan> &lt; 0.05</text>
<text x="770" y="1708" font-size="23.4">* 0.05 &lt; <tspan font-style="italic">q</tspan> ≤ 0.25</text>
<text x="589.3" y="1755.5" font-size="23.4">Heights of outer genus ring bars are</text>
<text x="589.3" y="1792.6" font-size="23.4">the taxa mean relative abundance</text>
<text x="954.6" y="1342" font-size="36" font-weight="bold">d</text>
<text x="998.5" y="1373.1" font-size="30.3">Association of chronic insomnia with gut microbial biomarkers</text>
<text x="1324.9" y="1417.5" font-size="24">β coefficient</text>
<path d="M1266.4 1443.6H1100.8M1108 1439.5L1100.8 1443.6L1108 1447.7" fill="none" stroke="#444" stroke-width="1.1"/>
<path d="M1497.7 1443.6H1663.2M1656 1439.5L1663.2 1443.6L1656 1447.7" fill="none" stroke="#444" stroke-width="1.1"/>
<text x="1283" y="1452.5" font-size="24">Negative</text>
<text x="1402" y="1452.5" font-size="24">Positive</text>
<line x1="999" y1="1470.2" x2="1758.3" y2="1470.2" stroke="#000" stroke-width="3"/>
<text x="1011.5" y="1516.7" font-size="24" xml:space="preserve">Discovery cohort   GNHS  n = 1719</text>
<text x="1524.8" y="1516.7" font-size="24">β 95% CI</text>
<text x="1676.3" y="1516.7" font-size="24"><tspan font-style="italic">p</tspan> value</text>
<text x="1011.5" y="1698.4" font-size="24" xml:space="preserve">Validation cohort   GGMP  n = 6122</text>
<text x="1011.5" y="1566.3" font-size="24" font-style="italic">Ruminococcaceae UCG-002</text>
<line x1="1326.4" y1="1559" x2="1416.2" y2="1559" stroke="#4A94EE" stroke-width="2.2"/>
<circle cx="1371.3" cy="1559" r="4.8" fill="#4A94EE"/>
<text x="1475.5" y="1564.8" font-size="24" xml:space="preserve">-0.19 [-0.32, -0.06]  0.004 **</text>
<text x="1011.5" y="1614.8" font-size="24" font-style="italic">Ruminococcaceae UCG-003</text>
<line x1="1323.8" y1="1608" x2="1412.6" y2="1608" stroke="#4A94EE" stroke-width="2.2"/>
<circle cx="1368.2" cy="1608" r="4.8" fill="#4A94EE"/>
<text x="1475.5" y="1613.3" font-size="24" xml:space="preserve">-0.20 [-0.33, -0.07]  0.005 **</text>
<text x="1011.5" y="1746.4" font-size="24" font-style="italic">Ruminococcaceae UCG-002</text>
<line x1="1388" y1="1738.6" x2="1423" y2="1738.6" stroke="#4A94EE" stroke-width="2.2"/>
<circle cx="1405.8" cy="1738.6" r="4.8" fill="#4A94EE"/>
<text x="1475.5" y="1744.9" font-size="24" xml:space="preserve">-0.09 [-0.14, -0.04]  0.001 **</text>
<text x="1011.5" y="1791.3" font-size="24" font-style="italic">Ruminococcaceae UCG-003</text>
<line x1="1391.7" y1="1784.5" x2="1425.6" y2="1784.5" stroke="#4A94EE" stroke-width="2.2"/>
<circle cx="1408.4" cy="1784.5" r="4.8" fill="#4A94EE"/>
<text x="1475.5" y="1789.8" font-size="24" xml:space="preserve">-0.08 [-0.13, -0.03]  0.002 **</text>
<line x1="1437.6" y1="1540" x2="1437.6" y2="1830" stroke="#E82020" stroke-width="2" stroke-dasharray="5 4"/>
<path d="M1300.3 1836.8V1830H1505.5V1836.8M1369.2 1830V1836.8M1437.6 1830V1836.8" fill="none" stroke="#222" stroke-width="1.3"/>
<text x="1300.3" y="1861.3" font-size="24" text-anchor="middle">-0.4</text>
<text x="1369.2" y="1861.3" font-size="24" text-anchor="middle">-0.2</text>
<text x="1437.6" y="1861.3" font-size="24" text-anchor="middle">0.0</text>
<text x="1505.5" y="1861.3" font-size="24" text-anchor="middle">0.2</text>
<line x1="999" y1="1876" x2="1758.3" y2="1876" stroke="#000" stroke-width="3"/>
<text x="13" y="1944.5" font-size="36" font-weight="bold">e</text>
<line x1="76.5" y1="2444.4" x2="1059.5" y2="2444.4" stroke="#E6E6E6" stroke-width="1.1"/>
<line x1="76.5" y1="2380.7" x2="1059.5" y2="2380.7" stroke="#E6E6E6" stroke-width="1.1"/>
<line x1="76.5" y1="2316.9" x2="1059.5" y2="2316.9" stroke="#E6E6E6" stroke-width="1.1"/>
<line x1="76.5" y1="2253.2" x2="1059.5" y2="2253.2" stroke="#E6E6E6" stroke-width="1.1"/>
<line x1="76.5" y1="2189.4" x2="1059.5" y2="2189.4" stroke="#E6E6E6" stroke-width="1.1"/>
<line x1="76.5" y1="2125.7" x2="1059.5" y2="2125.7" stroke="#E6E6E6" stroke-width="1.1"/>
<line x1="76.5" y1="2061.9" x2="1059.5" y2="2061.9" stroke="#E6E6E6" stroke-width="1.1"/>
<line x1="76.5" y1="1998.2" x2="1059.5" y2="1998.2" stroke="#E6E6E6" stroke-width="1.1"/>
<line x1="134.1" y1="1940.5" x2="134.1" y2="2468" stroke="#E6E6E6" stroke-width="1.1"/>
<line x1="230.5" y1="1940.5" x2="230.5" y2="2468" stroke="#E6E6E6" stroke-width="1.1"/>
<line x1="326.9" y1="1940.5" x2="326.9" y2="2468" stroke="#E6E6E6" stroke-width="1.1"/>
<line x1="423.3" y1="1940.5" x2="423.3" y2="2468" stroke="#E6E6E6" stroke-width="1.1"/>
<line x1="519.7" y1="1940.5" x2="519.7" y2="2468" stroke="#E6E6E6" stroke-width="1.1"/>
<line x1="616" y1="1940.5" x2="616" y2="2468" stroke="#E6E6E6" stroke-width="1.1"/>
<line x1="712.4" y1="1940.5" x2="712.4" y2="2468" stroke="#E6E6E6" stroke-width="1.1"/>
<line x1="808.8" y1="1940.5" x2="808.8" y2="2468" stroke="#E6E6E6" stroke-width="1.1"/>
<line x1="905.2" y1="1940.5" x2="905.2" y2="2468" stroke="#E6E6E6" stroke-width="1.1"/>
<line x1="1001.6" y1="1940.5" x2="1001.6" y2="2468" stroke="#E6E6E6" stroke-width="1.1"/>
<rect x="76.5" y="1940.5" width="983" height="527.5" fill="none" stroke="#C8C8C8" stroke-width="1.3"/>
<text x="71.5" y="2454.4" font-size="25" text-anchor="end">0.0</text>
<line x1="72.5" y1="2444.4" x2="76.5" y2="2444.4" stroke="#999" stroke-width="1"/>
<text x="71.5" y="2326.9" font-size="25" text-anchor="end">2.5</text>
<line x1="72.5" y1="2316.9" x2="76.5" y2="2316.9" stroke="#999" stroke-width="1"/>
<text x="71.5" y="2199.4" font-size="25" text-anchor="end">5.0</text>
<line x1="72.5" y1="2189.4" x2="76.5" y2="2189.4" stroke="#999" stroke-width="1"/>
<text x="71.5" y="2071.9" font-size="25" text-anchor="end">7.5</text>
<line x1="72.5" y1="2061.9" x2="76.5" y2="2061.9" stroke="#999" stroke-width="1"/>
<text x="137.1" y="2494" font-size="26" text-anchor="middle">AMCA</text>
<line x1="134.1" y1="2468" x2="134.1" y2="2471.5" stroke="#999" stroke-width="1"/>
<text x="233.5" y="2494" font-size="26" text-anchor="middle">β-HDCA</text>
<line x1="230.5" y1="2468" x2="230.5" y2="2471.5" stroke="#999" stroke-width="1"/>
<text x="329.9" y="2494" font-size="26" text-anchor="middle">HCA</text>
<line x1="326.9" y1="2468" x2="326.9" y2="2471.5" stroke="#999" stroke-width="1"/>
<text x="426.3" y="2494" font-size="26" text-anchor="middle">HDCA</text>
<line x1="423.3" y1="2468" x2="423.3" y2="2471.5" stroke="#999" stroke-width="1"/>
<text x="522.7" y="2494" font-size="26" text-anchor="middle">IsoLCA</text>
<line x1="519.7" y1="2468" x2="519.7" y2="2471.5" stroke="#999" stroke-width="1"/>
<text x="619" y="2494" font-size="26" text-anchor="middle">LCA</text>
<line x1="616" y1="2468" x2="616" y2="2471.5" stroke="#999" stroke-width="1"/>
<text x="715.4" y="2494" font-size="26" text-anchor="middle">MCA</text>
<line x1="712.4" y1="2468" x2="712.4" y2="2471.5" stroke="#999" stroke-width="1"/>
<text x="811.8" y="2494" font-size="26" text-anchor="middle">NorCA</text>
<line x1="808.8" y1="2468" x2="808.8" y2="2471.5" stroke="#999" stroke-width="1"/>
<text x="908.2" y="2494" font-size="26" text-anchor="middle">NorDCA</text>
<line x1="905.2" y1="2468" x2="905.2" y2="2471.5" stroke="#999" stroke-width="1"/>
<text x="1004.6" y="2494" font-size="26" text-anchor="middle">UDCA</text>
<line x1="1001.6" y1="2468" x2="1001.6" y2="2471.5" stroke="#999" stroke-width="1"/>
<text x="28.5" y="2195.3" font-size="26.7" text-anchor="middle" transform="rotate(-90 28.5 2195.3)">Fecal bile acids (μmol/L)</text>
<line x1="115.1" y1="2435.2" x2="115.1" y2="2421.5" stroke="#8A8A8A" stroke-width="1.1"/>
<rect x="97.1" y="2435.2" width="36" height="9.2" fill="#FF80FF" stroke="#6A6A6A" stroke-width="0.9"/>
<line x1="97.1" y1="2441.3" x2="133.1" y2="2441.3" stroke="#333" stroke-width="1.6"/>
<line x1="153.7" y1="2434.2" x2="153.7" y2="2420" stroke="#8A8A8A" stroke-width="1.1"/>
<rect x="135.7" y="2434.2" width="36" height="10.2" fill="#00D06A" stroke="#6A6A6A" stroke-width="0.9"/>
<line x1="135.7" y1="2440.8" x2="171.7" y2="2440.8" stroke="#333" stroke-width="1.6"/>
<line x1="211.5" y1="2398.5" x2="211.5" y2="2333.2" stroke="#8A8A8A" stroke-width="1.1"/>
<rect x="193.5" y="2398.5" width="36" height="44.4" fill="#FF80FF" stroke="#6A6A6A" stroke-width="0.9"/>
<line x1="193.5" y1="2435.2" x2="229.5" y2="2435.2" stroke="#333" stroke-width="1.6"/>
<line x1="250.1" y1="2380.1" x2="250.1" y2="2286.9" stroke="#8A8A8A" stroke-width="1.1"/>
<rect x="232.1" y="2380.1" width="36" height="62.2" fill="#00D06A" stroke="#6A6A6A" stroke-width="0.9"/>
<line x1="232.1" y1="2431.7" x2="268.1" y2="2431.7" stroke="#333" stroke-width="1.6"/>
<line x1="307.9" y1="2442.4" x2="307.9" y2="2439.4" stroke="#8A8A8A" stroke-width="1.1"/>
<rect x="289.9" y="2442.4" width="36" height="2" fill="#FF80FF" stroke="#6A6A6A" stroke-width="0.9"/>
<line x1="289.9" y1="2443.9" x2="325.9" y2="2443.9" stroke="#333" stroke-width="1.6"/>
<line x1="346.5" y1="2442.4" x2="346.5" y2="2440.2" stroke="#8A8A8A" stroke-width="1.1"/>
<rect x="328.5" y="2442.4" width="36" height="2" fill="#00D06A" stroke="#6A6A6A" stroke-width="0.9"/>
<line x1="328.5" y1="2443.9" x2="364.5" y2="2443.9" stroke="#333" stroke-width="1.6"/>
<line x1="404.3" y1="2393.9" x2="404.3" y2="2332.6" stroke="#8A8A8A" stroke-width="1.1"/>
<rect x="386.3" y="2393.9" width="36" height="41.3" fill="#FF80FF" stroke="#6A6A6A" stroke-width="0.9"/>
<line x1="386.3" y1="2418.4" x2="422.3" y2="2418.4" stroke="#333" stroke-width="1.6"/>
<line x1="442.9" y1="2402.6" x2="442.9" y2="2349.7" stroke="#8A8A8A" stroke-width="1.1"/>
<rect x="424.9" y="2402.6" width="36" height="35.7" fill="#00D06A" stroke="#6A6A6A" stroke-width="0.9"/>
<line x1="424.9" y1="2424.5" x2="460.9" y2="2424.5" stroke="#333" stroke-width="1.6"/>
<line x1="500.7" y1="2427.1" x2="500.7" y2="2405.2" stroke="#8A8A8A" stroke-width="1.1"/>
<rect x="482.7" y="2427.1" width="36" height="14.8" fill="#FF80FF" stroke="#6A6A6A" stroke-width="0.9"/>
<line x1="482.7" y1="2433.7" x2="518.7" y2="2433.7" stroke="#333" stroke-width="1.6"/>
<line x1="539.3" y1="2430.1" x2="539.3" y2="2417.7" stroke="#8A8A8A" stroke-width="1.1"/>
<rect x="521.3" y="2430.1" width="36" height="13.8" fill="#00D06A" stroke="#6A6A6A" stroke-width="0.9"/>
<line x1="521.3" y1="2435.2" x2="557.3" y2="2435.2" stroke="#333" stroke-width="1.6"/>
<line x1="597" y1="2233.8" x2="597" y2="2024.2" stroke="#8A8A8A" stroke-width="1.1"/>
<rect x="579" y="2233.8" width="36" height="157.6" fill="#FF80FF" stroke="#6A6A6A" stroke-width="0.9"/>
<line x1="579" y1="2303.1" x2="615" y2="2303.1" stroke="#333" stroke-width="1.6"/>
<line x1="635.6" y1="2265.9" x2="635.6" y2="2117.1" stroke="#8A8A8A" stroke-width="1.1"/>
<rect x="617.6" y="2265.9" width="36" height="159.6" fill="#00D06A" stroke="#6A6A6A" stroke-width="0.9"/>
<line x1="617.6" y1="2324" x2="653.6" y2="2324" stroke="#333" stroke-width="1.6"/>
<line x1="693.4" y1="2436.8" x2="693.4" y2="2425.4" stroke="#8A8A8A" stroke-width="1.1"/>
<rect x="675.4" y="2436.8" width="36" height="7.7" fill="#FF80FF" stroke="#6A6A6A" stroke-width="0.9"/>
<line x1="675.4" y1="2442.9" x2="711.4" y2="2442.9" stroke="#333" stroke-width="1.6"/>
<line x1="732" y1="2435.2" x2="732" y2="2422.1" stroke="#8A8A8A" stroke-width="1.1"/>
<rect x="714" y="2435.2" width="36" height="9.2" fill="#00D06A" stroke="#6A6A6A" stroke-width="0.9"/>
<line x1="714" y1="2441.8" x2="750" y2="2441.8" stroke="#333" stroke-width="1.6"/>
<line x1="789.8" y1="2443.4" x2="789.8" y2="2442" stroke="#8A8A8A" stroke-width="1.1"/>
<rect x="771.8" y="2443.4" width="36" height="1.2" fill="#FF80FF" stroke="#6A6A6A" stroke-width="0.9"/>
<line x1="771.8" y1="2444.1" x2="807.8" y2="2444.1" stroke="#333" stroke-width="1.6"/>
<line x1="828.4" y1="2443.4" x2="828.4" y2="2442.2" stroke="#8A8A8A" stroke-width="1.1"/>
<rect x="810.4" y="2443.4" width="36" height="1.2" fill="#00D06A" stroke="#6A6A6A" stroke-width="0.9"/>
<line x1="810.4" y1="2444.1" x2="846.4" y2="2444.1" stroke="#333" stroke-width="1.6"/>
<line x1="886.2" y1="2443.9" x2="886.2" y2="2443.2" stroke="#8A8A8A" stroke-width="1.1"/>
<rect x="868.2" y="2443.9" width="36" height="1.2" fill="#FF80FF" stroke="#6A6A6A" stroke-width="0.9"/>
<line x1="868.2" y1="2444.4" x2="904.2" y2="2444.4" stroke="#333" stroke-width="1.6"/>
<line x1="924.8" y1="2443.9" x2="924.8" y2="2443.1" stroke="#8A8A8A" stroke-width="1.1"/>
<rect x="906.8" y="2443.9" width="36" height="1.2" fill="#00D06A" stroke="#6A6A6A" stroke-width="0.9"/>
<line x1="906.8" y1="2444.4" x2="942.8" y2="2444.4" stroke="#333" stroke-width="1.6"/>
<line x1="982.6" y1="2440.3" x2="982.6" y2="2434.2" stroke="#8A8A8A" stroke-width="1.1"/>
<rect x="964.6" y="2440.3" width="36" height="4.1" fill="#FF80FF" stroke="#6A6A6A" stroke-width="0.9"/>
<line x1="964.6" y1="2443.4" x2="1000.6" y2="2443.4" stroke="#333" stroke-width="1.6"/>
<line x1="1021.2" y1="2441.8" x2="1021.2" y2="2438.8" stroke="#8A8A8A" stroke-width="1.1"/>
<rect x="1003.2" y="2441.8" width="36" height="2.6" fill="#00D06A" stroke="#6A6A6A" stroke-width="0.9"/>
<line x1="1003.2" y1="2443.4" x2="1039.2" y2="2443.4" stroke="#333" stroke-width="1.6"/>
<defs><marker id="mk1" markerUnits="userSpaceOnUse" markerWidth="7.7" markerHeight="7.7" refX="3.85" refY="3.85" overflow="visible"><circle cx="3.85" cy="3.85" r="1.95" fill="#D873D8" stroke="#1A1A1A" stroke-width="0.9"/></marker></defs>
<path d="M107.7 2444.4 122.8 2442.8 108.6 2424.7 118.1 2425.9 114.5 2441.9 110.6 2444.4 112.2 2443.4 103.9 2434.8 107.2 2430.3 104.5 2433.5 121.0 2443.0 106.3 2440.1 107.6 2424.4 122.3 2435.9 113.7 2441.3 108.1 2438.9 116.3 2428.7 110.8 2437.4 112.5 2399.0 119.3 2444.4 115.4 2444.4 107.4 2435.7 123.4 2429.9 122.9 2444.4 126.4 2407.6 108.3 2444.4 126.2 2443.4 121.2 2440.9 122.0 2444.4 123.2 2444.4 126.3 2444.1 123.5 2412.1 112.3 2437.8 111.5 2442.9 127.0 2436.2 122.4 2435.3 109.8 2444.4 123.9 2441.3 117.8 2435.8 114.2 2444.4 126.7 2444.4 121.7 2440.6 126.8 2444.4 113.3 2437.8 104.4 2443.5 110.4 2391.8 123.0 2441.3 121.3 2441.7 105.1 2444.4 111.6 2442.5 126.4 2439.4 111.7 2444.4 106.1 2430.2 117.3 2432.8 106.6 2439.4 126.3 2415.7 122.5 2431.1 108.3 2444.4 122.2 2444.4 121.4 2416.9 126.5 2436.3 109.2 2422.3 106.5 2444.4 110.1 2429.4 119.7 2418.2 104.9 2441.5 126.7 2440.2 105.5 2435.8 120.0 2444.4 119.8 2401.1 106.5 2436.7 115.3 2444.4 106.5 2444.4 120.8 2443.7 111.3 2419.9 103.7 2423.8 107.9 2444.4 108.5 2441.9 118.7 2443.5 106.7 2442.6 122.3 2442.2 103.1 2435.7 115.6 2430.6 121.4 2442.6 114.0 2444.4 109.3 2423.8 105.9 2436.2 124.0 2435.2 126.5 2443.2 105.0 2443.1 113.1 2441.3 119.3 2444.4 113.4 2432.0 109.9 2431.1 106.4 2444.4 121.9 2444.4 122.5 2443.1 115.9 2398.9 117.2 2443.2 112.1 2434.2 125.3 2444.4 125.7 2436.4 118.3 2443.8 122.1 2430.2 119.2 2442.4 118.2 2444.4 115.5 2444.4 106.6 2440.1 118.9 2421.5 120.5 2444.4 109.3 2420.8 113.4 2433.8 103.3 2438.3 126.5 2444.4 115.0 2441.3 107.7 2443.8 113.9 2444.4 106.3 2443.0 118.9 2443.9 109.6 2444.4 122.9 2439.4 113.0 2404.4 119.7 2437.9 118.3 2444.4 122.7 2395.9 113.4 2441.4 107.8 2443.8 126.6 2444.4 109.5 2430.3 123.9 2440.1 107.6 2444.4 121.6 2444.4 115.7 2444.4 109.0 2441.7 121.8 2438.7 113.9 2441.2 114.8 2442.8 112.5 2442.3 110.2 2444.4 123.5 2444.4 122.7 2439.4 125.3 2422.5 106.4 2381.3 118.5 2440.1 107.2 2425.0 120.5 2444.4 111.0 2425.9 119.1 2440.6 107.1 2444.4 103.1 2444.4 119.5 2444.4 125.6 2444.0 107.5 2437.9 119.3 2439.6 118.5 2440.0 117.9 2444.4 113.9 2426.7 103.7 2438.6 107.4 2443.7 112.1 2410.6 106.7 2442.3 122.7 2444.1 106.1 2430.1 122.9 2444.4 109.0 2441.4 118.5 2444.3 116.2 2440.2 114.5 2444.4 120.1 2443.1 120.5 2442.9 124.6 2444.4 116.9 2444.4 108.9 2444.4 115.4 2443.8 117.0 2443.5 119.1 2441.2 104.1 2443.1 108.5 2412.9 120.7 2431.6 107.4 2440.2 113.4 2444.4 116.4 2441.8 119.0 2442.2 127.0 2436.0 104.0 2432.8 116.7 2423.7 110.4 2426.6 103.5 2440.2 111.8 2444.4 105.1 2416.1 115.0 2436.2 113.3 2425.5 113.2 2442.9 106.6 2424.3 120.4 2442.9 122.0 2434.6 119.7 2444.4 116.4 2444.4 114.8 2437.3 117.7 2444.4 109.6 2438.3 105.8 2442.6 110.6 2441.9 110.0 2444.4 119.9 2444.4 126.1 2434.0 118.9 2444.1 123.7 2444.4 116.6 2444.4 119.4 2444.4 122.0 2444.4 120.1 2438.6 105.1 2439.3 119.2 2441.9 109.1 2444.4 104.9 2443.7 110.1 2444.4 118.6 2413.6 112.5 2433.6 126.5 2442.7 115.7 2436.5 110.5 2434.5 104.7 2443.2 126.3 2442.1 117.1 2443.5 123.1 2441.7 119.5 2442.0 114.4 2438.1 105.8 2441.2 112.2 2438.2 109.9 2427.0 105.6 2444.4 116.9 2438.4 115.5 2444.4 110.4 2443.9 114.9 2442.4 120.6 2437.7 125.8 2444.4 108.5 2444.4 115.0 2444.4 118.3 2441.0 122.4 2442.1 116.4 2443.1 110.7 2417.6 108.3 2442.2 126.2 2439.1 116.1 2441.3 115.8 2418.8 115.9 2443.2 113.2 2411.3 110.0 2444.4 115.4 2444.4 119.0 2435.8 110.5 2440.8 122.2 2436.6 107.8 2442.9 116.6 2442.6 112.6 2442.3 105.5 2444.4 126.0 2438.0 126.5 2441.0 115.5 2444.4 113.2 2441.7 126.6 2390.0 109.5 2442.4 110.4 2425.3 111.0 2435.6 115.0 2441.4 110.9 2422.3 114.3 2444.4 124.6 2407.0 118.5 2431.8 118.9 2444.4 125.6 2435.4 117.7 2441.0 119.9 2412.5 107.9 2443.7 114.1 2443.2 109.9 2444.4 112.9 2443.7 122.2 2441.7 120.0 2411.5 112.1 2444.4 124.3 2438.5 105.1 2439.3 111.3 2444.4 107.9 2441.6 117.8 2431.8 106.9 2436.9 114.9 2444.4 106.2 2444.4 120.8 2440.2 126.2 2443.8 103.6 2436.9 126.3 2436.3 124.7 2416.7 108.5 2443.7 123.9 2443.3 115.6 2444.1 115.5 2444.4 111.9 2444.1 103.8 2439.8 111.0 2437.6 113.3 2444.4 119.6 2438.7 106.5 2419.9 115.6 2443.5 118.8 2428.1 122.3 2444.4 108.9 2441.6 125.7 2434.2 119.6 2403.6 116.0 2444.4 118.1 2438.9 118.4 2444.4 121.0 2438.9 125.3 2416.6 125.1 2429.9 115.3 2438.9 115.1 2440.6 125.5 2440.2 127.0 2439.8 112.6 2413.8 105.1 2430.1 116.6 2444.0 125.0 2444.4 116.1 2434.3 124.9 2435.9 113.3 2437.3 104.8 2444.4 114.5 2444.4 118.8 2437.2 112.0 2437.2 117.0 2412.2 117.5 2443.9 112.7 2443.6 106.5 2444.4 117.3 2444.4 107.7 2444.4 125.9 2436.7 103.2 2429.6 110.0 2438.5 111.7 2434.6 127.1 2444.4 119.1 2443.4 107.8 2444.4 109.1 2444.4 116.4 2412.4 123.8 2429.7 104.9 2436.0 108.3 2442.5 112.3 2426.0 109.5 2437.5 121.7 2436.9 105.8 2431.3 108.5 2444.4 104.0 2435.5 120.6 2443.0 107.8 2443.2 123.5 2440.7 124.8 2444.4 110.9 2444.4 111.3 2431.8 116.4 2408.7 124.8 2439.0 110.4 2444.4 108.6 2430.4 125.2 2444.4 125.0 2441.6 119.4 2444.3 105.1 2444.2 104.5 2444.0 123.3 2415.4 109.7 2444.4 118.4 2411.3 118.1 2407.5 105.6 2437.2 109.5 2429.7 115.9 2442.2 122.9 2439.8 108.5 2376.5 122.1 2427.3 118.9 2423.9 106.1 2443.6 116.9 2392.2 108.0 2405.5 120.9 2425.6 103.5 2444.4 126.7 2434.4 113.1 2443.0 108.8 2444.4 114.1 2444.4 112.4 2442.3 118.8 2444.4 121.3 2444.4 121.7 2442.8 106.8 2444.4 115.5 2444.4 118.5 2435.7 125.2 2438.4 121.4 2444.4 119.5 2444.4 112.7 2438.9 110.0 2443.3 126.5 2432.7 107.4 2430.4 125.4 2444.2 111.1 2419.5 122.1 2438.9 115.9 2385.3 108.4 2433.8 126.3 2427.8 123.8 2443.3 120.9 2417.4 116.8 2443.4 114.3 2442.2 109.4 2444.4 115.4 2438.6 123.3 2443.6 108.9 2444.4 109.6 2441.5 115.5 2441.0 109.3 2438.4 103.2 2436.6 106.4 2406.8 104.4 2444.4 105.5 2444.4 103.7 2442.4 103.7 2439.8 110.3 2444.4 120.4 2444.4 125.1 2436.3 107.7 2444.4 110.6 2434.2 123.7 2433.2 107.5 2441.4 124.1 2442.5 115.5 2431.0 110.5 2439.6 120.3 2444.3 109.0 2427.9 110.0 2436.0 117.6 2436.1 118.9 2412.1 103.9 2444.4 110.7 2444.4 109.2 2444.4 116.1 2444.4 126.4 2438.1 107.4 2444.4 126.6 2443.4 118.0 2444.4 121.9 2424.8 109.2 2430.9 118.1 2434.6 117.5 2432.1 107.2 2438.8 105.1 2444.0 125.2 2444.4 120.1 2436.7 111.8 2427.9 108.9 2434.1 125.7 2442.1 105.2 2437.6 121.5 2418.2 114.3 2413.1 116.8 2442.1 106.4 2443.9 125.8 2444.4 108.7 2403.6 104.1 2444.4 108.1 2444.4 104.5 2444.4 120.6 2443.8 117.4 2444.4 118.6 2443.3 105.6 2439.3 107.1 2442.9 109.7 2444.4 109.8 2443.4 117.0 2442.6 117.2 2443.2 110.2 2444.4 110.5 2441.0 112.3 2440.3 109.5 2442.8 115.4 2440.4 120.2 2441.1 121.9 2417.4 107.3 2442.6 109.8 2434.3 126.7 2444.4 120.4 2444.4 112.5 2438.3 103.9 2425.0 114.8 2441.9 123.1 2444.4 127.0 2441.1 126.3 2422.7 125.2 2440.5 124.8 2444.4 108.7 2444.4 104.2 2444.4 122.7 2444.4 125.7 2436.2 108.9 2444.3 118.3 2444.4 106.3 2444.4 109.2 2437.5 119.9 2436.9 126.3 2444.4 112.6 2444.4 104.3 2440.7 123.3 2430.8 108.7 2426.5 112.9 2439.6 118.6 2442.8 117.8 2441.3 124.7 2443.9 105.6 2432.4 125.6 2444.4 105.7 2442.3 114.0 2442.6 113.9 2428.7 122.6 2444.4 108.4 2435.9 125.5 2435.5 117.7 2444.4 104.4 2435.9 116.6 2444.4 118.2 2444.4 119.0 2442.5 124.6 2440.3 103.1 2409.6 121.9 2444.3 125.4 2444.4 117.9 2425.8 105.2 2440.0 125.3 2444.4 123.9 2431.1 118.6 2441.5 114.3 2444.4 119.2 2443.5 122.8 2405.4 113.2 2428.0 107.6 2429.7 216.3 2256.3 206.9 2284.5 215.3 2443.8 217.8 2444.1 200.4 2411.3 202.9 2396.9 212.6 2428.0 212.6 2439.5 200.8 2441.9 219.9 2437.9 209.2 2405.7 210.8 2405.9 205.7 2432.7 215.9 2426.3 203.1 2356.9 222.9 2423.6 201.3 2374.3 205.1 2439.6 207.0 2444.1 216.4 2442.9 212.7 2397.2 201.4 2440.5 212.5 2443.7 218.7 2443.7 217.3 2429.1 223.1 2327.2 217.2 2437.7 214.2 2378.5 205.1 2443.6 221.2 2443.1 205.9 2438.0 210.7 2443.6 215.5 2401.4 212.8 2359.6 212.7 2443.1 202.7 2414.2 201.3 2444.3 214.8 2383.0 213.9 2419.5 219.6 2440.2 206.6 2439.6 216.8 2423.1 207.1 2382.4 218.5 2424.1 212.9 2389.6 217.4 2439.4 216.2 2425.1 218.7 2427.8 200.0 2443.4 219.7 2444.0 217.6 2443.8 205.3 2412.7 204.8 2342.9 201.3 2379.9 210.1 2278.3 200.2 2444.3 212.5 2442.1 223.4 2351.9 213.7 2409.0 201.6 2435.3 202.2 2360.4 222.1 2426.8 217.5 2387.9 207.4 2430.8 216.6 2442.0 203.7 2433.2 213.8 2411.5 202.6 2441.5 206.1 2443.5 213.5 2442.2 200.4 2387.4 222.4 2373.0 213.1 2442.9 210.6 2313.7 220.8 2412.5 216.8 2310.1 199.6 2278.0 202.2 2365.8 203.6 2441.5 207.4 2342.3 215.5 2443.6 219.2 2429.0 218.4 2433.8 209.7 2443.6 205.2 2417.5 220.1 2371.8 215.3 2400.1 217.7 2215.5 220.0 2427.6 222.3 2436.3 208.1 2429.6 215.7 2441.1 219.6 2357.7 210.2 2328.6 213.6 2333.2 200.8 2442.2 223.1 2427.4 211.1 2411.7 219.6 2385.8 208.7 2436.8 207.9 2443.7 205.2 2427.1 220.7 2416.6 211.1 2405.6 220.7 2444.1 214.0 2281.2 219.7 2443.8 206.8 2396.0 217.6 2367.3 214.9 2443.3 202.4 2443.1 208.3 2270.9 213.8 2441.8 204.3 2440.7 207.2 2435.3 204.1 2443.0 210.9 2308.1 207.5 2443.7 221.8 2442.6 209.4 2253.8 202.0 2439.0 219.9 2441.6 199.8 2443.8 218.1 2443.6 217.7 2372.8 220.1 2366.1 204.1 2443.7 211.7 2425.1 221.0 2443.9 200.3 2282.9 220.1 2436.9 220.8 2439.4 221.8 2444.1 200.9 2443.0 200.8 2331.8 219.3 2435.6 219.7 2330.7 211.3 2426.0 221.3 2421.8 209.5 2435.2 201.1 2433.8 217.1 2442.9 205.7 2438.8 202.6 2434.5 213.4 2439.3 223.1 2444.2 210.6 2417.8 211.5 2428.7 205.1 2443.2 210.2 2429.7 221.8 2409.6 218.7 2435.2 199.5 2441.4 221.5 2398.3 204.6 2442.4 205.0 2433.8 209.6 2440.0 205.0 2444.0 203.7 2403.9 202.3 2403.7 222.6 2441.0 222.1 2350.9 212.5 2441.1 222.9 2443.7 222.9 2337.5 201.9 2442.2 214.0 2347.0 216.8 2444.3 207.7 2440.0 212.9 2427.7 217.0 2401.1 202.5 2435.4 207.5 2441.4 201.2 2441.7 215.4 2351.8 214.6 2442.8 220.3 2441.3 216.7 2410.3 220.6 2438.0 218.1 2442.4 219.4 2427.6 215.4 2436.1 208.8 2443.5 206.9 2443.3 222.9 2443.5 210.6 2435.5 208.5 2444.1 209.2 2412.8 216.0 2435.7 219.6 2435.9 203.8 2444.2 223.0 2442.3 208.5 2433.1 208.3 2443.9 218.3 2391.0 217.7 2434.2 208.0 2408.5 202.3 2435.5 215.5 2414.5 222.6 2344.6 200.1 2397.3 213.4 2441.4 203.7 2444.3 206.0 2428.0 211.9 2413.4 222.4 2442.0 221.1 2389.5 215.6 2372.7 214.4 2438.9 223.4 2418.2 208.2 2437.1 214.9 2420.0 207.1 2309.9 203.5 2443.0 215.5 2443.4 223.3 2443.3 210.3 2436.2 210.1 2424.5 219.1 2435.6 206.1 2440.7 203.9 2442.4 220.1 2443.2 215.4 2385.1 199.9 2428.8 212.2 2439.6 210.2 2437.8 209.7 2437.5 211.3 2444.2 204.6 2440.1 220.4 2443.6 200.9 2282.0 206.5 2341.9 209.9 2441.2 213.7 2439.2 207.5 2424.3 209.9 2443.3 204.4 2429.5 208.3 2341.0 214.6 2302.0 204.6 2441.9 202.8 2443.3 200.1 2382.7 217.7 2387.5 212.9 2264.0 208.1 2346.6 206.7 2402.4 217.4 2399.4 213.2 2443.0 202.7 2422.5 202.7 2442.6 208.7 2248.4 221.9 2382.0 207.1 2408.0 214.0 2438.6 212.2 2443.8 219.3 2302.3 207.8 2442.4 200.5 2349.9 223.3 2406.2 215.1 2346.0 214.8 2423.4 223.4 2416.4 204.5 2443.6 207.9 2201.3 206.4 2284.3 209.0 2403.5 222.5 2426.2 220.3 2442.9 211.3 2377.2 212.1 2361.4 202.7 2440.6 206.4 2200.9 212.8 2379.9 213.4 2438.9 221.3 2443.2 218.5 2442.2 208.3 2261.0 204.1 2441.1 200.3 2443.9 204.6 2401.2 215.9 2440.3 217.4 2365.8 214.8 2420.5 219.5 2437.8 218.4 2439.2 208.8 2438.7 203.5 2436.7 205.4 2413.9 202.5 2436.7 201.8 2442.5 204.5 2444.3 209.0 2400.4 222.7 2440.0 217.5 2443.0 208.1 2443.3 215.8 2443.4 206.0 2405.5 203.8 2380.7 206.6 2436.2 205.0 2436.7 200.0 2388.5 218.0 2443.9 199.7 2392.0 210.3 2206.6 217.5 2443.5 205.6 2443.5 214.7 2435.3 207.1 2405.3 222.6 2443.6 210.8 2425.5 200.6 2443.9 212.6 2366.4 215.8 2362.4 203.5 2431.7 219.7 2360.3 219.3 2443.4 206.4 2362.7 212.9 2438.1 200.0 2405.3 200.0 2443.8 208.2 2444.2 215.8 2340.6 201.3 2443.4 215.5 2249.0 201.9 2441.4 210.2 2414.5 215.9 2440.1 220.1 2438.7 212.8 2439.0 208.8 2269.9 223.4 2437.9 202.1 2444.0 220.5 2443.5 220.5 2406.4 221.2 2440.4 217.6 2438.0 219.6 2443.2 210.7 2325.7 223.0 2408.3 203.8 2245.1 204.0 2423.3 207.0 2443.5 209.7 2441.8 207.6 2421.0 207.9 2430.0 212.4 2438.0 216.9 2441.7 218.4 2420.4 204.4 2443.2 210.3 2436.2 216.8 2440.1 222.5 2443.7 221.6 2441.7 219.3 2400.6 213.7 2443.8 216.5 2443.2 205.7 2443.3 202.2 2416.9 205.8 2413.5 220.8 2417.1 199.7 2440.3 223.2 2443.4 209.6 2409.1 212.0 2442.4 217.1 2442.6 211.2 2361.7 215.7 2443.4 219.4 2440.3 211.2 2416.4 205.1 2438.8 200.8 2224.9 221.0 2415.2 215.3 2388.5 221.2 2370.6 209.3 2442.9 222.8 2404.3 212.5 2437.2 210.0 2347.7 216.2 2438.4 218.9 2439.8 217.1 2397.6 217.8 2425.4 214.5 2405.2 208.2 2396.5 201.2 2435.8 200.2 2443.5 207.5 2433.2 222.1 2400.0 219.3 2419.9 216.5 2437.9 219.3 2344.7 219.0 2443.6 202.7 2417.9 205.0 2317.2 215.6 2392.7 204.9 2212.7 214.8 2443.8 217.7 2353.8 209.4 2309.0 220.9 2374.4 221.6 2443.3 211.5 2282.6 211.9 2437.0 211.6 2391.4 212.9 2309.2 223.1 2261.6 201.9 2437.9 205.0 2325.5 219.3 2438.6 217.4 2442.5 211.3 2427.9 203.8 2418.6 222.4 2425.2 219.3 2404.1 218.5 2441.5 214.7 2411.8 205.4 2324.8 206.7 2435.4 203.3 2424.6 205.3 2444.0 208.3 2443.6 203.7 2444.2 213.6 2428.7 203.4 2370.2 200.0 2441.3 210.1 2439.9 200.9 2387.3 208.7 2433.7 204.3 2341.8 216.7 2442.3 214.4 2444.3 219.8 2442.5 207.0 2442.9 219.6 2435.6 202.2 2439.2 211.7 2246.2 210.7 2404.9 210.2 2444.3 201.9 2434.1 203.4 2443.5 223.0 2440.1 205.5 2443.6 208.1 2380.2 201.5 2328.3 213.8 2439.5 208.1 2437.6 206.5 2438.4 214.7 2444.1 213.5 2334.1 215.3 2443.7 216.9 2390.0 220.2 2443.4 220.7 2443.2 208.9 2440.3 211.0 2382.9 215.4 2437.6 215.5 2443.8 211.7 2423.7 202.3 2409.3 202.6 2425.0 215.9 2282.3 213.5 2433.4 204.1 2184.4 203.2 2405.7 200.7 2443.1 208.5 2442.7 221.4 2401.9 210.7 2441.5 216.4 2444.0 203.5 2439.9 207.4 2436.8 208.4 2442.7 215.2 2376.3 222.3 2443.5 211.6 2443.9 217.3 2417.0 213.7 2395.6 218.2 2411.3 210.2 2443.7 215.5 2441.1 215.0 2410.2 213.7 2440.3 209.3 2443.7 222.1 2443.8 217.9 2444.3 214.9 2403.2 207.5 2443.0 210.4 2437.8 207.6 2443.4 203.5 2386.9 222.8 2373.9 199.5 2372.7 206.7 2444.0 221.3 2437.4 212.1 2411.7 218.4 2412.0 209.4 2432.9 199.6 2309.1 218.7 2442.9 202.0 2443.4 206.6 2444.3 205.2 2381.9 214.3 2369.2 223.2 2436.6 219.0 2421.4 222.3 2306.1 202.8 2442.9 201.9 2411.5 220.3 2359.5 219.1 2363.1 216.7 2369.2 220.9 2443.4 209.6 2371.3 214.3 2389.2 207.0 2444.2 204.1 2384.9 218.9 2443.3 200.1 2424.9 221.4 2444.4 223.0 2436.3 216.7 2443.8 219.3 2440.5 200.2 2443.1 200.9 2391.6 220.4 2442.7 214.0 2414.9 223.4 2414.5 202.0 2396.3 204.7 2407.9 199.6 2443.9 207.4 2394.6 207.7 2417.9 208.0 2427.1 213.4 2443.1 202.2 2438.3 213.7 2443.5 202.3 2439.3 222.8 2405.0 202.6 2428.4 221.1 2443.2 199.9 2440.6 208.0 2431.5 215.5 2415.2 218.3 2415.8 207.3 2379.5 216.3 2226.7 202.4 2423.6 212.1 2337.5 217.3 2443.8 201.1 2437.4 223.3 2443.6 221.7 2441.3 210.8 2436.8 215.7 2443.5 208.8 2444.1 214.2 2301.2 219.6 2403.9 199.6 2437.4 215.0 2438.6 217.5 2399.9 205.5 2443.4 205.9 2438.1 212.1 2442.2 201.5 2419.3 200.6 2437.9 207.2 2385.7 201.3 2442.3 219.2 2438.8 216.9 2372.2 219.9 2430.7 217.4 2444.1 202.8 2443.3 207.7 2425.5 206.0 2437.9 204.9 2347.0 223.3 2441.1 221.3 2444.3 213.7 2398.7 209.9 2295.5 203.8 2352.1 221.3 2440.4 222.1 2443.8 217.0 2386.8 223.1 2311.2 217.2 2436.4 211.1 2417.7 201.9 2432.2 210.0 2329.0 215.3 2443.4 200.0 2443.7 221.2 2443.2 217.7 2422.9 218.2 2401.9 199.8 2295.1 206.9 2402.0 203.9 2444.1 216.9 2331.2 217.1 2426.0 208.9 2443.4 217.7 2427.9 208.2 2381.1 204.1 2444.1 221.0 2444.3 218.6 2399.2 202.9 2442.3 205.6 2443.4 202.0 2441.3 218.9 2444.3 221.6 2412.2 200.2 2443.7 200.4 2397.6 214.1 2444.3 201.8 2437.2 217.7 2443.1 217.2 2416.2 209.5 2442.6 211.4 2419.9 204.9 2376.7 211.5 2442.9 223.4 2425.8 217.0 2362.7 210.9 2425.6 212.9 2352.1 209.6 2437.7 213.2 2329.9 210.9 2315.7 209.3 2444.4 216.8 2442.9 204.2 2436.1 220.7 2269.9 209.9 2435.4 209.3 2444.3 218.3 2352.7 208.6 2442.4 223.1 2439.9 199.9 2443.8 207.5 2423.7 199.8 2381.6 210.9 2393.0 211.8 2443.6 200.7 2163.5 221.3 2370.4 219.6 2443.0 219.2 2416.9 201.7 2442.6 204.3 2388.7 219.1 2444.2 204.4 2417.8 212.5 2439.5 205.1 2404.4 201.2 2220.4 218.8 2402.9 211.4 2399.4 214.0 2399.5 210.9 2415.2 214.5 2402.9 211.0 2444.2 211.6 2443.0 200.6 2336.8 222.0 2435.6 209.0 2437.2 201.9 2444.1 200.0 2442.9 220.1 2426.9 199.6 2436.9 207.4 2436.5 200.8 2221.9 213.6 2443.7 217.6 2405.9 212.3 2437.4 204.6 2443.3 219.6 2431.2 210.6 2438.1 203.0 2443.7 213.6 2360.9 216.6 2428.6 307.5 2444.4 308.9 2444.3 305.5 2442.8 303.7 2442.9 309.4 2444.4 319.3 2441.9 300.0 2443.1 297.5 2444.0 302.4 2442.7 297.0 2435.6 316.1 2443.4 318.0 2442.2 311.8 2444.1 297.8 2444.3 298.2 2440.5 302.0 2443.3 311.7 2444.4 311.6 2440.2 300.4 2441.1 314.3 2443.2 313.5 2442.8 301.3 2444.4 313.4 2444.4 313.0 2443.1 303.7 2442.8 311.3 2436.0 319.5 2444.4 317.6 2440.7 313.8 2444.1 314.3 2444.2 300.4 2444.2 319.1 2444.1 296.7 2444.3 317.5 2444.4 318.4 2440.4 310.8 2443.2 297.6 2444.4 316.7 2444.0 296.8 2444.1 296.0 2444.4 302.5 2444.1 298.2 2442.8 318.8 2444.4 311.1 2444.1 312.9 2443.4 309.6 2441.7 316.5 2443.8 311.1 2444.3 309.8 2443.1 307.6 2441.5 314.9 2444.0 311.4 2441.6 303.6 2439.1 315.6 2443.8 297.7 2444.4 299.1 2441.9 316.7 2440.5 298.9 2440.5 299.1 2442.6 315.6 2441.7 302.3 2443.9 318.0 2444.3 305.8 2443.9 308.3 2439.6 302.2 2444.2 316.5 2442.2 318.7 2444.1 305.8 2434.6 298.7 2441.9 298.4 2435.1 302.6 2444.4 318.6 2436.3 311.0 2443.5 319.3 2444.4 298.2 2444.4 304.0 2441.6 306.7 2442.6 316.5 2444.1 315.7 2444.3 303.6 2440.1 316.9 2440.3 298.4 2441.0 298.6 2444.4 299.6 2443.3 311.5 2444.4 302.8 2442.3 299.0 2437.1 315.5 2444.4 312.6 2443.1 313.8 2441.8 305.6 2442.1 312.9 2444.0 318.6 2444.4 303.8 2442.2 307.1 2444.2 312.7 2444.0 311.9 2436.8 304.5 2440.3 299.5 2442.8 314.8 2443.4 316.8 2444.4 313.6 2443.3 303.7 2444.4 305.3 2441.7 314.2 2444.2 301.5 2444.4 297.1 2444.4 315.9 2442.6 310.6 2443.8 298.3 2444.4 306.9 2444.2 314.9 2444.1 308.6 2442.3 299.1 2443.9 299.5 2444.4 308.3 2443.3 300.8 2439.2 302.8 2438.4 310.0 2444.0 305.7 2441.2 301.1 2442.5 296.1 2444.4 309.2 2443.0 317.0 2444.4 303.6 2442.1 299.9 2444.1 304.3 2444.4 299.3 2444.1 318.0 2441.9 309.3 2440.6 317.4 2440.4 308.5 2444.1 315.4 2444.2 301.4 2437.8 298.5 2444.1 316.9 2444.3 297.3 2444.4 302.0 2438.2 296.8 2443.7 318.7 2444.3 317.5 2444.4 296.0 2444.4 312.1 2442.4 303.4 2442.8 296.0 2440.2 307.9 2439.4 316.6 2444.4 297.3 2444.2 315.9 2443.0 299.6 2430.6 310.7 2442.2 308.2 2444.4 309.6 2442.5 313.2 2440.6 308.4 2438.8 308.6 2444.4 302.3 2441.0 308.1 2444.4 305.9 2442.0 314.7 2443.8 314.9 2444.4 299.3 2444.0 302.4 2443.9 317.7 2441.2 305.0 2440.6 298.8 2444.3 297.5 2443.6 309.1 2440.8 298.4 2444.4 296.4 2443.2 296.0 2440.4 312.7 2443.8 318.0 2440.5 297.2 2439.7 313.8 2442.1 298.3 2442.3 311.6 2442.1 317.1 2439.3 303.0 2444.4 312.8 2444.2 317.2 2438.7 316.2 2444.4 297.4 2442.7 302.3 2442.8 305.5 2442.8 301.4 2437.4 310.4 2444.4 313.3 2441.3 312.3 2443.6 296.5 2444.2 297.6 2444.4 297.2 2444.4 298.2 2444.3 315.0 2444.0 298.8 2444.0 316.8 2444.4 316.8 2440.8 298.2 2444.4 301.8 2440.5 306.6 2443.0 297.3 2440.5 305.0 2435.9 317.6 2444.1 302.3 2444.4 310.4 2442.6 303.2 2442.2 310.0 2444.0 310.8 2443.3 305.3 2441.7 312.7 2444.3 318.2 2444.4 316.4 2439.1 313.1 2444.4 307.7 2441.8 306.9 2444.4 304.2 2443.0 318.1 2436.4 319.6 2443.3 319.6 2444.4 317.6 2444.3 313.9 2437.2 299.7 2444.4 314.5 2443.1 299.1 2439.1 313.3 2440.0 299.3 2444.4 308.9 2444.3 304.0 2443.4 308.6 2444.1 305.6 2444.4 318.5 2444.4 308.8 2444.3 300.6 2443.9 316.8 2443.6 318.7 2444.3 309.4 2440.2 301.9 2442.8 314.1 2444.4 299.9 2442.4 306.0 2444.4 299.1 2444.4 307.7 2437.7 297.3 2444.4 299.6 2441.9 312.4 2443.3 308.6 2443.0 318.5 2443.9 313.0 2444.3 304.8 2444.4 310.3 2437.2 297.7 2443.3 316.2 2444.4 300.5 2443.4 318.2 2444.4 310.2 2444.3 300.4 2442.4 297.9 2442.6 303.7 2444.4 317.9 2444.4 305.0 2442.6 312.7 2443.7 319.0 2444.4 303.0 2444.4 317.6 2444.4 311.3 2444.4 318.0 2443.0 301.0 2442.7 299.9 2444.2 305.2 2440.9 314.1 2444.3 317.4 2440.2 308.0 2440.3 316.4 2444.3 318.7 2443.9 296.1 2442.7 313.0 2432.7 296.9 2444.2 312.9 2444.4 307.8 2439.9 310.0 2437.1 315.5 2444.0 314.9 2443.8 310.8 2444.4 314.7 2442.5 304.2 2444.4 313.5 2444.4 302.6 2443.7 302.7 2437.9 308.8 2444.4 314.9 2438.1 311.2 2444.2 301.9 2443.1 302.1 2441.9 313.5 2437.5 305.6 2439.2 300.9 2444.4 299.9 2440.1 297.5 2444.1 316.7 2444.4 299.8 2444.4 304.9 2444.3 297.3 2444.3 297.2 2443.6 309.9 2444.4 316.4 2444.2 319.6 2443.3 311.3 2438.6 309.6 2444.4 319.9 2444.4 304.9 2444.4 313.7 2444.4 314.7 2442.5 303.7 2444.3 319.3 2443.3 319.6 2444.3 300.0 2444.0 315.9 2442.2 297.4 2441.3 305.9 2437.1 298.2 2443.5 297.0 2443.4 305.6 2443.5 302.4 2443.2 299.1 2444.4 315.7 2444.4 302.1 2444.4 315.5 2433.1 306.6 2443.3 296.1 2443.2 314.2 2443.3 318.2 2444.4 311.5 2442.6 308.5 2437.8 301.1 2443.4 311.0 2442.8 318.8 2444.4 297.9 2444.2 314.9 2444.4 297.9 2442.1 314.6 2444.4 300.1 2444.4 303.9 2444.0 304.1 2440.5 297.8 2441.3 305.5 2443.9 310.7 2442.6 297.5 2436.9 317.2 2442.5 296.2 2443.7 306.0 2441.5 306.7 2444.1 304.9 2442.8 300.6 2440.3 299.4 2441.7 306.3 2444.4 315.7 2437.0 302.2 2443.1 314.0 2442.8 311.2 2444.0 306.6 2442.9 304.2 2440.1 296.7 2444.4 297.7 2442.9 312.5 2444.4 300.9 2442.7 297.8 2442.0 298.5 2439.8 298.2 2439.1 302.4 2443.9 304.9 2444.2 318.5 2444.4 315.5 2439.4 310.6 2431.9 297.1 2436.2 307.0 2444.4 298.4 2444.1 296.1 2443.2 302.6 2444.4 307.4 2443.1 306.5 2441.7 302.8 2444.0 313.8 2442.5 300.5 2441.8 297.2 2443.7 296.3 2441.4 298.4 2444.3 305.6 2444.4 312.6 2444.4 302.1 2444.0 317.1 2444.0 411.8 2378.1 403.9 2439.6 400.9 2431.7 409.3 2443.0 407.9 2436.4 409.3 2339.3 400.3 2284.1 395.4 2418.9 399.4 2408.6 412.3 2410.0 402.7 2442.7 403.1 2438.0 413.2 2442.7 416.0 2438.5 395.7 2365.7 416.2 2394.6 401.9 2435.9 410.6 2366.1 397.0 2442.4 411.5 2425.7 406.5 2414.3 393.4 2374.6 394.0 2420.5 398.8 2355.5 403.4 2332.6 399.6 2329.7 408.8 2429.8 397.5 2389.4 413.4 2396.1 409.0 2426.6 408.7 2437.6 415.1 2427.3 398.5 2399.5 396.7 2381.5 411.8 2402.3 411.9 2410.6 392.5 2423.6 397.4 2427.6 411.5 2433.2 396.9 2418.2 410.8 2298.2 411.1 2441.3 405.7 2400.2 410.0 2333.1 405.5 2440.4 396.6 2434.5 394.8 2437.1 411.1 2430.3 409.2 2406.1 405.3 2404.1 394.9 2431.6 404.6 2436.6 398.0 2443.8 408.9 2340.7 397.4 2438.2 396.9 2345.5 397.3 2428.8 401.8 2439.4 400.1 2414.4 408.2 2426.7 400.2 2364.5 401.8 2421.1 408.8 2442.8 400.7 2432.9 413.8 2404.6 396.5 2420.7 397.5 2330.2 415.6 2382.0 406.4 2370.8 403.2 2373.6 415.3 2419.8 398.8 2441.5 393.9 2369.2 403.9 2441.8 409.9 2435.5 399.6 2386.3 395.3 2313.1 409.2 2351.8 410.6 2418.9 397.9 2389.7 402.2 2436.5 398.3 2425.5 407.9 2430.1 416.1 2440.9 401.7 2234.7 397.7 2389.8 394.1 2388.6 396.6 2351.5 411.2 2400.2 409.5 2375.8 409.2 2423.7 397.4 2398.7 415.7 2366.3 407.7 2411.0 394.1 2408.2 406.4 2433.8 396.2 2319.7 402.9 2409.9 409.6 2394.4 404.1 2410.3 392.5 2435.6 415.2 2401.3 393.5 2359.4 415.3 2417.6 405.4 2439.7 410.6 2407.2 410.4 2435.3 398.4 2443.4 412.3 2280.6 406.0 2403.0 398.4 2196.8 397.9 2388.6 404.7 2408.9 413.4 2382.1 404.1 2441.0 401.9 2420.0 406.7 2397.2 415.0 2402.8 394.6 2388.4 407.1 2441.1 394.8 2397.3 394.0 2443.5 412.4 2409.2 393.7 2411.3 412.8 2406.8 398.6 2405.9 398.3 2441.7 415.8 2443.0 404.3 2438.8 406.8 2414.3 407.5 2413.8 405.7 2381.0 416.2 2359.1 409.9 2439.8 410.4 2427.2 408.1 2276.9 397.1 2407.8 415.5 2418.1 411.3 2409.5 393.2 2420.0 408.5 2281.5 416.2 2425.2 411.2 2328.2 403.6 2364.5 399.2 2439.6 404.0 2426.2 409.4 2440.6 395.2 2414.7 413.8 2363.3 414.1 2410.0 394.7 2422.7 395.1 2345.8 392.4 2404.2 396.3 2421.1 409.1 2361.2 409.8 2443.2 412.3 2423.9 408.1 2419.3 410.7 2386.9 396.5 2436.0 397.5 2410.4 400.7 2411.7 412.3 2439.2 401.1 2371.2 398.5 2302.3 411.2 2410.0 398.0 2431.1 408.0 2441.8 393.9 2379.2 407.1 2416.8 412.7 2395.8 408.7 2433.7 407.7 2440.9 406.7 2440.7 402.7 2397.8 402.7 2413.7 415.1 2390.9 406.0 2356.1 401.8 2438.8 409.5 2379.7 394.6 2436.8 407.3 2398.2 392.4 2429.0 412.6 2392.2 395.7 2370.1 414.0 2401.2 398.3 2396.7 410.2 2424.2 414.4 2443.5 393.8 2440.7 400.0 2431.2 406.4 2419.0 397.9 2418.5 408.1 2423.3 393.1 2439.3 404.7 2331.8 416.2 2404.8 406.4 2418.8 394.1 2438.0 399.6 2388.1 400.1 2373.8 404.3 2435.6 410.2 2441.0 404.2 2405.7 408.3 2440.4 407.8 2431.5 400.3 2389.9 405.7 2430.1 409.3 2401.6 392.8 2232.8 413.7 2410.8 394.8 2409.6 404.2 2435.0 398.4 2371.6 414.5 2367.1 413.5 2325.4 399.5 2420.9 414.4 2392.0 396.6 2406.9 415.1 2443.1 404.9 2409.2 397.2 2402.4 415.8 2401.4 401.1 2441.8 412.8 2423.0 416.2 2370.4 392.5 2436.3 406.4 2411.6 400.9 2438.4 415.0 2420.0 398.3 2408.0 412.0 2425.6 407.3 2439.4 406.3 2420.4 402.8 2428.7 407.3 2436.4 414.5 2379.5 413.9 2424.7 414.2 2416.5 396.0 2437.6 408.6 2437.3 402.0 2379.5 413.0 2419.2 394.6 2390.7 404.2 2328.6 400.4 2391.0 411.6 2410.7 406.5 2436.8 416.0 2433.3 392.7 2429.1 409.5 2434.5 413.0 2417.4 415.8 2418.4 401.4 2414.9 403.5 2404.6 412.0 2438.2 396.6 2405.3 398.2 2434.9 405.2 2323.5 414.8 2410.9 411.2 2392.3 405.4 2392.5 400.8 2440.0 398.2 2399.8 395.6 2440.9 413.6 2442.0 407.4 2365.1 402.7 2388.4 392.6 2401.1 407.3 2436.9 393.7 2441.6 397.3 2399.0 414.9 2409.6 393.8 2397.8 406.5 2396.3 407.3 2376.7 394.2 2439.5 402.3 2385.9 414.0 2418.3 394.3 2443.6 393.2 2438.3 403.1 2415.5 408.1 2408.8 399.4 2425.6 410.0 2392.0 408.3 2361.6 397.7 2327.8 412.6 2398.4 406.0 2444.3 407.8 2422.2 406.1 2441.1 397.3 2395.2 407.0 2432.4 396.1 2410.6 401.2 2436.8 395.0 2421.4 398.1 2368.9 408.8 2439.9 398.7 2423.1 410.8 2234.3 398.5 2415.0 405.0 2411.1 395.3 2280.2 392.3 2369.0 402.0 2430.3 393.9 2429.4 415.1 2299.0 408.2 2425.3 402.5 2398.1 407.5 2395.4 401.3 2432.0 400.7 2425.7 413.3 2352.9 407.4 2429.4 409.4 2372.8 398.1 2265.9 406.5 2281.8 416.0 2432.4 410.5 2433.5 412.5 2424.6 410.3 2443.9 413.8 2416.9 404.4 2439.1 413.9 2424.8 397.7 2436.8 410.7 2355.1 404.2 2420.5 414.2 2417.4 401.9 2360.9 404.8 2392.7 401.8 2400.3 401.7 2434.7 413.4 2381.0 405.7 2383.7 409.5 2444.3 413.4 2323.4 407.7 2421.9 408.5 2410.1 413.3 2379.6 399.6 2441.8 405.0 2438.3 407.7 2384.8 392.6 2417.6 409.6 2364.7 393.7 2441.0 398.7 2404.4 399.6 2444.3 401.3 2442.2 393.8 2372.2 415.0 2355.1 404.7 2404.4 392.7 2411.6 400.1 2261.2 405.6 2379.2 400.5 2413.7 394.5 2370.1 395.2 2416.8 401.2 2442.6 398.2 2354.9 394.6 2439.6 416.2 2416.6 408.0 2360.9 397.9 2392.8 401.5 2404.6 394.3 2429.2 408.4 2440.8 407.7 2397.3 399.1 2430.8 405.2 2412.4 403.7 2437.9 404.5 2374.5 395.4 2278.9 405.6 2436.0 394.8 2437.2 413.2 2424.1 399.0 2355.7 396.1 2436.2 399.7 2399.2 392.7 2440.2 416.0 2442.5 414.1 2380.1 398.4 2407.5 414.5 2432.0 403.0 2435.3 413.2 2392.2 402.2 2437.4 393.5 2413.0 405.4 2407.9 393.2 2437.6 404.6 2437.2 397.1 2411.1 404.9 2296.9 407.5 2430.6 404.0 2443.5 406.8 2424.9 411.0 2414.1 407.5 2396.8 395.1 2353.3 414.7 2439.5 394.9 2433.4 395.5 2416.6 392.8 2421.3 394.2 2423.8 415.8 2439.4 402.5 2431.0 411.1 2409.1 415.7 2404.4 412.8 2396.1 415.6 2402.2 394.6 2437.0 415.0 2310.0 412.7 2424.7 410.2 2434.2 408.1 2387.6 408.0 2397.6 395.1 2376.5 394.3 2310.0 399.5 2382.7 415.8 2436.0 408.6 2418.5 406.1 2417.2 412.9 2422.9 415.9 2400.9 396.9 2421.9 395.7 2436.1 399.9 2443.7 401.0 2424.5 412.4 2423.2 394.5 2430.5 400.6 2419.4 412.2 2443.8 394.3 2437.5 404.7 2437.2 415.7 2419.5 412.7 2419.8 395.1 2261.3 395.3 2438.9 401.2 2386.7 400.3 2443.1 396.1 2403.0 392.9 2344.4 404.7 2440.3 408.8 2423.2 396.9 2277.6 401.5 2353.4 404.1 2443.8 404.7 2420.6 410.8 2433.5 399.8 2384.4 398.1 2425.0 415.9 2405.9 398.9 2436.8 396.3 2204.1 411.1 2442.2 408.5 2436.4 408.9 2389.5 415.8 2428.4 395.1 2361.7 401.3 2415.4 393.1 2414.6 410.6 2441.7 413.6 2415.0 416.1 2441.7 415.1 2441.7 411.9 2397.2 396.0 2328.6 409.6 2283.7 395.4 2386.1 406.4 2368.4 402.2 2411.1 405.9 2438.8 399.5 2440.4 396.4 2416.4 395.9 2427.4 412.6 2434.3 404.9 2380.4 413.6 2296.6 394.2 2443.0 401.0 2363.3 404.9 2432.7 412.6 2428.5 398.8 2283.7 414.8 2420.8 416.1 2435.7 407.0 2410.9 409.0 2363.2 409.9 2385.5 401.0 2443.5 401.4 2341.9 399.5 2387.1 402.1 2405.8 393.2 2369.5 404.6 2377.1 405.7 2407.5 401.0 2429.3 406.8 2406.1 406.2 2419.7 398.7 2358.6 394.9 2439.9 410.5 2295.1 400.0 2411.9 402.0 2436.9 396.9 2436.6 395.8 2440.3 407.7 2421.3 413.7 2413.0 407.4 2409.1 394.8 2410.5 393.2 2373.1 409.0 2391.8 397.2 2358.3 404.8 2328.3 415.4 2440.2 412.5 2431.7 412.5 2404.9 392.6 2434.6 401.0 2398.8 416.2 2424.5 392.8 2285.5 412.5 2396.6 405.1 2403.3 404.2 2411.1 392.6 2420.8 396.7 2439.4 392.7 2362.0 402.8 2390.4 407.5 2433.3 394.2 2377.8 396.0 2394.9 409.3 2414.7 398.1 2385.9 403.8 2373.4 414.9 2444.2 411.2 2433.5 403.2 2422.9 401.0 2209.5 403.1 2439.1 400.2 2401.8 404.2 2442.1 407.2 2412.3 392.8 2352.1 397.7 2419.3 404.3 2439.4 397.4 2342.9 407.1 2427.6 394.9 2336.8 414.2 2403.2 411.3 2395.2 404.1 2420.8 401.9 2400.3 398.9 2395.2 395.1 2430.4 403.7 2365.3 395.2 2411.9 414.0 2440.4 415.3 2355.5 392.9 2436.7 415.5 2339.0 398.7 2419.9 412.2 2442.8 415.0 2406.3 414.3 2409.3 401.5 2385.3 405.6 2413.4 414.0 2412.5 399.1 2424.6 398.8 2356.4 400.4 2430.3 394.2 2430.1 415.6 2397.3 399.4 2435.9 396.3 2398.8 415.4 2400.4 393.8 2425.3 414.5 2434.3 396.6 2435.7 407.6 2358.7 395.8 2408.4 415.2 2397.5 403.0 2439.0 395.6 2412.8 400.7 2374.7 402.7 2400.6 393.2 2411.7 407.5 2433.7 402.9 2405.3 408.3 2435.9 409.4 2440.2 396.9 2333.7 404.6 2418.8 400.6 2409.1 414.9 2437.3 415.7 2427.3 401.5 2396.9 411.2 2430.7 400.8 2422.2 394.1 2390.4 401.2 2399.1 412.1 2406.0 401.6 2438.4 403.4 2440.5 403.7 2392.7 414.8 2443.8 401.7 2400.1 412.2 2382.1 401.4 2362.4 402.3 2344.9 400.9 2397.9 403.1 2387.6 415.1 2440.5 403.8 2434.5 402.1 2436.7 397.5 2385.5 404.0 2443.2 411.5 2442.0 403.5 2382.3 397.8 2421.5 407.7 2437.0 405.7 2409.4 393.2 2415.9 399.8 2357.3 402.5 2434.0 405.5 2410.6 399.2 2430.0 415.8 2442.5 397.0 2409.5 400.5 2391.7 413.8 2437.8 397.7 2362.5 410.6 2403.5 408.6 2425.4 400.4 2304.4 393.5 2429.3 394.2 2423.9 401.2 2432.4 400.1 2372.6 399.6 2400.2 396.7 2411.5 410.6 2420.7 402.4 2421.9 414.1 2426.1 412.2 2434.9 411.0 2427.4 404.5 2350.0 406.2 2387.8 397.6 2398.4 406.4 2407.9 409.6 2401.2 394.7 2342.7 396.1 2402.7 399.1 2369.3 392.4 2434.3 411.8 2441.4 393.9 2421.7 413.0 2393.5 415.8 2438.1 401.1 2377.5 415.6 2435.5 401.0 2407.3 407.1 2346.0 397.1 2440.5 405.5 2439.1 412.7 2425.3 397.2 2394.7 393.0 2421.7 412.0 2418.7 401.2 2361.9 395.9 2420.0 410.1 2380.9 411.5 2427.1 402.7 2393.4 406.7 2398.0 410.0 2385.3 397.4 2425.3 402.8 2387.5 414.6 2435.0 495.7 2444.4 499.7 2438.1 494.8 2431.2 500.1 2428.2 497.7 2429.7 505.9 2418.0 501.6 2442.0 504.7 2412.9 489.0 2443.7 496.2 2433.6 497.3 2402.9 492.2 2435.5 496.2 2429.2 488.9 2429.7 495.2 2440.0 508.5 2414.4 494.9 2435.6 505.7 2425.8 489.9 2443.2 510.9 2400.8 499.7 2421.4 489.3 2442.6 493.5 2428.6 512.1 2441.0 502.6 2441.3 504.9 2435.1 500.1 2432.2 505.3 2430.8 494.9 2437.2 500.8 2434.1 491.3 2438.5 489.8 2441.5 503.6 2434.6 507.6 2433.3 491.8 2402.0 495.2 2438.0 496.5 2432.4 509.2 2433.9 492.0 2433.8 489.5 2428.5 495.8 2443.0 491.3 2421.2 503.3 2426.5 497.4 2413.8 502.2 2434.2 496.4 2427.2 492.7 2414.3 496.2 2440.3 502.5 2422.0 495.6 2433.3 505.0 2428.4 488.8 2427.6 492.0 2432.1 507.3 2424.5 504.2 2401.5 507.3 2444.1 506.3 2436.7 489.1 2437.4 511.8 2439.0 495.5 2440.0 500.1 2424.6 502.9 2444.0 492.9 2442.5 492.5 2429.4 500.4 2443.0 508.8 2431.7 500.8 2434.8 511.0 2428.9 505.1 2426.6 512.6 2443.7 500.7 2438.2 491.9 2420.1 500.6 2406.1 498.5 2444.0 510.5 2442.4 512.2 2431.4 506.5 2412.2 503.6 2439.4 510.5 2440.8 507.8 2405.2 505.6 2412.6 494.1 2430.7 512.2 2428.0 502.0 2436.4 499.4 2442.7 504.7 2420.2 510.9 2409.6 510.0 2444.1 509.8 2438.5 490.8 2429.1 503.0 2415.7 505.2 2438.0 494.0 2444.4 496.3 2416.0 502.4 2412.9 501.9 2437.4 508.1 2435.1 489.2 2442.2 512.5 2427.2 508.5 2408.6 490.9 2438.3 491.3 2435.7 511.4 2429.2 507.2 2422.8 507.4 2442.4 503.8 2439.3 500.1 2403.2 509.8 2410.5 504.2 2438.4 499.7 2440.6 489.1 2441.9 491.0 2417.4 497.1 2430.4 510.1 2420.9 508.0 2444.0 494.3 2431.1 498.9 2441.3 498.1 2437.5 495.7 2416.7 509.4 2435.7 499.7 2442.2 500.1 2441.6 509.6 2442.5 498.3 2444.0 502.4 2443.8 500.2 2429.7 490.6 2443.4 504.9 2423.3 490.7 2438.6 506.4 2437.7 511.4 2442.4 500.1 2443.4 504.0 2410.8 506.9 2427.3 506.5 2427.5 498.3 2425.9 504.0 2442.1 498.4 2441.5 493.2 2443.0 494.9 2442.7 509.1 2442.3 497.2 2422.6 492.7 2442.5 492.1 2429.9 506.9 2444.2 506.3 2433.0 511.2 2435.7 490.2 2417.8 506.1 2404.5 506.6 2442.5 493.4 2427.4 511.5 2443.6 504.5 2417.1 504.3 2399.8 495.1 2440.7 504.7 2418.0 512.4 2442.0 496.0 2423.4 498.1 2394.1 499.8 2428.3 508.1 2439.7 498.0 2429.7 509.5 2439.1 490.3 2432.3 498.5 2438.7 494.9 2431.1 490.2 2384.2 497.0 2442.2 493.3 2432.5 495.6 2429.2 497.7 2443.4 493.0 2428.3 490.6 2433.7 512.0 2441.9 497.9 2425.2 489.1 2432.5 510.9 2429.9 491.0 2444.2 502.3 2442.8 491.2 2443.0 499.5 2414.4 504.7 2443.5 507.2 2410.7 508.2 2443.4 502.1 2442.1 503.5 2401.6 496.2 2444.3 498.9 2427.1 497.9 2428.6 488.7 2443.5 505.1 2423.3 489.8 2442.1 494.1 2443.2 493.0 2430.4 492.6 2395.9 501.0 2423.4 504.3 2443.0 504.1 2436.2 510.3 2430.9 492.8 2442.1 498.6 2423.2 511.7 2434.8 507.4 2444.0 510.2 2396.6 510.1 2443.0 491.0 2442.5 502.7 2423.0 498.8 2430.8 506.7 2443.1 502.1 2407.9 504.4 2444.2 494.3 2438.4 512.0 2433.3 509.3 2428.0 489.2 2403.2 512.0 2425.0 498.2 2427.8 501.8 2438.5 495.9 2441.0 497.9 2441.0 509.9 2444.4 497.0 2434.3 498.4 2429.6 509.1 2444.2 492.6 2437.1 491.4 2437.8 492.7 2443.9 495.5 2439.4 496.2 2431.4 497.2 2426.8 499.0 2439.6 508.3 2425.1 494.7 2425.5 510.7 2405.3 500.6 2442.9 495.5 2438.2 494.1 2407.3 501.0 2428.9 490.5 2429.6 489.4 2423.1 499.0 2413.0 494.4 2443.5 510.5 2433.6 498.3 2428.4 503.7 2429.8 495.3 2439.5 490.8 2430.8 489.4 2444.1 498.8 2435.7 509.8 2428.1 504.1 2438.9 499.7 2434.7 499.7 2441.9 512.1 2432.6 510.7 2407.5 499.4 2443.5 497.5 2436.3 490.5 2432.8 512.4 2417.4 489.7 2438.9 511.5 2441.6 512.5 2434.5 490.9 2434.0 492.6 2423.7 499.8 2409.6 494.9 2441.9 492.0 2423.9 491.3 2444.3 508.8 2436.6 494.1 2438.7 501.6 2438.6 491.9 2441.3 498.9 2433.9 509.6 2423.4 495.3 2433.4 502.3 2441.5 512.1 2426.3 497.4 2432.1 494.9 2425.9 502.7 2428.4 490.5 2427.3 510.7 2429.1 492.1 2435.5 499.5 2438.5 507.3 2434.3 501.4 2403.6 508.1 2436.1 495.9 2424.0 495.3 2444.2 490.0 2439.2 491.2 2443.0 506.7 2418.4 506.7 2435.8 495.5 2432.3 498.0 2437.0 494.0 2442.7 495.3 2435.7 505.7 2435.3 508.5 2429.5 500.4 2432.7 495.9 2416.8 490.1 2429.8 511.5 2423.0 499.3 2430.1 494.2 2442.1 501.5 2437.2 510.8 2441.7 488.9 2430.4 504.6 2434.7 495.8 2432.8 490.7 2438.1 496.4 2426.5 501.4 2443.1 489.3 2427.1 510.0 2440.7 504.7 2442.2 506.2 2443.4 495.4 2424.3 497.5 2438.3 494.8 2439.5 489.3 2435.1 510.8 2427.8 503.2 2430.0 500.7 2440.8 495.9 2424.3 509.9 2410.9 498.4 2442.0 493.6 2428.4 494.5 2428.4 497.6 2432.8 489.7 2442.9 503.9 2436.5 489.6 2423.0 510.0 2429.3 509.2 2443.9 490.9 2437.7 490.4 2431.0 492.3 2429.4 500.7 2443.9 512.6 2395.1 502.7 2438.3 497.0 2420.3 501.2 2433.2 502.1 2430.0 496.1 2433.2 488.9 2443.4 509.6 2441.9 498.7 2432.6 492.3 2444.0 507.8 2443.6 489.1 2423.1 502.5 2429.1 509.1 2443.1 493.4 2442.7 509.6 2442.8 490.4 2435.2 490.9 2419.5 497.9 2442.8 506.0 2440.5 495.9 2432.8 497.4 2442.8 493.7 2441.9 508.9 2433.7 510.3 2424.4 491.9 2421.1 496.9 2435.6 493.1 2444.4 501.6 2429.0 506.1 2442.2 506.2 2433.7 500.4 2427.6 510.7 2440.9 504.4 2428.6 496.4 2425.4 493.5 2444.4 490.7 2443.2 500.0 2441.5 511.4 2442.9 506.7 2439.2 496.8 2409.6 498.1 2407.0 510.2 2406.4 499.8 2435.9 508.5 2442.9 503.3 2388.7 489.4 2443.5 504.9 2426.2 494.2 2419.2 502.0 2441.0 502.2 2438.6 492.5 2433.7 502.8 2437.3 503.1 2431.3 510.9 2429.1 506.0 2410.2 510.0 2435.3 495.6 2407.5 492.4 2443.4 503.2 2429.1 511.2 2443.3 492.3 2388.4 496.2 2443.0 494.0 2431.7 491.8 2439.6 493.7 2438.9 495.6 2436.1 508.6 2443.0 506.7 2428.0 500.7 2413.1 512.4 2397.9 507.7 2428.1 496.5 2428.8 509.1 2430.6 500.7 2417.1 511.9 2430.2 489.3 2442.4 496.1 2433.6 511.2 2439.6 497.8 2437.6 492.5 2409.0 503.9 2433.7 502.6 2442.9 494.5 2422.4 495.4 2422.5 510.9 2436.1 500.5 2409.3 507.4 2443.9 495.8 2442.8 510.1 2423.6 507.9 2426.5 503.2 2431.4 507.3 2437.7 493.1 2433.2 503.0 2443.2 504.6 2441.7 498.2 2429.0 497.6 2444.2 511.7 2428.7 498.6 2422.2 505.1 2441.0 490.4 2430.7 504.1 2375.4 491.4 2386.7 491.0 2394.4 489.8 2424.6 489.3 2441.9 488.8 2440.3 508.2 2443.9 504.6 2444.3 489.2 2442.8 492.8 2439.2 510.2 2441.5 505.8 2437.0 502.2 2423.6 501.0 2437.9 498.3 2443.6 498.0 2435.9 495.1 2442.1 493.4 2430.2 511.6 2437.5 493.2 2425.8 511.9 2439.8 500.0 2441.6 510.9 2412.7 494.0 2396.4 511.6 2442.6 501.9 2419.7 511.5 2432.0 507.7 2419.8 491.1 2428.1 501.4 2442.1 491.8 2428.2 494.5 2439.4 489.1 2439.9 499.1 2431.7 500.5 2440.4 501.2 2441.5 501.7 2443.8 492.2 2430.4 497.4 2427.3 503.3 2428.9 491.8 2441.0 491.6 2417.0 508.2 2442.3 511.6 2441.7 510.9 2435.5 493.2 2437.4 501.9 2421.2 510.7 2421.1 507.4 2411.5 500.2 2424.0 500.8 2436.2 508.7 2437.1 492.5 2432.8 494.0 2441.3 500.8 2427.8 491.3 2432.8 509.1 2437.8 500.0 2436.0 511.8 2401.6 492.2 2441.5 510.8 2442.3 504.9 2434.1 499.5 2441.9 499.2 2443.7 491.9 2442.9 512.4 2430.7 510.6 2440.7 504.2 2431.2 503.8 2430.3 492.0 2435.7 498.3 2441.8 492.4 2426.7 510.9 2441.0 492.2 2443.4 509.5 2430.5 507.0 2440.1 498.5 2434.3 504.6 2440.7 490.8 2435.4 490.2 2426.7 488.9 2427.0 499.7 2440.3 502.4 2406.5 512.4 2419.7 491.4 2429.0 503.3 2410.8 511.6 2434.8 491.0 2444.3 505.8 2443.9 510.0 2440.4 507.4 2442.9 502.1 2430.5 498.3 2424.5 499.8 2439.4 500.2 2434.7 489.5 2442.1 505.1 2444.1 509.3 2428.4 507.6 2443.4 491.6 2438.3 494.4 2432.5 493.4 2442.6 503.8 2429.6 491.5 2438.6 509.9 2439.6 589.4 2260.0 605.6 2291.5 604.1 2346.5 605.9 2276.6 592.6 2203.4 608.2 2198.1 585.8 2390.4 598.6 2359.3 600.0 2155.0 601.0 2334.5 603.2 2408.5 587.0 2238.6 597.3 2236.6 593.1 2223.0 587.6 2226.2 594.7 2046.3 608.3 2404.5 605.8 2266.0 604.4 2418.6 595.5 2423.0 604.5 2262.4 586.5 2396.9 600.5 2414.8 592.7 2400.2 595.2 2028.3 600.2 2291.9 590.0 2196.6 598.0 2401.1 602.1 2346.6 592.8 2191.0 595.2 2417.7 585.5 2222.6 605.2 2387.3 598.3 2268.7 597.6 2392.4 589.9 2099.9 585.3 2248.4 606.3 2253.7 596.7 2418.4 599.0 2401.1 586.2 2296.2 586.5 2164.2 608.2 2378.1 608.0 2199.5 603.8 2310.5 587.6 2381.4 606.2 2284.5 591.1 2421.2 603.4 2433.1 598.4 2415.4 595.2 2429.0 601.1 2258.3 590.2 2258.6 591.7 2436.8 586.6 2336.1 594.5 2314.6 600.8 2390.2 596.8 2140.5 604.9 2314.9 599.9 2204.2 600.8 2207.1 600.7 2325.0 608.7 2249.0 588.3 2394.6 597.0 2379.4 607.4 2320.9 606.6 2308.9 585.6 2235.5 588.6 2243.7 589.2 2227.8 588.3 2130.2 609.0 2161.5 587.0 2365.2 592.5 2436.1 594.5 2298.2 600.7 2427.4 608.8 2301.2 595.2 2418.4 592.1 2337.9 605.0 2216.0 593.9 2258.2 591.2 2394.0 596.2 2266.8 591.1 2202.8 604.2 2395.9 587.6 2438.0 602.0 2120.2 589.9 2320.6 606.9 2438.8 607.3 2359.3 604.9 2225.4 608.9 2252.6 591.2 2392.8 603.3 2148.7 600.7 2218.7 596.1 2306.6 586.2 2339.5 603.4 2347.8 587.0 2225.4 608.1 2437.4 604.0 2380.5 605.5 2327.5 601.7 2401.7 589.8 2208.9 595.1 2083.3 600.4 2281.1 608.0 2303.0 593.1 2429.5 598.7 2383.1 607.9 2296.8 596.0 2420.1 591.5 2139.1 590.0 2338.6 588.9 2415.2 598.6 2158.5 594.4 2153.1 606.5 2441.4 585.2 2356.2 604.2 2068.8 595.5 2372.4 607.5 2427.5 597.0 2218.5 599.2 2315.3 590.0 2212.4 594.4 2289.6 587.3 2307.4 596.0 2192.9 596.1 2303.4 588.5 2204.2 607.7 2175.5 590.0 2345.8 585.6 2247.7 603.1 2425.0 603.9 2244.2 605.4 2130.0 603.8 2219.0 590.7 2362.8 586.9 2340.2 594.2 2406.4 596.6 2341.8 593.0 2308.5 591.7 2192.2 590.0 2111.9 605.0 2115.3 603.0 2432.3 608.0 2212.3 589.1 2198.5 608.1 2335.8 604.8 2181.6 586.4 2435.2 595.6 2197.2 608.1 2315.7 594.2 2413.9 585.8 2403.8 608.8 2275.4 592.2 2040.6 585.1 2180.6 600.2 2149.6 599.3 2219.3 594.0 2238.7 586.7 2330.7 585.6 2430.4 587.3 2222.4 594.8 2269.8 599.6 2440.2 596.3 2270.9 600.1 2266.3 597.6 2115.6 597.5 2322.8 593.3 2304.8 608.4 2342.2 593.0 2069.3 601.4 2408.5 593.5 2279.8 594.5 2223.8 597.9 2245.6 587.7 2413.7 588.3 2168.9 597.6 2275.0 608.8 2257.3 586.9 2220.1 586.0 2340.3 592.5 2140.3 594.9 2278.2 586.1 2296.8 597.4 2278.6 606.5 2349.6 600.4 2442.0 587.4 2380.8 590.3 2310.9 592.1 2337.2 603.1 2367.9 598.3 2376.2 594.6 2407.1 589.3 2273.8 601.6 2283.2 596.1 2329.2 607.0 2316.3 596.4 2364.1 602.3 2201.5 586.9 2340.5 601.2 2425.5 605.5 2423.3 585.1 2441.7 608.0 2294.5 594.9 2263.0 590.4 2264.7 601.1 2316.6 592.9 2350.4 604.8 2425.7 592.0 2397.8 593.0 2086.4 601.4 2198.3 602.1 2265.7 587.2 2258.7 594.5 2283.2 586.8 2187.4 602.3 2317.6 599.7 2106.9 605.5 2426.9 606.9 2104.0 608.7 2278.2 595.7 2300.2 601.7 2400.1 603.4 2202.4 607.2 2121.8 603.2 2259.5 595.8 2422.6 599.0 2302.7 605.9 2341.3 603.0 2444.2 597.8 2308.6 600.5 2370.5 597.1 2241.2 591.1 2373.0 589.3 2257.6 593.4 2357.7 594.7 2188.6 585.3 2153.5 593.3 2308.3 601.1 2251.6 599.6 2417.9 594.1 2378.6 600.4 2250.5 605.6 2302.1 585.5 2309.1 600.8 2391.1 607.2 2294.8 586.0 2152.1 589.1 2217.6 588.5 2389.1 591.2 2410.4 598.1 2281.5 601.1 2412.2 594.0 2250.1 589.6 2440.1 588.1 2436.5 591.0 2394.7 607.5 2291.1 593.1 2276.1 605.0 2285.7 594.4 2253.6 608.7 2345.1 592.8 2302.3 598.2 2443.3 594.9 2427.9 585.3 2373.0 607.9 2216.0 585.5 2380.6 585.6 2426.4 600.7 2332.9 585.9 2210.6 607.7 2137.7 593.1 2412.8 592.7 2241.6 591.7 2137.1 590.5 2433.9 592.7 2233.6 595.5 2204.6 592.9 2209.9 602.9 2396.5 600.1 2297.7 606.9 2252.4 587.3 2372.2 606.6 2406.9 602.9 2408.5 597.1 2366.5 590.2 2184.8 604.0 2201.9 593.4 2336.9 602.3 2153.2 597.2 2232.0 605.9 2277.4 603.0 2363.9 609.0 2151.4 596.6 2257.3 586.1 2325.7 606.3 2298.1 608.2 2413.8 587.5 2399.8 589.1 2417.1 601.3 2193.3 604.7 2266.0 608.6 2323.0 590.8 2288.6 604.3 2381.4 600.0 2412.4 602.8 2413.6 604.1 2395.6 606.8 2161.1 590.1 2222.6 586.9 2095.5 596.7 2248.2 604.0 2300.9 600.2 2285.6 593.0 2270.7 590.0 2188.1 594.7 2161.3 600.4 2217.0 597.2 2443.4 594.7 2294.1 587.9 2287.9 586.2 2264.3 591.9 2364.6 608.3 2443.2 608.4 2258.5 595.4 2226.9 597.8 2286.9 596.8 2283.2 603.3 2368.6 605.7 2357.3 600.3 2430.5 608.9 2383.0 607.6 2024.2 601.7 2295.0 593.9 2316.4 606.8 2381.6 591.1 2421.7 593.0 2437.5 597.4 2383.0 592.1 2347.3 595.1 2258.8 592.7 2339.0 602.3 2441.5 590.2 2406.7 591.0 2260.9 608.3 2272.8 602.8 2327.4 608.7 2412.1 593.8 2327.1 600.1 2431.3 607.4 2207.5 605.7 2226.2 601.6 2431.9 598.8 2256.0 585.5 2316.0 597.0 2165.3 593.4 2265.4 592.4 2224.1 607.0 2358.5 585.1 2187.2 595.1 2227.5 599.9 2382.6 601.1 2296.3 606.3 2346.5 593.6 2226.6 607.8 2144.2 605.4 2325.2 604.3 2309.3 595.5 2429.8 586.2 2403.8 608.7 2072.7 593.3 2186.1 587.3 2420.4 590.9 2395.1 603.8 2166.5 602.6 2245.3 597.2 2164.6 595.1 2216.7 597.1 2260.5 604.6 2391.5 608.8 2387.4 607.5 2428.0 587.0 2169.6 586.9 2267.4 608.3 2191.0 586.5 2402.0 608.8 2411.2 599.9 2436.1 589.3 2288.9 604.6 2321.1 590.1 2300.0 607.6 2179.6 604.2 2099.6 602.9 2364.9 590.6 2237.8 599.4 2326.1 589.6 2425.1 589.3 2303.4 606.6 2186.0 596.1 2392.9 600.1 2274.2 605.0 2034.6 595.4 2267.0 601.4 2222.8 600.9 2431.7 585.2 2308.1 599.8 2418.5 586.9 2283.7 592.6 2400.3 589.8 2269.2 593.8 2410.1 606.3 2291.4 590.3 2408.2 599.8 2178.2 588.5 2385.5 604.3 2349.4 598.3 2163.7 605.0 2318.3 608.1 2307.7 603.5 2312.3 597.1 2270.8 608.4 2123.3 591.2 2285.5 596.8 2276.4 589.2 2418.3 604.8 2301.0 604.9 2196.5 608.0 2286.7 603.1 2259.4 608.8 2379.2 593.0 2266.8 608.3 2367.3 589.0 2253.6 592.2 2317.6 597.7 2229.5 599.6 2351.2 600.9 2329.5 587.8 2418.8 604.6 2288.7 588.6 2237.6 594.0 2305.3 608.4 2401.1 586.4 2398.8 604.3 2357.5 597.1 2238.8 590.8 2214.1 591.4 2393.7 595.5 2360.4 595.2 2272.6 598.5 2237.9 598.6 2040.2 597.7 2428.1 602.9 2143.5 592.9 2089.1 591.0 2369.3 591.1 2434.1 605.0 2417.4 605.5 2387.3 596.4 2397.6 604.4 2302.4 590.5 2167.9 598.8 2226.3 590.0 2301.3 598.8 2427.0 608.3 2242.4 587.7 2409.2 603.9 2439.8 604.9 2372.5 590.8 2256.1 601.2 2214.9 589.1 2423.1 599.1 2388.1 597.0 2234.2 595.6 2418.1 585.8 2226.6 605.5 2164.8 588.9 2309.2 587.8 2442.7 596.3 2236.2 586.5 2371.1 596.7 2329.0 594.6 2193.7 604.9 2439.0 597.3 2203.1 594.8 2205.5 602.6 2376.2 586.9 2294.7 594.2 2249.4 608.4 2404.5 586.6 2393.1 589.1 2136.3 607.8 2436.7 588.8 2217.6 599.4 2356.6 608.1 2239.0 588.5 2436.6 592.2 2243.2 599.8 2289.0 593.8 2431.2 586.5 2363.3 603.1 2317.0 599.5 2250.7 589.6 2307.4 597.6 2411.4 592.0 2409.3 596.8 2104.5 608.1 2251.0 596.9 2285.3 602.6 2091.9 592.9 2197.7 591.0 2242.6 595.8 2180.2 597.7 2237.6 586.3 2434.8 597.0 2195.4 598.1 2215.1 596.2 2391.1 602.1 2408.8 601.5 2162.8 591.6 2144.2 590.0 2295.2 606.2 2425.8 587.5 2361.9 603.2 2247.0 598.6 2326.6 600.1 2368.3 597.1 2054.1 590.1 2230.7 589.3 2236.7 605.4 2235.6 608.3 2249.4 607.9 2033.3 592.6 2074.5 599.0 2389.5 587.1 2157.0 596.2 2439.5 587.4 2299.8 596.9 2403.3 586.9 2342.2 605.3 2288.1 591.3 2132.5 591.7 2278.0 605.0 2373.5 597.1 2289.7 603.9 2416.3 603.3 2404.5 587.8 2149.5 606.7 2134.3 598.7 2377.7 601.7 2344.4 590.0 2410.6 585.6 2204.3 591.1 2436.9 594.3 2250.5 595.1 2444.0 602.5 2325.9 603.2 2371.2 588.1 2434.4 604.5 2261.0 594.5 2289.3 602.9 2279.7 602.2 2086.2 605.9 2395.6 605.8 2421.4 595.3 2404.9 606.6 2429.9 602.2 2379.2 590.0 2341.9 593.2 2155.0 585.7 2427.1 608.9 2329.0 595.1 2377.1 592.5 2377.6 607.3 2263.0 599.3 2313.7 606.1 2370.1 604.8 2374.8 608.3 2206.6 600.4 2317.9 593.5 2355.4 598.4 2347.9 594.6 2428.8 598.9 2353.4 586.8 2329.8 589.1 2241.1 595.5 2283.9 595.4 2108.6 594.3 2363.1 604.2 2240.1 594.2 2159.3 597.6 2360.6 607.2 2430.0 592.1 2433.3 601.0 2162.1 595.3 2294.9 601.7 2441.6 602.6 2413.4 594.1 2307.7 604.2 2367.4 608.3 2311.6 599.6 2288.4 607.9 2423.8 594.4 2268.0 605.6 2309.1 597.2 2428.6 605.1 2208.2 600.3 2411.4 597.6 2423.5 603.0 2301.1 606.7 2439.1 604.4 2345.2 595.5 2242.6 592.7 2324.0 590.8 2136.6 603.8 2385.2 593.8 2444.2 589.2 2232.5 605.5 2384.1 596.7 2187.2 597.1 2440.4 597.8 2423.2 596.8 2316.4 597.8 2362.3 600.9 2222.4 598.5 2305.3 594.0 2401.4 590.3 2289.0 592.2 2084.1 598.6 2287.2 591.4 2262.6 592.8 2158.4 598.6 2139.5 588.3 2154.0 586.3 2318.3 608.1 2367.5 602.4 2071.9 607.7 2168.0 607.8 2439.7 599.2 2442.6 605.0 2392.2 587.4 2295.3 593.4 2281.5 594.9 2339.2 597.8 2133.8 593.1 2309.4 587.8 2087.9 598.2 2270.6 600.2 2371.6 599.8 2167.5 592.7 2250.1 603.9 2122.6 590.8 2279.2 605.8 2323.2 589.5 2388.3 586.3 2187.6 597.9 2267.6 595.1 2113.5 589.1 2388.5 596.2 2427.1 602.4 2434.3 605.4 2239.5 601.4 2226.9 592.2 2433.1 596.1 2246.2 591.5 2301.5 604.3 2343.6 606.0 2243.7 587.4 2422.5 604.1 2415.1 585.4 2215.8 586.4 2442.3 605.6 2284.9 585.2 2099.1 600.1 2406.2 603.4 2305.2 600.6 2339.0 600.5 2286.9 588.6 2274.6 594.3 2208.0 588.8 2247.3 595.3 2050.3 609.0 2352.3 604.7 2248.0 594.0 2383.0 587.1 2137.0 592.6 2210.7 606.5 2287.8 603.7 2220.3 598.9 2384.6 589.5 2417.3 588.4 2384.7 607.3 2405.3 586.7 2268.2 588.1 2248.6 608.2 2363.8 607.6 2301.6 589.0 2398.8 603.7 2274.3 591.8 2397.8 604.4 2362.4 595.2 2302.5 589.4 2435.0 592.2 2389.4 586.5 2274.6 592.5 2134.8 604.8 2383.3 595.8 2387.9 606.4 2376.5 596.1 2425.1 598.6 2193.1 597.6 2416.6 601.1 2440.4 608.6 2237.5 595.8 2423.5 606.3 2257.0 590.3 2092.5 587.0 2362.3 604.8 2412.7 605.4 2190.5 590.1 2444.0 598.2 2247.2 591.8 2444.3 602.4 2313.6 600.4 2403.8 599.5 2428.0 591.9 2349.2 607.1 2161.9 692.3 2441.7 693.7 2443.1 700.3 2440.0 687.6 2443.5 688.6 2442.5 688.5 2428.2 689.4 2412.2 704.4 2428.2 684.5 2412.3 704.4 2433.4 703.1 2443.2 687.1 2441.2 694.8 2435.5 699.5 2443.6 694.3 2444.4 690.4 2443.8 688.4 2443.6 692.7 2425.9 691.9 2442.0 685.5 2437.6 682.8 2444.2 704.6 2434.7 699.3 2442.9 688.6 2443.4 705.0 2439.9 704.3 2442.9 701.5 2444.0 700.2 2444.4 688.9 2431.2 687.8 2439.7 687.0 2440.1 688.3 2443.5 697.3 2420.8 682.3 2443.8 686.7 2442.0 699.8 2444.4 697.5 2443.4 691.6 2444.1 697.6 2432.0 689.0 2444.4 690.5 2444.2 689.9 2444.4 700.1 2444.4 683.4 2435.7 693.5 2442.0 693.3 2438.3 698.8 2443.3 702.6 2439.4 697.8 2444.4 685.4 2443.5 705.0 2444.4 698.2 2443.5 687.8 2438.2 696.8 2444.4 683.8 2440.9 689.5 2444.4 683.8 2444.0 705.4 2443.6 699.2 2444.4 693.6 2444.4 682.7 2444.0 699.7 2443.3 691.7 2444.4 695.3 2444.4 695.6 2443.1 684.9 2444.4 700.3 2444.4 704.7 2411.2 700.9 2437.3 686.0 2444.4 689.6 2444.4 704.8 2443.0 684.0 2443.2 698.4 2443.2 690.5 2444.4 692.6 2444.1 703.8 2444.4 703.6 2443.9 684.9 2433.6 683.8 2444.2 692.0 2443.9 683.1 2430.9 700.3 2405.2 687.9 2444.0 700.3 2444.4 689.3 2417.9 702.6 2439.6 688.6 2442.8 688.5 2439.1 694.1 2443.1 681.8 2438.9 688.6 2444.3 690.9 2426.0 691.7 2444.4 687.1 2444.4 702.4 2444.2 683.3 2442.8 694.0 2444.4 687.3 2444.4 695.7 2427.1 693.3 2444.1 700.9 2441.6 687.9 2443.3 693.6 2443.5 701.0 2444.4 703.3 2437.4 687.5 2442.3 683.3 2443.6 691.6 2431.3 699.6 2442.7 694.7 2442.9 683.3 2444.4 698.5 2443.6 681.5 2439.3 697.0 2444.4 699.3 2438.2 703.2 2429.3 688.1 2439.7 698.8 2442.4 687.1 2381.2 694.5 2436.8 700.8 2430.5 681.9 2444.4 698.1 2443.4 686.7 2444.4 695.4 2443.5 704.2 2444.4 692.5 2443.2 702.2 2437.7 697.0 2437.3 697.7 2437.7 683.1 2444.4 686.2 2429.5 701.7 2444.0 699.7 2429.4 698.5 2444.4 694.2 2444.4 685.7 2444.2 692.0 2444.4 694.0 2443.7 693.6 2419.6 700.9 2443.6 683.9 2444.4 689.1 2443.8 684.6 2443.6 689.0 2443.7 689.7 2439.4 698.2 2424.7 690.5 2432.3 701.6 2438.8 685.1 2443.0 681.7 2440.6 694.6 2444.4 699.7 2444.4 694.3 2385.7 705.0 2444.1 704.0 2440.1 704.7 2433.2 689.2 2444.4 701.6 2428.4 698.7 2413.0 692.9 2423.0 692.5 2444.4 702.9 2444.4 704.1 2429.7 698.0 2444.4 692.4 2444.4 683.7 2444.3 688.9 2433.4 702.0 2444.4 700.6 2440.2 688.8 2443.3 694.1 2443.7 691.0 2415.9 683.9 2444.1 689.9 2444.4 682.6 2444.1 685.3 2429.7 685.8 2444.4 689.0 2444.4 694.2 2442.6 699.5 2444.1 699.3 2444.0 690.1 2431.4 687.8 2426.0 690.0 2443.1 703.7 2443.7 701.6 2443.4 692.7 2444.4 685.1 2444.4 685.3 2438.5 703.6 2443.6 697.4 2441.3 682.9 2444.4 698.9 2435.0 697.9 2443.9 685.9 2442.1 693.7 2430.9 699.0 2436.0 692.0 2428.9 704.7 2440.2 700.7 2439.3 684.3 2444.3 694.8 2437.0 705.2 2441.7 688.7 2443.0 683.9 2425.8 695.7 2403.9 682.0 2443.6 697.1 2444.4 687.1 2410.1 696.1 2444.2 695.5 2442.9 695.3 2439.7 705.4 2444.4 697.5 2444.4 684.5 2444.4 689.6 2437.2 693.0 2414.0 703.2 2438.5 693.0 2438.8 686.6 2444.4 689.3 2444.4 701.5 2444.4 696.2 2443.7 693.5 2443.7 699.1 2444.4 700.8 2440.3 693.3 2440.7 702.3 2444.4 682.8 2430.4 684.2 2427.8 705.4 2444.2 684.1 2436.5 692.5 2444.0 687.7 2443.6 702.2 2444.4 701.9 2437.4 703.6 2444.0 689.4 2444.4 695.9 2443.8 692.0 2443.7 685.3 2439.3 704.3 2439.4 686.5 2444.4 690.2 2443.1 703.1 2435.6 704.2 2444.2 682.9 2444.4 702.5 2444.4 686.5 2439.9 703.8 2436.1 684.5 2401.9 701.3 2437.0 686.8 2443.5 686.5 2444.3 686.0 2443.7 691.5 2444.4 687.1 2444.4 690.5 2403.8 689.7 2433.3 702.4 2444.4 694.8 2400.1 683.7 2444.0 691.9 2444.4 705.3 2442.7 699.6 2440.1 695.0 2443.7 683.7 2419.9 705.3 2444.4 681.5 2428.3 681.6 2426.2 688.2 2444.4 698.7 2442.9 692.9 2443.5 684.6 2431.5 684.1 2440.3 700.3 2443.5 685.9 2427.0 698.6 2439.7 690.4 2444.4 689.9 2444.4 699.6 2435.9 686.8 2437.4 697.9 2440.7 699.5 2444.4 693.3 2443.5 698.6 2440.0 704.9 2428.2 698.4 2430.9 683.4 2441.9 696.5 2424.7 700.8 2411.0 687.4 2443.1 685.3 2432.3 699.8 2431.2 689.0 2404.8 690.4 2444.4 686.3 2443.5 698.1 2444.4 688.2 2440.9 695.2 2436.0 698.8 2443.6 686.2 2441.8 690.5 2443.6 692.5 2441.3 693.5 2436.0 696.2 2428.4 683.1 2377.0 693.1 2437.7 688.5 2444.4 690.2 2441.6 681.6 2444.4 703.6 2417.6 685.1 2441.4 699.3 2441.8 692.3 2443.8 686.5 2443.7 686.4 2415.8 690.7 2438.4 695.2 2444.4 682.1 2423.7 684.1 2443.8 699.3 2437.7 701.7 2444.4 696.6 2430.6 685.7 2444.4 686.6 2444.4 695.2 2441.4 682.9 2444.4 693.6 2441.5 684.1 2443.9 698.0 2440.1 700.9 2444.4 686.6 2424.7 691.6 2421.8 688.9 2444.4 686.6 2423.0 690.3 2443.2 702.9 2437.2 681.5 2444.1 698.4 2444.4 687.3 2420.1 698.8 2440.5 702.3 2443.1 694.9 2436.8 695.0 2443.6 692.8 2436.1 698.0 2444.4 688.2 2442.7 689.7 2444.4 701.0 2444.1 698.7 2440.9 690.1 2444.4 693.9 2437.3 703.4 2442.5 693.9 2425.8 682.7 2444.0 694.2 2444.4 703.4 2444.4 693.0 2443.6 693.0 2443.3 683.6 2422.1 697.7 2377.3 683.7 2444.4 687.3 2438.8 684.4 2431.5 699.5 2439.4 705.4 2400.6 690.4 2443.7 687.3 2442.2 691.3 2444.4 698.9 2435.2 683.8 2444.4 705.1 2444.4 691.9 2444.4 690.9 2432.6 692.1 2438.7 685.4 2425.4 691.5 2432.5 701.7 2442.5 686.5 2443.4 695.5 2439.2 695.8 2444.4 695.9 2440.9 692.3 2420.9 692.7 2444.0 701.2 2431.9 695.4 2444.3 701.1 2439.5 694.2 2444.4 699.1 2438.6 699.0 2441.6 698.5 2444.4 702.2 2444.4 697.9 2439.3 702.1 2426.8 691.0 2444.4 685.0 2443.8 702.4 2441.8 701.7 2443.1 694.1 2440.3 689.3 2436.8 682.2 2444.4 687.8 2430.9 687.4 2443.4 681.5 2444.4 701.7 2432.9 702.4 2444.2 688.5 2439.5 686.1 2444.4 703.3 2433.6 702.7 2443.6 702.5 2444.1 686.8 2443.0 695.3 2433.1 699.1 2443.0 699.8 2443.9 683.8 2402.7 689.1 2444.4 698.7 2444.4 686.6 2439.4 688.1 2437.3 702.6 2433.5 697.5 2434.6 695.7 2444.4 684.0 2443.0 682.9 2444.4 695.2 2443.5 701.9 2438.3 695.5 2441.7 684.2 2396.4 688.0 2443.1 702.7 2444.4 682.3 2431.5 692.7 2436.5 694.4 2437.7 697.9 2441.8 689.9 2438.6 703.2 2444.4 696.3 2442.8 685.1 2444.4 682.2 2440.5 704.5 2444.4 695.9 2444.4 682.4 2443.4 681.4 2444.2 683.3 2444.4 683.8 2444.1 685.2 2439.2 699.5 2438.3 702.1 2444.2 682.5 2440.6 692.5 2444.1 700.7 2443.4 704.1 2440.3 684.7 2438.6 686.0 2444.2 691.5 2444.3 701.7 2443.1 692.2 2444.4 683.2 2444.4 699.8 2444.4 683.0 2443.0 702.0 2439.2 697.1 2444.4 704.8 2444.4 686.5 2444.4 695.7 2444.4 682.8 2440.8 689.5 2439.8 686.6 2408.9 690.5 2444.4 692.9 2438.2 684.5 2440.6 689.8 2438.8 701.8 2437.2 693.4 2443.2 694.8 2444.0 693.6 2415.0 696.4 2414.7 702.3 2443.7 695.2 2414.4 691.6 2444.4 700.2 2442.3 689.5 2444.4 693.7 2442.0 694.8 2444.4 704.3 2444.4 700.1 2439.0 699.6 2435.4 700.2 2442.4 704.8 2436.3 684.8 2444.4 686.1 2432.8 694.1 2430.1 687.4 2443.3 694.5 2419.8 697.2 2444.4 699.6 2443.2 702.0 2444.4 701.0 2443.2 688.4 2444.4 704.6 2443.1 684.2 2444.1 698.5 2440.4 685.1 2444.1 681.8 2443.6 687.3 2400.8 700.7 2440.1 705.3 2444.4 682.4 2443.0 691.9 2443.0 702.6 2433.1 700.2 2444.4 693.0 2440.2 705.2 2444.4 684.6 2443.5 685.6 2437.9 704.8 2444.4 697.9 2444.4 704.4 2443.7 685.3 2441.7 703.7 2435.5 685.0 2431.4 697.2 2444.4 686.2 2443.9 684.0 2441.6 694.6 2443.8 702.3 2444.0 692.0 2444.4 703.8 2422.2 689.5 2442.3 699.2 2443.4 694.7 2440.9 694.0 2426.6 687.8 2441.2 702.9 2444.4 701.4 2435.6 695.0 2444.4 700.8 2444.4 693.1 2444.0 683.2 2440.9 694.3 2439.8 688.8 2444.4 696.5 2443.4 786.9 2444.1 795.0 2443.6 795.1 2444.2 783.0 2443.9 795.2 2444.4 797.0 2443.3 790.2 2444.4 796.0 2443.6 793.4 2443.7 791.3 2442.4 790.1 2442.8 785.8 2444.4 789.8 2444.3 796.7 2444.3 796.5 2444.2 797.7 2444.2 791.2 2444.4 796.0 2443.8 783.4 2442.5 781.8 2444.4 785.9 2443.3 795.2 2444.4 780.4 2444.4 787.8 2442.7 791.4 2443.3 798.7 2444.2 785.1 2443.3 797.9 2443.2 784.0 2444.4 793.1 2443.2 791.8 2444.4 798.5 2444.0 787.6 2444.1 795.2 2444.1 788.8 2444.4 792.9 2444.4 794.2 2442.7 793.6 2443.1 778.2 2444.4 787.4 2444.4 791.4 2444.4 784.9 2443.2 797.8 2443.2 798.5 2444.4 791.5 2442.9 797.9 2443.8 799.4 2443.4 792.2 2443.4 782.5 2444.2 797.9 2443.7 797.6 2443.2 780.1 2443.5 789.2 2444.4 788.6 2444.2 796.9 2444.3 794.8 2444.4 785.9 2444.4 795.0 2443.2 796.3 2444.2 790.1 2444.4 798.0 2444.4 799.1 2443.1 794.7 2444.4 787.8 2444.4 782.4 2443.9 799.5 2443.6 793.5 2443.6 794.7 2444.4 781.4 2444.4 792.0 2444.0 778.1 2443.7 782.6 2444.4 798.7 2444.2 778.4 2443.0 790.8 2443.6 796.7 2444.3 788.3 2443.4 799.7 2443.7 801.0 2444.4 794.3 2444.4 801.6 2444.3 795.4 2444.4 796.6 2444.4 796.7 2444.4 780.1 2444.4 792.4 2444.0 788.2 2443.5 788.6 2444.4 790.6 2444.4 795.5 2442.9 792.0 2443.8 791.3 2443.1 801.1 2444.4 798.0 2444.2 800.2 2444.1 795.5 2444.4 792.0 2444.4 789.2 2444.4 779.7 2442.7 786.9 2442.6 784.4 2443.6 799.2 2444.4 783.1 2443.2 781.3 2442.0 790.0 2443.0 780.0 2443.9 798.5 2444.4 799.1 2444.3 778.7 2444.2 792.0 2443.9 786.9 2443.8 783.6 2442.3 783.1 2444.4 787.2 2444.4 793.1 2443.1 788.1 2443.8 789.7 2444.4 791.0 2444.4 787.5 2444.4 801.3 2443.9 779.1 2444.2 799.9 2443.4 786.9 2443.7 786.9 2444.2 801.7 2444.4 787.2 2444.4 798.6 2444.4 793.3 2444.4 797.7 2444.4 788.8 2442.6 786.6 2443.6 784.8 2444.3 779.4 2444.1 791.4 2444.4 779.3 2443.9 794.0 2444.4 782.8 2444.4 780.5 2443.2 780.1 2444.4 797.9 2444.3 798.1 2443.7 789.6 2444.4 799.2 2444.2 784.7 2443.7 788.8 2444.4 784.4 2443.6 784.6 2444.2 781.3 2444.4 788.5 2443.9 792.2 2444.4 785.8 2444.4 795.9 2443.8 786.4 2442.1 796.3 2444.0 779.2 2444.4 783.9 2442.8 785.1 2444.3 797.3 2443.9 794.3 2444.4 778.5 2444.4 780.8 2443.8 781.4 2444.4 787.8 2443.3 789.7 2444.3 797.8 2443.0 781.3 2444.3 793.3 2442.9 786.0 2443.1 788.5 2443.2 800.7 2444.1 796.3 2444.0 782.7 2444.4 793.7 2443.4 785.5 2444.3 789.9 2444.4 791.8 2444.1 784.8 2444.4 796.7 2444.3 779.1 2444.4 789.4 2443.8 784.0 2444.4 787.5 2442.9 791.5 2443.3 799.1 2443.1 798.5 2444.4 791.0 2444.4 794.9 2444.1 788.1 2443.2 792.3 2443.5 792.8 2444.2 781.0 2444.2 793.9 2444.2 784.4 2443.6 787.4 2444.4 799.3 2444.0 798.4 2444.2 793.6 2444.1 784.1 2444.4 795.0 2444.4 797.9 2444.4 781.5 2442.7 789.5 2443.9 784.6 2444.3 795.0 2444.4 799.0 2443.0 781.6 2443.8 787.5 2443.1 779.6 2444.3 797.9 2443.5 786.7 2443.6 791.2 2442.9 796.1 2444.4 793.5 2444.4 801.8 2443.4 780.7 2442.7 790.5 2443.8 785.8 2443.3 790.6 2442.5 780.1 2442.7 783.7 2444.1 788.0 2444.4 779.4 2443.7 800.1 2442.5 789.8 2443.0 781.7 2444.2 800.5 2443.2 783.3 2444.3 788.5 2443.9 797.3 2443.3 793.8 2444.4 786.2 2444.2 792.6 2444.4 787.1 2443.9 795.8 2444.2 783.1 2444.4 793.4 2444.2 788.7 2444.4 791.3 2444.3 778.6 2442.9 792.9 2443.8 786.0 2443.5 783.7 2444.4 786.0 2444.2 798.5 2444.4 785.2 2444.1 795.1 2444.4 799.9 2444.4 801.2 2444.4 780.1 2443.8 797.4 2443.8 793.6 2444.4 790.2 2444.4 792.4 2443.8 789.2 2444.4 799.0 2443.2 799.0 2442.1 792.9 2442.9 792.2 2444.2 795.8 2442.7 783.5 2443.7 796.6 2444.4 782.8 2444.0 791.4 2443.3 787.2 2444.3 794.0 2442.1 783.4 2444.4 790.7 2444.4 780.2 2444.2 783.6 2444.4 781.2 2444.4 787.9 2444.2 779.8 2444.2 795.5 2444.4 801.5 2443.5 794.2 2444.2 797.2 2444.4 798.0 2444.1 792.0 2444.3 796.9 2444.4 798.9 2444.2 790.7 2444.4 798.5 2444.4 784.8 2444.4 782.1 2443.1 791.2 2444.4 780.6 2444.2 779.7 2444.4 793.9 2444.4 801.4 2444.2 793.1 2444.0 795.0 2443.2 781.8 2443.8 797.4 2444.4 785.1 2443.2 788.5 2444.3 801.3 2443.2 784.6 2444.4 793.2 2442.7 783.6 2444.4 790.8 2443.1 801.6 2444.3 792.6 2443.3 782.1 2444.0 780.4 2444.4 781.0 2443.1 793.6 2444.1 792.5 2444.4 792.5 2442.3 793.7 2443.2 789.1 2443.2 800.5 2444.4 797.3 2444.4 785.4 2444.0 793.4 2444.4 798.0 2444.4 794.6 2444.4 783.6 2444.2 783.8 2444.4 785.3 2444.4 787.5 2444.4 787.8 2444.4 800.7 2443.8 789.9 2444.4 781.8 2443.1 780.0 2444.2 879.6 2444.0 882.2 2443.9 891.2 2444.4 882.4 2444.4 889.6 2444.4 895.8 2443.8 897.2 2443.8 878.2 2443.8 879.1 2444.0 884.8 2443.5 895.3 2443.9 889.1 2443.8 878.7 2443.7 883.1 2444.4 878.2 2443.5 880.6 2443.8 894.4 2444.4 885.5 2444.4 895.0 2444.4 883.6 2444.4 874.9 2444.4 894.9 2444.1 890.1 2443.6 897.7 2443.4 895.5 2444.4 886.9 2444.4 890.8 2444.4 891.2 2444.2 876.0 2444.4 888.4 2444.4 894.0 2444.4 896.6 2444.0 891.8 2444.4 889.0 2444.2 883.1 2444.4 883.0 2444.1 878.0 2443.5 883.0 2443.9 875.4 2444.4 893.9 2444.1 874.8 2444.4 891.5 2444.4 878.2 2443.8 894.5 2443.8 892.6 2444.4 895.0 2444.4 887.9 2444.4 895.0 2443.4 888.6 2444.4 894.4 2444.0 886.0 2443.5 893.8 2443.9 875.5 2443.8 884.9 2444.1 894.2 2444.4 889.5 2444.4 881.1 2444.4 896.6 2444.4 896.3 2444.2 877.6 2444.4 886.0 2444.1 875.5 2444.4 893.6 2444.4 882.1 2444.4 889.4 2444.1 891.8 2443.5 895.8 2443.9 883.6 2443.9 879.9 2444.0 892.4 2444.1 882.7 2444.4 887.7 2444.4 886.4 2444.4 887.3 2443.7 884.4 2444.4 888.6 2443.9 891.5 2444.3 896.6 2444.2 891.8 2443.9 875.9 2444.4 888.7 2443.2 889.6 2443.9 881.5 2444.2 890.4 2444.4 875.1 2444.4 885.6 2443.9 897.7 2444.4 889.4 2444.3 888.9 2444.4 885.6 2444.4 893.9 2444.2 882.3 2444.4 896.5 2444.4 874.8 2443.9 895.5 2443.3 876.7 2443.8 893.3 2444.4 884.6 2444.4 891.6 2444.3 895.3 2444.4 897.3 2444.0 886.4 2444.4 884.0 2444.4 886.4 2443.9 888.8 2443.7 886.3 2444.4 880.6 2444.4 879.0 2444.3 894.2 2444.4 882.5 2444.0 895.3 2444.1 886.4 2444.4 884.3 2444.3 890.4 2443.7 875.7 2444.4 893.9 2444.4 897.8 2444.4 889.8 2444.2 887.6 2443.9 892.4 2444.4 885.1 2444.4 886.6 2444.4 896.6 2444.4 878.3 2444.0 892.6 2444.4 876.6 2444.1 876.8 2444.0 887.4 2444.4 889.7 2444.3 893.0 2444.2 875.4 2444.4 875.8 2444.4 877.2 2444.4 882.6 2444.4 885.8 2443.6 882.3 2443.8 897.9 2444.4 894.6 2443.8 881.6 2444.4 877.1 2444.4 896.5 2444.4 886.7 2444.2 885.9 2444.4 890.3 2444.4 878.4 2444.0 891.5 2444.4 891.9 2444.4 891.6 2444.4 889.0 2444.4 878.7 2444.3 884.8 2444.4 883.5 2443.9 877.6 2444.4 889.0 2443.7 886.4 2444.4 896.0 2443.8 875.7 2444.4 894.5 2444.4 877.0 2444.1 880.0 2444.4 876.4 2444.4 894.6 2444.4 896.4 2444.4 883.0 2444.4 886.4 2443.6 893.8 2444.4 897.1 2443.7 894.0 2444.4 878.5 2444.4 882.6 2444.4 890.5 2443.7 876.8 2444.4 898.1 2444.0 877.8 2444.4 897.1 2444.4 891.8 2444.4 882.9 2443.8 891.2 2444.2 890.0 2444.0 892.8 2444.4 884.1 2444.4 884.6 2444.4 881.6 2444.0 889.4 2444.3 875.8 2443.8 875.1 2443.8 898.2 2443.8 891.6 2444.3 888.3 2444.4 893.9 2444.4 889.8 2444.4 886.4 2444.4 889.1 2443.9 883.1 2443.8 875.0 2443.8 895.3 2443.7 876.4 2443.8 885.0 2443.9 897.6 2444.1 886.9 2444.4 888.6 2444.4 877.5 2444.4 875.7 2443.9 882.9 2444.4 876.1 2443.5 886.4 2443.9 883.8 2444.4 896.7 2444.4 894.2 2444.4 885.0 2444.3 893.5 2444.4 893.1 2444.4 878.2 2443.6 895.3 2444.3 874.3 2444.4 877.2 2443.8 897.0 2444.4 884.9 2443.9 889.8 2444.4 879.7 2444.4 897.1 2444.4 885.1 2444.4 883.5 2443.8 890.6 2444.4 890.8 2443.8 895.2 2444.4 884.7 2444.4 888.7 2444.2 893.0 2443.7 881.3 2444.2 883.8 2444.4 897.1 2444.4 881.5 2444.4 886.6 2444.1 890.9 2443.8 896.8 2444.4 887.9 2444.4 879.4 2444.4 881.9 2444.4 878.1 2444.3 885.3 2444.4 882.8 2443.8 894.0 2444.4 878.4 2443.8 892.3 2444.4 875.6 2444.2 879.1 2443.8 895.0 2444.0 877.3 2444.1 894.4 2443.1 893.7 2444.1 877.6 2444.2 878.8 2443.9 888.2 2444.4 877.8 2444.1 883.2 2444.4 886.0 2444.4 896.4 2444.4 877.4 2443.6 879.4 2443.9 978.0 2444.4 992.4 2411.5 993.9 2444.4 988.2 2443.6 987.8 2442.0 993.7 2442.7 978.7 2444.4 993.8 2443.4 979.7 2429.3 987.4 2444.4 973.3 2444.3 993.6 2442.2 975.9 2429.0 991.8 2444.2 992.9 2444.3 974.9 2444.4 977.3 2444.4 988.6 2444.4 971.8 2444.4 974.4 2444.4 970.9 2444.4 974.0 2443.4 975.8 2444.4 974.2 2444.4 988.4 2443.1 981.4 2430.5 992.3 2434.1 971.9 2444.4 988.2 2443.1 984.4 2443.7 989.9 2432.7 986.3 2441.2 980.2 2439.1 970.8 2406.4 971.2 2444.0 982.1 2443.8 994.0 2435.2 986.9 2425.5 994.0 2444.4 978.1 2437.8 979.8 2444.4 982.5 2440.8 988.2 2442.4 988.6 2442.1 974.9 2444.4 985.5 2444.4 982.1 2444.4 977.1 2444.2 972.9 2444.4 982.2 2444.4 979.4 2443.5 974.6 2444.4 978.6 2439.1 977.9 2443.4 975.8 2438.2 984.5 2442.4 975.4 2440.6 977.6 2443.3 970.7 2443.7 978.6 2443.0 987.4 2429.9 981.8 2443.4 979.7 2444.4 989.2 2444.4 975.6 2443.2 976.2 2444.1 975.9 2432.7 979.4 2443.5 987.5 2441.8 976.9 2437.0 986.4 2443.0 975.6 2443.4 981.4 2444.4 981.9 2444.4 971.6 2435.5 988.3 2444.1 981.5 2444.4 979.0 2431.2 985.6 2439.2 980.6 2444.4 985.8 2444.4 987.2 2444.4 991.8 2444.2 984.4 2442.8 971.2 2444.4 976.2 2440.5 976.2 2435.8 980.9 2444.4 972.2 2440.9 971.5 2444.4 972.2 2443.9 971.1 2442.2 984.7 2438.0 971.5 2444.4 987.9 2444.4 984.7 2444.4 986.9 2444.1 976.9 2444.4 983.3 2444.4 979.5 2444.4 993.3 2444.1 987.0 2433.4 971.7 2444.4 983.6 2444.1 986.2 2416.4 980.0 2435.2 993.2 2444.4 990.8 2443.5 976.7 2441.8 971.0 2444.4 973.7 2444.4 980.0 2443.6 990.3 2444.3 974.2 2411.4 994.5 2440.4 982.5 2444.4 981.0 2442.0 982.5 2443.8 982.4 2437.7 987.2 2444.4 976.5 2422.2 981.7 2440.8 986.3 2442.7 980.5 2442.6 983.1 2443.9 988.2 2441.8 988.9 2432.1 987.3 2444.4 980.9 2441.5 974.2 2441.5 988.8 2435.6 973.5 2441.2 981.5 2444.1 978.5 2444.0 978.8 2441.1 990.6 2444.4 979.9 2442.2 973.0 2444.1 978.0 2444.4 986.7 2433.9 978.6 2444.4 977.1 2434.9 971.7 2443.0 974.7 2441.0 986.7 2444.4 977.1 2443.4 984.2 2431.9 986.9 2443.6 980.7 2441.9 983.4 2444.4 988.2 2444.4 992.8 2441.4 978.7 2444.4 981.8 2436.3 985.8 2444.1 977.4 2438.1 979.0 2443.4 973.4 2443.5 971.4 2443.9 973.7 2444.2 980.5 2440.6 988.9 2443.1 992.6 2443.6 984.6 2444.4 989.1 2444.3 990.3 2444.4 976.8 2444.4 988.6 2442.0 993.9 2438.7 971.7 2443.4 974.8 2443.4 984.5 2444.4 993.1 2444.4 976.6 2441.6 990.3 2443.6 986.0 2441.6 975.2 2444.4 977.6 2443.0 990.7 2444.0 976.2 2443.7 978.8 2436.0 988.0 2444.1 972.1 2442.5 987.2 2441.0 971.5 2436.3 972.5 2438.9 978.6 2423.0 978.0 2441.4 985.3 2444.4 991.2 2440.4 987.0 2438.6 986.1 2443.8 981.8 2444.3 988.7 2442.7 977.8 2439.9 983.8 2441.1 977.0 2441.7 993.1 2441.9 981.8 2430.6 987.7 2437.8 979.8 2443.8 974.9 2443.6 978.7 2442.6 983.2 2444.4 985.3 2444.2 990.4 2419.7 993.7 2444.1 988.7 2444.4 993.3 2429.3 988.7 2443.9 979.2 2443.9 975.7 2443.5 991.1 2442.3 974.8 2433.8 979.5 2443.4 987.7 2444.4 974.8 2442.4 973.8 2435.8 978.9 2444.4 991.4 2444.4 980.9 2434.2 988.4 2421.5 986.0 2444.1 975.9 2444.1 990.4 2444.4 993.6 2442.6 975.3 2444.4 983.4 2416.0 974.4 2444.4 976.8 2443.7 994.2 2440.0 983.3 2441.9 981.0 2441.1 981.7 2443.5 990.3 2442.3 989.3 2424.7 975.8 2444.4 989.6 2432.1 975.6 2433.1 984.7 2422.7 992.9 2435.0 985.3 2440.9 976.4 2444.0 986.6 2441.5 985.7 2444.4 981.9 2444.4 990.5 2444.4 978.7 2444.4 994.6 2440.8 991.9 2442.7 982.2 2444.4 986.4 2427.1 993.7 2444.3 979.6 2439.7 989.2 2444.1 974.8 2443.9 990.1 2443.4 984.3 2444.4 977.1 2444.1 983.6 2444.4 982.9 2443.7 979.7 2442.3 981.8 2429.0 984.0 2429.8 993.0 2431.9 987.4 2444.4 979.1 2441.1 976.8 2444.4 974.4 2443.5 985.8 2436.7 982.7 2444.4 988.7 2444.4 980.7 2444.4 990.2 2443.1 971.7 2444.4 987.2 2444.4 993.3 2442.6 971.1 2444.4 976.4 2439.2 989.3 2444.4 972.1 2443.1 989.2 2440.5 982.2 2444.0 986.9 2444.2 981.7 2444.4 973.1 2444.4 993.1 2443.8 971.8 2444.4 985.9 2444.4 988.6 2444.1 972.8 2441.9 978.8 2442.5 985.5 2438.7 991.2 2444.4 984.2 2444.0 990.0 2429.6 976.6 2441.8 972.3 2444.4 985.1 2434.2 980.2 2441.3 978.7 2443.3 974.9 2442.7 972.2 2439.4 987.2 2406.3 972.1 2442.4 987.2 2444.4 973.9 2438.7 986.8 2444.4 986.7 2443.5 980.2 2444.3 986.2 2433.3 987.8 2441.0 971.1 2444.4 986.8 2443.5 985.7 2444.2 990.0 2444.4 987.2 2442.3 974.3 2442.0 982.1 2444.4 981.6 2437.2 979.4 2416.7 988.8 2432.9 992.5 2434.2 975.2 2444.4 989.9 2438.3 991.1 2444.4 976.6 2439.3 986.2 2439.0 979.9 2443.2 973.5 2429.7 974.8 2439.7 977.2 2442.6 976.0 2440.2 993.3 2444.4 989.0 2444.4 984.1 2443.6 973.0 2440.6 985.7 2444.0 989.9 2421.2 986.1 2443.8 980.3 2444.1 990.8 2444.4 971.0 2437.3 975.3 2443.6 993.9 2442.2 974.8 2434.6 983.8 2430.9 970.7 2444.4 972.9 2443.3 989.4 2442.6 990.9 2440.7 979.1 2444.0 976.7 2444.4 989.4 2444.4 991.3 2444.3 993.6 2444.0 989.9 2441.4 989.4 2435.7 976.9 2441.1 972.5 2430.2 981.4 2444.0 993.0 2434.4 971.5 2444.3 988.8 2435.8 971.4 2437.4 976.2 2439.3 978.8 2435.2 993.2 2444.4 982.6 2441.8 973.9 2435.1 973.8 2444.1 989.9 2443.7 977.0 2443.1 979.2 2444.3 976.0 2440.8 987.6 2422.9 991.3 2443.7 971.2 2440.1 975.0 2443.2 975.3 2443.6 980.6 2442.3 983.2 2444.4 979.3 2444.4 982.7 2443.4 989.8 2444.4 993.5 2441.6 989.9 2440.1 986.8 2444.4 985.3 2434.8 987.2 2444.0 210.5 2082.3 208.5 2158.8 208.5 2199.6 401.3 2181.8 410.3 2184.3 602.0 1975.2 690.4 2373.0" fill="none" stroke="none" marker-start="url(#mk1)" marker-mid="url(#mk1)" marker-end="url(#mk1)"/>
<defs><marker id="mk2" markerUnits="userSpaceOnUse" markerWidth="7.7" markerHeight="7.7" refX="3.85" refY="3.85" overflow="visible"><circle cx="3.85" cy="3.85" r="1.95" fill="#14A848" stroke="#0A0A0A" stroke-width="0.9"/></marker></defs>
<path d="M162.2 2444.4 162.9 2444.1 146.0 2437.3 155.8 2444.4 148.9 2443.7 148.7 2443.5 150.2 2441.0 157.7 2427.4 153.5 2444.4 160.2 2436.9 163.9 2405.2 158.5 2443.0 156.6 2444.4 142.0 2436.3 152.4 2413.2 155.3 2442.2 144.0 2394.6 158.4 2438.9 152.5 2436.2 147.0 2444.4 161.5 2444.3 143.6 2444.4 162.8 2423.3 155.3 2434.7 146.3 2372.0 153.0 2428.7 150.3 2417.0 157.7 2428.1 143.9 2444.4 144.6 2444.4 154.3 2444.4 154.4 2437.8 142.6 2416.8 145.6 2442.1 163.5 2437.5 158.5 2444.4 149.7 2444.4 149.6 2442.9 162.7 2438.7 143.0 2442.5 158.9 2441.4 160.8 2444.4 161.7 2441.4 144.0 2440.6 150.6 2443.0 152.1 2444.4 147.6 2444.4 165.6 2444.4 156.5 2444.4 150.7 2444.4 148.8 2444.2 147.0 2438.3 144.2 2420.0 159.9 2436.2 142.3 2444.4 146.6 2440.1 156.8 2381.9 162.3 2444.4 153.8 2407.1 148.2 2404.0 153.3 2444.1 159.7 2440.6 157.7 2424.8 160.3 2443.3 150.2 2444.4 144.2 2421.3 163.0 2444.4 156.2 2441.4 149.5 2428.7 148.8 2437.7 156.6 2414.1 159.9 2443.4 148.6 2418.8 164.5 2444.4 165.1 2444.4 142.9 2444.4 149.5 2349.1 165.0 2444.4 145.1 2444.4 146.7 2442.5 149.5 2441.0 147.9 2420.4 163.8 2444.3 162.9 2366.4 154.5 2444.3 154.6 2444.4 150.6 2444.4 165.4 2434.3 151.5 2444.4 147.5 2441.2 144.9 2432.9 156.1 2427.9 164.8 2444.4 143.3 2436.3 155.3 2436.9 146.6 2444.4 160.4 2442.6 143.1 2444.4 153.7 2437.5 161.8 2428.4 162.5 2443.0 146.2 2438.4 155.1 2438.7 154.4 2436.4 155.8 2375.7 165.6 2440.3 147.6 2443.3 152.1 2444.4 154.9 2444.4 141.9 2432.5 155.9 2444.4 144.1 2421.6 149.1 2444.4 152.9 2439.1 152.8 2440.4 158.6 2437.4 159.0 2442.7 143.4 2437.0 152.3 2444.4 146.9 2443.4 143.6 2444.4 146.6 2444.4 162.0 2441.4 144.3 2444.4 143.6 2400.7 153.8 2415.9 147.2 2431.9 142.6 2394.5 161.1 2424.1 153.5 2435.1 148.2 2398.9 145.0 2428.5 150.2 2434.7 163.0 2443.8 146.3 2413.8 153.9 2438.8 158.9 2421.5 159.6 2443.4 162.3 2444.2 143.5 2434.7 151.4 2444.4 143.7 2422.0 156.2 2440.3 143.2 2440.6 147.0 2428.0 145.1 2443.3 143.4 2442.2 157.0 2444.4 157.9 2444.4 151.4 2434.7 155.8 2432.5 143.8 2439.6 146.1 2440.0 143.6 2442.5 147.0 2442.8 142.9 2437.2 162.9 2379.8 159.1 2444.4 164.4 2437.3 144.3 2444.4 148.5 2434.4 152.6 2444.4 142.2 2437.8 160.6 2444.0 143.3 2444.4 156.7 2440.7 159.6 2444.4 150.3 2438.9 243.3 2437.9 260.0 2424.5 245.3 2381.2 260.0 2435.5 239.5 2298.1 261.2 2444.3 239.6 2422.4 253.1 2444.2 248.0 2374.9 244.3 2430.9 248.5 2443.0 255.5 2432.2 262.0 2442.4 238.8 2443.0 252.0 2372.3 239.3 2394.0 258.7 2378.2 261.2 2422.5 247.8 2297.9 248.7 2381.2 248.5 2420.8 258.4 2420.8 252.3 2390.5 249.4 2443.2 245.3 2443.7 245.8 2442.6 261.1 2404.4 258.3 2398.4 258.3 2432.6 259.8 2431.8 243.3 2443.1 258.0 2383.2 261.2 2435.6 261.0 2439.7 254.8 2363.7 245.8 2442.4 259.4 2429.0 253.4 2410.3 257.7 2283.5 239.0 2402.1 241.8 2444.3 252.3 2411.9 238.6 2444.1 251.6 2347.6 242.2 2220.0 240.8 2443.5 247.1 2324.3 253.9 2393.1 257.1 2393.7 259.3 2442.8 254.4 2442.8 254.2 2432.7 255.4 2441.4 253.1 2394.0 246.4 2443.8 256.5 2443.1 241.7 2384.8 246.9 2444.0 242.2 2399.7 253.6 2374.9 252.7 2402.0 251.7 2326.2 250.0 2443.1 243.3 2406.1 245.1 2347.8 247.1 2438.0 242.4 2434.7 243.5 2311.3 239.9 2443.0 249.4 2442.5 250.2 2288.1 251.4 2442.6 252.9 2444.3 241.3 2345.4 252.7 2420.3 257.5 2415.4 251.8 2315.8 247.5 2376.3 258.9 2440.6 239.7 2331.6 261.8 2441.6 243.5 2262.9 243.0 2340.0 246.0 2437.0 254.9 2444.2 248.1 2363.8 258.3 2357.6 256.4 2397.3 257.2 2373.5 260.8 2443.5 257.2 2442.8 247.0 2369.2 246.8 2435.9 249.1 2403.7 257.0 2442.6 257.4 2388.9 260.5 2444.1 244.6 2443.1 253.8 2442.8 257.9 2354.2 250.4 2444.2 252.6 2442.9 256.3 2427.7 259.8 2406.2 241.7 2354.4 249.7 2430.4 259.8 2443.2 238.6 2424.4 240.0 2443.2 242.5 2330.3 243.9 2381.1 242.5 2286.9 254.3 2435.4 254.0 2437.2 243.4 2383.9 257.7 2442.7 256.6 2442.5 254.1 2336.1 248.1 2346.2 249.9 2442.0 253.2 2443.4 261.1 2347.0 260.2 2440.5 258.8 2420.1 261.8 2432.8 262.1 2409.3 238.9 2363.1 250.7 2436.2 244.6 2432.2 239.9 2432.9 248.2 2443.2 249.1 2439.7 249.0 2442.4 239.0 2371.5 252.3 2442.4 254.0 2435.6 258.9 2433.6 259.9 2400.4 247.9 2442.5 259.0 2388.1 254.0 2367.9 259.1 2437.4 250.1 2443.9 238.7 2363.9 245.3 2402.6 257.7 2318.2 255.6 2436.9 258.6 2444.3 249.8 2317.4 259.6 2361.9 247.8 2443.3 245.5 2443.9 239.1 2438.2 252.0 2420.5 254.7 2442.3 255.1 2392.4 239.3 2430.7 246.8 2420.9 250.5 2381.5 243.1 2392.9 247.4 2435.3 245.3 2444.0 255.0 2306.1 239.0 2443.3 249.9 2325.0 242.2 2444.2 241.6 2389.6 256.1 2410.8 252.6 2443.1 238.2 2399.4 249.1 2347.6 248.4 2394.3 249.3 2359.9 257.5 2436.3 259.9 2441.4 245.3 2404.0 241.4 2403.9 259.5 2443.2 239.1 2391.8 255.6 2443.3 351.3 2444.4 351.3 2444.4 348.2 2442.6 336.9 2444.4 338.4 2443.9 339.7 2444.4 352.3 2442.4 353.6 2444.2 339.5 2443.6 335.4 2444.4 344.0 2444.4 336.1 2441.7 335.1 2444.4 345.5 2443.1 350.1 2444.4 338.4 2444.4 347.4 2444.2 349.6 2438.5 334.7 2438.7 350.9 2444.4 354.8 2444.2 347.6 2444.3 339.0 2441.2 342.0 2443.9 340.1 2442.4 339.7 2444.0 349.5 2444.4 344.1 2444.4 356.4 2444.0 335.9 2441.4 339.0 2444.1 357.2 2444.0 358.0 2444.2 347.2 2444.2 353.4 2444.2 356.2 2444.3 337.4 2444.4 337.5 2444.4 350.4 2443.6 346.0 2443.4 350.9 2444.0 340.0 2443.9 334.6 2443.4 336.2 2444.4 349.9 2444.4 340.7 2444.4 338.6 2444.4 357.0 2443.8 342.3 2444.4 344.4 2441.7 336.9 2443.9 348.9 2444.1 342.9 2444.1 350.6 2443.6 341.6 2444.4 342.8 2444.3 356.8 2444.0 350.5 2442.3 337.8 2440.2 351.2 2441.7 342.1 2443.8 355.0 2443.6 357.8 2444.4 340.9 2443.9 346.8 2444.0 352.3 2436.1 357.9 2444.2 348.0 2444.4 352.6 2444.4 357.6 2444.4 357.1 2444.4 356.4 2444.4 345.7 2439.1 341.0 2443.9 349.7 2444.4 349.8 2443.6 340.3 2444.4 349.7 2444.4 335.7 2444.4 352.8 2442.7 339.6 2444.2 339.5 2442.2 334.6 2443.3 358.0 2437.5 357.9 2444.3 335.2 2444.4 336.8 2442.5 346.9 2442.9 335.5 2442.7 349.3 2444.4 357.7 2441.6 339.7 2444.2 335.5 2438.0 357.7 2444.4 339.5 2444.1 334.7 2443.4 343.4 2444.4 340.9 2444.2 355.6 2441.5 347.5 2444.1 358.2 2444.4 354.0 2433.7 345.9 2443.5 345.4 2436.5 335.5 2444.1 352.5 2442.4 356.0 2442.5 354.1 2439.3 356.7 2441.7 336.8 2438.5 346.7 2443.9 345.2 2436.9 342.7 2437.5 356.9 2443.5 355.0 2438.7 344.4 2442.6 353.0 2444.1 342.3 2443.7 339.8 2440.5 338.8 2444.0 341.4 2444.4 354.8 2443.8 348.8 2444.4 348.7 2444.1 338.0 2443.6 342.8 2444.3 336.0 2441.9 336.1 2444.4 340.4 2441.2 346.0 2443.2 349.8 2444.4 354.0 2442.8 448.8 2429.3 446.5 2410.8 436.3 2441.4 436.7 2409.4 449.6 2438.8 440.4 2422.3 439.7 2403.2 438.8 2401.3 439.2 2444.0 452.7 2441.8 447.9 2431.2 440.1 2436.3 434.5 2407.9 434.1 2433.3 454.8 2442.6 441.7 2369.7 448.2 2415.4 441.8 2394.3 439.3 2420.9 444.9 2432.0 454.0 2423.6 431.1 2420.5 434.0 2408.7 433.8 2444.0 441.6 2402.0 445.4 2412.1 442.1 2442.1 438.2 2407.1 453.7 2391.8 454.8 2424.2 444.1 2399.0 449.3 2436.6 433.6 2442.6 431.0 2438.4 449.2 2441.7 454.0 2439.3 450.0 2441.0 447.0 2404.3 432.0 2429.1 436.4 2337.6 431.7 2430.6 440.1 2401.5 451.7 2423.0 439.2 2399.5 453.1 2440.6 431.5 2442.4 436.2 2442.8 440.9 2424.6 433.0 2442.6 440.1 2443.4 433.3 2399.0 453.3 2424.2 451.7 2353.2 449.0 2367.0 445.7 2419.4 449.7 2432.6 442.3 2442.9 436.0 2441.9 447.9 2424.9 431.6 2374.4 447.6 2378.9 445.8 2443.5 451.4 2425.3 440.9 2443.1 445.8 2414.9 441.3 2422.4 449.5 2368.9 447.6 2442.2 443.2 2423.6 439.3 2411.0 446.6 2379.9 448.0 2374.8 448.7 2436.4 441.0 2412.1 450.5 2442.4 436.6 2435.1 432.1 2420.0 450.6 2442.5 446.4 2414.1 451.4 2438.1 454.3 2413.2 449.5 2436.9 445.8 2426.1 453.7 2443.1 452.5 2439.2 431.5 2401.4 438.2 2413.5 453.1 2399.0 437.4 2441.1 432.6 2442.7 450.3 2319.5 436.5 2388.9 451.2 2376.7 438.5 2341.8 433.8 2404.6 432.2 2414.4 436.6 2421.6 452.0 2443.7 443.1 2354.9 437.5 2436.3 443.9 2432.5 432.4 2443.4 435.2 2393.8 435.9 2439.2 444.5 2388.2 445.3 2373.6 440.7 2421.6 442.8 2438.8 453.7 2425.8 440.9 2404.6 432.8 2431.9 452.9 2440.4 434.3 2377.7 439.4 2435.7 454.3 2441.4 433.5 2434.6 442.5 2426.0 435.0 2430.1 436.7 2411.7 445.0 2423.7 437.5 2439.9 450.3 2426.8 444.6 2320.6 451.6 2415.5 431.2 2395.8 436.9 2442.8 432.2 2440.3 446.7 2429.7 442.1 2436.4 439.4 2426.7 446.0 2413.6 442.8 2424.7 435.8 2423.9 443.7 2442.8 432.6 2438.6 433.9 2430.0 441.3 2412.6 452.1 2383.5 452.5 2443.1 450.4 2423.2 440.8 2444.1 433.3 2442.2 431.8 2384.9 449.9 2442.2 452.0 2439.1 447.4 2432.8 443.3 2436.4 440.8 2441.1 431.6 2442.1 453.4 2412.3 433.5 2375.1 439.0 2443.0 433.7 2428.6 439.5 2385.9 438.7 2440.6 431.6 2442.9 438.3 2418.7 435.9 2437.9 434.2 2441.4 443.3 2444.2 444.6 2373.6 445.3 2439.3 446.5 2436.1 451.3 2351.9 452.9 2410.9 450.1 2404.3 434.8 2444.1 444.4 2440.3 433.1 2418.3 446.4 2416.5 442.3 2420.8 452.9 2430.2 431.1 2438.6 449.5 2417.5 452.5 2431.0 448.8 2419.9 452.4 2443.8 448.7 2349.7 442.8 2439.0 436.5 2436.0 537.7 2444.4 529.4 2444.1 532.5 2424.1 546.1 2435.5 528.1 2436.5 529.8 2444.0 527.4 2433.0 547.6 2421.4 527.9 2430.2 527.4 2427.8 535.5 2432.1 549.3 2439.5 548.5 2444.4 536.8 2428.6 537.7 2434.3 536.8 2421.6 528.7 2436.3 550.0 2433.1 539.0 2430.2 538.8 2441.9 538.5 2431.1 547.9 2434.6 546.5 2444.4 550.5 2425.6 536.7 2427.6 530.4 2444.0 548.0 2419.9 550.2 2432.0 544.8 2432.1 549.9 2432.0 529.1 2434.3 538.9 2444.2 528.4 2430.2 540.8 2444.1 529.3 2441.9 541.2 2444.0 531.8 2444.4 550.8 2429.5 540.4 2442.0 551.1 2444.1 528.0 2444.4 531.4 2444.2 550.7 2444.2 543.1 2439.2 543.6 2425.8 535.1 2433.5 533.5 2444.1 546.1 2438.1 542.7 2438.3 529.0 2440.4 549.0 2430.4 529.9 2428.0 540.3 2431.6 550.9 2433.4 537.0 2430.8 549.4 2435.6 527.3 2444.1 531.9 2435.2 535.7 2444.3 538.1 2432.3 537.8 2427.1 534.6 2428.8 528.7 2423.6 536.6 2428.2 528.9 2431.9 541.0 2431.5 548.9 2443.0 534.1 2443.9 545.7 2444.0 548.7 2427.9 548.1 2442.1 535.3 2442.2 545.7 2444.2 539.1 2444.3 531.4 2433.4 547.1 2432.3 547.3 2444.3 535.0 2430.8 549.1 2417.7 538.7 2440.6 544.9 2428.6 549.8 2421.6 546.7 2426.8 543.0 2444.2 546.0 2428.6 529.1 2436.0 532.8 2433.1 545.8 2432.6 540.2 2428.9 544.1 2444.1 546.3 2432.9 549.0 2441.5 528.1 2432.3 548.9 2442.4 551.2 2426.9 533.9 2422.0 544.7 2431.8 537.2 2437.1 531.8 2444.4 544.2 2425.2 540.6 2444.4 535.0 2444.0 547.7 2444.3 548.7 2444.4 542.2 2433.0 544.7 2444.3 531.0 2444.3 530.7 2440.1 527.8 2438.7 547.1 2430.5 539.5 2432.6 546.0 2444.2 550.4 2435.1 531.8 2444.1 542.1 2418.6 544.3 2431.0 541.9 2442.6 544.9 2427.1 550.8 2443.0 544.4 2434.9 530.3 2425.5 549.1 2444.1 537.1 2442.9 537.5 2433.4 528.2 2437.5 527.4 2444.0 532.0 2444.3 528.4 2443.5 545.7 2422.5 536.4 2426.8 542.9 2426.2 529.2 2418.2 545.6 2439.0 538.3 2427.8 543.0 2429.0 530.7 2434.7 531.7 2444.3 545.6 2441.1 545.4 2443.3 540.7 2444.0 543.2 2428.4 546.5 2436.2 533.4 2423.4 545.0 2421.9 536.2 2424.6 527.6 2433.9 548.9 2430.7 534.4 2434.8 535.2 2441.4 544.5 2438.2 545.1 2434.0 533.9 2442.2 543.6 2436.9 530.7 2437.7 530.9 2444.3 527.5 2430.4 529.4 2438.9 542.6 2427.7 529.8 2439.1 550.1 2433.3 546.6 2431.2 546.8 2421.2 534.1 2424.8 549.7 2431.3 529.5 2428.1 531.5 2436.8 545.3 2427.2 535.1 2444.3 633.0 2269.1 629.1 2369.9 631.7 2255.6 644.5 2308.9 636.5 2279.6 645.6 2263.7 640.8 2433.5 639.8 2439.1 645.2 2407.4 637.0 2290.8 625.4 2283.9 626.5 2340.8 635.0 2429.2 624.5 2313.7 637.5 2435.6 627.8 2285.9 635.5 2174.6 641.0 2417.0 637.0 2427.8 642.5 2419.6 644.4 2281.2 626.5 2289.0 633.4 2181.1 640.5 2270.1 640.6 2215.9 633.0 2433.7 642.1 2330.7 635.8 2429.7 634.9 2436.8 625.4 2334.7 640.0 2291.4 633.0 2309.6 625.9 2214.7 634.4 2273.7 628.1 2145.8 624.8 2418.9 629.8 2434.9 635.4 2406.1 639.5 2162.2 646.7 2441.8 633.7 2285.3 644.5 2265.9 626.1 2423.3 626.3 2277.8 625.6 2315.8 627.4 2432.5 640.2 2269.6 626.4 2439.2 629.6 2258.6 643.3 2331.1 640.9 2256.7 645.0 2286.6 630.0 2368.6 636.2 2308.8 633.6 2326.0 639.4 2428.9 627.8 2434.2 632.5 2374.9 631.4 2301.2 640.6 2141.0 640.2 2273.8 646.2 2203.5 627.0 2398.7 631.7 2390.7 628.6 2266.6 636.6 2431.3 640.3 2273.8 644.9 2251.9 640.2 2319.2 629.9 2351.2 642.1 2431.2 641.0 2265.5 643.6 2303.8 625.3 2276.9 631.1 2427.2 627.3 2384.0 626.9 2258.8 644.4 2430.6 643.1 2264.3 628.5 2207.1 646.6 2356.4 636.7 2290.1 628.0 2439.9 629.4 2348.2 631.5 2307.4 643.6 2320.9 638.7 2220.8 624.3 2432.8 639.0 2250.8 626.2 2444.2 641.2 2322.7 637.9 2258.7 636.7 2434.7 647.1 2291.6 633.3 2232.9 639.7 2303.5 646.3 2361.7 639.6 2170.6 632.9 2194.6 647.0 2437.0 628.8 2212.1 636.0 2310.5 646.0 2444.4 640.7 2271.2 646.1 2432.2 642.7 2322.2 624.4 2377.5 630.5 2268.2 647.3 2307.9 641.2 2426.6 642.7 2408.4 624.0 2117.1 644.6 2284.3 632.2 2430.5 631.0 2122.6 638.8 2252.7 627.4 2202.5 643.2 2125.4 632.9 2287.9 643.6 2431.7 625.6 2439.8 627.9 2375.6 645.6 2239.3 630.5 2431.2 640.2 2238.1 628.0 2407.1 645.5 2307.9 640.7 2442.0 645.6 2290.6 643.9 2441.5 632.4 2289.7 646.7 2334.8 645.0 2224.3 642.7 2321.2 642.6 2429.2 632.0 2425.9 639.3 2212.3 630.3 2320.3 628.5 2418.8 627.4 2442.7 636.5 2313.5 626.5 2440.9 639.2 2272.9 643.4 2245.4 634.7 2433.8 642.4 2265.2 639.5 2242.9 644.9 2395.1 626.2 2190.1 644.1 2278.3 634.6 2250.7 643.3 2237.9 624.6 2431.6 627.6 2305.4 633.8 2444.3 644.8 2329.6 643.4 2277.2 627.4 2428.4 627.9 2409.8 629.0 2323.5 632.8 2329.6 641.4 2436.9 637.5 2403.9 632.3 2286.0 629.0 2344.9 643.8 2282.3 626.8 2437.7 641.7 2263.3 645.7 2179.1 625.9 2387.4 639.4 2164.8 638.4 2291.1 638.8 2336.3 633.0 2276.7 627.4 2433.1 624.1 2349.5 645.2 2421.9 635.0 2426.7 634.1 2371.9 640.5 2440.2 737.2 2444.2 729.5 2403.8 739.1 2438.3 730.3 2434.8 740.6 2443.0 726.6 2443.1 721.7 2407.1 726.9 2415.5 721.3 2442.8 722.6 2444.4 725.3 2444.4 729.9 2443.2 735.1 2439.7 731.9 2442.8 734.0 2439.9 725.0 2436.5 737.9 2444.4 743.2 2413.3 739.7 2438.4 736.2 2444.4 742.8 2441.0 734.3 2444.4 724.8 2426.7 720.3 2443.5 731.0 2425.8 734.3 2444.4 730.4 2444.3 739.2 2382.9 727.8 2443.8 735.3 2418.9 736.5 2443.1 723.2 2444.4 734.7 2438.9 725.5 2444.4 721.0 2443.1 721.0 2444.1 736.0 2436.4 721.8 2444.2 738.3 2409.7 724.4 2440.5 739.2 2444.4 721.1 2442.0 720.5 2439.7 742.0 2439.0 734.3 2442.9 732.0 2442.1 720.3 2440.7 739.3 2439.9 736.3 2443.6 723.9 2419.3 727.3 2444.4 722.5 2443.4 727.1 2444.0 720.4 2444.1 734.5 2439.1 720.3 2441.6 742.1 2411.5 734.9 2444.4 739.5 2415.6 722.3 2426.4 738.4 2436.7 727.9 2412.6 737.2 2434.0 721.2 2444.4 731.9 2442.2 725.3 2440.4 736.8 2441.9 720.8 2435.0 724.0 2435.2 720.1 2444.4 723.0 2443.7 723.0 2400.9 731.6 2444.4 727.2 2429.4 726.7 2435.9 725.4 2444.4 731.6 2442.1 735.3 2441.1 735.0 2402.6 724.9 2419.5 732.2 2436.9 724.5 2444.4 725.3 2424.4 721.8 2442.3 741.2 2435.7 731.9 2444.4 721.5 2444.4 743.5 2443.6 733.1 2444.4 720.5 2444.4 733.9 2444.2 727.1 2419.1 730.3 2444.4 722.6 2442.2 723.3 2426.5 734.2 2444.4 741.0 2440.2 728.4 2440.1 740.1 2444.4 721.5 2436.2 727.9 2444.4 735.6 2444.2 727.2 2443.0 743.7 2438.0 733.3 2443.4 737.6 2430.4 721.3 2423.0 727.1 2444.4 728.2 2444.4 733.5 2438.7 720.6 2444.4 726.4 2444.4 725.5 2444.4 742.0 2444.4 736.2 2443.6 727.5 2390.1 726.5 2442.1 738.5 2444.4 728.5 2444.4 726.5 2444.2 738.3 2442.7 734.8 2422.5 739.6 2442.4 723.7 2439.2 726.2 2442.6 733.5 2441.9 739.9 2444.4 738.1 2442.6 729.5 2442.4 730.9 2441.8 731.9 2442.4 742.6 2443.8 743.4 2436.9 729.6 2442.8 722.3 2444.4 720.9 2439.8 732.3 2442.7 723.9 2444.4 721.1 2441.9 738.4 2444.4 727.1 2397.3 743.0 2422.4 728.9 2442.8 720.3 2424.7 741.6 2436.8 738.4 2444.4 734.5 2439.4 720.4 2444.4 723.4 2422.1 738.3 2444.4 724.9 2444.4 740.9 2442.5 721.0 2444.4 725.9 2444.4 733.5 2437.8 738.9 2440.8 736.7 2436.0 729.2 2436.7 727.1 2442.2 728.6 2436.7 739.9 2444.4 736.8 2444.4 738.8 2444.4 727.8 2442.6 723.6 2441.5 728.0 2439.4 727.1 2444.4 728.2 2444.4 824.2 2444.2 840.0 2444.4 834.2 2444.2 820.9 2442.5 840.4 2444.4 828.7 2444.4 826.9 2443.7 819.5 2443.9 839.0 2444.0 828.9 2444.4 819.7 2444.4 839.1 2442.9 827.0 2444.4 828.7 2444.0 828.6 2442.3 817.2 2444.4 821.3 2442.8 823.1 2442.9 828.2 2443.9 836.7 2444.4 832.0 2442.6 836.8 2444.2 836.1 2443.7 828.8 2444.4 826.6 2444.3 825.9 2444.4 828.1 2443.2 835.4 2444.3 833.1 2442.8 840.3 2443.4 836.8 2443.6 830.7 2442.9 821.1 2444.4 837.5 2444.2 820.6 2444.2 817.4 2442.5 827.8 2443.7 829.9 2444.4 830.4 2444.3 835.0 2444.2 819.7 2443.3 833.3 2444.4 817.1 2442.9 825.8 2442.6 839.5 2444.4 835.7 2442.2 828.5 2443.2 826.3 2444.4 821.9 2442.9 833.5 2443.3 832.9 2443.0 821.6 2443.1 825.3 2443.1 838.6 2443.4 833.8 2444.4 816.7 2444.4 837.1 2443.8 828.9 2443.5 827.1 2444.2 827.2 2443.4 827.0 2443.1 830.3 2444.3 818.0 2444.4 833.5 2443.4 824.2 2444.4 824.6 2444.4 836.6 2443.1 834.9 2444.4 834.8 2444.4 832.2 2444.4 834.0 2443.6 820.8 2443.1 834.3 2444.2 820.9 2443.3 832.6 2444.0 823.3 2443.8 826.8 2443.1 828.0 2444.4 829.8 2444.4 822.7 2443.3 835.9 2444.1 828.1 2444.4 819.0 2442.3 834.0 2443.4 832.0 2444.3 837.0 2444.2 837.5 2443.5 823.2 2443.5 818.5 2444.4 827.2 2444.3 821.5 2444.1 838.9 2444.2 824.1 2444.2 839.1 2444.4 834.2 2444.1 839.2 2444.2 829.9 2444.4 824.2 2443.7 835.4 2444.0 823.8 2443.4 838.5 2444.2 818.2 2444.4 827.2 2444.4 836.0 2443.2 833.5 2444.4 821.4 2442.7 834.0 2443.4 816.7 2444.2 829.1 2444.4 823.0 2442.8 830.9 2443.9 823.9 2444.3 818.0 2444.3 838.8 2443.2 832.1 2444.2 828.9 2443.9 833.5 2444.2 823.2 2444.3 836.9 2444.4 826.6 2443.8 912.9 2444.4 920.9 2444.4 929.1 2444.4 932.4 2443.7 934.1 2443.7 935.4 2444.2 922.8 2444.4 932.7 2444.4 922.9 2444.3 928.1 2444.4 925.2 2443.8 924.7 2444.4 932.6 2443.8 922.7 2443.1 924.7 2444.4 933.2 2444.0 920.6 2444.4 932.4 2444.4 927.6 2443.4 920.4 2444.4 936.4 2443.9 919.3 2444.4 919.9 2444.4 933.9 2444.4 936.6 2444.4 924.5 2443.8 934.2 2444.4 918.5 2444.4 922.3 2444.4 928.9 2444.4 918.3 2443.9 924.5 2444.4 930.6 2444.1 933.0 2444.4 927.4 2444.2 927.1 2443.5 932.1 2444.2 917.1 2444.4 928.6 2444.4 930.1 2444.4 927.9 2444.3 918.5 2444.0 936.7 2443.9 914.4 2444.4 924.1 2444.4 923.9 2444.4 930.3 2444.3 918.6 2444.4 919.7 2444.0 931.6 2444.4 926.2 2443.7 935.5 2444.3 912.9 2444.4 929.6 2443.7 922.4 2443.6 932.1 2444.4 936.6 2443.8 918.9 2444.4 924.1 2444.4 922.7 2444.4 916.9 2444.2 934.5 2444.4 929.5 2444.4 935.2 2444.4 932.7 2444.4 928.8 2444.4 917.7 2444.4 917.3 2443.9 927.4 2444.4 924.5 2444.4 929.6 2444.0 930.2 2443.8 914.0 2444.4 916.0 2444.2 927.7 2443.9 922.7 2444.4 932.7 2444.4 918.4 2444.4 916.6 2444.4 926.0 2444.4 926.3 2443.6 933.2 2444.3 925.8 2444.4 932.2 2443.9 932.5 2444.4 917.5 2444.2 917.9 2443.6 931.5 2444.0 920.2 2443.4 917.1 2444.4 932.2 2444.2 935.9 2443.8 916.2 2444.4 934.2 2444.4 928.2 2444.4 916.0 2444.0 1026.5 2443.0 1017.9 2442.8 1011.7 2442.4 1026.2 2443.4 1018.8 2443.8 1010.9 2444.4 1012.3 2442.4 1029.4 2444.4 1014.8 2441.7 1030.9 2443.9 1020.2 2444.4 1019.3 2443.9 1021.7 2444.3 1018.1 2443.9 1017.1 2443.8 1021.6 2437.5 1010.3 2443.5 1028.2 2442.1 1022.3 2444.4 1030.9 2442.4 1017.7 2443.0 1031.4 2444.2 1009.4 2440.9 1029.5 2443.7 1009.8 2433.5 1018.3 2443.3 1024.9 2442.7 1014.3 2440.6 1032.4 2443.7 1024.5 2440.3 1011.7 2443.0 1016.7 2442.1 1021.9 2438.8 1027.8 2442.9 1026.0 2443.8 1033.0 2442.3 1030.7 2443.3 1019.3 2443.1 1023.1 2444.1 1010.3 2439.4 1028.7 2442.5 1027.4 2442.7 1011.7 2444.3 1029.1 2444.1 1032.1 2442.7 1029.3 2444.4 1018.7 2441.7 1022.3 2444.4 1012.7 2443.6 1016.0 2443.2 1018.7 2438.0 1019.3 2441.7 1014.8 2440.1 1015.6 2443.5 1022.0 2443.7 1019.0 2444.4 1009.7 2440.8 1011.1 2444.4 1025.2 2437.8 1016.9 2444.4 1023.4 2444.4 1025.1 2444.4 1021.7 2440.0 1031.1 2437.0 1032.8 2443.2 1016.2 2444.4 1030.8 2444.3 1018.9 2443.1 1030.9 2444.4 1020.3 2444.4 1021.5 2443.4 1029.4 2444.4 1029.7 2442.9 1021.3 2442.2 1026.1 2434.7 1020.1 2439.6 1023.8 2444.4 1016.9 2444.4 1011.1 2443.5 1027.8 2444.4 1009.8 2440.8 1026.4 2443.3 1018.9 2439.0 1015.0 2441.7 1027.3 2444.4 1017.9 2444.4 1013.5 2442.5 1013.9 2440.1 1013.6 2442.7 1027.9 2443.6 1016.8 2443.3 1010.7 2444.3 1028.0 2444.1 1017.4 2444.4 1013.3 2443.5 1011.1 2444.4 1012.6 2442.6 1026.1 2444.4 1013.3 2443.7 1024.0 2444.2 1017.3 2443.4 1019.8 2436.3 1018.1 2439.9 1031.5 2444.4 1024.4 2444.3 1023.8 2443.2 1020.4 2444.2 1020.2 2442.3 1019.9 2443.6 1019.3 2443.5 1016.2 2441.1 1010.6 2442.5 1025.7 2444.0 1009.2 2443.6 1020.7 2441.4 1026.7 2444.4 1012.0 2443.6 1015.5 2444.2 1017.3 2438.9 1013.2 2443.5 1027.5 2441.5 1012.4 2442.9 1012.2 2444.4 1011.5 2442.8 1030.2 2443.5 1016.2 2444.4 1028.6 2441.8 1012.0 2437.1 1026.9 2443.8 1011.9 2438.9 1029.0 2444.0 1010.5 2444.4 251.5 2067.0 250.5 2212.3 443.3 2281.2" fill="none" stroke="none" marker-start="url(#mk2)" marker-mid="url(#mk2)" marker-end="url(#mk2)"/>
<line x1="94.5" y1="2011" x2="94.5" y2="2029" stroke="#888" stroke-width="1"/>
<rect x="85.7" y="2014" width="17.7" height="12" fill="#FF80FF" stroke="#666" stroke-width="0.9"/>
<line x1="85.7" y1="2020" x2="103.4" y2="2020" stroke="#333" stroke-width="1"/>
<circle cx="94.5" cy="2020" r="2" fill="#fff" stroke="#222" stroke-width="0.8"/>
<line x1="94.5" y1="2033.2" x2="94.5" y2="2051.2" stroke="#888" stroke-width="1"/>
<rect x="85.7" y="2036.2" width="17.7" height="12" fill="#00D06A" stroke="#666" stroke-width="0.9"/>
<line x1="85.7" y1="2042.2" x2="103.4" y2="2042.2" stroke="#333" stroke-width="1"/>
<circle cx="94.5" cy="2042.2" r="2" fill="#fff" stroke="#222" stroke-width="0.8"/>
<text x="115.6" y="2026.7" font-size="23.2">Long-term healthy group</text>
<text x="115.6" y="2050.7" font-size="23.2">Chronic insomnia group</text>
<path d="M500.6 2363.5V2340.2H538.6V2396.8" fill="none" stroke="#222" stroke-width="1.3"/>
<text x="511.6" y="2337.5" font-size="24" text-anchor="middle">*</text>
<path d="M524.6 2312.5V2331M519.1 2322L524.6 2331L530.1 2322" fill="none" stroke="#222" stroke-width="1.3"/>
<text x="474.7" y="2294" font-size="24.2"><tspan font-style="italic">p</tspan> = 0.029</text>
<path d="M595.6 1999.7V1977.5H633.5V2071.2" fill="none" stroke="#222" stroke-width="1.3"/>
<text x="614.9" y="1980" font-size="24" text-anchor="middle">*</text>
<path d="M623.2 1949.9V1971.5M617.7 1962.5L623.2 1971.5L628.7 1962.5" fill="none" stroke="#222" stroke-width="1.3"/>
<text x="495" y="1969.4" font-size="24.2"><tspan font-style="italic">p</tspan> = 0.035</text>
<path d="M694.7 2354.5V2332.2H732.9V2354.5" fill="none" stroke="#222" stroke-width="1.3"/>
<text x="706.3" y="2335" font-size="24" text-anchor="middle">*</text>
<path d="M721.3 2326.3V2306.3M715.8 2315.3L721.3 2306.3L726.8 2315.3" fill="none" stroke="#222" stroke-width="1.3"/>
<text x="672.4" y="2288" font-size="24.2"><tspan font-style="italic">p</tspan> = 0.046</text>
<path d="M791.1 2434.3V2411.7H830V2434.3" fill="none" stroke="#222" stroke-width="1.3"/>
<text x="806.1" y="2413" font-size="24" text-anchor="middle">*</text>
<path d="M819.4 2406V2386M813.9 2395L819.4 2386L824.9 2395" fill="none" stroke="#222" stroke-width="1.3"/>
<text x="766.2" y="2365.5" font-size="24.2"><tspan font-style="italic">p</tspan> = 0.046</text>
<path d="M983 2384.5V2361.8H1021.3V2403.7" fill="none" stroke="#222" stroke-width="1.3"/>
<text x="999" y="2363.2" font-size="24" text-anchor="middle">*</text>
<path d="M1009.6 2331.2V2351.9M1004.1 2342.9L1009.6 2351.9L1015.1 2342.9" fill="none" stroke="#222" stroke-width="1.3"/>
<text x="955.7" y="2314.6" font-size="24.2"><tspan font-style="italic">p</tspan> = 0.039</text>
<text x="1082.5" y="1953.5" font-size="36" font-weight="bold">f</text>
<line x1="1266.6" y1="2060.4" x2="1426.6" y2="2048.6" stroke="#F0A030" stroke-width="4.5"/>
<line x1="1266.6" y1="2060.4" x2="1172.9" y2="2236.1" stroke="#F0A030" stroke-width="3"/>
<line x1="1266.6" y1="2060.4" x2="1203.4" y2="2350.7" stroke="#F0A030" stroke-width="3"/>
<line x1="1266.6" y1="2060.4" x2="1343.8" y2="2434.4" stroke="#F0A030" stroke-width="3"/>
<line x1="1426.6" y1="2048.6" x2="1172.9" y2="2236.1" stroke="#F0A030" stroke-width="3"/>
<line x1="1426.6" y1="2048.6" x2="1203.4" y2="2350.7" stroke="#F0A030" stroke-width="3"/>
<line x1="1426.6" y1="2048.6" x2="1343.8" y2="2434.4" stroke="#F0A030" stroke-width="3"/>
<line x1="1172.9" y1="2236.1" x2="1203.4" y2="2350.7" stroke="#F0A030" stroke-width="3.5"/>
<line x1="1172.9" y1="2236.1" x2="1343.8" y2="2434.4" stroke="#F0A030" stroke-width="4.5"/>
<line x1="1203.4" y1="2350.7" x2="1343.8" y2="2434.4" stroke="#F0A030" stroke-width="4.5"/>
<line x1="1695.6" y1="2198.1" x2="1683.8" y2="2323.3" stroke="#F0A030" stroke-width="4.5"/>
<line x1="1266.6" y1="2060.4" x2="1695.6" y2="2198.1" stroke="#1EC8F0" stroke-width="3"/>
<line x1="1266.6" y1="2060.4" x2="1683.8" y2="2323.3" stroke="#1EC8F0" stroke-width="4"/>
<line x1="1426.6" y1="2048.6" x2="1695.6" y2="2198.1" stroke="#1EC8F0" stroke-width="3"/>
<line x1="1426.6" y1="2048.6" x2="1683.8" y2="2323.3" stroke="#1EC8F0" stroke-width="3"/>
<line x1="1172.9" y1="2236.1" x2="1695.6" y2="2198.1" stroke="#1EC8F0" stroke-width="3"/>
<line x1="1172.9" y1="2236.1" x2="1683.8" y2="2323.3" stroke="#1EC8F0" stroke-width="3.5"/>
<line x1="1203.4" y1="2350.7" x2="1695.6" y2="2198.1" stroke="#1EC8F0" stroke-width="3"/>
<line x1="1203.4" y1="2350.7" x2="1683.8" y2="2323.3" stroke="#1EC8F0" stroke-width="4.5"/>
<line x1="1343.8" y1="2434.4" x2="1695.6" y2="2198.1" stroke="#1EC8F0" stroke-width="3"/>
<line x1="1343.8" y1="2434.4" x2="1683.8" y2="2323.3" stroke="#1EC8F0" stroke-width="4"/>
<circle cx="1266.6" cy="2060.4" r="32" fill="#33C8F5"/>
<circle cx="1426.6" cy="2048.6" r="32" fill="#33C8F5"/>
<circle cx="1695.6" cy="2198.1" r="32" fill="#F2A33A"/>
<circle cx="1683.8" cy="2323.3" r="32" fill="#F2A33A"/>
<circle cx="1172.9" cy="2236.1" r="32" fill="#33C8F5"/>
<circle cx="1203.4" cy="2350.7" r="32" fill="#33C8F5"/>
<circle cx="1343.8" cy="2434.4" r="32" fill="#33C8F5"/>
<text x="1302.3" y="2042" font-size="33.2" font-style="italic">Ruminococcaceae UCG-003</text>
<text x="1090.9" y="2070.4" font-size="33.2" font-style="italic">Ruminococcaceae UCG-002</text>
<text x="1651" y="2208.6" font-size="32.6">NorCA</text>
<text x="1644.5" y="2335" font-size="32.6">MCA</text>
<text x="1141" y="2247" font-size="32.6">LCA</text>
<text x="1157.6" y="2361.6" font-size="32.6">UDCA</text>
<text x="1295.8" y="2446.6" font-size="32.6">IsoLCA</text>
</svg></body></html>
